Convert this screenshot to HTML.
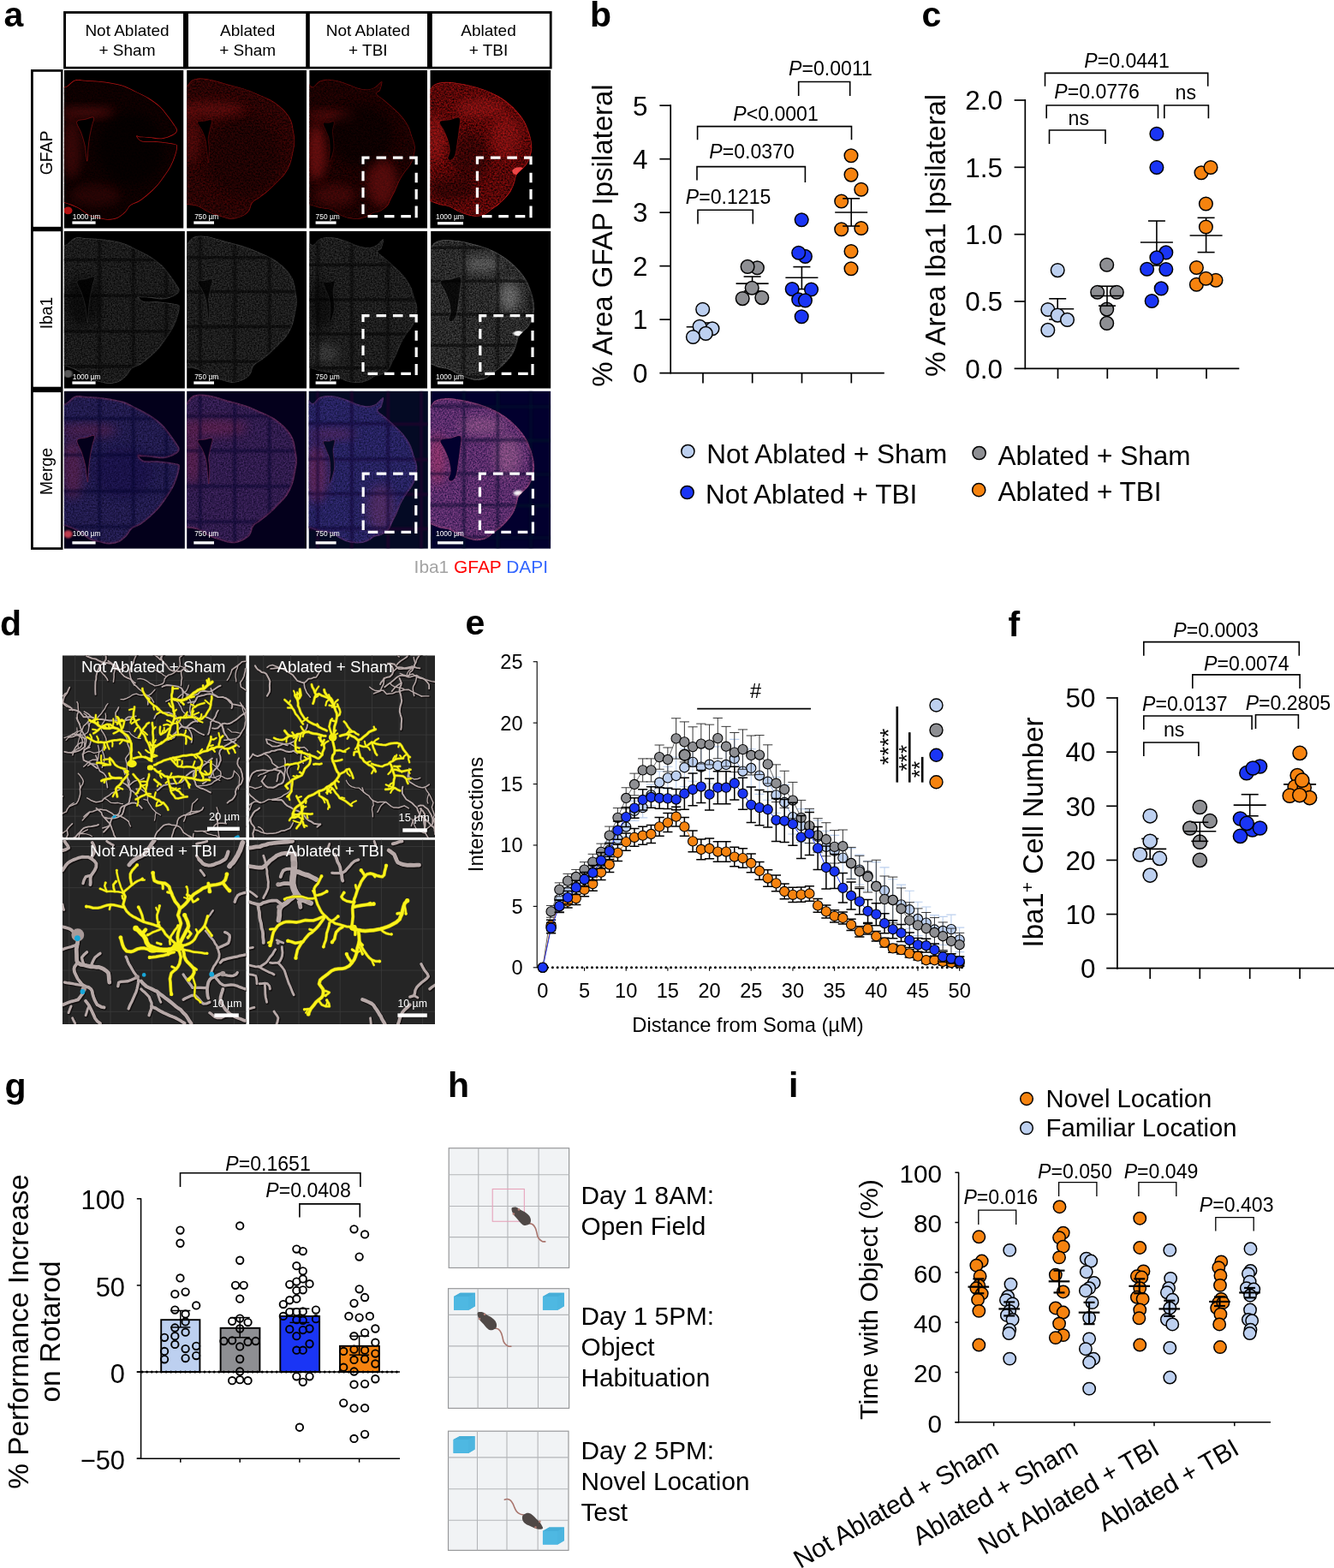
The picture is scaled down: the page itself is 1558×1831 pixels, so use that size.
<!DOCTYPE html>
<html lang="en"><head><meta charset="utf-8"><title>Figure</title>
<style>
html,body{margin:0;padding:0;background:#fff;}
body{width:1558px;height:1831px;overflow:hidden;}
svg{display:block;font-family:"Liberation Sans",sans-serif;}
</style></head><body>
<svg width="1558" height="1831" viewBox="0 0 1558 1831">
<rect width="1558" height="1831" fill="#fff"/>
<text x="689" y="30.5" font-size="41" text-anchor="start" fill="#000" font-weight="bold" >b</text>
<line x1="783.2" y1="122.2" x2="783.2" y2="436.6" stroke="#000" stroke-width="1.7" />
<line x1="770.4" y1="435.6" x2="1032.8" y2="435.6" stroke="#000" stroke-width="1.7" />
<line x1="770.4" y1="373.12" x2="783.2" y2="373.12" stroke="#000" stroke-width="1.7" />
<line x1="770.4" y1="310.64" x2="783.2" y2="310.64" stroke="#000" stroke-width="1.7" />
<line x1="770.4" y1="248.16" x2="783.2" y2="248.16" stroke="#000" stroke-width="1.7" />
<line x1="770.4" y1="185.68" x2="783.2" y2="185.68" stroke="#000" stroke-width="1.7" />
<line x1="770.4" y1="123.2" x2="783.2" y2="123.2" stroke="#000" stroke-width="1.7" />
<text x="756.5" y="446.9" font-size="31.4" text-anchor="end" fill="#000" >0</text>
<text x="756.5" y="384.42" font-size="31.4" text-anchor="end" fill="#000" >1</text>
<text x="756.5" y="321.94" font-size="31.4" text-anchor="end" fill="#000" >2</text>
<text x="756.5" y="259.46" font-size="31.4" text-anchor="end" fill="#000" >3</text>
<text x="756.5" y="196.98" font-size="31.4" text-anchor="end" fill="#000" >4</text>
<text x="756.5" y="134.5" font-size="31.4" text-anchor="end" fill="#000" >5</text>
<line x1="821" y1="435.6" x2="821" y2="447.4" stroke="#000" stroke-width="1.7" />
<line x1="878.7" y1="435.6" x2="878.7" y2="447.4" stroke="#000" stroke-width="1.7" />
<line x1="936.5" y1="435.6" x2="936.5" y2="447.4" stroke="#000" stroke-width="1.7" />
<line x1="994.3" y1="435.6" x2="994.3" y2="447.4" stroke="#000" stroke-width="1.7" />
<text x="714.5" y="275" font-size="33" text-anchor="middle" fill="#000" transform="rotate(-90 714.5 275)" >% Area GFAP Ipsilateral</text>
<path d="M815 261.4V245.2H879.3V261.4" stroke="#000" stroke-width="1.6" fill="none" />
<text y="237.5" font-size="23.1" x="850.6" text-anchor="middle"><tspan font-style="italic">P</tspan>=0.1215</text>
<path d="M814 210.5V194.6H940.4V213" stroke="#000" stroke-width="1.6" fill="none" />
<text y="185.4" font-size="23.1" x="878" text-anchor="middle"><tspan font-style="italic">P</tspan>=0.0370</text>
<path d="M814.6 163.3V147.6H994.5V163.3" stroke="#000" stroke-width="1.6" fill="none" />
<text y="140.7" font-size="23.1" x="906" text-anchor="middle"><tspan font-style="italic">P</tspan>&lt;0.0001</text>
<path d="M932.7 112V95.5H992.7V112" stroke="#000" stroke-width="1.6" fill="none" />
<text y="88" font-size="23.1" x="970" text-anchor="middle"><tspan font-style="italic">P</tspan>=0.0011</text>
<line x1="801.7" y1="381.7" x2="839.7" y2="381.7" stroke="#000" stroke-width="1.6" />
<line x1="820.7" y1="377" x2="820.7" y2="386.5" stroke="#000" stroke-width="1.6" />
<line x1="810.7" y1="377" x2="830.7" y2="377" stroke="#000" stroke-width="1.6" />
<line x1="810.7" y1="386.5" x2="830.7" y2="386.5" stroke="#000" stroke-width="1.6" />
<circle cx="820.7" cy="361.2" r="7.8" fill="#bdd0f0" stroke="#000" stroke-width="1.5" />
<circle cx="832" cy="383.8" r="7.8" fill="#bdd0f0" stroke="#000" stroke-width="1.5" />
<circle cx="817.1" cy="381.2" r="7.8" fill="#bdd0f0" stroke="#000" stroke-width="1.5" />
<circle cx="824.3" cy="389.4" r="7.8" fill="#bdd0f0" stroke="#000" stroke-width="1.5" />
<circle cx="809.4" cy="393.5" r="7.8" fill="#bdd0f0" stroke="#000" stroke-width="1.5" />
<line x1="859.6" y1="331.1" x2="897.6" y2="331.1" stroke="#000" stroke-width="1.6" />
<line x1="878.6" y1="323" x2="878.6" y2="340" stroke="#000" stroke-width="1.6" />
<line x1="868.6" y1="323" x2="888.6" y2="323" stroke="#000" stroke-width="1.6" />
<line x1="868.6" y1="340" x2="888.6" y2="340" stroke="#000" stroke-width="1.6" />
<circle cx="884.4" cy="312.7" r="7.8" fill="#8e8f93" stroke="#000" stroke-width="1.5" />
<circle cx="873.1" cy="311.4" r="7.8" fill="#8e8f93" stroke="#000" stroke-width="1.5" />
<circle cx="878.2" cy="336.3" r="7.8" fill="#8e8f93" stroke="#000" stroke-width="1.5" />
<circle cx="867.2" cy="348.6" r="7.8" fill="#8e8f93" stroke="#000" stroke-width="1.5" />
<circle cx="889.8" cy="347.6" r="7.8" fill="#8e8f93" stroke="#000" stroke-width="1.5" />
<line x1="917.4" y1="324.2" x2="955.4" y2="324.2" stroke="#000" stroke-width="1.6" />
<line x1="936.4" y1="311.6" x2="936.4" y2="337.6" stroke="#000" stroke-width="1.6" />
<line x1="926.4" y1="311.6" x2="946.4" y2="311.6" stroke="#000" stroke-width="1.6" />
<line x1="926.4" y1="337.6" x2="946.4" y2="337.6" stroke="#000" stroke-width="1.6" />
<circle cx="936.2" cy="256.7" r="7.8" fill="#1a35f5" stroke="#000" stroke-width="1.5" />
<circle cx="940.4" cy="299.4" r="7.8" fill="#1a35f5" stroke="#000" stroke-width="1.5" />
<circle cx="932.7" cy="295.3" r="7.8" fill="#1a35f5" stroke="#000" stroke-width="1.5" />
<circle cx="925.2" cy="337.6" r="7.8" fill="#1a35f5" stroke="#000" stroke-width="1.5" />
<circle cx="947.5" cy="338" r="7.8" fill="#1a35f5" stroke="#000" stroke-width="1.5" />
<circle cx="932.7" cy="349.9" r="7.8" fill="#1a35f5" stroke="#000" stroke-width="1.5" />
<circle cx="940.4" cy="350.9" r="7.8" fill="#1a35f5" stroke="#000" stroke-width="1.5" />
<circle cx="936.2" cy="369.7" r="7.8" fill="#1a35f5" stroke="#000" stroke-width="1.5" />
<circle cx="994" cy="181.8" r="7.8" fill="#f6830f" stroke="#000" stroke-width="1.5" />
<circle cx="994" cy="204.1" r="7.8" fill="#f6830f" stroke="#000" stroke-width="1.5" />
<circle cx="1005.8" cy="221.3" r="7.8" fill="#f6830f" stroke="#000" stroke-width="1.5" />
<circle cx="982.7" cy="235" r="7.8" fill="#f6830f" stroke="#000" stroke-width="1.5" />
<circle cx="982.7" cy="267.8" r="7.8" fill="#f6830f" stroke="#000" stroke-width="1.5" />
<circle cx="1005.8" cy="266.5" r="7.8" fill="#f6830f" stroke="#000" stroke-width="1.5" />
<circle cx="994" cy="293.5" r="7.8" fill="#f6830f" stroke="#000" stroke-width="1.5" />
<circle cx="994" cy="313.7" r="7.8" fill="#f6830f" stroke="#000" stroke-width="1.5" />
<line x1="975.2" y1="248" x2="1013.2" y2="248" stroke="#000" stroke-width="1.6" />
<line x1="994.2" y1="231.8" x2="994.2" y2="264" stroke="#000" stroke-width="1.6" />
<line x1="984.2" y1="231.8" x2="1004.2" y2="231.8" stroke="#000" stroke-width="1.6" />
<line x1="984.2" y1="264" x2="1004.2" y2="264" stroke="#000" stroke-width="1.6" />
<circle cx="803.4" cy="527" r="7.6" fill="#bdd0f0" stroke="#000" stroke-width="1.5" />
<text x="825.2" y="540.5" font-size="31.5" text-anchor="start" fill="#000" >Not Ablated + Sham</text>
<circle cx="802.6" cy="575" r="7.6" fill="#1a35f5" stroke="#000" stroke-width="1.5" />
<text x="824" y="587.8" font-size="31.5" text-anchor="start" fill="#000" >Not Ablated + TBI</text>
<circle cx="1143.6" cy="529" r="7.6" fill="#8e8f93" stroke="#000" stroke-width="1.5" />
<text x="1165.4" y="542.6" font-size="31.5" text-anchor="start" fill="#000" >Ablated + Sham</text>
<circle cx="1143.2" cy="572.2" r="7.6" fill="#f6830f" stroke="#000" stroke-width="1.5" />
<text x="1165.4" y="585.3" font-size="31.5" text-anchor="start" fill="#000" >Ablated + TBI</text>
<text x="1076.5" y="30.5" font-size="41" text-anchor="start" fill="#000" font-weight="bold" >c</text>
<line x1="1197.3" y1="116" x2="1197.3" y2="431.3" stroke="#000" stroke-width="1.7" />
<line x1="1184.6" y1="430.3" x2="1447.3" y2="430.3" stroke="#000" stroke-width="1.7" />
<line x1="1184.6" y1="351.98" x2="1197.3" y2="351.98" stroke="#000" stroke-width="1.7" />
<line x1="1184.6" y1="273.65" x2="1197.3" y2="273.65" stroke="#000" stroke-width="1.7" />
<line x1="1184.6" y1="195.32" x2="1197.3" y2="195.32" stroke="#000" stroke-width="1.7" />
<line x1="1184.6" y1="117" x2="1197.3" y2="117" stroke="#000" stroke-width="1.7" />
<text x="1171" y="441.6" font-size="31.4" text-anchor="end" fill="#000" >0.0</text>
<text x="1171" y="363.28" font-size="31.4" text-anchor="end" fill="#000" >0.5</text>
<text x="1171" y="284.95" font-size="31.4" text-anchor="end" fill="#000" >1.0</text>
<text x="1171" y="206.62" font-size="31.4" text-anchor="end" fill="#000" >1.5</text>
<text x="1171" y="128.3" font-size="31.4" text-anchor="end" fill="#000" >2.0</text>
<line x1="1235.5" y1="430.3" x2="1235.5" y2="442.2" stroke="#000" stroke-width="1.7" />
<line x1="1293.3" y1="430.3" x2="1293.3" y2="442.2" stroke="#000" stroke-width="1.7" />
<line x1="1351.2" y1="430.3" x2="1351.2" y2="442.2" stroke="#000" stroke-width="1.7" />
<line x1="1409" y1="430.3" x2="1409" y2="442.2" stroke="#000" stroke-width="1.7" />
<text x="1104" y="275" font-size="33" text-anchor="middle" fill="#000" transform="rotate(-90 1104 275)" >% Area Iba1 Ipsilateral</text>
<path d="M1220.5 100.7V85.4H1410.7V100.7" stroke="#000" stroke-width="1.6" fill="none" />
<text y="79" font-size="23.1" x="1316" text-anchor="middle"><tspan font-style="italic">P</tspan>=0.0441</text>
<path d="M1222.2 138.3V123H1352.5V138.3" stroke="#000" stroke-width="1.6" fill="none" />
<text y="114.7" font-size="23.1" x="1281" text-anchor="middle"><tspan font-style="italic">P</tspan>=0.0776</text>
<path d="M1359.8 138.3V123H1411.4V138.3" stroke="#000" stroke-width="1.6" fill="none" />
<text x="1384.8" y="116.4" font-size="23.1" text-anchor="middle" fill="#000" >ns</text>
<path d="M1225.5 168V152H1291V168" stroke="#000" stroke-width="1.6" fill="none" />
<text x="1259.8" y="145.6" font-size="23.1" text-anchor="middle" fill="#000" >ns</text>
<line x1="1216.2" y1="360.8" x2="1254.2" y2="360.8" stroke="#000" stroke-width="1.6" />
<line x1="1235.2" y1="348.8" x2="1235.2" y2="373" stroke="#000" stroke-width="1.6" />
<line x1="1225.2" y1="348.8" x2="1245.2" y2="348.8" stroke="#000" stroke-width="1.6" />
<line x1="1225.2" y1="373" x2="1245.2" y2="373" stroke="#000" stroke-width="1.6" />
<circle cx="1235.2" cy="315.6" r="7.8" fill="#bdd0f0" stroke="#000" stroke-width="1.5" />
<circle cx="1223.8" cy="361.5" r="7.8" fill="#bdd0f0" stroke="#000" stroke-width="1.5" />
<circle cx="1235.2" cy="368.1" r="7.8" fill="#bdd0f0" stroke="#000" stroke-width="1.5" />
<circle cx="1246.5" cy="373.4" r="7.8" fill="#bdd0f0" stroke="#000" stroke-width="1.5" />
<circle cx="1223.8" cy="385.4" r="7.8" fill="#bdd0f0" stroke="#000" stroke-width="1.5" />
<circle cx="1292.7" cy="309.3" r="7.8" fill="#8e8f93" stroke="#000" stroke-width="1.5" />
<circle cx="1281.7" cy="341.2" r="7.8" fill="#8e8f93" stroke="#000" stroke-width="1.5" />
<circle cx="1304.3" cy="341.2" r="7.8" fill="#8e8f93" stroke="#000" stroke-width="1.5" />
<circle cx="1292.7" cy="361.1" r="7.8" fill="#8e8f93" stroke="#000" stroke-width="1.5" />
<circle cx="1292.7" cy="377.4" r="7.8" fill="#8e8f93" stroke="#000" stroke-width="1.5" />
<line x1="1274" y1="345.5" x2="1312" y2="345.5" stroke="#000" stroke-width="1.6" />
<line x1="1293" y1="334.2" x2="1293" y2="357.1" stroke="#000" stroke-width="1.6" />
<line x1="1283" y1="334.2" x2="1303" y2="334.2" stroke="#000" stroke-width="1.6" />
<line x1="1283" y1="357.1" x2="1303" y2="357.1" stroke="#000" stroke-width="1.6" />
<line x1="1331.9" y1="283" x2="1369.9" y2="283" stroke="#000" stroke-width="1.6" />
<line x1="1350.9" y1="258" x2="1350.9" y2="310" stroke="#000" stroke-width="1.6" />
<line x1="1340.9" y1="258" x2="1360.9" y2="258" stroke="#000" stroke-width="1.6" />
<line x1="1340.9" y1="310" x2="1360.9" y2="310" stroke="#000" stroke-width="1.6" />
<circle cx="1350.9" cy="156.3" r="7.8" fill="#1a35f5" stroke="#000" stroke-width="1.5" />
<circle cx="1350.9" cy="195.5" r="7.8" fill="#1a35f5" stroke="#000" stroke-width="1.5" />
<circle cx="1361.8" cy="294.9" r="7.8" fill="#1a35f5" stroke="#000" stroke-width="1.5" />
<circle cx="1350.9" cy="300.9" r="7.8" fill="#1a35f5" stroke="#000" stroke-width="1.5" />
<circle cx="1339.6" cy="314.2" r="7.8" fill="#1a35f5" stroke="#000" stroke-width="1.5" />
<circle cx="1361.8" cy="314.5" r="7.8" fill="#1a35f5" stroke="#000" stroke-width="1.5" />
<circle cx="1356.2" cy="336.9" r="7.8" fill="#1a35f5" stroke="#000" stroke-width="1.5" />
<circle cx="1345.2" cy="351.5" r="7.8" fill="#1a35f5" stroke="#000" stroke-width="1.5" />
<line x1="1389.6" y1="275" x2="1427.6" y2="275" stroke="#000" stroke-width="1.6" />
<line x1="1408.6" y1="254.3" x2="1408.6" y2="294.6" stroke="#000" stroke-width="1.6" />
<line x1="1398.6" y1="254.3" x2="1418.6" y2="254.3" stroke="#000" stroke-width="1.6" />
<line x1="1398.6" y1="294.6" x2="1418.6" y2="294.6" stroke="#000" stroke-width="1.6" />
<circle cx="1403" cy="201.8" r="7.8" fill="#f6830f" stroke="#000" stroke-width="1.5" />
<circle cx="1414" cy="195.5" r="7.8" fill="#f6830f" stroke="#000" stroke-width="1.5" />
<circle cx="1408.4" cy="238" r="7.8" fill="#f6830f" stroke="#000" stroke-width="1.5" />
<circle cx="1408.4" cy="265" r="7.8" fill="#f6830f" stroke="#000" stroke-width="1.5" />
<circle cx="1397.4" cy="312.5" r="7.8" fill="#f6830f" stroke="#000" stroke-width="1.5" />
<circle cx="1397.4" cy="332.2" r="7.8" fill="#f6830f" stroke="#000" stroke-width="1.5" />
<circle cx="1420" cy="327.2" r="7.8" fill="#f6830f" stroke="#000" stroke-width="1.5" />
<circle cx="1408.4" cy="325.2" r="7.8" fill="#f6830f" stroke="#000" stroke-width="1.5" />
<text x="1177.5" y="742.5" font-size="41" text-anchor="start" fill="#000" font-weight="bold" >f</text>
<line x1="1304.9" y1="814" x2="1304.9" y2="1131.7" stroke="#000" stroke-width="1.7" />
<line x1="1292.2" y1="1130.7" x2="1558" y2="1130.7" stroke="#000" stroke-width="1.7" />
<line x1="1292.2" y1="1067.56" x2="1304.9" y2="1067.56" stroke="#000" stroke-width="1.7" />
<line x1="1292.2" y1="1004.42" x2="1304.9" y2="1004.42" stroke="#000" stroke-width="1.7" />
<line x1="1292.2" y1="941.28" x2="1304.9" y2="941.28" stroke="#000" stroke-width="1.7" />
<line x1="1292.2" y1="878.14" x2="1304.9" y2="878.14" stroke="#000" stroke-width="1.7" />
<line x1="1292.2" y1="815" x2="1304.9" y2="815" stroke="#000" stroke-width="1.7" />
<text x="1279.5" y="1142" font-size="31.4" text-anchor="end" fill="#000" >0</text>
<text x="1279.5" y="1078.86" font-size="31.4" text-anchor="end" fill="#000" >10</text>
<text x="1279.5" y="1015.72" font-size="31.4" text-anchor="end" fill="#000" >20</text>
<text x="1279.5" y="952.58" font-size="31.4" text-anchor="end" fill="#000" >30</text>
<text x="1279.5" y="889.44" font-size="31.4" text-anchor="end" fill="#000" >40</text>
<text x="1279.5" y="826.3" font-size="31.4" text-anchor="end" fill="#000" >50</text>
<line x1="1343.2" y1="1130.7" x2="1343.2" y2="1143" stroke="#000" stroke-width="1.7" />
<line x1="1401.3" y1="1130.7" x2="1401.3" y2="1143" stroke="#000" stroke-width="1.7" />
<line x1="1459.7" y1="1130.7" x2="1459.7" y2="1143" stroke="#000" stroke-width="1.7" />
<line x1="1518.1" y1="1130.7" x2="1518.1" y2="1143" stroke="#000" stroke-width="1.7" />
<text x="1218" y="972" font-size="33" text-anchor="middle" transform="rotate(-90 1218 972)">Iba1<tspan font-size="21" dy="-11">+</tspan><tspan dy="11"> Cell Number</tspan></text>
<path d="M1335.8 765.8V749.6H1517.3V765.8" stroke="#000" stroke-width="1.6" fill="none" />
<text y="744.2" font-size="23.1" x="1420" text-anchor="middle"><tspan font-style="italic">P</tspan>=0.0003</text>
<path d="M1392.8 804.1V787.9H1518.1V804.1" stroke="#000" stroke-width="1.6" fill="none" />
<text y="783.2" font-size="23.1" x="1455.8" text-anchor="middle"><tspan font-style="italic">P</tspan>=0.0074</text>
<path d="M1335.8 852V836H1462.1V852" stroke="#000" stroke-width="1.6" fill="none" />
<text y="830.4" font-size="23.1" x="1383.8" text-anchor="middle"><tspan font-style="italic">P</tspan>=0.0137</text>
<path d="M1466.5 851V834.8H1516.4V851" stroke="#000" stroke-width="1.6" fill="none" />
<text y="828.9" font-size="23.1" x="1504.4" text-anchor="middle"><tspan font-style="italic">P</tspan>=0.2805</text>
<path d="M1335.8 882.9V867H1399.9V882.9" stroke="#000" stroke-width="1.6" fill="none" />
<text x="1371.2" y="859.9" font-size="23.1" text-anchor="middle" fill="#000" >ns</text>
<line x1="1324.2" y1="991.4" x2="1362.2" y2="991.4" stroke="#000" stroke-width="1.6" />
<line x1="1343.2" y1="979.4" x2="1343.2" y2="1003.2" stroke="#000" stroke-width="1.6" />
<line x1="1333.2" y1="979.4" x2="1353.2" y2="979.4" stroke="#000" stroke-width="1.6" />
<line x1="1333.2" y1="1003.2" x2="1353.2" y2="1003.2" stroke="#000" stroke-width="1.6" />
<circle cx="1343.2" cy="952.8" r="8.1" fill="#bdd0f0" stroke="#000" stroke-width="1.5" />
<circle cx="1343.2" cy="982.3" r="8.1" fill="#bdd0f0" stroke="#000" stroke-width="1.5" />
<circle cx="1331.4" cy="997.9" r="8.1" fill="#bdd0f0" stroke="#000" stroke-width="1.5" />
<circle cx="1354.4" cy="1002.4" r="8.1" fill="#bdd0f0" stroke="#000" stroke-width="1.5" />
<circle cx="1343.2" cy="1022.1" r="8.1" fill="#bdd0f0" stroke="#000" stroke-width="1.5" />
<circle cx="1401.3" cy="942.5" r="8.1" fill="#8e8f93" stroke="#000" stroke-width="1.5" />
<circle cx="1413.1" cy="958.7" r="8.1" fill="#8e8f93" stroke="#000" stroke-width="1.5" />
<circle cx="1389.8" cy="967" r="8.1" fill="#8e8f93" stroke="#000" stroke-width="1.5" />
<circle cx="1401.3" cy="983.2" r="8.1" fill="#8e8f93" stroke="#000" stroke-width="1.5" />
<circle cx="1401.3" cy="1004.4" r="8.1" fill="#8e8f93" stroke="#000" stroke-width="1.5" />
<line x1="1382.3" y1="970.8" x2="1420.3" y2="970.8" stroke="#000" stroke-width="1.6" />
<line x1="1401.3" y1="960.2" x2="1401.3" y2="982.3" stroke="#000" stroke-width="1.6" />
<line x1="1391.3" y1="960.2" x2="1411.3" y2="960.2" stroke="#000" stroke-width="1.6" />
<line x1="1391.3" y1="982.3" x2="1411.3" y2="982.3" stroke="#000" stroke-width="1.6" />
<line x1="1440.7" y1="940.1" x2="1478.7" y2="940.1" stroke="#000" stroke-width="1.6" />
<line x1="1459.7" y1="927.7" x2="1459.7" y2="952.8" stroke="#000" stroke-width="1.6" />
<line x1="1449.7" y1="927.7" x2="1469.7" y2="927.7" stroke="#000" stroke-width="1.6" />
<line x1="1449.7" y1="952.8" x2="1469.7" y2="952.8" stroke="#000" stroke-width="1.6" />
<circle cx="1471.5" cy="895" r="8.1" fill="#1a35f5" stroke="#000" stroke-width="1.5" />
<circle cx="1455.9" cy="902.7" r="8.1" fill="#1a35f5" stroke="#000" stroke-width="1.5" />
<circle cx="1463.3" cy="897" r="8.1" fill="#1a35f5" stroke="#000" stroke-width="1.5" />
<circle cx="1448.5" cy="956" r="8.1" fill="#1a35f5" stroke="#000" stroke-width="1.5" />
<circle cx="1462.7" cy="969" r="8.1" fill="#1a35f5" stroke="#000" stroke-width="1.5" />
<circle cx="1471.5" cy="967" r="8.1" fill="#1a35f5" stroke="#000" stroke-width="1.5" />
<circle cx="1456.2" cy="961.4" r="8.1" fill="#1a35f5" stroke="#000" stroke-width="1.5" />
<circle cx="1448.5" cy="976.4" r="8.1" fill="#1a35f5" stroke="#000" stroke-width="1.5" />
<line x1="1499.1" y1="915.9" x2="1537.1" y2="915.9" stroke="#000" stroke-width="1.6" />
<line x1="1518.1" y1="911" x2="1518.1" y2="921" stroke="#000" stroke-width="1.6" />
<line x1="1508.1" y1="911" x2="1528.1" y2="911" stroke="#000" stroke-width="1.6" />
<line x1="1508.1" y1="921" x2="1528.1" y2="921" stroke="#000" stroke-width="1.6" />
<circle cx="1518.1" cy="879.4" r="8.1" fill="#f6830f" stroke="#000" stroke-width="1.5" />
<circle cx="1515.2" cy="905.6" r="8.1" fill="#f6830f" stroke="#000" stroke-width="1.5" />
<circle cx="1512.2" cy="918.9" r="8.1" fill="#f6830f" stroke="#000" stroke-width="1.5" />
<circle cx="1523.2" cy="919.8" r="8.1" fill="#f6830f" stroke="#000" stroke-width="1.5" />
<circle cx="1520.8" cy="911.2" r="8.1" fill="#f6830f" stroke="#000" stroke-width="1.5" />
<circle cx="1506.3" cy="929.2" r="8.1" fill="#f6830f" stroke="#000" stroke-width="1.5" />
<circle cx="1529.6" cy="931.6" r="8.1" fill="#f6830f" stroke="#000" stroke-width="1.5" />
<circle cx="1517.8" cy="928.6" r="8.1" fill="#f6830f" stroke="#000" stroke-width="1.5" />
<text x="543.5" y="741.2" font-size="41" text-anchor="start" fill="#000" font-weight="bold" >e</text>
<line x1="627.2" y1="772.2" x2="627.2" y2="1130.3" stroke="#000" stroke-width="1.1" />
<line x1="622.7" y1="1129.8" x2="627.2" y2="1129.8" stroke="#000" stroke-width="1.1" />
<text x="610.6" y="1138.2" font-size="23.6" text-anchor="end" fill="#000" >0</text>
<line x1="622.7" y1="1058.38" x2="627.2" y2="1058.38" stroke="#000" stroke-width="1.1" />
<text x="610.6" y="1066.78" font-size="23.6" text-anchor="end" fill="#000" >5</text>
<line x1="622.7" y1="986.96" x2="627.2" y2="986.96" stroke="#000" stroke-width="1.1" />
<text x="610.6" y="995.36" font-size="23.6" text-anchor="end" fill="#000" >10</text>
<line x1="622.7" y1="915.54" x2="627.2" y2="915.54" stroke="#000" stroke-width="1.1" />
<text x="610.6" y="923.94" font-size="23.6" text-anchor="end" fill="#000" >15</text>
<line x1="622.7" y1="844.12" x2="627.2" y2="844.12" stroke="#000" stroke-width="1.1" />
<text x="610.6" y="852.52" font-size="23.6" text-anchor="end" fill="#000" >20</text>
<line x1="622.7" y1="772.7" x2="627.2" y2="772.7" stroke="#000" stroke-width="1.1" />
<text x="610.6" y="781.1" font-size="23.6" text-anchor="end" fill="#000" >25</text>
<line x1="633.85" y1="1129.8" x2="1124.15" y2="1129.8" stroke="#000" stroke-width="3" stroke-dasharray="0.01 5.75" stroke-linecap="round"/>
<line x1="633.85" y1="1129.8" x2="633.85" y2="1133.8" stroke="#000" stroke-width="1.1" />
<text x="633.85" y="1164.8" font-size="23.6" text-anchor="middle" fill="#000" >0</text>
<line x1="682.53" y1="1129.8" x2="682.53" y2="1133.8" stroke="#000" stroke-width="1.1" />
<text x="682.53" y="1164.8" font-size="23.6" text-anchor="middle" fill="#000" >5</text>
<line x1="731.21" y1="1129.8" x2="731.21" y2="1133.8" stroke="#000" stroke-width="1.1" />
<text x="731.21" y="1164.8" font-size="23.6" text-anchor="middle" fill="#000" >10</text>
<line x1="779.89" y1="1129.8" x2="779.89" y2="1133.8" stroke="#000" stroke-width="1.1" />
<text x="779.89" y="1164.8" font-size="23.6" text-anchor="middle" fill="#000" >15</text>
<line x1="828.57" y1="1129.8" x2="828.57" y2="1133.8" stroke="#000" stroke-width="1.1" />
<text x="828.57" y="1164.8" font-size="23.6" text-anchor="middle" fill="#000" >20</text>
<line x1="877.25" y1="1129.8" x2="877.25" y2="1133.8" stroke="#000" stroke-width="1.1" />
<text x="877.25" y="1164.8" font-size="23.6" text-anchor="middle" fill="#000" >25</text>
<line x1="925.93" y1="1129.8" x2="925.93" y2="1133.8" stroke="#000" stroke-width="1.1" />
<text x="925.93" y="1164.8" font-size="23.6" text-anchor="middle" fill="#000" >30</text>
<line x1="974.61" y1="1129.8" x2="974.61" y2="1133.8" stroke="#000" stroke-width="1.1" />
<text x="974.61" y="1164.8" font-size="23.6" text-anchor="middle" fill="#000" >35</text>
<line x1="1023.29" y1="1129.8" x2="1023.29" y2="1133.8" stroke="#000" stroke-width="1.1" />
<text x="1023.29" y="1164.8" font-size="23.6" text-anchor="middle" fill="#000" >40</text>
<line x1="1071.97" y1="1129.8" x2="1071.97" y2="1133.8" stroke="#000" stroke-width="1.1" />
<text x="1071.97" y="1164.8" font-size="23.6" text-anchor="middle" fill="#000" >45</text>
<line x1="1120.65" y1="1129.8" x2="1120.65" y2="1133.8" stroke="#000" stroke-width="1.1" />
<text x="1120.65" y="1164.8" font-size="23.6" text-anchor="middle" fill="#000" >50</text>
<text x="873.5" y="1205.3" font-size="23.7" text-anchor="middle" fill="#000" >Distance from Soma (µM)</text>
<text x="564" y="951" font-size="23.7" text-anchor="middle" fill="#000" transform="rotate(-90 564 951)" >Intersections</text>
<text x="882.6" y="815" font-size="23.5" text-anchor="middle" fill="#000" >#</text>
<line x1="814.2" y1="827.6" x2="947" y2="827.6" stroke="#000" stroke-width="1.7" />
<path d="M633.85 1129.8 L643.59 1082.66 L653.32 1049.81 L663.06 1041.24 L672.79 1035.53 L682.53 1026.96 L692.27 1018.38 L702 1006.96 L711.74 992.67 L721.47 979.82 L731.21 965.53 L740.95 946.96 L750.68 943.11 L760.42 928.4 L770.15 913.68 L779.89 908.4 L789.63 905.83 L799.36 896.26 L809.1 889.83 L818.83 895.54 L828.57 892.69 L838.31 894.11 L848.04 892.97 L857.78 885.97 L867.51 900.54 L877.25 896.97 L886.99 905.54 L896.72 912.68 L906.46 928.4 L916.19 936.97 L925.93 954.11 L935.67 964.11 L945.4 965.53 L955.14 976.96 L964.87 988.82 L974.61 993.67 L984.35 1001.67 L994.08 1008.39 L1003.82 1015.53 L1013.55 1022.67 L1023.29 1034.67 L1033.03 1039.81 L1042.76 1051.24 L1052.5 1056.38 L1062.23 1062.24 L1071.97 1072.95 L1081.71 1077.66 L1091.44 1085.52 L1101.18 1086.95 L1110.91 1085.09 L1120.65 1097.38" stroke="#7f9fd8" stroke-width="1" fill="none" />
<path d="M643.59 1076.49V1088.83M637.99 1076.49h11.2M637.99 1088.83h11.2M653.32 1042.32V1057.29M647.72 1042.32h11.2M647.72 1057.29h11.2M663.06 1033.41V1049.07M657.46 1033.41h11.2M657.46 1049.07h11.2M672.79 1027.47V1043.58M667.19 1027.47h11.2M667.19 1043.58h11.2M682.53 1018.56V1035.35M676.93 1018.56h11.2M676.93 1035.35h11.2M692.27 1009.64V1027.13M686.67 1009.64h11.2M686.67 1027.13h11.2M702 997.76V1016.16M696.4 997.76h11.2M696.4 1016.16h11.2M711.74 982.9V1002.44M706.14 982.9h11.2M706.14 1002.44h11.2M721.47 969.53V990.1M715.87 969.53h11.2M715.87 990.1h11.2M731.21 954.68V976.39M725.61 954.68h11.2M725.61 976.39h11.2M740.95 935.37V958.56M735.35 935.37h11.2M735.35 958.56h11.2M750.68 931.36V954.86M745.08 931.36h11.2M745.08 954.86h11.2M760.42 916.05V940.74M754.82 916.05h11.2M754.82 940.74h11.2M770.15 900.75V926.61M764.55 900.75h11.2M764.55 926.61h11.2M779.89 895.26V921.54M774.29 895.26h11.2M774.29 921.54h11.2M789.63 884.01V927.64M784.03 884.01h11.2M784.03 927.64h11.2M799.36 874.06V918.45M793.76 874.06h11.2M793.76 918.45h11.2M809.1 867.37V912.28M803.5 867.37h11.2M803.5 912.28h11.2M818.83 873.32V917.77M813.23 873.32h11.2M813.23 917.77h11.2M828.57 870.35V915.03M822.97 870.35h11.2M822.97 915.03h11.2M838.31 871.83V916.4M832.71 871.83h11.2M832.71 916.4h11.2M848.04 870.64V915.3M842.44 870.64h11.2M842.44 915.3h11.2M857.78 863.36V908.58M852.18 863.36h11.2M852.18 908.58h11.2M867.51 878.52V922.57M861.91 878.52h11.2M861.91 922.57h11.2M877.25 874.8V919.14M871.65 874.8h11.2M871.65 919.14h11.2M886.99 883.72V927.37M881.39 883.72h11.2M881.39 927.37h11.2M896.72 891.14V934.22M891.12 891.14h11.2M891.12 934.22h11.2M906.46 907.48V949.31M900.86 907.48h11.2M900.86 949.31h11.2M916.19 916.4V957.53M910.59 916.4h11.2M910.59 957.53h11.2M925.93 934.22V973.99M920.33 934.22h11.2M920.33 973.99h11.2M935.67 944.62V983.59M930.07 944.62h11.2M930.07 983.59h11.2M945.4 946.11V984.96M939.8 946.11h11.2M939.8 984.96h11.2M955.14 957.99V995.93M949.54 957.99h11.2M949.54 995.93h11.2M964.87 970.32V1007.31M959.27 970.32h11.2M959.27 1007.31h11.2M974.61 975.37V1011.97M969.01 975.37h11.2M969.01 1011.97h11.2M984.35 983.69V1019.65M978.75 983.69h11.2M978.75 1019.65h11.2M994.08 990.67V1026.1M988.48 990.67h11.2M988.48 1026.1h11.2M1003.82 998.1V1032.95M998.22 998.1h11.2M998.22 1032.95h11.2M1013.55 1005.53V1039.81M1007.95 1005.53h11.2M1007.95 1039.81h11.2M1023.29 1006.6V1062.74M1017.69 1006.6h11.2M1017.69 1062.74h11.2M1033.03 1012.87V1066.75M1027.43 1012.87h11.2M1027.43 1066.75h11.2M1042.76 1026.81V1075.66M1037.16 1026.81h11.2M1037.16 1075.66h11.2M1052.5 1033.09V1079.67M1046.9 1033.09h11.2M1046.9 1079.67h11.2M1062.23 1040.23V1084.24M1056.63 1040.23h11.2M1056.63 1084.24h11.2M1071.97 1053.3V1092.6M1066.37 1053.3h11.2M1066.37 1092.6h11.2M1081.71 1059.05V1096.28M1076.11 1059.05h11.2M1076.11 1096.28h11.2M1091.44 1068.64V1102.4M1085.84 1068.64h11.2M1085.84 1102.4h11.2M1101.18 1070.38V1103.52M1095.58 1070.38h11.2M1095.58 1103.52h11.2M1110.91 1068.11V1102.07M1105.31 1068.11h11.2M1105.31 1102.07h11.2M1120.65 1083.1V1111.65M1115.05 1083.1h11.2M1115.05 1111.65h11.2" stroke="#bcd0ee" stroke-width="1.1" fill="none" />
<circle cx="633.85" cy="1129.8" r="5.6" fill="#bdd0f0" stroke="#000" stroke-width="1.1" />
<circle cx="643.59" cy="1082.66" r="5.6" fill="#bdd0f0" stroke="#000" stroke-width="1.1" />
<circle cx="653.32" cy="1049.81" r="5.6" fill="#bdd0f0" stroke="#000" stroke-width="1.1" />
<circle cx="663.06" cy="1041.24" r="5.6" fill="#bdd0f0" stroke="#000" stroke-width="1.1" />
<circle cx="672.79" cy="1035.53" r="5.6" fill="#bdd0f0" stroke="#000" stroke-width="1.1" />
<circle cx="682.53" cy="1026.96" r="5.6" fill="#bdd0f0" stroke="#000" stroke-width="1.1" />
<circle cx="692.27" cy="1018.38" r="5.6" fill="#bdd0f0" stroke="#000" stroke-width="1.1" />
<circle cx="702" cy="1006.96" r="5.6" fill="#bdd0f0" stroke="#000" stroke-width="1.1" />
<circle cx="711.74" cy="992.67" r="5.6" fill="#bdd0f0" stroke="#000" stroke-width="1.1" />
<circle cx="721.47" cy="979.82" r="5.6" fill="#bdd0f0" stroke="#000" stroke-width="1.1" />
<circle cx="731.21" cy="965.53" r="5.6" fill="#bdd0f0" stroke="#000" stroke-width="1.1" />
<circle cx="740.95" cy="946.96" r="5.6" fill="#bdd0f0" stroke="#000" stroke-width="1.1" />
<circle cx="750.68" cy="943.11" r="5.6" fill="#bdd0f0" stroke="#000" stroke-width="1.1" />
<circle cx="760.42" cy="928.4" r="5.6" fill="#bdd0f0" stroke="#000" stroke-width="1.1" />
<circle cx="770.15" cy="913.68" r="5.6" fill="#bdd0f0" stroke="#000" stroke-width="1.1" />
<circle cx="779.89" cy="908.4" r="5.6" fill="#bdd0f0" stroke="#000" stroke-width="1.1" />
<circle cx="789.63" cy="905.83" r="5.6" fill="#bdd0f0" stroke="#000" stroke-width="1.1" />
<circle cx="799.36" cy="896.26" r="5.6" fill="#bdd0f0" stroke="#000" stroke-width="1.1" />
<circle cx="809.1" cy="889.83" r="5.6" fill="#bdd0f0" stroke="#000" stroke-width="1.1" />
<circle cx="818.83" cy="895.54" r="5.6" fill="#bdd0f0" stroke="#000" stroke-width="1.1" />
<circle cx="828.57" cy="892.69" r="5.6" fill="#bdd0f0" stroke="#000" stroke-width="1.1" />
<circle cx="838.31" cy="894.11" r="5.6" fill="#bdd0f0" stroke="#000" stroke-width="1.1" />
<circle cx="848.04" cy="892.97" r="5.6" fill="#bdd0f0" stroke="#000" stroke-width="1.1" />
<circle cx="857.78" cy="885.97" r="5.6" fill="#bdd0f0" stroke="#000" stroke-width="1.1" />
<circle cx="867.51" cy="900.54" r="5.6" fill="#bdd0f0" stroke="#000" stroke-width="1.1" />
<circle cx="877.25" cy="896.97" r="5.6" fill="#bdd0f0" stroke="#000" stroke-width="1.1" />
<circle cx="886.99" cy="905.54" r="5.6" fill="#bdd0f0" stroke="#000" stroke-width="1.1" />
<circle cx="896.72" cy="912.68" r="5.6" fill="#bdd0f0" stroke="#000" stroke-width="1.1" />
<circle cx="906.46" cy="928.4" r="5.6" fill="#bdd0f0" stroke="#000" stroke-width="1.1" />
<circle cx="916.19" cy="936.97" r="5.6" fill="#bdd0f0" stroke="#000" stroke-width="1.1" />
<circle cx="925.93" cy="954.11" r="5.6" fill="#bdd0f0" stroke="#000" stroke-width="1.1" />
<circle cx="935.67" cy="964.11" r="5.6" fill="#bdd0f0" stroke="#000" stroke-width="1.1" />
<circle cx="945.4" cy="965.53" r="5.6" fill="#bdd0f0" stroke="#000" stroke-width="1.1" />
<circle cx="955.14" cy="976.96" r="5.6" fill="#bdd0f0" stroke="#000" stroke-width="1.1" />
<circle cx="964.87" cy="988.82" r="5.6" fill="#bdd0f0" stroke="#000" stroke-width="1.1" />
<circle cx="974.61" cy="993.67" r="5.6" fill="#bdd0f0" stroke="#000" stroke-width="1.1" />
<circle cx="984.35" cy="1001.67" r="5.6" fill="#bdd0f0" stroke="#000" stroke-width="1.1" />
<circle cx="994.08" cy="1008.39" r="5.6" fill="#bdd0f0" stroke="#000" stroke-width="1.1" />
<circle cx="1003.82" cy="1015.53" r="5.6" fill="#bdd0f0" stroke="#000" stroke-width="1.1" />
<circle cx="1013.55" cy="1022.67" r="5.6" fill="#bdd0f0" stroke="#000" stroke-width="1.1" />
<circle cx="1023.29" cy="1034.67" r="5.6" fill="#bdd0f0" stroke="#000" stroke-width="1.1" />
<circle cx="1033.03" cy="1039.81" r="5.6" fill="#bdd0f0" stroke="#000" stroke-width="1.1" />
<circle cx="1042.76" cy="1051.24" r="5.6" fill="#bdd0f0" stroke="#000" stroke-width="1.1" />
<circle cx="1052.5" cy="1056.38" r="5.6" fill="#bdd0f0" stroke="#000" stroke-width="1.1" />
<circle cx="1062.23" cy="1062.24" r="5.6" fill="#bdd0f0" stroke="#000" stroke-width="1.1" />
<circle cx="1071.97" cy="1072.95" r="5.6" fill="#bdd0f0" stroke="#000" stroke-width="1.1" />
<circle cx="1081.71" cy="1077.66" r="5.6" fill="#bdd0f0" stroke="#000" stroke-width="1.1" />
<circle cx="1091.44" cy="1085.52" r="5.6" fill="#bdd0f0" stroke="#000" stroke-width="1.1" />
<circle cx="1101.18" cy="1086.95" r="5.6" fill="#bdd0f0" stroke="#000" stroke-width="1.1" />
<circle cx="1110.91" cy="1085.09" r="5.6" fill="#bdd0f0" stroke="#000" stroke-width="1.1" />
<circle cx="1120.65" cy="1097.38" r="5.6" fill="#bdd0f0" stroke="#000" stroke-width="1.1" />
<path d="M633.85 1129.8 L643.59 1064.38 L653.32 1038.81 L663.06 1028.67 L672.79 1023.96 L682.53 1015.53 L692.27 1006.53 L702 994.82 L711.74 975.53 L721.47 954.82 L731.21 931.97 L740.95 915.97 L750.68 899.4 L760.42 899.4 L770.15 884.12 L779.89 886.97 L789.63 862.4 L799.36 866.4 L809.1 872.12 L818.83 868.55 L828.57 869.55 L838.31 862.12 L848.04 871.69 L857.78 878.54 L867.51 875.12 L877.25 881.97 L886.99 881.54 L896.72 892.4 L906.46 914.68 L916.19 921.82 L925.93 934.54 L935.67 954.82 L945.4 964.39 L955.14 975.39 L964.87 980.25 L974.61 988.82 L984.35 988.25 L994.08 1007.96 L1003.82 1017.53 L1013.55 1023.96 L1023.29 1035.1 L1033.03 1050.1 L1042.76 1050.95 L1052.5 1061.24 L1062.23 1074.66 L1071.97 1080.38 L1081.71 1084.09 L1091.44 1088.95 L1101.18 1093.23 L1110.91 1098.95 L1120.65 1103.23" stroke="#666" stroke-width="1" fill="none" />
<path d="M643.59 1057.48V1071.28M637.99 1057.48h11.2M637.99 1071.28h11.2M653.32 1030.89V1046.74M647.72 1030.89h11.2M647.72 1046.74h11.2M663.06 1020.34V1037M657.46 1020.34h11.2M657.46 1037h11.2M672.79 1015.44V1032.47M667.19 1015.44h11.2M667.19 1032.47h11.2M682.53 1006.67V1024.38M676.93 1006.67h11.2M676.93 1024.38h11.2M692.27 997.31V1015.75M686.67 997.31h11.2M686.67 1015.75h11.2M702 985.13V1004.5M696.4 985.13h11.2M696.4 1004.5h11.2M711.74 965.08V985.99M706.14 965.08h11.2M706.14 985.99h11.2M721.47 943.54V966.11M715.87 943.54h11.2M715.87 966.11h11.2M731.21 919.77V944.17M725.61 919.77h11.2M725.61 944.17h11.2M740.95 903.13V928.81M735.35 903.13h11.2M735.35 928.81h11.2M750.68 885.9V912.9M745.08 885.9h11.2M745.08 912.9h11.2M760.42 885.9V912.9M754.82 885.9h11.2M754.82 912.9h11.2M770.15 870V898.23M764.55 870h11.2M764.55 898.23h11.2M779.89 872.97V900.97M774.29 872.97h11.2M774.29 900.97h11.2M789.63 838.76V886.05M784.03 838.76h11.2M784.03 886.05h11.2M799.36 842.9V889.91M793.76 842.9h11.2M793.76 889.91h11.2M809.1 848.81V895.42M803.5 848.81h11.2M803.5 895.42h11.2M818.83 845.12V891.97M813.23 845.12h11.2M813.23 891.97h11.2M828.57 846.15V892.94M822.97 846.15h11.2M822.97 892.94h11.2M838.31 838.46V885.77M832.71 838.46h11.2M832.71 885.77h11.2M848.04 848.37V895.01M842.44 848.37h11.2M842.44 895.01h11.2M857.78 855.47V901.62M852.18 855.47h11.2M852.18 901.62h11.2M867.51 851.92V898.31M861.91 851.92h11.2M861.91 898.31h11.2M877.25 859.01V904.93M871.65 859.01h11.2M871.65 904.93h11.2M886.99 858.57V904.52M881.39 858.57h11.2M881.39 904.52h11.2M896.72 869.81V914.99M891.12 869.81h11.2M891.12 914.99h11.2M906.46 892.87V936.5M900.86 892.87h11.2M900.86 936.5h11.2M916.19 900.26V943.39M910.59 900.26h11.2M910.59 943.39h11.2M925.93 913.42V955.66M920.33 913.42h11.2M920.33 955.66h11.2M935.67 934.41V975.23M930.07 934.41h11.2M930.07 975.23h11.2M945.4 944.32V984.46M939.8 944.32h11.2M939.8 984.46h11.2M955.14 955.7V995.08M949.54 955.7h11.2M949.54 995.08h11.2M964.87 960.73V999.76M959.27 960.73h11.2M959.27 999.76h11.2M974.61 969.6V1008.04M969.01 969.6h11.2M969.01 1008.04h11.2M984.35 969.01V1007.48M978.75 969.01h11.2M978.75 1007.48h11.2M994.08 989.41V1026.51M988.48 989.41h11.2M988.48 1026.51h11.2M1003.82 999.31V1035.74M998.22 999.31h11.2M998.22 1035.74h11.2M1013.55 1005.97V1041.94M1007.95 1005.97h11.2M1007.95 1041.94h11.2M1023.29 1004.28V1065.91M1017.69 1004.28h11.2M1017.69 1065.91h11.2M1033.03 1023.03V1077.16M1027.43 1023.03h11.2M1027.43 1077.16h11.2M1042.76 1024.1V1077.81M1037.16 1024.1h11.2M1037.16 1077.81h11.2M1052.5 1036.95V1085.52M1046.9 1036.95h11.2M1046.9 1085.52h11.2M1062.23 1053.74V1095.59M1056.63 1053.74h11.2M1056.63 1095.59h11.2M1071.97 1060.88V1099.88M1066.37 1060.88h11.2M1066.37 1099.88h11.2M1081.71 1065.52V1102.66M1076.11 1065.52h11.2M1076.11 1102.66h11.2M1091.44 1071.59V1106.3M1085.84 1071.59h11.2M1085.84 1106.3h11.2M1101.18 1076.95V1109.52M1095.58 1076.95h11.2M1095.58 1109.52h11.2M1110.91 1084.09V1113.8M1105.31 1084.09h11.2M1105.31 1113.8h11.2M1120.65 1089.45V1117.02M1115.05 1089.45h11.2M1115.05 1117.02h11.2" stroke="#222" stroke-width="0.9" fill="none" />
<circle cx="633.85" cy="1129.8" r="5.6" fill="#8e8f93" stroke="#000" stroke-width="1.1" />
<circle cx="643.59" cy="1064.38" r="5.6" fill="#8e8f93" stroke="#000" stroke-width="1.1" />
<circle cx="653.32" cy="1038.81" r="5.6" fill="#8e8f93" stroke="#000" stroke-width="1.1" />
<circle cx="663.06" cy="1028.67" r="5.6" fill="#8e8f93" stroke="#000" stroke-width="1.1" />
<circle cx="672.79" cy="1023.96" r="5.6" fill="#8e8f93" stroke="#000" stroke-width="1.1" />
<circle cx="682.53" cy="1015.53" r="5.6" fill="#8e8f93" stroke="#000" stroke-width="1.1" />
<circle cx="692.27" cy="1006.53" r="5.6" fill="#8e8f93" stroke="#000" stroke-width="1.1" />
<circle cx="702" cy="994.82" r="5.6" fill="#8e8f93" stroke="#000" stroke-width="1.1" />
<circle cx="711.74" cy="975.53" r="5.6" fill="#8e8f93" stroke="#000" stroke-width="1.1" />
<circle cx="721.47" cy="954.82" r="5.6" fill="#8e8f93" stroke="#000" stroke-width="1.1" />
<circle cx="731.21" cy="931.97" r="5.6" fill="#8e8f93" stroke="#000" stroke-width="1.1" />
<circle cx="740.95" cy="915.97" r="5.6" fill="#8e8f93" stroke="#000" stroke-width="1.1" />
<circle cx="750.68" cy="899.4" r="5.6" fill="#8e8f93" stroke="#000" stroke-width="1.1" />
<circle cx="760.42" cy="899.4" r="5.6" fill="#8e8f93" stroke="#000" stroke-width="1.1" />
<circle cx="770.15" cy="884.12" r="5.6" fill="#8e8f93" stroke="#000" stroke-width="1.1" />
<circle cx="779.89" cy="886.97" r="5.6" fill="#8e8f93" stroke="#000" stroke-width="1.1" />
<circle cx="789.63" cy="862.4" r="5.6" fill="#8e8f93" stroke="#000" stroke-width="1.1" />
<circle cx="799.36" cy="866.4" r="5.6" fill="#8e8f93" stroke="#000" stroke-width="1.1" />
<circle cx="809.1" cy="872.12" r="5.6" fill="#8e8f93" stroke="#000" stroke-width="1.1" />
<circle cx="818.83" cy="868.55" r="5.6" fill="#8e8f93" stroke="#000" stroke-width="1.1" />
<circle cx="828.57" cy="869.55" r="5.6" fill="#8e8f93" stroke="#000" stroke-width="1.1" />
<circle cx="838.31" cy="862.12" r="5.6" fill="#8e8f93" stroke="#000" stroke-width="1.1" />
<circle cx="848.04" cy="871.69" r="5.6" fill="#8e8f93" stroke="#000" stroke-width="1.1" />
<circle cx="857.78" cy="878.54" r="5.6" fill="#8e8f93" stroke="#000" stroke-width="1.1" />
<circle cx="867.51" cy="875.12" r="5.6" fill="#8e8f93" stroke="#000" stroke-width="1.1" />
<circle cx="877.25" cy="881.97" r="5.6" fill="#8e8f93" stroke="#000" stroke-width="1.1" />
<circle cx="886.99" cy="881.54" r="5.6" fill="#8e8f93" stroke="#000" stroke-width="1.1" />
<circle cx="896.72" cy="892.4" r="5.6" fill="#8e8f93" stroke="#000" stroke-width="1.1" />
<circle cx="906.46" cy="914.68" r="5.6" fill="#8e8f93" stroke="#000" stroke-width="1.1" />
<circle cx="916.19" cy="921.82" r="5.6" fill="#8e8f93" stroke="#000" stroke-width="1.1" />
<circle cx="925.93" cy="934.54" r="5.6" fill="#8e8f93" stroke="#000" stroke-width="1.1" />
<circle cx="935.67" cy="954.82" r="5.6" fill="#8e8f93" stroke="#000" stroke-width="1.1" />
<circle cx="945.4" cy="964.39" r="5.6" fill="#8e8f93" stroke="#000" stroke-width="1.1" />
<circle cx="955.14" cy="975.39" r="5.6" fill="#8e8f93" stroke="#000" stroke-width="1.1" />
<circle cx="964.87" cy="980.25" r="5.6" fill="#8e8f93" stroke="#000" stroke-width="1.1" />
<circle cx="974.61" cy="988.82" r="5.6" fill="#8e8f93" stroke="#000" stroke-width="1.1" />
<circle cx="984.35" cy="988.25" r="5.6" fill="#8e8f93" stroke="#000" stroke-width="1.1" />
<circle cx="994.08" cy="1007.96" r="5.6" fill="#8e8f93" stroke="#000" stroke-width="1.1" />
<circle cx="1003.82" cy="1017.53" r="5.6" fill="#8e8f93" stroke="#000" stroke-width="1.1" />
<circle cx="1013.55" cy="1023.96" r="5.6" fill="#8e8f93" stroke="#000" stroke-width="1.1" />
<circle cx="1023.29" cy="1035.1" r="5.6" fill="#8e8f93" stroke="#000" stroke-width="1.1" />
<circle cx="1033.03" cy="1050.1" r="5.6" fill="#8e8f93" stroke="#000" stroke-width="1.1" />
<circle cx="1042.76" cy="1050.95" r="5.6" fill="#8e8f93" stroke="#000" stroke-width="1.1" />
<circle cx="1052.5" cy="1061.24" r="5.6" fill="#8e8f93" stroke="#000" stroke-width="1.1" />
<circle cx="1062.23" cy="1074.66" r="5.6" fill="#8e8f93" stroke="#000" stroke-width="1.1" />
<circle cx="1071.97" cy="1080.38" r="5.6" fill="#8e8f93" stroke="#000" stroke-width="1.1" />
<circle cx="1081.71" cy="1084.09" r="5.6" fill="#8e8f93" stroke="#000" stroke-width="1.1" />
<circle cx="1091.44" cy="1088.95" r="5.6" fill="#8e8f93" stroke="#000" stroke-width="1.1" />
<circle cx="1101.18" cy="1093.23" r="5.6" fill="#8e8f93" stroke="#000" stroke-width="1.1" />
<circle cx="1110.91" cy="1098.95" r="5.6" fill="#8e8f93" stroke="#000" stroke-width="1.1" />
<circle cx="1120.65" cy="1103.23" r="5.6" fill="#8e8f93" stroke="#000" stroke-width="1.1" />
<circle cx="799.66" cy="881.69" r="6.4" fill="#8e8f93" stroke="#000" stroke-width="1.6" />
<path d="M633.85 1129.8 L643.59 1080.52 L653.32 1058.38 L663.06 1052.67 L672.79 1049.1 L682.53 1038.81 L692.27 1032.1 L702 1018.67 L711.74 1009.53 L721.47 995.82 L731.21 983.1 L740.95 977.82 L750.68 975.68 L760.42 973.96 L770.15 965.39 L779.89 960.53 L789.63 953.68 L799.36 965.39 L809.1 982.39 L818.83 991.96 L828.57 990.96 L838.31 994.53 L848.04 994.53 L857.78 1000.53 L867.51 1002.1 L877.25 1007.96 L886.99 1016.96 L896.72 1025.53 L906.46 1031.38 L916.19 1040.95 L925.93 1044.81 L935.67 1044.67 L945.4 1043.52 L955.14 1057.38 L964.87 1064.38 L974.61 1069.81 L984.35 1071.95 L994.08 1079.81 L1003.82 1087.81 L1013.55 1084.66 L1023.29 1093.23 L1033.03 1100.66 L1042.76 1107.37 L1052.5 1109.09 L1062.23 1113.37 L1071.97 1116.66 L1081.71 1121.23 L1091.44 1121.23 L1101.18 1122.94 L1110.91 1124.09 L1120.65 1124.51" stroke="#f6830f" stroke-width="1" fill="none" />
<path d="M643.59 1074.26V1086.78M637.99 1074.26h11.2M637.99 1086.78h11.2M653.32 1051.24V1065.52M647.72 1051.24h11.2M647.72 1065.52h11.2M663.06 1045.3V1060.04M657.46 1045.3h11.2M657.46 1060.04h11.2M672.79 1041.58V1056.61M667.19 1041.58h11.2M667.19 1056.61h11.2M682.53 1030.89V1046.74M676.93 1030.89h11.2M676.93 1046.74h11.2M692.27 1023.9V1040.29M686.67 1023.9h11.2M686.67 1040.29h11.2M702 1009.94V1027.4M696.4 1009.94h11.2M696.4 1027.4h11.2M711.74 1000.43V1018.62M706.14 1000.43h11.2M706.14 1018.62h11.2M721.47 986.17V1005.46M715.87 986.17h11.2M715.87 1005.46h11.2M731.21 972.95V993.26M725.61 972.95h11.2M725.61 993.26h11.2M740.95 967.45V988.18M735.35 967.45h11.2M735.35 988.18h11.2M750.68 965.23V986.13M745.08 965.23h11.2M745.08 986.13h11.2M760.42 963.44V984.48M754.82 963.44h11.2M754.82 984.48h11.2M770.15 954.53V976.25M764.55 954.53h11.2M764.55 976.25h11.2M779.89 949.48V971.59M774.29 949.48h11.2M774.29 971.59h11.2M789.63 942.35V965.01M784.03 942.35h11.2M784.03 965.01h11.2M799.36 954.53V976.25M793.76 954.53h11.2M793.76 976.25h11.2M809.1 969.97V994.8M803.5 969.97h11.2M803.5 994.8h11.2M818.83 980.12V1003.8M813.23 980.12h11.2M813.23 1003.8h11.2M828.57 979.06V1002.86M822.97 979.06h11.2M822.97 1002.86h11.2M838.31 982.84V1006.22M832.71 982.84h11.2M832.71 1006.22h11.2M848.04 982.84V1006.22M842.44 982.84h11.2M842.44 1006.22h11.2M857.78 989.2V1011.86M852.18 989.2h11.2M852.18 1011.86h11.2M867.51 990.87V1013.33M861.91 990.87h11.2M861.91 1013.33h11.2M877.25 997.08V1018.84M871.65 997.08h11.2M871.65 1018.84h11.2M886.99 1006.61V1027.3M881.39 1006.61h11.2M881.39 1027.3h11.2M896.72 1015.7V1035.35M891.12 1015.7h11.2M891.12 1035.35h11.2M906.46 1021.91V1040.86M900.86 1021.91h11.2M900.86 1040.86h11.2M916.19 1032.05V1049.86M910.59 1032.05h11.2M910.59 1049.86h11.2M925.93 1036.14V1053.48M920.33 1036.14h11.2M920.33 1053.48h11.2M935.67 1035.99V1053.35M930.07 1035.99h11.2M930.07 1053.35h11.2M945.4 1034.78V1052.27M939.8 1034.78h11.2M939.8 1052.27h11.2M955.14 1049.46V1065.3M949.54 1049.46h11.2M949.54 1065.3h11.2M964.87 1056.88V1071.88M959.27 1056.88h11.2M959.27 1071.88h11.2M974.61 1062.64V1076.98M969.01 1062.64h11.2M969.01 1076.98h11.2M984.35 1064.91V1078.99M978.75 1064.91h11.2M978.75 1078.99h11.2M994.08 1073.24V1086.38M988.48 1073.24h11.2M988.48 1086.38h11.2M1003.82 1081.71V1093.9M998.22 1081.71h11.2M998.22 1093.9h11.2M1013.55 1078.38V1090.94M1007.95 1078.38h11.2M1007.95 1090.94h11.2M1023.29 1087.47V1099M1017.69 1087.47h11.2M1017.69 1099h11.2M1033.03 1095.34V1105.98M1027.43 1095.34h11.2M1027.43 1105.98h11.2M1042.76 1102.46V1112.29M1037.16 1102.46h11.2M1037.16 1112.29h11.2M1052.5 1104.27V1113.9M1046.9 1104.27h11.2M1046.9 1113.9h11.2M1062.23 1108.82V1117.93M1056.63 1108.82h11.2M1056.63 1117.93h11.2M1071.97 1112.3V1121.02M1066.37 1112.3h11.2M1066.37 1121.02h11.2M1081.71 1117.14V1125.31M1076.11 1117.14h11.2M1076.11 1125.31h11.2M1091.44 1117.14V1125.31M1085.84 1117.14h11.2M1085.84 1125.31h11.2M1101.18 1118.96V1126.93M1095.58 1118.96h11.2M1095.58 1126.93h11.2M1110.91 1120.17V1128M1105.31 1120.17h11.2M1105.31 1128h11.2M1120.65 1120.63V1128.4M1115.05 1120.63h11.2M1115.05 1128.4h11.2" stroke="#000" stroke-width="1.5" fill="none" />
<circle cx="633.85" cy="1129.8" r="5.6" fill="#f6830f" stroke="#000" stroke-width="1.1" />
<circle cx="643.59" cy="1080.52" r="5.6" fill="#f6830f" stroke="#000" stroke-width="1.1" />
<circle cx="653.32" cy="1058.38" r="5.6" fill="#f6830f" stroke="#000" stroke-width="1.1" />
<circle cx="663.06" cy="1052.67" r="5.6" fill="#f6830f" stroke="#000" stroke-width="1.1" />
<circle cx="672.79" cy="1049.1" r="5.6" fill="#f6830f" stroke="#000" stroke-width="1.1" />
<circle cx="682.53" cy="1038.81" r="5.6" fill="#f6830f" stroke="#000" stroke-width="1.1" />
<circle cx="692.27" cy="1032.1" r="5.6" fill="#f6830f" stroke="#000" stroke-width="1.1" />
<circle cx="702" cy="1018.67" r="5.6" fill="#f6830f" stroke="#000" stroke-width="1.1" />
<circle cx="711.74" cy="1009.53" r="5.6" fill="#f6830f" stroke="#000" stroke-width="1.1" />
<circle cx="721.47" cy="995.82" r="5.6" fill="#f6830f" stroke="#000" stroke-width="1.1" />
<circle cx="731.21" cy="983.1" r="5.6" fill="#f6830f" stroke="#000" stroke-width="1.1" />
<circle cx="740.95" cy="977.82" r="5.6" fill="#f6830f" stroke="#000" stroke-width="1.1" />
<circle cx="750.68" cy="975.68" r="5.6" fill="#f6830f" stroke="#000" stroke-width="1.1" />
<circle cx="760.42" cy="973.96" r="5.6" fill="#f6830f" stroke="#000" stroke-width="1.1" />
<circle cx="770.15" cy="965.39" r="5.6" fill="#f6830f" stroke="#000" stroke-width="1.1" />
<circle cx="779.89" cy="960.53" r="5.6" fill="#f6830f" stroke="#000" stroke-width="1.1" />
<circle cx="789.63" cy="953.68" r="5.6" fill="#f6830f" stroke="#000" stroke-width="1.1" />
<circle cx="799.36" cy="965.39" r="5.6" fill="#f6830f" stroke="#000" stroke-width="1.1" />
<circle cx="809.1" cy="982.39" r="5.6" fill="#f6830f" stroke="#000" stroke-width="1.1" />
<circle cx="818.83" cy="991.96" r="5.6" fill="#f6830f" stroke="#000" stroke-width="1.1" />
<circle cx="828.57" cy="990.96" r="5.6" fill="#f6830f" stroke="#000" stroke-width="1.1" />
<circle cx="838.31" cy="994.53" r="5.6" fill="#f6830f" stroke="#000" stroke-width="1.1" />
<circle cx="848.04" cy="994.53" r="5.6" fill="#f6830f" stroke="#000" stroke-width="1.1" />
<circle cx="857.78" cy="1000.53" r="5.6" fill="#f6830f" stroke="#000" stroke-width="1.1" />
<circle cx="867.51" cy="1002.1" r="5.6" fill="#f6830f" stroke="#000" stroke-width="1.1" />
<circle cx="877.25" cy="1007.96" r="5.6" fill="#f6830f" stroke="#000" stroke-width="1.1" />
<circle cx="886.99" cy="1016.96" r="5.6" fill="#f6830f" stroke="#000" stroke-width="1.1" />
<circle cx="896.72" cy="1025.53" r="5.6" fill="#f6830f" stroke="#000" stroke-width="1.1" />
<circle cx="906.46" cy="1031.38" r="5.6" fill="#f6830f" stroke="#000" stroke-width="1.1" />
<circle cx="916.19" cy="1040.95" r="5.6" fill="#f6830f" stroke="#000" stroke-width="1.1" />
<circle cx="925.93" cy="1044.81" r="5.6" fill="#f6830f" stroke="#000" stroke-width="1.1" />
<circle cx="935.67" cy="1044.67" r="5.6" fill="#f6830f" stroke="#000" stroke-width="1.1" />
<circle cx="945.4" cy="1043.52" r="5.6" fill="#f6830f" stroke="#000" stroke-width="1.1" />
<circle cx="955.14" cy="1057.38" r="5.6" fill="#f6830f" stroke="#000" stroke-width="1.1" />
<circle cx="964.87" cy="1064.38" r="5.6" fill="#f6830f" stroke="#000" stroke-width="1.1" />
<circle cx="974.61" cy="1069.81" r="5.6" fill="#f6830f" stroke="#000" stroke-width="1.1" />
<circle cx="984.35" cy="1071.95" r="5.6" fill="#f6830f" stroke="#000" stroke-width="1.1" />
<circle cx="994.08" cy="1079.81" r="5.6" fill="#f6830f" stroke="#000" stroke-width="1.1" />
<circle cx="1003.82" cy="1087.81" r="5.6" fill="#f6830f" stroke="#000" stroke-width="1.1" />
<circle cx="1013.55" cy="1084.66" r="5.6" fill="#f6830f" stroke="#000" stroke-width="1.1" />
<circle cx="1023.29" cy="1093.23" r="5.6" fill="#f6830f" stroke="#000" stroke-width="1.1" />
<circle cx="1033.03" cy="1100.66" r="5.6" fill="#f6830f" stroke="#000" stroke-width="1.1" />
<circle cx="1042.76" cy="1107.37" r="5.6" fill="#f6830f" stroke="#000" stroke-width="1.1" />
<circle cx="1052.5" cy="1109.09" r="5.6" fill="#f6830f" stroke="#000" stroke-width="1.1" />
<circle cx="1062.23" cy="1113.37" r="5.6" fill="#f6830f" stroke="#000" stroke-width="1.1" />
<circle cx="1071.97" cy="1116.66" r="5.6" fill="#f6830f" stroke="#000" stroke-width="1.1" />
<circle cx="1081.71" cy="1121.23" r="5.6" fill="#f6830f" stroke="#000" stroke-width="1.1" />
<circle cx="1091.44" cy="1121.23" r="5.6" fill="#f6830f" stroke="#000" stroke-width="1.1" />
<circle cx="1101.18" cy="1122.94" r="5.6" fill="#f6830f" stroke="#000" stroke-width="1.1" />
<circle cx="1110.91" cy="1124.09" r="5.6" fill="#f6830f" stroke="#000" stroke-width="1.1" />
<circle cx="1120.65" cy="1124.51" r="5.6" fill="#f6830f" stroke="#000" stroke-width="1.1" />
<path d="M633.85 1129.8 L643.59 1083.66 L653.32 1058.09 L663.06 1048.1 L672.79 1036.38 L682.53 1026.81 L692.27 1019.24 L702 1004.81 L711.74 994.1 L721.47 969.68 L731.21 954.11 L740.95 943.54 L750.68 933.97 L760.42 930.97 L770.15 931.97 L779.89 932.4 L789.63 933.54 L799.36 926.68 L809.1 921.82 L818.83 918.54 L828.57 927.68 L838.31 919.68 L848.04 919.68 L857.78 914.68 L867.51 926.68 L877.25 939.82 L886.99 943.11 L896.72 945.25 L906.46 957.53 L916.19 958.53 L925.93 962.25 L935.67 977.53 L945.4 973.53 L955.14 990.39 L964.87 1012.96 L974.61 1017.53 L984.35 1036.81 L994.08 1045.95 L1003.82 1052.67 L1013.55 1063.95 L1023.29 1067.66 L1033.03 1078.23 L1042.76 1085.23 L1052.5 1089.52 L1062.23 1097.8 L1071.97 1103.37 L1081.71 1104.23 L1091.44 1109.09 L1101.18 1117.23 L1110.91 1119.37 L1120.65 1122.37" stroke="#1a35f5" stroke-width="1" fill="none" />
<path d="M643.59 1077.53V1089.79M637.99 1077.53h11.2M637.99 1089.79h11.2M653.32 1050.94V1065.25M647.72 1050.94h11.2M647.72 1065.25h11.2M663.06 1040.54V1055.65M657.46 1040.54h11.2M657.46 1055.65h11.2M672.79 1028.36V1044.4M667.19 1028.36h11.2M667.19 1044.4h11.2M682.53 1018.41V1035.22M676.93 1018.41h11.2M676.93 1035.22h11.2M692.27 1010.53V1027.95M686.67 1010.53h11.2M686.67 1027.95h11.2M702 995.53V1014.1M696.4 995.53h11.2M696.4 1014.1h11.2M711.74 984.39V1003.82M706.14 984.39h11.2M706.14 1003.82h11.2M721.47 958.99V980.37M715.87 958.99h11.2M715.87 980.37h11.2M731.21 942.79V965.42M725.61 942.79h11.2M725.61 965.42h11.2M740.95 931.8V955.27M735.35 931.8h11.2M735.35 955.27h11.2M750.68 921.85V946.08M745.08 921.85h11.2M745.08 946.08h11.2M760.42 918.73V943.21M754.82 918.73h11.2M754.82 943.21h11.2M770.15 919.77V944.17M764.55 919.77h11.2M764.55 944.17h11.2M779.89 920.21V944.58M774.29 920.21h11.2M774.29 944.58h11.2M789.63 921.4V945.67M784.03 921.4h11.2M784.03 945.67h11.2M799.36 908.18V945.19M793.76 908.18h11.2M793.76 945.19h11.2M809.1 902.98V940.67M803.5 902.98h11.2M803.5 940.67h11.2M818.83 899.47V937.61M813.23 899.47h11.2M813.23 937.61h11.2M828.57 909.25V946.11M822.97 909.25h11.2M822.97 946.11h11.2M838.31 900.69V938.68M832.71 900.69h11.2M832.71 938.68h11.2M848.04 900.69V938.68M842.44 900.69h11.2M842.44 938.68h11.2M857.78 895.34V934.03M852.18 895.34h11.2M852.18 934.03h11.2M867.51 908.18V945.19M861.91 908.18h11.2M861.91 945.19h11.2M877.25 919.11V960.53M871.65 919.11h11.2M871.65 960.53h11.2M886.99 922.4V963.82M881.39 922.4h11.2M881.39 963.82h11.2M896.72 924.54V965.96M891.12 924.54h11.2M891.12 965.96h11.2M906.46 932.54V982.53M900.86 932.54h11.2M900.86 982.53h11.2M916.19 933.54V983.53M910.59 933.54h11.2M910.59 983.53h11.2M925.93 937.25V987.25M920.33 937.25h11.2M920.33 987.25h11.2M935.67 952.54V1002.53M930.07 952.54h11.2M930.07 1002.53h11.2M945.4 948.54V998.53M939.8 948.54h11.2M939.8 998.53h11.2M955.14 965.39V1015.39M949.54 965.39h11.2M949.54 1015.39h11.2M964.87 987.96V1037.95M959.27 987.96h11.2M959.27 1037.95h11.2M974.61 997.52V1037.53M969.01 997.52h11.2M969.01 1037.53h11.2M984.35 1019.51V1054.11M978.75 1019.51h11.2M978.75 1054.11h11.2M994.08 1029.93V1061.98M988.48 1029.93h11.2M988.48 1061.98h11.2M1003.82 1037.58V1067.75M998.22 1037.58h11.2M998.22 1067.75h11.2M1013.55 1050.45V1077.45M1007.95 1050.45h11.2M1007.95 1077.45h11.2M1023.29 1054.68V1080.65M1017.69 1054.68h11.2M1017.69 1080.65h11.2M1033.03 1066.73V1089.74M1027.43 1066.73h11.2M1027.43 1089.74h11.2M1042.76 1074.71V1095.76M1037.16 1074.71h11.2M1037.16 1095.76h11.2M1052.5 1079.59V1099.44M1046.9 1079.59h11.2M1046.9 1099.44h11.2M1062.23 1089.04V1106.57M1056.63 1089.04h11.2M1056.63 1106.57h11.2M1071.97 1095.39V1111.36M1066.37 1095.39h11.2M1066.37 1111.36h11.2M1081.71 1096.37V1112.1M1076.11 1096.37h11.2M1076.11 1112.1h11.2M1091.44 1101.9V1116.27M1085.84 1101.9h11.2M1085.84 1116.27h11.2M1101.18 1111.19V1123.28M1095.58 1111.19h11.2M1095.58 1123.28h11.2M1110.91 1113.63V1125.12M1105.31 1113.63h11.2M1105.31 1125.12h11.2M1120.65 1117.05V1127.7M1115.05 1117.05h11.2M1115.05 1127.7h11.2" stroke="#000" stroke-width="1.5" fill="none" />
<circle cx="633.85" cy="1129.8" r="5.6" fill="#1a35f5" stroke="#000" stroke-width="1.1" />
<circle cx="643.59" cy="1083.66" r="5.6" fill="#1a35f5" stroke="#000" stroke-width="1.1" />
<circle cx="653.32" cy="1058.09" r="5.6" fill="#1a35f5" stroke="#000" stroke-width="1.1" />
<circle cx="663.06" cy="1048.1" r="5.6" fill="#1a35f5" stroke="#000" stroke-width="1.1" />
<circle cx="672.79" cy="1036.38" r="5.6" fill="#1a35f5" stroke="#000" stroke-width="1.1" />
<circle cx="682.53" cy="1026.81" r="5.6" fill="#1a35f5" stroke="#000" stroke-width="1.1" />
<circle cx="692.27" cy="1019.24" r="5.6" fill="#1a35f5" stroke="#000" stroke-width="1.1" />
<circle cx="702" cy="1004.81" r="5.6" fill="#1a35f5" stroke="#000" stroke-width="1.1" />
<circle cx="711.74" cy="994.1" r="5.6" fill="#1a35f5" stroke="#000" stroke-width="1.1" />
<circle cx="721.47" cy="969.68" r="5.6" fill="#1a35f5" stroke="#000" stroke-width="1.1" />
<circle cx="731.21" cy="954.11" r="5.6" fill="#1a35f5" stroke="#000" stroke-width="1.1" />
<circle cx="740.95" cy="943.54" r="5.6" fill="#1a35f5" stroke="#000" stroke-width="1.1" />
<circle cx="750.68" cy="933.97" r="5.6" fill="#1a35f5" stroke="#000" stroke-width="1.1" />
<circle cx="760.42" cy="930.97" r="5.6" fill="#1a35f5" stroke="#000" stroke-width="1.1" />
<circle cx="770.15" cy="931.97" r="5.6" fill="#1a35f5" stroke="#000" stroke-width="1.1" />
<circle cx="779.89" cy="932.4" r="5.6" fill="#1a35f5" stroke="#000" stroke-width="1.1" />
<circle cx="789.63" cy="933.54" r="5.6" fill="#1a35f5" stroke="#000" stroke-width="1.1" />
<circle cx="799.36" cy="926.68" r="5.6" fill="#1a35f5" stroke="#000" stroke-width="1.1" />
<circle cx="809.1" cy="921.82" r="5.6" fill="#1a35f5" stroke="#000" stroke-width="1.1" />
<circle cx="818.83" cy="918.54" r="5.6" fill="#1a35f5" stroke="#000" stroke-width="1.1" />
<circle cx="828.57" cy="927.68" r="5.6" fill="#1a35f5" stroke="#000" stroke-width="1.1" />
<circle cx="838.31" cy="919.68" r="5.6" fill="#1a35f5" stroke="#000" stroke-width="1.1" />
<circle cx="848.04" cy="919.68" r="5.6" fill="#1a35f5" stroke="#000" stroke-width="1.1" />
<circle cx="857.78" cy="914.68" r="5.6" fill="#1a35f5" stroke="#000" stroke-width="1.1" />
<circle cx="867.51" cy="926.68" r="5.6" fill="#1a35f5" stroke="#000" stroke-width="1.1" />
<circle cx="877.25" cy="939.82" r="5.6" fill="#1a35f5" stroke="#000" stroke-width="1.1" />
<circle cx="886.99" cy="943.11" r="5.6" fill="#1a35f5" stroke="#000" stroke-width="1.1" />
<circle cx="896.72" cy="945.25" r="5.6" fill="#1a35f5" stroke="#000" stroke-width="1.1" />
<circle cx="906.46" cy="957.53" r="5.6" fill="#1a35f5" stroke="#000" stroke-width="1.1" />
<circle cx="916.19" cy="958.53" r="5.6" fill="#1a35f5" stroke="#000" stroke-width="1.1" />
<circle cx="925.93" cy="962.25" r="5.6" fill="#1a35f5" stroke="#000" stroke-width="1.1" />
<circle cx="935.67" cy="977.53" r="5.6" fill="#1a35f5" stroke="#000" stroke-width="1.1" />
<circle cx="945.4" cy="973.53" r="5.6" fill="#1a35f5" stroke="#000" stroke-width="1.1" />
<circle cx="955.14" cy="990.39" r="5.6" fill="#1a35f5" stroke="#000" stroke-width="1.1" />
<circle cx="964.87" cy="1012.96" r="5.6" fill="#1a35f5" stroke="#000" stroke-width="1.1" />
<circle cx="974.61" cy="1017.53" r="5.6" fill="#1a35f5" stroke="#000" stroke-width="1.1" />
<circle cx="984.35" cy="1036.81" r="5.6" fill="#1a35f5" stroke="#000" stroke-width="1.1" />
<circle cx="994.08" cy="1045.95" r="5.6" fill="#1a35f5" stroke="#000" stroke-width="1.1" />
<circle cx="1003.82" cy="1052.67" r="5.6" fill="#1a35f5" stroke="#000" stroke-width="1.1" />
<circle cx="1013.55" cy="1063.95" r="5.6" fill="#1a35f5" stroke="#000" stroke-width="1.1" />
<circle cx="1023.29" cy="1067.66" r="5.6" fill="#1a35f5" stroke="#000" stroke-width="1.1" />
<circle cx="1033.03" cy="1078.23" r="5.6" fill="#1a35f5" stroke="#000" stroke-width="1.1" />
<circle cx="1042.76" cy="1085.23" r="5.6" fill="#1a35f5" stroke="#000" stroke-width="1.1" />
<circle cx="1052.5" cy="1089.52" r="5.6" fill="#1a35f5" stroke="#000" stroke-width="1.1" />
<circle cx="1062.23" cy="1097.8" r="5.6" fill="#1a35f5" stroke="#000" stroke-width="1.1" />
<circle cx="1071.97" cy="1103.37" r="5.6" fill="#1a35f5" stroke="#000" stroke-width="1.1" />
<circle cx="1081.71" cy="1104.23" r="5.6" fill="#1a35f5" stroke="#000" stroke-width="1.1" />
<circle cx="1091.44" cy="1109.09" r="5.6" fill="#1a35f5" stroke="#000" stroke-width="1.1" />
<circle cx="1101.18" cy="1117.23" r="5.6" fill="#1a35f5" stroke="#000" stroke-width="1.1" />
<circle cx="1110.91" cy="1119.37" r="5.6" fill="#1a35f5" stroke="#000" stroke-width="1.1" />
<circle cx="1120.65" cy="1122.37" r="5.6" fill="#1a35f5" stroke="#000" stroke-width="1.1" />
<circle cx="1093.5" cy="823.5" r="7.5" fill="#bdd0f0" stroke="#000" stroke-width="1.4" />
<circle cx="1093.5" cy="852.6" r="7.5" fill="#8e8f93" stroke="#000" stroke-width="1.4" />
<circle cx="1093.5" cy="881.8" r="7.5" fill="#1a35f5" stroke="#000" stroke-width="1.4" />
<circle cx="1093.5" cy="913.3" r="7.5" fill="#f6830f" stroke="#000" stroke-width="1.4" />
<line x1="1047.8" y1="825" x2="1047.8" y2="913.6" stroke="#000" stroke-width="2.6" />
<line x1="1062.3" y1="855.2" x2="1062.3" y2="913.6" stroke="#000" stroke-width="2.6" />
<line x1="1077.2" y1="883.9" x2="1077.2" y2="913.6" stroke="#000" stroke-width="2.6" />
<text x="1046.6" y="871.8" font-size="27.4" text-anchor="middle" fill="#000" transform="rotate(-90 1046.6 871.8)" >****</text>
<text x="1068.5" y="885.1" font-size="26.4" text-anchor="middle" fill="#000" transform="rotate(-90 1068.5 885.1)" >***</text>
<text x="1082.6" y="898.6" font-size="25" text-anchor="middle" fill="#000" transform="rotate(-90 1082.6 898.6)" >**</text>
<text x="5.5" y="1281.5" font-size="41" text-anchor="start" fill="#000" font-weight="bold" >g</text>
<rect x="188.2" y="1541.2" width="45.2" height="60.87" fill="#bdd0f0" stroke="#000" stroke-width="1.9" />
<rect x="257.6" y="1550.8" width="45.8" height="51.27" fill="#8e8f93" stroke="#000" stroke-width="1.9" />
<rect x="327.3" y="1537" width="45.8" height="65.07" fill="#1a35f5" stroke="#000" stroke-width="1.9" />
<rect x="397" y="1571.8" width="45.9" height="30.27" fill="#f6830f" stroke="#000" stroke-width="1.9" />
<line x1="164.6" y1="1399.3" x2="164.6" y2="1703.9" stroke="#000" stroke-width="1.5" />
<line x1="159.8" y1="1703.2" x2="467" y2="1703.2" stroke="#000" stroke-width="1.5" />
<line x1="159.8" y1="1399.8" x2="164.6" y2="1399.8" stroke="#000" stroke-width="1.5" />
<text x="146" y="1412.4" font-size="30.8" text-anchor="end" fill="#000" >100</text>
<line x1="159.8" y1="1500.93" x2="164.6" y2="1500.93" stroke="#000" stroke-width="1.5" />
<text x="146" y="1513.53" font-size="30.8" text-anchor="end" fill="#000" >50</text>
<line x1="159.8" y1="1602.07" x2="164.6" y2="1602.07" stroke="#000" stroke-width="1.5" />
<text x="146" y="1614.67" font-size="30.8" text-anchor="end" fill="#000" >0</text>
<line x1="159.8" y1="1703.2" x2="164.6" y2="1703.2" stroke="#000" stroke-width="1.5" />
<text x="146" y="1715.8" font-size="30.8" text-anchor="end" fill="#000" >−50</text>
<line x1="210.8" y1="1703.2" x2="210.8" y2="1707.7" stroke="#000" stroke-width="1.5" />
<line x1="280.2" y1="1703.2" x2="280.2" y2="1707.7" stroke="#000" stroke-width="1.5" />
<line x1="349.9" y1="1703.2" x2="349.9" y2="1707.7" stroke="#000" stroke-width="1.5" />
<line x1="419.6" y1="1703.2" x2="419.6" y2="1707.7" stroke="#000" stroke-width="1.5" />
<line x1="159.8" y1="1602.07" x2="467" y2="1602.07" stroke="#000" stroke-width="1.5" />
<line x1="166" y1="1602.07" x2="467" y2="1602.07" stroke="#000" stroke-width="3" stroke-dasharray="0.01 5.6" stroke-linecap="round"/>
<text x="32.5" y="1555" font-size="33.4" text-anchor="middle" fill="#000" transform="rotate(-90 32.5 1555)" >% Performance Increase</text>
<text x="70" y="1555" font-size="33.4" text-anchor="middle" fill="#000" transform="rotate(-90 70 1555)" >on Rotarod</text>
<path d="M210.5 1385.9V1369.8H420.9V1385.9" stroke="#000" stroke-width="1.6" fill="none" />
<text y="1366.5" font-size="23.1" x="313" text-anchor="middle"><tspan font-style="italic">P</tspan>=0.1651</text>
<path d="M349.9 1421.4V1405.9H420.3V1421.4" stroke="#000" stroke-width="1.6" fill="none" />
<text y="1398.2" font-size="23.1" x="360" text-anchor="middle"><tspan font-style="italic">P</tspan>=0.0408</text>
<line x1="210.8" y1="1530.5" x2="210.8" y2="1549.9" stroke="#000" stroke-width="1.5" />
<line x1="199.3" y1="1530.5" x2="222.3" y2="1530.5" stroke="#000" stroke-width="1.5" />
<line x1="199.3" y1="1549.9" x2="222.3" y2="1549.9" stroke="#000" stroke-width="1.5" />
<line x1="280.2" y1="1538.6" x2="280.2" y2="1561.8" stroke="#000" stroke-width="1.5" />
<line x1="268.7" y1="1538.6" x2="291.7" y2="1538.6" stroke="#000" stroke-width="1.5" />
<line x1="268.7" y1="1561.8" x2="291.7" y2="1561.8" stroke="#000" stroke-width="1.5" />
<line x1="349.9" y1="1528.2" x2="349.9" y2="1544.4" stroke="#000" stroke-width="1.5" />
<line x1="338.4" y1="1528.2" x2="361.4" y2="1528.2" stroke="#000" stroke-width="1.5" />
<line x1="338.4" y1="1544.4" x2="361.4" y2="1544.4" stroke="#000" stroke-width="1.5" />
<line x1="419.6" y1="1560.2" x2="419.6" y2="1582.2" stroke="#000" stroke-width="1.5" />
<line x1="408.1" y1="1560.2" x2="431.1" y2="1560.2" stroke="#000" stroke-width="1.5" />
<line x1="408.1" y1="1582.2" x2="431.1" y2="1582.2" stroke="#000" stroke-width="1.5" />
<g fill="none" stroke="#000" stroke-width="1.9"><circle cx="210.46" cy="1436.58" r="4.2"/><circle cx="210.46" cy="1451.75" r="4.2"/><circle cx="210.46" cy="1492.42" r="4.2"/><circle cx="204.33" cy="1511.14" r="4.2"/><circle cx="216.59" cy="1508.56" r="4.2"/><circle cx="229.18" cy="1524.38" r="4.2"/><circle cx="204.33" cy="1529.54" r="4.2"/><circle cx="216.59" cy="1534.38" r="4.2"/><circle cx="216.59" cy="1543.42" r="4.2"/><circle cx="204.33" cy="1550.52" r="4.2"/><circle cx="216.59" cy="1555.69" r="4.2"/><circle cx="192.06" cy="1561.82" r="4.2"/><circle cx="204.33" cy="1560.21" r="4.2"/><circle cx="204.33" cy="1569.89" r="4.2"/><circle cx="229.18" cy="1571.83" r="4.2"/><circle cx="216.59" cy="1575.05" r="4.2"/><circle cx="192.06" cy="1577.96" r="4.2"/><circle cx="229.18" cy="1583.12" r="4.2"/><circle cx="216.59" cy="1586.03" r="4.2"/><circle cx="192.06" cy="1587.32" r="4.2"/><circle cx="280.18" cy="1431.41" r="4.2"/><circle cx="280.18" cy="1471.76" r="4.2"/><circle cx="275.02" cy="1500.81" r="4.2"/><circle cx="284.7" cy="1500.81" r="4.2"/><circle cx="280.18" cy="1516.63" r="4.2"/><circle cx="280.18" cy="1539.55" r="4.2"/><circle cx="271.14" cy="1542.78" r="4.2"/><circle cx="289.54" cy="1544.07" r="4.2"/><circle cx="280.18" cy="1551.49" r="4.2"/><circle cx="261.46" cy="1566.02" r="4.2"/><circle cx="271.14" cy="1565.37" r="4.2"/><circle cx="289.54" cy="1566.99" r="4.2"/><circle cx="298.58" cy="1566.02" r="4.2"/><circle cx="280.18" cy="1572.47" r="4.2"/><circle cx="280.18" cy="1587" r="4.2"/><circle cx="280.18" cy="1601.52" r="4.2"/><circle cx="271.14" cy="1612.18" r="4.2"/><circle cx="280.18" cy="1611.21" r="4.2"/><circle cx="289.54" cy="1612.18" r="4.2"/><circle cx="346.35" cy="1458.53" r="4.2"/><circle cx="353.78" cy="1461.11" r="4.2"/><circle cx="346.35" cy="1478.22" r="4.2"/><circle cx="353.78" cy="1484.35" r="4.2"/><circle cx="346.35" cy="1496.62" r="4.2"/><circle cx="353.78" cy="1493.39" r="4.2"/><circle cx="338.28" cy="1499.85" r="4.2"/><circle cx="361.52" cy="1499.2" r="4.2"/><circle cx="346.35" cy="1506.95" r="4.2"/><circle cx="353.78" cy="1506.3" r="4.2"/><circle cx="338.28" cy="1518.24" r="4.2"/><circle cx="346.35" cy="1516.63" r="4.2"/><circle cx="330.86" cy="1523.09" r="4.2"/><circle cx="338.28" cy="1532.12" r="4.2"/><circle cx="346.35" cy="1532.12" r="4.2"/><circle cx="353.78" cy="1531.48" r="4.2"/><circle cx="368.95" cy="1529.54" r="4.2"/><circle cx="330.86" cy="1536.97" r="4.2"/><circle cx="346.35" cy="1541.16" r="4.2"/><circle cx="353.78" cy="1541.81" r="4.2"/><circle cx="368.95" cy="1540.19" r="4.2"/><circle cx="338.28" cy="1552.14" r="4.2"/><circle cx="353.78" cy="1553.11" r="4.2"/><circle cx="361.52" cy="1551.49" r="4.2"/><circle cx="346.35" cy="1560.21" r="4.2"/><circle cx="361.52" cy="1569.24" r="4.2"/><circle cx="346.35" cy="1576.67" r="4.2"/><circle cx="353.78" cy="1576.67" r="4.2"/><circle cx="346.35" cy="1607.33" r="4.2"/><circle cx="361.52" cy="1607.33" r="4.2"/><circle cx="353.78" cy="1613.79" r="4.2"/><circle cx="349.9" cy="1666.73" r="4.2"/><circle cx="413.49" cy="1435.29" r="4.2"/><circle cx="426.08" cy="1441.42" r="4.2"/><circle cx="419.63" cy="1467.57" r="4.2"/><circle cx="419.63" cy="1505.33" r="4.2"/><circle cx="426.08" cy="1515.02" r="4.2"/><circle cx="413.49" cy="1521.79" r="4.2"/><circle cx="407.36" cy="1536.97" r="4.2"/><circle cx="419.63" cy="1538.58" r="4.2"/><circle cx="431.89" cy="1536.97" r="4.2"/><circle cx="438.35" cy="1551.49" r="4.2"/><circle cx="426.08" cy="1556.33" r="4.2"/><circle cx="413.49" cy="1560.21" r="4.2"/><circle cx="438.35" cy="1567.63" r="4.2"/><circle cx="401.23" cy="1577.96" r="4.2"/><circle cx="413.49" cy="1575.7" r="4.2"/><circle cx="426.08" cy="1576.67" r="4.2"/><circle cx="438.35" cy="1580.54" r="4.2"/><circle cx="413.49" cy="1587.97" r="4.2"/><circle cx="426.08" cy="1587" r="4.2"/><circle cx="401.23" cy="1596.68" r="4.2"/><circle cx="438.35" cy="1592.49" r="4.2"/><circle cx="413.49" cy="1601.52" r="4.2"/><circle cx="438.35" cy="1610.24" r="4.2"/><circle cx="413.49" cy="1616.69" r="4.2"/><circle cx="426.08" cy="1616.05" r="4.2"/><circle cx="401.23" cy="1638.32" r="4.2"/><circle cx="413.49" cy="1644.45" r="4.2"/><circle cx="426.08" cy="1644.13" r="4.2"/><circle cx="426.08" cy="1674.8" r="4.2"/><circle cx="413.49" cy="1679.96" r="4.2"/></g>
<text x="523" y="1281.3" font-size="41" text-anchor="start" fill="#000" font-weight="bold" >h</text>
<rect x="524.21" y="1340.71" width="140.41" height="139.77" fill="#f1f3f5" stroke="#98999b" stroke-width="1.2" />
<path d="M558.75 1340.71V1480.48M592.96 1340.71V1480.48M629.12 1340.71V1480.48M524.21 1371.7H664.62M524.21 1408.5H664.62M524.21 1444.65H664.62" stroke="#b4b6b9" stroke-width="1.1" fill="none" />
<rect x="575.21" y="1388.48" width="37.12" height="37.77" fill="none" stroke="#e6a3bb" stroke-width="1.1" />
<path d="M618.46 1428.78C619.05 1428.94 620.87 1428.89 621.99 1429.74C623.11 1430.6 624.4 1432.36 625.2 1433.92C626 1435.47 626.32 1437.34 626.8 1439.05C627.28 1440.76 627.5 1442.79 628.09 1444.18C628.68 1445.58 629.42 1446.48 630.33 1447.39C631.24 1448.3 632.47 1449.23 633.54 1449.64C634.61 1450.05 636.22 1449.8 636.75 1449.83" fill="none" stroke="#a9756d" stroke-width="1.6" stroke-linecap="round"/>
<path d="M597.6 1410.68C597.92 1409.74 599.1 1409.74 600.17 1409.65C601.24 1409.57 602.63 1409.6 604.02 1410.17C605.41 1410.73 606.8 1412.04 608.51 1413.06C610.22 1414.07 612.68 1415.14 614.29 1416.26C615.89 1417.39 617.2 1418.46 618.14 1419.79C619.08 1421.13 619.78 1422.84 619.94 1424.29C620.1 1425.73 619.83 1427.41 619.1 1428.46C618.37 1429.51 616.8 1430.2 615.57 1430.58C614.34 1430.95 612.95 1431.11 611.72 1430.71C610.49 1430.3 609.37 1429.26 608.19 1428.14C607.01 1427.02 605.89 1425.36 604.66 1423.97C603.43 1422.58 601.88 1421.24 600.81 1419.79C599.74 1418.35 598.78 1416.82 598.24 1415.3C597.71 1413.78 597.28 1411.62 597.6 1410.68Z" fill="#4f4846"/>
<circle cx="605.94" cy="1412.41" r="1.3" fill="#b58078"/>
<circle cx="599.85" cy="1417.55" r="1.3" fill="#b58078"/>
<rect x="523.56" y="1504.69" width="141.06" height="139.77" fill="#f1f3f5" stroke="#98999b" stroke-width="1.2" />
<path d="M558.1 1504.69V1644.45M592.64 1504.69V1644.45M628.47 1504.69V1644.45M523.56 1535.35H664.62M523.56 1571.83H664.62M523.56 1608.3H664.62" stroke="#b4b6b9" stroke-width="1.1" fill="none" />
<g transform="translate(530.02 1509.85)"><path d="M0 4.2L7.5 0H25V15.5L17.5 20H0Z" fill="#4ab4de"/><path d="M0 4.2H17.5V20H0Z" fill="#4eb8e2"/><path d="M17.5 4.2L25 0V15.5L17.5 20Z" fill="#4cb5df"/><path d="M0 4.2L7.5 0H25L17.5 4.2Z" fill="#46aed8"/></g>
<g transform="translate(633.96 1509.85)"><path d="M0 4.2L7.5 0H25V15.5L17.5 20H0Z" fill="#4ab4de"/><path d="M0 4.2H17.5V20H0Z" fill="#4eb8e2"/><path d="M17.5 4.2L25 0V15.5L17.5 20Z" fill="#4cb5df"/><path d="M0 4.2L7.5 0H25L17.5 4.2Z" fill="#46aed8"/></g>
<path d="M578.56 1551.18C579.15 1551.34 580.97 1551.29 582.09 1552.14C583.21 1553 584.5 1554.76 585.3 1556.32C586.1 1557.87 586.42 1559.74 586.9 1561.45C587.38 1563.16 587.6 1565.19 588.19 1566.58C588.78 1567.98 589.52 1568.88 590.43 1569.79C591.34 1570.7 592.57 1571.63 593.64 1572.04C594.71 1572.45 596.32 1572.2 596.85 1572.23" fill="none" stroke="#a9756d" stroke-width="1.6" stroke-linecap="round"/>
<path d="M557.7 1533.08C558.02 1532.14 559.2 1532.14 560.27 1532.05C561.34 1531.97 562.73 1532 564.12 1532.57C565.51 1533.13 566.9 1534.44 568.61 1535.46C570.32 1536.47 572.78 1537.54 574.39 1538.66C575.99 1539.79 577.3 1540.86 578.24 1542.19C579.18 1543.53 579.88 1545.24 580.04 1546.69C580.2 1548.13 579.93 1549.81 579.2 1550.86C578.47 1551.91 576.9 1552.6 575.67 1552.98C574.44 1553.35 573.05 1553.51 571.82 1553.11C570.59 1552.7 569.47 1551.66 568.29 1550.54C567.11 1549.42 565.99 1547.76 564.76 1546.37C563.53 1544.98 561.98 1543.64 560.91 1542.19C559.84 1540.75 558.88 1539.22 558.34 1537.7C557.81 1536.18 557.38 1534.02 557.7 1533.08Z" fill="#4f4846"/>
<circle cx="566.04" cy="1534.81" r="1.3" fill="#b58078"/>
<circle cx="559.95" cy="1539.95" r="1.3" fill="#b58078"/>
<rect x="523.52" y="1671.2" width="140.46" height="139.17" fill="#f1f3f5" stroke="#98999b" stroke-width="1.2" />
<path d="M557.46 1671.2V1810.37M591.99 1671.2V1810.37M628.15 1671.2V1810.37M523.52 1701.89H663.98M523.52 1738.71H663.98M523.52 1775.18H663.98" stroke="#b4b6b9" stroke-width="1.1" fill="none" />
<g transform="translate(529.55 1676.91)"><path d="M0 4.2L7.5 0H25V15.5L17.5 20H0Z" fill="#4ab4de"/><path d="M0 4.2H17.5V20H0Z" fill="#4eb8e2"/><path d="M17.5 4.2L25 0V15.5L17.5 20Z" fill="#4cb5df"/><path d="M0 4.2L7.5 0H25L17.5 4.2Z" fill="#46aed8"/></g>
<g transform="translate(633.96 1783.6)"><path d="M0 4.2L7.5 0H25V15.5L17.5 20H0Z" fill="#4ab4de"/><path d="M0 4.2H17.5V20H0Z" fill="#4eb8e2"/><path d="M17.5 4.2L25 0V15.5L17.5 20Z" fill="#4cb5df"/><path d="M0 4.2L7.5 0H25L17.5 4.2Z" fill="#46aed8"/></g>
<path d="M611.08 1768.83C610.44 1768.67 608.51 1768.51 607.23 1767.87C605.94 1767.23 604.45 1766.26 603.38 1764.98C602.31 1763.7 601.56 1761.72 600.81 1760.17C600.06 1758.62 599.63 1757.01 598.88 1755.67C598.13 1754.34 597.39 1753 596.32 1752.14C595.25 1751.29 593.64 1750.7 592.46 1750.54C591.29 1750.38 589.79 1751.07 589.26 1751.18" fill="none" stroke="#a9756d" stroke-width="1.6" stroke-linecap="round"/>
<path d="M633.86 1783.59C634.24 1784.77 634.02 1784.85 633.22 1785.2C632.42 1785.55 630.6 1785.87 629.05 1785.71C627.5 1785.55 625.84 1784.96 623.92 1784.24C621.99 1783.51 619.42 1782.36 617.5 1781.35C615.57 1780.33 613.59 1779.32 612.36 1778.14C611.13 1776.96 610.44 1775.68 610.12 1774.29C609.79 1772.9 609.74 1770.97 610.44 1769.79C611.13 1768.62 613 1767.68 614.29 1767.23C615.57 1766.78 616.85 1766.78 618.14 1767.1C619.42 1767.42 620.6 1768.06 621.99 1769.15C623.38 1770.24 624.99 1772.15 626.48 1773.65C627.98 1775.14 629.75 1776.48 630.98 1778.14C632.21 1779.8 633.49 1782.42 633.86 1783.59Z" fill="#4f4846"/>
<circle cx="630.33" cy="1776.85" r="1.3" fill="#b58078"/>
<circle cx="625.52" cy="1783.59" r="1.3" fill="#b58078"/>
<text x="678.47" y="1405.75" font-size="29.8" text-anchor="start" fill="#000" >Day 1 8AM:</text>
<text x="678.47" y="1441.9" font-size="29.8" text-anchor="start" fill="#000" >Open Field</text>
<text x="678.47" y="1546.81" font-size="29.8" text-anchor="start" fill="#000" >Day 1 5PM:</text>
<text x="678.47" y="1582.96" font-size="29.8" text-anchor="start" fill="#000" >Object</text>
<text x="678.47" y="1618.95" font-size="29.8" text-anchor="start" fill="#000" >Habituation</text>
<text x="678.47" y="1704.01" font-size="29.8" text-anchor="start" fill="#000" >Day 2 5PM:</text>
<text x="678.47" y="1740.32" font-size="29.8" text-anchor="start" fill="#000" >Novel Location</text>
<text x="678.47" y="1775.51" font-size="29.8" text-anchor="start" fill="#000" >Test</text>
<text x="921" y="1281.3" font-size="41" text-anchor="start" fill="#000" font-weight="bold" >i</text>
<circle cx="1199" cy="1283.1" r="7.3" fill="#f6830f" stroke="#000" stroke-width="1.5" />
<text x="1221.5" y="1292.8" font-size="29.3" text-anchor="start" fill="#000" >Novel Location</text>
<circle cx="1199" cy="1317.3" r="7.3" fill="#bdd0f0" stroke="#000" stroke-width="1.5" />
<text x="1221.5" y="1327.4" font-size="29.3" text-anchor="start" fill="#000" >Familiar Location</text>
<line x1="1119.6" y1="1368.7" x2="1119.6" y2="1661.5" stroke="#000" stroke-width="1.5" />
<line x1="1115.4" y1="1660.8" x2="1484" y2="1660.8" stroke="#000" stroke-width="1.5" />
<line x1="1115.4" y1="1660.8" x2="1119.6" y2="1660.8" stroke="#000" stroke-width="1.5" />
<text x="1100" y="1672.7" font-size="29.7" text-anchor="end" fill="#000" >0</text>
<line x1="1115.4" y1="1602.48" x2="1119.6" y2="1602.48" stroke="#000" stroke-width="1.5" />
<text x="1100" y="1614.38" font-size="29.7" text-anchor="end" fill="#000" >20</text>
<line x1="1115.4" y1="1544.16" x2="1119.6" y2="1544.16" stroke="#000" stroke-width="1.5" />
<text x="1100" y="1556.06" font-size="29.7" text-anchor="end" fill="#000" >40</text>
<line x1="1115.4" y1="1485.84" x2="1119.6" y2="1485.84" stroke="#000" stroke-width="1.5" />
<text x="1100" y="1497.74" font-size="29.7" text-anchor="end" fill="#000" >60</text>
<line x1="1115.4" y1="1427.52" x2="1119.6" y2="1427.52" stroke="#000" stroke-width="1.5" />
<text x="1100" y="1439.42" font-size="29.7" text-anchor="end" fill="#000" >80</text>
<line x1="1115.4" y1="1369.2" x2="1119.6" y2="1369.2" stroke="#000" stroke-width="1.5" />
<text x="1100" y="1381.1" font-size="29.7" text-anchor="end" fill="#000" >100</text>
<line x1="1160.6" y1="1660.8" x2="1160.6" y2="1665.3" stroke="#000" stroke-width="1.5" />
<line x1="1254.7" y1="1660.8" x2="1254.7" y2="1665.3" stroke="#000" stroke-width="1.5" />
<line x1="1348" y1="1660.8" x2="1348" y2="1665.3" stroke="#000" stroke-width="1.5" />
<line x1="1441.8" y1="1660.8" x2="1441.8" y2="1665.3" stroke="#000" stroke-width="1.5" />
<text x="1025.3" y="1517.5" font-size="30.4" text-anchor="middle" fill="#000" transform="rotate(-90 1025.3 1517.5)" >Time with Object (%)</text>
<text x="1168.5" y="1697" font-size="30.3" text-anchor="end" fill="#000" transform="rotate(-30 1168.5 1697)" >Not Ablated + Sham</text>
<text x="1261" y="1697" font-size="30.3" text-anchor="end" fill="#000" transform="rotate(-30 1261 1697)" >Ablated + Sham</text>
<text x="1356" y="1697" font-size="30.3" text-anchor="end" fill="#000" transform="rotate(-30 1356 1697)" >Not Ablated + TBI</text>
<text x="1449" y="1697" font-size="30.3" text-anchor="end" fill="#000" transform="rotate(-30 1449 1697)" >Ablated + TBI</text>
<path d="M1142.8 1430V1413.1H1186.7V1430" stroke="#000" stroke-width="1.3" fill="none" />
<text y="1406" font-size="23.1" x="1168.8" text-anchor="middle"><tspan font-style="italic">P</tspan>=0.016</text>
<path d="M1236.6 1397.1V1380.6H1280.9V1397.1" stroke="#000" stroke-width="1.3" fill="none" />
<text y="1376" font-size="23.1" x="1255.4" text-anchor="middle"><tspan font-style="italic">P</tspan>=0.050</text>
<path d="M1329.9 1397.1V1380.6H1373.8V1397.1" stroke="#000" stroke-width="1.3" fill="none" />
<text y="1376" font-size="23.1" x="1356" text-anchor="middle"><tspan font-style="italic">P</tspan>=0.049</text>
<path d="M1419.8 1437.6V1421.6H1464.2V1437.6" stroke="#000" stroke-width="1.3" fill="none" />
<text y="1415.3" font-size="23.1" x="1444.2" text-anchor="middle"><tspan font-style="italic">P</tspan>=0.403</text>
<circle cx="1143.32" cy="1444.27" r="7.2" fill="#f6830f" stroke="#000" stroke-width="1.5" />
<circle cx="1146.7" cy="1472.56" r="7.2" fill="#f6830f" stroke="#000" stroke-width="1.5" />
<circle cx="1140.36" cy="1477.63" r="7.2" fill="#f6830f" stroke="#000" stroke-width="1.5" />
<circle cx="1144.59" cy="1490.3" r="7.2" fill="#f6830f" stroke="#000" stroke-width="1.5" />
<circle cx="1143.32" cy="1501.28" r="7.2" fill="#f6830f" stroke="#000" stroke-width="1.5" />
<circle cx="1140.36" cy="1504.24" r="7.2" fill="#f6830f" stroke="#000" stroke-width="1.5" />
<circle cx="1146.7" cy="1510.57" r="7.2" fill="#f6830f" stroke="#000" stroke-width="1.5" />
<circle cx="1142.05" cy="1517.75" r="7.2" fill="#f6830f" stroke="#000" stroke-width="1.5" />
<circle cx="1143.32" cy="1530.84" r="7.2" fill="#f6830f" stroke="#000" stroke-width="1.5" />
<circle cx="1143.32" cy="1570.54" r="7.2" fill="#f6830f" stroke="#000" stroke-width="1.5" />
<line x1="1130.52" y1="1502.67" x2="1155.12" y2="1502.67" stroke="#000" stroke-width="2.2" />
<line x1="1142.82" y1="1493.38" x2="1142.82" y2="1510.27" stroke="#000" stroke-width="2.2" />
<line x1="1136.32" y1="1493.38" x2="1149.32" y2="1493.38" stroke="#000" stroke-width="2.2" />
<line x1="1136.32" y1="1510.27" x2="1149.32" y2="1510.27" stroke="#000" stroke-width="2.2" />
<circle cx="1179.22" cy="1459.89" r="7.2" fill="#bdd0f0" stroke="#000" stroke-width="1.5" />
<circle cx="1180.48" cy="1499.59" r="7.2" fill="#bdd0f0" stroke="#000" stroke-width="1.5" />
<circle cx="1177.1" cy="1513.95" r="7.2" fill="#bdd0f0" stroke="#000" stroke-width="1.5" />
<circle cx="1174.99" cy="1518.17" r="7.2" fill="#bdd0f0" stroke="#000" stroke-width="1.5" />
<circle cx="1182.59" cy="1522.39" r="7.2" fill="#bdd0f0" stroke="#000" stroke-width="1.5" />
<circle cx="1179.22" cy="1530.84" r="7.2" fill="#bdd0f0" stroke="#000" stroke-width="1.5" />
<circle cx="1175.84" cy="1535.91" r="7.2" fill="#bdd0f0" stroke="#000" stroke-width="1.5" />
<circle cx="1182.59" cy="1540.98" r="7.2" fill="#bdd0f0" stroke="#000" stroke-width="1.5" />
<circle cx="1179.22" cy="1552.8" r="7.2" fill="#bdd0f0" stroke="#000" stroke-width="1.5" />
<circle cx="1178.37" cy="1557.02" r="7.2" fill="#bdd0f0" stroke="#000" stroke-width="1.5" />
<circle cx="1179.22" cy="1586.58" r="7.2" fill="#bdd0f0" stroke="#000" stroke-width="1.5" />
<line x1="1166.42" y1="1528.43" x2="1191.02" y2="1528.43" stroke="#000" stroke-width="2.2" />
<line x1="1178.72" y1="1520.41" x2="1178.72" y2="1536.45" stroke="#000" stroke-width="2.2" />
<line x1="1172.22" y1="1520.41" x2="1185.22" y2="1520.41" stroke="#000" stroke-width="2.2" />
<line x1="1172.22" y1="1536.45" x2="1185.22" y2="1536.45" stroke="#000" stroke-width="2.2" />
<circle cx="1237.49" cy="1409.22" r="7.2" fill="#f6830f" stroke="#000" stroke-width="1.5" />
<circle cx="1241.72" cy="1439.62" r="7.2" fill="#f6830f" stroke="#000" stroke-width="1.5" />
<circle cx="1237.07" cy="1445.11" r="7.2" fill="#f6830f" stroke="#000" stroke-width="1.5" />
<circle cx="1241.72" cy="1455.67" r="7.2" fill="#f6830f" stroke="#000" stroke-width="1.5" />
<circle cx="1237.07" cy="1468.34" r="7.2" fill="#f6830f" stroke="#000" stroke-width="1.5" />
<circle cx="1232.85" cy="1488.61" r="7.2" fill="#f6830f" stroke="#000" stroke-width="1.5" />
<circle cx="1241.72" cy="1508.46" r="7.2" fill="#f6830f" stroke="#000" stroke-width="1.5" />
<circle cx="1232.85" cy="1527.46" r="7.2" fill="#f6830f" stroke="#000" stroke-width="1.5" />
<circle cx="1241.72" cy="1532.53" r="7.2" fill="#f6830f" stroke="#000" stroke-width="1.5" />
<circle cx="1237.07" cy="1545.62" r="7.2" fill="#f6830f" stroke="#000" stroke-width="1.5" />
<circle cx="1241.72" cy="1559.13" r="7.2" fill="#f6830f" stroke="#000" stroke-width="1.5" />
<circle cx="1232.85" cy="1562.09" r="7.2" fill="#f6830f" stroke="#000" stroke-width="1.5" />
<line x1="1224.69" y1="1496.33" x2="1249.29" y2="1496.33" stroke="#000" stroke-width="2.2" />
<line x1="1236.99" y1="1483.67" x2="1236.99" y2="1509.43" stroke="#000" stroke-width="2.2" />
<line x1="1230.49" y1="1483.67" x2="1243.49" y2="1483.67" stroke="#000" stroke-width="2.2" />
<line x1="1230.49" y1="1509.43" x2="1243.49" y2="1509.43" stroke="#000" stroke-width="2.2" />
<circle cx="1268.74" cy="1469.61" r="7.2" fill="#bdd0f0" stroke="#000" stroke-width="1.5" />
<circle cx="1274.23" cy="1472.56" r="7.2" fill="#bdd0f0" stroke="#000" stroke-width="1.5" />
<circle cx="1268.74" cy="1485.23" r="7.2" fill="#bdd0f0" stroke="#000" stroke-width="1.5" />
<circle cx="1277.61" cy="1497.9" r="7.2" fill="#bdd0f0" stroke="#000" stroke-width="1.5" />
<circle cx="1272.12" cy="1504.24" r="7.2" fill="#bdd0f0" stroke="#000" stroke-width="1.5" />
<circle cx="1267.9" cy="1507.19" r="7.2" fill="#bdd0f0" stroke="#000" stroke-width="1.5" />
<circle cx="1275.5" cy="1521.13" r="7.2" fill="#bdd0f0" stroke="#000" stroke-width="1.5" />
<circle cx="1272.12" cy="1538.86" r="7.2" fill="#bdd0f0" stroke="#000" stroke-width="1.5" />
<circle cx="1272.12" cy="1563.36" r="7.2" fill="#bdd0f0" stroke="#000" stroke-width="1.5" />
<circle cx="1267.9" cy="1575.18" r="7.2" fill="#bdd0f0" stroke="#000" stroke-width="1.5" />
<circle cx="1277.19" cy="1586.58" r="7.2" fill="#bdd0f0" stroke="#000" stroke-width="1.5" />
<circle cx="1272.12" cy="1590.81" r="7.2" fill="#bdd0f0" stroke="#000" stroke-width="1.5" />
<circle cx="1272.12" cy="1621.63" r="7.2" fill="#bdd0f0" stroke="#000" stroke-width="1.5" />
<line x1="1259.74" y1="1532.65" x2="1284.34" y2="1532.65" stroke="#000" stroke-width="2.2" />
<line x1="1272.04" y1="1520.83" x2="1272.04" y2="1546.17" stroke="#000" stroke-width="2.2" />
<line x1="1265.54" y1="1520.83" x2="1278.54" y2="1520.83" stroke="#000" stroke-width="2.2" />
<line x1="1265.54" y1="1546.17" x2="1278.54" y2="1546.17" stroke="#000" stroke-width="2.2" />
<circle cx="1331.24" cy="1422.73" r="7.2" fill="#f6830f" stroke="#000" stroke-width="1.5" />
<circle cx="1331.24" cy="1456.94" r="7.2" fill="#f6830f" stroke="#000" stroke-width="1.5" />
<circle cx="1335.47" cy="1484.39" r="7.2" fill="#f6830f" stroke="#000" stroke-width="1.5" />
<circle cx="1327.86" cy="1490.3" r="7.2" fill="#f6830f" stroke="#000" stroke-width="1.5" />
<circle cx="1333.35" cy="1491.57" r="7.2" fill="#f6830f" stroke="#000" stroke-width="1.5" />
<circle cx="1331.24" cy="1504.24" r="7.2" fill="#f6830f" stroke="#000" stroke-width="1.5" />
<circle cx="1327.86" cy="1514.79" r="7.2" fill="#f6830f" stroke="#000" stroke-width="1.5" />
<circle cx="1334.62" cy="1516.9" r="7.2" fill="#f6830f" stroke="#000" stroke-width="1.5" />
<circle cx="1331.24" cy="1529.57" r="7.2" fill="#f6830f" stroke="#000" stroke-width="1.5" />
<circle cx="1330.4" cy="1539.29" r="7.2" fill="#f6830f" stroke="#000" stroke-width="1.5" />
<circle cx="1331.24" cy="1570.54" r="7.2" fill="#f6830f" stroke="#000" stroke-width="1.5" />
<line x1="1318.44" y1="1501.82" x2="1343.04" y2="1501.82" stroke="#000" stroke-width="2.2" />
<line x1="1330.74" y1="1493.38" x2="1330.74" y2="1510.27" stroke="#000" stroke-width="2.2" />
<line x1="1324.24" y1="1493.38" x2="1337.24" y2="1493.38" stroke="#000" stroke-width="2.2" />
<line x1="1324.24" y1="1510.27" x2="1337.24" y2="1510.27" stroke="#000" stroke-width="2.2" />
<circle cx="1366.29" cy="1459.89" r="7.2" fill="#bdd0f0" stroke="#000" stroke-width="1.5" />
<circle cx="1367.14" cy="1492.83" r="7.2" fill="#bdd0f0" stroke="#000" stroke-width="1.5" />
<circle cx="1365.03" cy="1504.24" r="7.2" fill="#bdd0f0" stroke="#000" stroke-width="1.5" />
<circle cx="1362.92" cy="1509.3" r="7.2" fill="#bdd0f0" stroke="#000" stroke-width="1.5" />
<circle cx="1369.25" cy="1517.75" r="7.2" fill="#bdd0f0" stroke="#000" stroke-width="1.5" />
<circle cx="1366.29" cy="1527.46" r="7.2" fill="#bdd0f0" stroke="#000" stroke-width="1.5" />
<circle cx="1362.92" cy="1540.98" r="7.2" fill="#bdd0f0" stroke="#000" stroke-width="1.5" />
<circle cx="1369.25" cy="1546.47" r="7.2" fill="#bdd0f0" stroke="#000" stroke-width="1.5" />
<circle cx="1366.29" cy="1573.91" r="7.2" fill="#bdd0f0" stroke="#000" stroke-width="1.5" />
<circle cx="1366.29" cy="1608.54" r="7.2" fill="#bdd0f0" stroke="#000" stroke-width="1.5" />
<line x1="1353.49" y1="1528.43" x2="1378.09" y2="1528.43" stroke="#000" stroke-width="2.2" />
<line x1="1365.79" y1="1518.72" x2="1365.79" y2="1536.88" stroke="#000" stroke-width="2.2" />
<line x1="1359.29" y1="1518.72" x2="1372.29" y2="1518.72" stroke="#000" stroke-width="2.2" />
<line x1="1359.29" y1="1536.88" x2="1372.29" y2="1536.88" stroke="#000" stroke-width="2.2" />
<circle cx="1426.26" cy="1473.41" r="7.2" fill="#f6830f" stroke="#000" stroke-width="1.5" />
<circle cx="1423.3" cy="1480.16" r="7.2" fill="#f6830f" stroke="#000" stroke-width="1.5" />
<circle cx="1425.42" cy="1489.46" r="7.2" fill="#f6830f" stroke="#000" stroke-width="1.5" />
<circle cx="1424.99" cy="1500.86" r="7.2" fill="#f6830f" stroke="#000" stroke-width="1.5" />
<circle cx="1426.26" cy="1516.9" r="7.2" fill="#f6830f" stroke="#000" stroke-width="1.5" />
<circle cx="1423.3" cy="1521.13" r="7.2" fill="#f6830f" stroke="#000" stroke-width="1.5" />
<circle cx="1421.19" cy="1527.46" r="7.2" fill="#f6830f" stroke="#000" stroke-width="1.5" />
<circle cx="1428.37" cy="1521.13" r="7.2" fill="#f6830f" stroke="#000" stroke-width="1.5" />
<circle cx="1425.42" cy="1534.64" r="7.2" fill="#f6830f" stroke="#000" stroke-width="1.5" />
<circle cx="1424.15" cy="1546.47" r="7.2" fill="#f6830f" stroke="#000" stroke-width="1.5" />
<circle cx="1424.99" cy="1573.07" r="7.2" fill="#f6830f" stroke="#000" stroke-width="1.5" />
<line x1="1412.19" y1="1519.98" x2="1436.79" y2="1519.98" stroke="#000" stroke-width="2.2" />
<line x1="1424.49" y1="1514.49" x2="1424.49" y2="1525.05" stroke="#000" stroke-width="2.2" />
<line x1="1417.99" y1="1514.49" x2="1430.99" y2="1514.49" stroke="#000" stroke-width="2.2" />
<line x1="1417.99" y1="1525.05" x2="1430.99" y2="1525.05" stroke="#000" stroke-width="2.2" />
<circle cx="1460.47" cy="1458.21" r="7.2" fill="#bdd0f0" stroke="#000" stroke-width="1.5" />
<circle cx="1460.47" cy="1483.97" r="7.2" fill="#bdd0f0" stroke="#000" stroke-width="1.5" />
<circle cx="1457.93" cy="1487.34" r="7.2" fill="#bdd0f0" stroke="#000" stroke-width="1.5" />
<circle cx="1459.62" cy="1496.63" r="7.2" fill="#bdd0f0" stroke="#000" stroke-width="1.5" />
<circle cx="1455.82" cy="1504.24" r="7.2" fill="#bdd0f0" stroke="#000" stroke-width="1.5" />
<circle cx="1464.27" cy="1505.5" r="7.2" fill="#bdd0f0" stroke="#000" stroke-width="1.5" />
<circle cx="1460.04" cy="1512.68" r="7.2" fill="#bdd0f0" stroke="#000" stroke-width="1.5" />
<circle cx="1460.04" cy="1529.57" r="7.2" fill="#bdd0f0" stroke="#000" stroke-width="1.5" />
<circle cx="1457.93" cy="1540.98" r="7.2" fill="#bdd0f0" stroke="#000" stroke-width="1.5" />
<circle cx="1462.16" cy="1542.24" r="7.2" fill="#bdd0f0" stroke="#000" stroke-width="1.5" />
<circle cx="1460.47" cy="1552.8" r="7.2" fill="#bdd0f0" stroke="#000" stroke-width="1.5" />
<circle cx="1459.62" cy="1557.02" r="7.2" fill="#bdd0f0" stroke="#000" stroke-width="1.5" />
<line x1="1447.24" y1="1509.43" x2="1471.84" y2="1509.43" stroke="#000" stroke-width="2.2" />
<line x1="1459.54" y1="1503.94" x2="1459.54" y2="1515.34" stroke="#000" stroke-width="2.2" />
<line x1="1453.04" y1="1503.94" x2="1466.04" y2="1503.94" stroke="#000" stroke-width="2.2" />
<line x1="1453.04" y1="1515.34" x2="1466.04" y2="1515.34" stroke="#000" stroke-width="2.2" />
<defs><filter id="nz0" x="-2%" y="-2%" width="104%" height="104%" color-interpolation-filters="sRGB"><feTurbulence type="fractalNoise" baseFrequency="0.5" numOctaves="2" seed="7" result="t"/><feColorMatrix in="t" type="matrix" values="0 0 0 0 0 0 0 0 0 0 0 0 0 0 0 1.7 0 0 0 -0.22" result="a"/><feGaussianBlur in="SourceGraphic" stdDeviation="0.7" result="s"/><feComposite in="s" in2="a" operator="in"/></filter><filter id="nz1" x="-2%" y="-2%" width="104%" height="104%" color-interpolation-filters="sRGB"><feTurbulence type="fractalNoise" baseFrequency="0.6" numOctaves="2" seed="8" result="t"/><feColorMatrix in="t" type="matrix" values="0 0 0 0 0 0 0 0 0 0 0 0 0 0 0 1.6 0 0 0 -0.2" result="a"/><feGaussianBlur in="SourceGraphic" stdDeviation="0.7" result="s"/><feComposite in="s" in2="a" operator="in"/></filter><filter id="nz2" x="-2%" y="-2%" width="104%" height="104%" color-interpolation-filters="sRGB"><feTurbulence type="fractalNoise" baseFrequency="0.55" numOctaves="2" seed="9" result="t"/><feColorMatrix in="t" type="matrix" values="0 0 0 0 0 0 0 0 0 0 0 0 0 0 0 1.1 0 0 0 0.05" result="a"/><feGaussianBlur in="SourceGraphic" stdDeviation="0.7" result="s"/><feComposite in="s" in2="a" operator="in"/></filter><filter id="bl1" x="-20%" y="-20%" width="140%" height="140%"><feGaussianBlur stdDeviation="0.8"/></filter><filter id="bl2" x="-20%" y="-20%" width="140%" height="140%"><feGaussianBlur stdDeviation="2"/></filter><filter id="bl6" x="-50%" y="-50%" width="200%" height="200%"><feGaussianBlur stdDeviation="6"/></filter><clipPath id="ca00"><rect x="74.8" y="81.9" width="139.7" height="184.8"/></clipPath><clipPath id="cb00"><path d="M72.11 473.08C74.22 470.8 75.8 471.68 78.43 469.92C81.07 468.16 84.05 463.68 87.92 462.54C91.78 461.4 95.82 462.72 101.62 463.07C107.42 463.42 115.68 463.68 122.7 464.65C129.73 465.62 137.64 466.93 143.79 468.87C149.93 470.8 154.33 473.61 159.6 476.24C164.87 478.88 170.49 481.51 175.41 484.68C180.33 487.84 185.25 491.53 189.11 495.22C192.98 498.91 195.79 503.12 198.6 506.81C201.41 510.5 204.13 514.37 205.98 517.35C207.82 520.34 209.84 522.54 209.66 524.73C209.49 526.93 208 528.77 204.92 530.53C201.85 532.29 196.14 534.74 191.22 535.27C186.3 535.8 179.8 534.04 175.41 533.69C171.02 533.34 167.15 533.43 164.87 533.16C162.58 532.9 161.18 531.32 161.7 532.11C162.23 532.9 163.99 536.85 168.03 537.91C172.07 538.96 179.45 537.82 185.95 538.43C192.45 539.05 203.08 540.37 207.03 541.6C210.98 542.83 209.66 543.18 209.66 545.81C209.66 548.45 208.35 553.37 207.03 557.41C205.71 561.45 203.87 566.02 201.76 570.06C199.65 574.1 197.02 577.79 194.38 581.65C191.75 585.52 189.11 589.56 185.95 593.25C182.79 596.94 178.92 600.62 175.41 603.79C171.89 606.95 168.38 609.94 164.87 612.22C161.35 614.5 157.14 615.21 154.33 617.49C151.52 619.77 150.64 623.29 148 625.92C145.37 628.56 142.03 631.72 138.51 633.3C135 634.88 130.61 635.41 126.92 635.41C123.23 635.41 120.07 634.18 116.38 633.3C112.69 632.42 109 632.25 104.78 630.14C100.57 628.03 96 623.29 91.08 620.65C86.16 618.02 79.49 615.38 75.27 614.33C71.05 613.27 67.36 636.11 65.78 614.33C64.2 592.54 64.73 507.16 65.78 483.62C66.84 460.08 70 475.37 72.11 473.08Z"/></clipPath><clipPath id="ca01"><rect x="218.1" y="81.9" width="139.9" height="184.8"/></clipPath><clipPath id="cb01"><path d="M214.11 473.08C215.86 470.8 216.57 471.68 218.32 469.92C220.08 468.16 221.84 464.12 224.65 462.54C227.46 460.96 231.15 460.43 235.19 460.43C239.23 460.43 243.62 461.31 248.89 462.54C254.16 463.77 260.66 466.05 266.81 467.81C272.96 469.57 279.99 471.15 285.79 473.08C291.58 475.01 296.33 477.12 301.6 479.41C306.87 481.69 313.02 484.32 317.41 486.78C321.8 489.24 324.79 491.53 327.95 494.16C331.11 496.8 333.92 499.43 336.38 502.6C338.84 505.76 341.21 509.27 342.71 513.14C344.2 517 344.64 521.57 345.34 525.79C346.04 530 347.01 534.04 346.92 538.43C346.83 542.83 345.69 547.57 344.81 552.14C343.93 556.7 343.23 561.45 341.65 565.84C340.07 570.23 337.96 574.62 335.33 578.49C332.69 582.35 329.18 585.52 325.84 589.03C322.5 592.54 318.81 596.41 315.3 599.57C311.79 602.73 307.92 605.54 304.76 608C301.6 610.46 298.43 611.52 296.33 614.33C294.22 617.14 294.22 622.06 292.11 624.87C290 627.68 287.19 629.61 283.68 631.19C280.16 632.77 275.24 634.35 271.03 634.35C266.81 634.35 262.95 632.6 258.38 631.19C253.81 629.79 248.19 628.03 243.62 625.92C239.05 623.81 235.19 620.12 230.97 618.54C226.76 616.96 222.19 616.79 218.32 616.44C214.46 616.08 209.54 638.57 207.78 616.44C206.03 594.3 206.73 507.51 207.78 483.62C208.84 459.73 212.35 475.37 214.11 473.08Z"/></clipPath><clipPath id="ca02"><rect x="361.2" y="81.9" width="137.9" height="184.8"/></clipPath><clipPath id="cb02"><path d="M357.11 464.65C358.69 463.59 358.86 465.7 360.27 466.76C361.68 467.81 363.26 471.5 365.54 470.97C367.82 470.45 370.46 465.09 373.97 463.59C377.49 462.1 381.88 461.66 386.62 462.01C391.37 462.37 397.16 464.03 402.43 465.7C407.7 467.37 413.85 470.62 418.24 472.03C422.64 473.43 425.45 474.14 428.79 474.14C432.12 474.14 435.11 473.7 438.27 472.03C441.43 470.36 446.53 463.59 447.76 464.12C448.99 464.65 446.7 472.64 445.65 475.19C444.6 477.74 440.73 477.47 441.43 479.41C442.14 481.34 446.7 483.97 449.87 486.78C453.03 489.6 456.89 492.93 460.41 496.27C463.92 499.61 467.79 502.95 470.95 506.81C474.11 510.68 477.27 515.24 479.38 519.46C481.49 523.68 482.28 527.89 483.6 532.11C484.91 536.33 486.93 540.54 487.29 544.76C487.64 548.97 486.67 553.54 485.71 557.41C484.74 561.27 483.25 564.79 481.49 567.95C479.73 571.11 477.27 573.22 475.16 576.38C473.06 579.54 470.77 583.06 468.84 586.92C466.91 590.79 465.33 595.71 463.57 599.57C461.81 603.44 459.88 606.95 458.3 610.11C456.72 613.27 456.19 616.08 454.08 618.54C451.97 621 448.46 623.46 445.65 624.87C442.84 626.27 439.68 625.92 437.22 626.98C434.76 628.03 433.7 629.96 430.89 631.19C428.08 632.42 424.22 634 420.35 634.35C416.49 634.71 411.57 634.18 407.7 633.3C403.84 632.42 400.68 630.84 397.16 629.08C393.65 627.33 390.49 624.17 386.62 622.76C382.76 621.35 378.37 621.71 373.97 620.65C369.58 619.6 364.14 617.14 360.27 616.44C356.41 615.73 352.36 640.33 350.78 616.44C349.2 592.54 349.73 498.38 350.78 473.08C351.84 447.78 355.53 465.7 357.11 464.65Z"/></clipPath><clipPath id="ca03"><rect x="502.3" y="81.9" width="141.1" height="184.8"/></clipPath><clipPath id="cb03"><path d="M499.05 479.41C500.55 476.95 501.16 476.07 502.74 474.14C504.32 472.2 505.82 469.3 508.54 467.81C511.26 466.32 514.69 465.44 519.08 465.18C523.47 464.91 529.62 465.53 534.89 466.23C540.16 466.93 545.43 468.07 550.7 469.39C555.97 470.71 561.24 472.12 566.51 474.14C571.79 476.16 577.41 478.7 582.33 481.51C587.24 484.32 591.99 487.66 596.03 491C600.07 494.34 603.41 497.85 606.57 501.54C609.73 505.23 612.72 509.1 615 513.14C617.29 517.18 618.87 521.57 620.27 525.79C621.68 530 622.82 534.57 623.43 538.43C624.05 542.3 624.31 545.46 623.96 548.97C623.61 552.49 622.47 556.35 621.33 559.52C620.18 562.68 619.04 565.31 617.11 567.95C615.18 570.58 611.66 573.22 609.73 575.33C607.8 577.43 606.57 578.31 605.52 580.6C604.46 582.88 604.46 585.87 603.41 589.03C602.35 592.19 600.95 596.41 599.19 599.57C597.43 602.73 595.33 605.19 592.87 608C590.41 610.81 587.24 613.98 584.43 616.44C581.62 618.9 578.81 620.65 576 622.76C573.19 624.87 570.73 627.68 567.57 629.08C564.41 630.49 560.54 631.19 557.03 631.19C553.51 631.19 550 630.14 546.49 629.08C542.97 628.03 539.64 626.62 535.95 624.87C532.26 623.11 528.04 619.95 524.35 618.54C520.66 617.14 517.41 617.49 513.81 616.44C510.21 615.38 506.08 613.27 502.74 612.22C499.41 611.17 495.28 630.67 493.78 610.11C492.29 589.56 492.91 510.68 493.78 488.89C494.66 467.11 497.56 481.87 499.05 479.41Z"/></clipPath><clipPath id="ca10"><rect x="74.8" y="269.8" width="141.1" height="183.9"/></clipPath><clipPath id="cb10"><path d="M72.11 473.08C74.22 470.8 75.8 471.68 78.43 469.92C81.07 468.16 84.05 463.68 87.92 462.54C91.78 461.4 95.82 462.72 101.62 463.07C107.42 463.42 115.68 463.68 122.7 464.65C129.73 465.62 137.64 466.93 143.79 468.87C149.93 470.8 154.33 473.61 159.6 476.24C164.87 478.88 170.49 481.51 175.41 484.68C180.33 487.84 185.25 491.53 189.11 495.22C192.98 498.91 195.79 503.12 198.6 506.81C201.41 510.5 204.13 514.37 205.98 517.35C207.82 520.34 209.84 522.54 209.66 524.73C209.49 526.93 208 528.77 204.92 530.53C201.85 532.29 196.14 534.74 191.22 535.27C186.3 535.8 179.8 534.04 175.41 533.69C171.02 533.34 167.15 533.43 164.87 533.16C162.58 532.9 161.18 531.32 161.7 532.11C162.23 532.9 163.99 536.85 168.03 537.91C172.07 538.96 179.45 537.82 185.95 538.43C192.45 539.05 203.08 540.37 207.03 541.6C210.98 542.83 209.66 543.18 209.66 545.81C209.66 548.45 208.35 553.37 207.03 557.41C205.71 561.45 203.87 566.02 201.76 570.06C199.65 574.1 197.02 577.79 194.38 581.65C191.75 585.52 189.11 589.56 185.95 593.25C182.79 596.94 178.92 600.62 175.41 603.79C171.89 606.95 168.38 609.94 164.87 612.22C161.35 614.5 157.14 615.21 154.33 617.49C151.52 619.77 150.64 623.29 148 625.92C145.37 628.56 142.03 631.72 138.51 633.3C135 634.88 130.61 635.41 126.92 635.41C123.23 635.41 120.07 634.18 116.38 633.3C112.69 632.42 109 632.25 104.78 630.14C100.57 628.03 96 623.29 91.08 620.65C86.16 618.02 79.49 615.38 75.27 614.33C71.05 613.27 67.36 636.11 65.78 614.33C64.2 592.54 64.73 507.16 65.78 483.62C66.84 460.08 70 475.37 72.11 473.08Z"/></clipPath><clipPath id="ca11"><rect x="218.1" y="269.8" width="139.9" height="183.9"/></clipPath><clipPath id="cb11"><path d="M214.11 473.08C215.86 470.8 216.57 471.68 218.32 469.92C220.08 468.16 221.84 464.12 224.65 462.54C227.46 460.96 231.15 460.43 235.19 460.43C239.23 460.43 243.62 461.31 248.89 462.54C254.16 463.77 260.66 466.05 266.81 467.81C272.96 469.57 279.99 471.15 285.79 473.08C291.58 475.01 296.33 477.12 301.6 479.41C306.87 481.69 313.02 484.32 317.41 486.78C321.8 489.24 324.79 491.53 327.95 494.16C331.11 496.8 333.92 499.43 336.38 502.6C338.84 505.76 341.21 509.27 342.71 513.14C344.2 517 344.64 521.57 345.34 525.79C346.04 530 347.01 534.04 346.92 538.43C346.83 542.83 345.69 547.57 344.81 552.14C343.93 556.7 343.23 561.45 341.65 565.84C340.07 570.23 337.96 574.62 335.33 578.49C332.69 582.35 329.18 585.52 325.84 589.03C322.5 592.54 318.81 596.41 315.3 599.57C311.79 602.73 307.92 605.54 304.76 608C301.6 610.46 298.43 611.52 296.33 614.33C294.22 617.14 294.22 622.06 292.11 624.87C290 627.68 287.19 629.61 283.68 631.19C280.16 632.77 275.24 634.35 271.03 634.35C266.81 634.35 262.95 632.6 258.38 631.19C253.81 629.79 248.19 628.03 243.62 625.92C239.05 623.81 235.19 620.12 230.97 618.54C226.76 616.96 222.19 616.79 218.32 616.44C214.46 616.08 209.54 638.57 207.78 616.44C206.03 594.3 206.73 507.51 207.78 483.62C208.84 459.73 212.35 475.37 214.11 473.08Z"/></clipPath><clipPath id="ca12"><rect x="361.2" y="269.8" width="137.9" height="183.9"/></clipPath><clipPath id="cb12"><path d="M357.11 464.65C358.69 463.59 358.86 465.7 360.27 466.76C361.68 467.81 363.26 471.5 365.54 470.97C367.82 470.45 370.46 465.09 373.97 463.59C377.49 462.1 381.88 461.66 386.62 462.01C391.37 462.37 397.16 464.03 402.43 465.7C407.7 467.37 413.85 470.62 418.24 472.03C422.64 473.43 425.45 474.14 428.79 474.14C432.12 474.14 435.11 473.7 438.27 472.03C441.43 470.36 446.53 463.59 447.76 464.12C448.99 464.65 446.7 472.64 445.65 475.19C444.6 477.74 440.73 477.47 441.43 479.41C442.14 481.34 446.7 483.97 449.87 486.78C453.03 489.6 456.89 492.93 460.41 496.27C463.92 499.61 467.79 502.95 470.95 506.81C474.11 510.68 477.27 515.24 479.38 519.46C481.49 523.68 482.28 527.89 483.6 532.11C484.91 536.33 486.93 540.54 487.29 544.76C487.64 548.97 486.67 553.54 485.71 557.41C484.74 561.27 483.25 564.79 481.49 567.95C479.73 571.11 477.27 573.22 475.16 576.38C473.06 579.54 470.77 583.06 468.84 586.92C466.91 590.79 465.33 595.71 463.57 599.57C461.81 603.44 459.88 606.95 458.3 610.11C456.72 613.27 456.19 616.08 454.08 618.54C451.97 621 448.46 623.46 445.65 624.87C442.84 626.27 439.68 625.92 437.22 626.98C434.76 628.03 433.7 629.96 430.89 631.19C428.08 632.42 424.22 634 420.35 634.35C416.49 634.71 411.57 634.18 407.7 633.3C403.84 632.42 400.68 630.84 397.16 629.08C393.65 627.33 390.49 624.17 386.62 622.76C382.76 621.35 378.37 621.71 373.97 620.65C369.58 619.6 364.14 617.14 360.27 616.44C356.41 615.73 352.36 640.33 350.78 616.44C349.2 592.54 349.73 498.38 350.78 473.08C351.84 447.78 355.53 465.7 357.11 464.65Z"/></clipPath><clipPath id="ca13"><rect x="503.1" y="269.8" width="140.3" height="183.9"/></clipPath><clipPath id="cb13"><path d="M499.05 479.41C500.55 476.95 501.16 476.07 502.74 474.14C504.32 472.2 505.82 469.3 508.54 467.81C511.26 466.32 514.69 465.44 519.08 465.18C523.47 464.91 529.62 465.53 534.89 466.23C540.16 466.93 545.43 468.07 550.7 469.39C555.97 470.71 561.24 472.12 566.51 474.14C571.79 476.16 577.41 478.7 582.33 481.51C587.24 484.32 591.99 487.66 596.03 491C600.07 494.34 603.41 497.85 606.57 501.54C609.73 505.23 612.72 509.1 615 513.14C617.29 517.18 618.87 521.57 620.27 525.79C621.68 530 622.82 534.57 623.43 538.43C624.05 542.3 624.31 545.46 623.96 548.97C623.61 552.49 622.47 556.35 621.33 559.52C620.18 562.68 619.04 565.31 617.11 567.95C615.18 570.58 611.66 573.22 609.73 575.33C607.8 577.43 606.57 578.31 605.52 580.6C604.46 582.88 604.46 585.87 603.41 589.03C602.35 592.19 600.95 596.41 599.19 599.57C597.43 602.73 595.33 605.19 592.87 608C590.41 610.81 587.24 613.98 584.43 616.44C581.62 618.9 578.81 620.65 576 622.76C573.19 624.87 570.73 627.68 567.57 629.08C564.41 630.49 560.54 631.19 557.03 631.19C553.51 631.19 550 630.14 546.49 629.08C542.97 628.03 539.64 626.62 535.95 624.87C532.26 623.11 528.04 619.95 524.35 618.54C520.66 617.14 517.41 617.49 513.81 616.44C510.21 615.38 506.08 613.27 502.74 612.22C499.41 611.17 495.28 630.67 493.78 610.11C492.29 589.56 492.91 510.68 493.78 488.89C494.66 467.11 497.56 481.87 499.05 479.41Z"/></clipPath><clipPath id="ca20"><rect x="74.8" y="456.6" width="141.1" height="184.2"/></clipPath><clipPath id="cb20"><path d="M72.11 473.08C74.22 470.8 75.8 471.68 78.43 469.92C81.07 468.16 84.05 463.68 87.92 462.54C91.78 461.4 95.82 462.72 101.62 463.07C107.42 463.42 115.68 463.68 122.7 464.65C129.73 465.62 137.64 466.93 143.79 468.87C149.93 470.8 154.33 473.61 159.6 476.24C164.87 478.88 170.49 481.51 175.41 484.68C180.33 487.84 185.25 491.53 189.11 495.22C192.98 498.91 195.79 503.12 198.6 506.81C201.41 510.5 204.13 514.37 205.98 517.35C207.82 520.34 209.84 522.54 209.66 524.73C209.49 526.93 208 528.77 204.92 530.53C201.85 532.29 196.14 534.74 191.22 535.27C186.3 535.8 179.8 534.04 175.41 533.69C171.02 533.34 167.15 533.43 164.87 533.16C162.58 532.9 161.18 531.32 161.7 532.11C162.23 532.9 163.99 536.85 168.03 537.91C172.07 538.96 179.45 537.82 185.95 538.43C192.45 539.05 203.08 540.37 207.03 541.6C210.98 542.83 209.66 543.18 209.66 545.81C209.66 548.45 208.35 553.37 207.03 557.41C205.71 561.45 203.87 566.02 201.76 570.06C199.65 574.1 197.02 577.79 194.38 581.65C191.75 585.52 189.11 589.56 185.95 593.25C182.79 596.94 178.92 600.62 175.41 603.79C171.89 606.95 168.38 609.94 164.87 612.22C161.35 614.5 157.14 615.21 154.33 617.49C151.52 619.77 150.64 623.29 148 625.92C145.37 628.56 142.03 631.72 138.51 633.3C135 634.88 130.61 635.41 126.92 635.41C123.23 635.41 120.07 634.18 116.38 633.3C112.69 632.42 109 632.25 104.78 630.14C100.57 628.03 96 623.29 91.08 620.65C86.16 618.02 79.49 615.38 75.27 614.33C71.05 613.27 67.36 636.11 65.78 614.33C64.2 592.54 64.73 507.16 65.78 483.62C66.84 460.08 70 475.37 72.11 473.08Z"/></clipPath><clipPath id="ca21"><rect x="218.1" y="456.6" width="139.9" height="184.2"/></clipPath><clipPath id="cb21"><path d="M214.11 473.08C215.86 470.8 216.57 471.68 218.32 469.92C220.08 468.16 221.84 464.12 224.65 462.54C227.46 460.96 231.15 460.43 235.19 460.43C239.23 460.43 243.62 461.31 248.89 462.54C254.16 463.77 260.66 466.05 266.81 467.81C272.96 469.57 279.99 471.15 285.79 473.08C291.58 475.01 296.33 477.12 301.6 479.41C306.87 481.69 313.02 484.32 317.41 486.78C321.8 489.24 324.79 491.53 327.95 494.16C331.11 496.8 333.92 499.43 336.38 502.6C338.84 505.76 341.21 509.27 342.71 513.14C344.2 517 344.64 521.57 345.34 525.79C346.04 530 347.01 534.04 346.92 538.43C346.83 542.83 345.69 547.57 344.81 552.14C343.93 556.7 343.23 561.45 341.65 565.84C340.07 570.23 337.96 574.62 335.33 578.49C332.69 582.35 329.18 585.52 325.84 589.03C322.5 592.54 318.81 596.41 315.3 599.57C311.79 602.73 307.92 605.54 304.76 608C301.6 610.46 298.43 611.52 296.33 614.33C294.22 617.14 294.22 622.06 292.11 624.87C290 627.68 287.19 629.61 283.68 631.19C280.16 632.77 275.24 634.35 271.03 634.35C266.81 634.35 262.95 632.6 258.38 631.19C253.81 629.79 248.19 628.03 243.62 625.92C239.05 623.81 235.19 620.12 230.97 618.54C226.76 616.96 222.19 616.79 218.32 616.44C214.46 616.08 209.54 638.57 207.78 616.44C206.03 594.3 206.73 507.51 207.78 483.62C208.84 459.73 212.35 475.37 214.11 473.08Z"/></clipPath><clipPath id="ca22"><rect x="360.5" y="456.6" width="139.4" height="184.2"/></clipPath><clipPath id="cb22"><path d="M357.11 464.65C358.69 463.59 358.86 465.7 360.27 466.76C361.68 467.81 363.26 471.5 365.54 470.97C367.82 470.45 370.46 465.09 373.97 463.59C377.49 462.1 381.88 461.66 386.62 462.01C391.37 462.37 397.16 464.03 402.43 465.7C407.7 467.37 413.85 470.62 418.24 472.03C422.64 473.43 425.45 474.14 428.79 474.14C432.12 474.14 435.11 473.7 438.27 472.03C441.43 470.36 446.53 463.59 447.76 464.12C448.99 464.65 446.7 472.64 445.65 475.19C444.6 477.74 440.73 477.47 441.43 479.41C442.14 481.34 446.7 483.97 449.87 486.78C453.03 489.6 456.89 492.93 460.41 496.27C463.92 499.61 467.79 502.95 470.95 506.81C474.11 510.68 477.27 515.24 479.38 519.46C481.49 523.68 482.28 527.89 483.6 532.11C484.91 536.33 486.93 540.54 487.29 544.76C487.64 548.97 486.67 553.54 485.71 557.41C484.74 561.27 483.25 564.79 481.49 567.95C479.73 571.11 477.27 573.22 475.16 576.38C473.06 579.54 470.77 583.06 468.84 586.92C466.91 590.79 465.33 595.71 463.57 599.57C461.81 603.44 459.88 606.95 458.3 610.11C456.72 613.27 456.19 616.08 454.08 618.54C451.97 621 448.46 623.46 445.65 624.87C442.84 626.27 439.68 625.92 437.22 626.98C434.76 628.03 433.7 629.96 430.89 631.19C428.08 632.42 424.22 634 420.35 634.35C416.49 634.71 411.57 634.18 407.7 633.3C403.84 632.42 400.68 630.84 397.16 629.08C393.65 627.33 390.49 624.17 386.62 622.76C382.76 621.35 378.37 621.71 373.97 620.65C369.58 619.6 364.14 617.14 360.27 616.44C356.41 615.73 352.36 640.33 350.78 616.44C349.2 592.54 349.73 498.38 350.78 473.08C351.84 447.78 355.53 465.7 357.11 464.65Z"/></clipPath><clipPath id="ca23"><rect x="502.7" y="456.6" width="140.6" height="184.2"/></clipPath><clipPath id="cb23"><path d="M499.05 479.41C500.55 476.95 501.16 476.07 502.74 474.14C504.32 472.2 505.82 469.3 508.54 467.81C511.26 466.32 514.69 465.44 519.08 465.18C523.47 464.91 529.62 465.53 534.89 466.23C540.16 466.93 545.43 468.07 550.7 469.39C555.97 470.71 561.24 472.12 566.51 474.14C571.79 476.16 577.41 478.7 582.33 481.51C587.24 484.32 591.99 487.66 596.03 491C600.07 494.34 603.41 497.85 606.57 501.54C609.73 505.23 612.72 509.1 615 513.14C617.29 517.18 618.87 521.57 620.27 525.79C621.68 530 622.82 534.57 623.43 538.43C624.05 542.3 624.31 545.46 623.96 548.97C623.61 552.49 622.47 556.35 621.33 559.52C620.18 562.68 619.04 565.31 617.11 567.95C615.18 570.58 611.66 573.22 609.73 575.33C607.8 577.43 606.57 578.31 605.52 580.6C604.46 582.88 604.46 585.87 603.41 589.03C602.35 592.19 600.95 596.41 599.19 599.57C597.43 602.73 595.33 605.19 592.87 608C590.41 610.81 587.24 613.98 584.43 616.44C581.62 618.9 578.81 620.65 576 622.76C573.19 624.87 570.73 627.68 567.57 629.08C564.41 630.49 560.54 631.19 557.03 631.19C553.51 631.19 550 630.14 546.49 629.08C542.97 628.03 539.64 626.62 535.95 624.87C532.26 623.11 528.04 619.95 524.35 618.54C520.66 617.14 517.41 617.49 513.81 616.44C510.21 615.38 506.08 613.27 502.74 612.22C499.41 611.17 495.28 630.67 493.78 610.11C492.29 589.56 492.91 510.68 493.78 488.89C494.66 467.11 497.56 481.87 499.05 479.41Z"/></clipPath></defs>
<text x="4.5" y="30.8" font-size="41" text-anchor="start" fill="#000" font-weight="bold" >a</text>
<rect x="74.1" y="13.1" width="570.5" height="67.4" fill="#000" stroke="none" stroke-width="0" />
<rect x="77" y="15.9" width="137" height="61.9" fill="#fff" stroke="none" stroke-width="0" />
<text x="148.5" y="42" font-size="19" text-anchor="middle" fill="#000" >Not Ablated</text>
<text x="148.5" y="64.6" font-size="19" text-anchor="middle" fill="#000" >+ Sham</text>
<rect x="220" y="15.9" width="137.2" height="61.9" fill="#fff" stroke="none" stroke-width="0" />
<text x="289.2" y="42" font-size="19" text-anchor="middle" fill="#000" >Ablated</text>
<text x="289.2" y="64.6" font-size="19" text-anchor="middle" fill="#000" >+ Sham</text>
<rect x="361.8" y="15.9" width="137.2" height="61.9" fill="#fff" stroke="none" stroke-width="0" />
<text x="429.8" y="42" font-size="19" text-anchor="middle" fill="#000" >Not Ablated</text>
<text x="429.8" y="64.6" font-size="19" text-anchor="middle" fill="#000" >+ TBI</text>
<rect x="504.8" y="15.9" width="137" height="61.9" fill="#fff" stroke="none" stroke-width="0" />
<text x="570.5" y="42" font-size="19" text-anchor="middle" fill="#000" >Ablated</text>
<text x="570.5" y="64.6" font-size="19" text-anchor="middle" fill="#000" >+ TBI</text>
<rect x="36" y="81.1" width="37.5" height="560.8" fill="#000" stroke="none" stroke-width="0" />
<rect x="38.8" y="83.8" width="32.2" height="181" fill="#fff" stroke="none" stroke-width="0" />
<text x="61.2" y="178.5" font-size="19.4" text-anchor="middle" fill="#000" transform="rotate(-90 61.2 178.5)" >GFAP</text>
<rect x="38.8" y="270.2" width="32.2" height="181.5" fill="#fff" stroke="none" stroke-width="0" />
<text x="61.2" y="365.45" font-size="19.4" text-anchor="middle" fill="#000" transform="rotate(-90 61.2 365.45)" >Iba1</text>
<rect x="38.8" y="458.1" width="32.2" height="181.1" fill="#fff" stroke="none" stroke-width="0" />
<text x="61.2" y="550.55" font-size="19.4" text-anchor="middle" fill="#000" transform="rotate(-90 61.2 550.55)" >Merge</text>
<g clip-path="url(#ca00)">
<rect x="74.8" y="81.9" width="139.7" height="184.8" fill="#000" stroke="none" stroke-width="0" />
<g transform="matrix(0.98 0 0 0.945 1.5 -343.66)">
<path d="M72.11 473.08C74.22 470.8 75.8 471.68 78.43 469.92C81.07 468.16 84.05 463.68 87.92 462.54C91.78 461.4 95.82 462.72 101.62 463.07C107.42 463.42 115.68 463.68 122.7 464.65C129.73 465.62 137.64 466.93 143.79 468.87C149.93 470.8 154.33 473.61 159.6 476.24C164.87 478.88 170.49 481.51 175.41 484.68C180.33 487.84 185.25 491.53 189.11 495.22C192.98 498.91 195.79 503.12 198.6 506.81C201.41 510.5 204.13 514.37 205.98 517.35C207.82 520.34 209.84 522.54 209.66 524.73C209.49 526.93 208 528.77 204.92 530.53C201.85 532.29 196.14 534.74 191.22 535.27C186.3 535.8 179.8 534.04 175.41 533.69C171.02 533.34 167.15 533.43 164.87 533.16C162.58 532.9 161.18 531.32 161.7 532.11C162.23 532.9 163.99 536.85 168.03 537.91C172.07 538.96 179.45 537.82 185.95 538.43C192.45 539.05 203.08 540.37 207.03 541.6C210.98 542.83 209.66 543.18 209.66 545.81C209.66 548.45 208.35 553.37 207.03 557.41C205.71 561.45 203.87 566.02 201.76 570.06C199.65 574.1 197.02 577.79 194.38 581.65C191.75 585.52 189.11 589.56 185.95 593.25C182.79 596.94 178.92 600.62 175.41 603.79C171.89 606.95 168.38 609.94 164.87 612.22C161.35 614.5 157.14 615.21 154.33 617.49C151.52 619.77 150.64 623.29 148 625.92C145.37 628.56 142.03 631.72 138.51 633.3C135 634.88 130.61 635.41 126.92 635.41C123.23 635.41 120.07 634.18 116.38 633.3C112.69 632.42 109 632.25 104.78 630.14C100.57 628.03 96 623.29 91.08 620.65C86.16 618.02 79.49 615.38 75.27 614.33C71.05 613.27 67.36 636.11 65.78 614.33C64.2 592.54 64.73 507.16 65.78 483.62C66.84 460.08 70 475.37 72.11 473.08Z" fill="#150000" opacity="1" filter="url(#nz0)"/>
<g clip-path="url(#cb20)">
<ellipse cx="83.7" cy="546.87" rx="12" ry="38" fill="#ff2a2a" opacity="0.16" filter="url(#bl6)"/>
<ellipse cx="101.62" cy="502.6" rx="35" ry="6" fill="#ff2a2a" opacity="0.25" filter="url(#bl6)"/>
<ellipse cx="112.16" cy="604.84" rx="30" ry="14" fill="#ff2a2a" opacity="0.1" filter="url(#bl6)"/>
<ellipse cx="154.33" cy="546.87" rx="40" ry="45" fill="#000" opacity="0.6" filter="url(#bl6)"/>
<path d="M72.11 473.08C74.22 470.8 75.8 471.68 78.43 469.92C81.07 468.16 84.05 463.68 87.92 462.54C91.78 461.4 95.82 462.72 101.62 463.07C107.42 463.42 115.68 463.68 122.7 464.65C129.73 465.62 137.64 466.93 143.79 468.87C149.93 470.8 154.33 473.61 159.6 476.24C164.87 478.88 170.49 481.51 175.41 484.68C180.33 487.84 185.25 491.53 189.11 495.22C192.98 498.91 195.79 503.12 198.6 506.81C201.41 510.5 204.13 514.37 205.98 517.35C207.82 520.34 209.84 522.54 209.66 524.73C209.49 526.93 208 528.77 204.92 530.53C201.85 532.29 196.14 534.74 191.22 535.27C186.3 535.8 179.8 534.04 175.41 533.69C171.02 533.34 167.15 533.43 164.87 533.16C162.58 532.9 161.18 531.32 161.7 532.11C162.23 532.9 163.99 536.85 168.03 537.91C172.07 538.96 179.45 537.82 185.95 538.43C192.45 539.05 203.08 540.37 207.03 541.6C210.98 542.83 209.66 543.18 209.66 545.81C209.66 548.45 208.35 553.37 207.03 557.41C205.71 561.45 203.87 566.02 201.76 570.06C199.65 574.1 197.02 577.79 194.38 581.65C191.75 585.52 189.11 589.56 185.95 593.25C182.79 596.94 178.92 600.62 175.41 603.79C171.89 606.95 168.38 609.94 164.87 612.22C161.35 614.5 157.14 615.21 154.33 617.49C151.52 619.77 150.64 623.29 148 625.92C145.37 628.56 142.03 631.72 138.51 633.3C135 634.88 130.61 635.41 126.92 635.41C123.23 635.41 120.07 634.18 116.38 633.3C112.69 632.42 109 632.25 104.78 630.14C100.57 628.03 96 623.29 91.08 620.65C86.16 618.02 79.49 615.38 75.27 614.33C71.05 613.27 67.36 636.11 65.78 614.33C64.2 592.54 64.73 507.16 65.78 483.62C66.84 460.08 70 475.37 72.11 473.08Z" fill="none" stroke="#e01818" stroke-width="1.6" opacity="0.75" filter="url(#bl1)"/>
</g>
<ellipse cx="79.5" cy="623.8" rx="5.2" ry="4.6" fill="#d01818" opacity="0.85" filter="url(#bl1)"/>
<path d="M90.03 514.19C90.91 511.38 97.23 511.91 100.57 511.03C103.91 510.15 108.83 507.51 110.05 508.92C111.28 510.33 108.74 515.6 107.95 519.46C107.16 523.33 106.05 527.54 105.31 532.11C104.57 536.68 103.99 541.77 103.52 546.87C103.05 551.96 102.87 561.27 102.47 562.68C102.06 564.08 101.59 558.64 101.1 555.3C100.6 551.96 100.48 547.22 99.51 542.65C98.55 538.08 96.88 532.64 95.3 527.89C93.72 523.15 89.15 517 90.03 514.19Z" fill="#000" fill-opacity="1" stroke="#e01818" stroke-width="0.8" stroke-opacity="0.52"/>
</g>
<rect x="84.4" y="258.4" width="27.2" height="3.3" fill="#fff" stroke="none" stroke-width="0" />
<text x="84.8" y="255.8" font-size="8.4" text-anchor="start" fill="#fff" >1000 µm</text>
</g>
<g clip-path="url(#ca01)">
<rect x="218.1" y="81.9" width="139.9" height="184.8" fill="#000" stroke="none" stroke-width="0" />
<g transform="matrix(0.98 0 0 0.945 4.36 -343.66)">
<path d="M214.11 473.08C215.86 470.8 216.57 471.68 218.32 469.92C220.08 468.16 221.84 464.12 224.65 462.54C227.46 460.96 231.15 460.43 235.19 460.43C239.23 460.43 243.62 461.31 248.89 462.54C254.16 463.77 260.66 466.05 266.81 467.81C272.96 469.57 279.99 471.15 285.79 473.08C291.58 475.01 296.33 477.12 301.6 479.41C306.87 481.69 313.02 484.32 317.41 486.78C321.8 489.24 324.79 491.53 327.95 494.16C331.11 496.8 333.92 499.43 336.38 502.6C338.84 505.76 341.21 509.27 342.71 513.14C344.2 517 344.64 521.57 345.34 525.79C346.04 530 347.01 534.04 346.92 538.43C346.83 542.83 345.69 547.57 344.81 552.14C343.93 556.7 343.23 561.45 341.65 565.84C340.07 570.23 337.96 574.62 335.33 578.49C332.69 582.35 329.18 585.52 325.84 589.03C322.5 592.54 318.81 596.41 315.3 599.57C311.79 602.73 307.92 605.54 304.76 608C301.6 610.46 298.43 611.52 296.33 614.33C294.22 617.14 294.22 622.06 292.11 624.87C290 627.68 287.19 629.61 283.68 631.19C280.16 632.77 275.24 634.35 271.03 634.35C266.81 634.35 262.95 632.6 258.38 631.19C253.81 629.79 248.19 628.03 243.62 625.92C239.05 623.81 235.19 620.12 230.97 618.54C226.76 616.96 222.19 616.79 218.32 616.44C214.46 616.08 209.54 638.57 207.78 616.44C206.03 594.3 206.73 507.51 207.78 483.62C208.84 459.73 212.35 475.37 214.11 473.08Z" fill="#410505" opacity="1" filter="url(#nz0)"/>
<g clip-path="url(#cb21)">
<ellipse cx="243.62" cy="499.43" rx="45" ry="10" fill="#ff2a2a" opacity="0.2" filter="url(#bl6)"/>
<ellipse cx="224.65" cy="536.33" rx="10" ry="30" fill="#ff2a2a" opacity="0.15" filter="url(#bl6)"/>
<ellipse cx="285.79" cy="557.41" rx="45" ry="50" fill="#000" opacity="0.25" filter="url(#bl6)"/>
<path d="M214.11 473.08C215.86 470.8 216.57 471.68 218.32 469.92C220.08 468.16 221.84 464.12 224.65 462.54C227.46 460.96 231.15 460.43 235.19 460.43C239.23 460.43 243.62 461.31 248.89 462.54C254.16 463.77 260.66 466.05 266.81 467.81C272.96 469.57 279.99 471.15 285.79 473.08C291.58 475.01 296.33 477.12 301.6 479.41C306.87 481.69 313.02 484.32 317.41 486.78C321.8 489.24 324.79 491.53 327.95 494.16C331.11 496.8 333.92 499.43 336.38 502.6C338.84 505.76 341.21 509.27 342.71 513.14C344.2 517 344.64 521.57 345.34 525.79C346.04 530 347.01 534.04 346.92 538.43C346.83 542.83 345.69 547.57 344.81 552.14C343.93 556.7 343.23 561.45 341.65 565.84C340.07 570.23 337.96 574.62 335.33 578.49C332.69 582.35 329.18 585.52 325.84 589.03C322.5 592.54 318.81 596.41 315.3 599.57C311.79 602.73 307.92 605.54 304.76 608C301.6 610.46 298.43 611.52 296.33 614.33C294.22 617.14 294.22 622.06 292.11 624.87C290 627.68 287.19 629.61 283.68 631.19C280.16 632.77 275.24 634.35 271.03 634.35C266.81 634.35 262.95 632.6 258.38 631.19C253.81 629.79 248.19 628.03 243.62 625.92C239.05 623.81 235.19 620.12 230.97 618.54C226.76 616.96 222.19 616.79 218.32 616.44C214.46 616.08 209.54 638.57 207.78 616.44C206.03 594.3 206.73 507.51 207.78 483.62C208.84 459.73 212.35 475.37 214.11 473.08Z" fill="none" stroke="#c81414" stroke-width="1.6" opacity="0.5" filter="url(#bl1)"/>
</g>
<path d="M230.97 514.72C231.5 512.78 236.6 513.58 239.41 513.14C242.22 512.7 246.78 510.33 247.84 512.08C248.89 513.84 246.43 519.81 245.73 523.68C245.03 527.54 243.8 531.41 243.62 535.27C243.45 539.14 244.64 541.95 244.68 546.87C244.71 551.79 244.18 563.73 243.83 564.79C243.48 565.84 243.13 557.93 242.57 553.19C242.01 548.45 241.51 541.07 240.46 536.33C239.41 531.58 237.82 528.33 236.24 524.73C234.66 521.13 230.45 516.65 230.97 514.72Z" fill="#000" fill-opacity="1" stroke="#c81414" stroke-width="0.8" stroke-opacity="0.35"/>
</g>
<rect x="226.3" y="258.4" width="23.7" height="3.3" fill="#fff" stroke="none" stroke-width="0" />
<text x="227.2" y="255.8" font-size="8.4" text-anchor="start" fill="#fff" >750 µm</text>
</g>
<g clip-path="url(#ca02)">
<rect x="361.2" y="81.9" width="137.9" height="184.8" fill="#000" stroke="none" stroke-width="0" />
<g transform="matrix(0.98 0 0 0.945 7.22 -343.66)">
<path d="M357.11 464.65C358.69 463.59 358.86 465.7 360.27 466.76C361.68 467.81 363.26 471.5 365.54 470.97C367.82 470.45 370.46 465.09 373.97 463.59C377.49 462.1 381.88 461.66 386.62 462.01C391.37 462.37 397.16 464.03 402.43 465.7C407.7 467.37 413.85 470.62 418.24 472.03C422.64 473.43 425.45 474.14 428.79 474.14C432.12 474.14 435.11 473.7 438.27 472.03C441.43 470.36 446.53 463.59 447.76 464.12C448.99 464.65 446.7 472.64 445.65 475.19C444.6 477.74 440.73 477.47 441.43 479.41C442.14 481.34 446.7 483.97 449.87 486.78C453.03 489.6 456.89 492.93 460.41 496.27C463.92 499.61 467.79 502.95 470.95 506.81C474.11 510.68 477.27 515.24 479.38 519.46C481.49 523.68 482.28 527.89 483.6 532.11C484.91 536.33 486.93 540.54 487.29 544.76C487.64 548.97 486.67 553.54 485.71 557.41C484.74 561.27 483.25 564.79 481.49 567.95C479.73 571.11 477.27 573.22 475.16 576.38C473.06 579.54 470.77 583.06 468.84 586.92C466.91 590.79 465.33 595.71 463.57 599.57C461.81 603.44 459.88 606.95 458.3 610.11C456.72 613.27 456.19 616.08 454.08 618.54C451.97 621 448.46 623.46 445.65 624.87C442.84 626.27 439.68 625.92 437.22 626.98C434.76 628.03 433.7 629.96 430.89 631.19C428.08 632.42 424.22 634 420.35 634.35C416.49 634.71 411.57 634.18 407.7 633.3C403.84 632.42 400.68 630.84 397.16 629.08C393.65 627.33 390.49 624.17 386.62 622.76C382.76 621.35 378.37 621.71 373.97 620.65C369.58 619.6 364.14 617.14 360.27 616.44C356.41 615.73 352.36 640.33 350.78 616.44C349.2 592.54 349.73 498.38 350.78 473.08C351.84 447.78 355.53 465.7 357.11 464.65Z" fill="#2a0202" opacity="1" filter="url(#nz0)"/>
<g clip-path="url(#cb22)">
<ellipse cx="369.76" cy="552.14" rx="12" ry="35" fill="#ff2a2a" opacity="0.3" filter="url(#bl6)"/>
<ellipse cx="386.62" cy="506.81" rx="30" ry="6" fill="#ff2a2a" opacity="0.25" filter="url(#bl6)"/>
<ellipse cx="447.76" cy="589.03" rx="18" ry="30" fill="#ff2a2a" opacity="0.24" filter="url(#bl6)"/>
<ellipse cx="391.89" cy="604.84" rx="25" ry="14" fill="#ff2a2a" opacity="0.15" filter="url(#bl6)"/>
<ellipse cx="423.51" cy="531.06" rx="38" ry="38" fill="#000" opacity="0.5" filter="url(#bl6)"/>
<path d="M357.11 464.65C358.69 463.59 358.86 465.7 360.27 466.76C361.68 467.81 363.26 471.5 365.54 470.97C367.82 470.45 370.46 465.09 373.97 463.59C377.49 462.1 381.88 461.66 386.62 462.01C391.37 462.37 397.16 464.03 402.43 465.7C407.7 467.37 413.85 470.62 418.24 472.03C422.64 473.43 425.45 474.14 428.79 474.14C432.12 474.14 435.11 473.7 438.27 472.03C441.43 470.36 446.53 463.59 447.76 464.12C448.99 464.65 446.7 472.64 445.65 475.19C444.6 477.74 440.73 477.47 441.43 479.41C442.14 481.34 446.7 483.97 449.87 486.78C453.03 489.6 456.89 492.93 460.41 496.27C463.92 499.61 467.79 502.95 470.95 506.81C474.11 510.68 477.27 515.24 479.38 519.46C481.49 523.68 482.28 527.89 483.6 532.11C484.91 536.33 486.93 540.54 487.29 544.76C487.64 548.97 486.67 553.54 485.71 557.41C484.74 561.27 483.25 564.79 481.49 567.95C479.73 571.11 477.27 573.22 475.16 576.38C473.06 579.54 470.77 583.06 468.84 586.92C466.91 590.79 465.33 595.71 463.57 599.57C461.81 603.44 459.88 606.95 458.3 610.11C456.72 613.27 456.19 616.08 454.08 618.54C451.97 621 448.46 623.46 445.65 624.87C442.84 626.27 439.68 625.92 437.22 626.98C434.76 628.03 433.7 629.96 430.89 631.19C428.08 632.42 424.22 634 420.35 634.35C416.49 634.71 411.57 634.18 407.7 633.3C403.84 632.42 400.68 630.84 397.16 629.08C393.65 627.33 390.49 624.17 386.62 622.76C382.76 621.35 378.37 621.71 373.97 620.65C369.58 619.6 364.14 617.14 360.27 616.44C356.41 615.73 352.36 640.33 350.78 616.44C349.2 592.54 349.73 498.38 350.78 473.08C351.84 447.78 355.53 465.7 357.11 464.65Z" fill="none" stroke="#c01414" stroke-width="1.6" opacity="0.45" filter="url(#bl1)"/>
</g>
<path d="M377.66 515.77C378.28 514.19 382.32 515.51 384.51 515.24C386.71 514.98 390.1 512.43 390.84 514.19C391.58 515.95 389.08 522.1 388.94 525.79C388.8 529.47 389.75 532.81 390 536.33C390.24 539.84 390.77 543.35 390.42 546.87C390.07 550.38 388.87 554.6 387.89 557.41C386.9 560.22 384.87 564.96 384.51 563.73C384.16 562.5 385.74 554.77 385.78 550.03C385.81 545.29 385.55 539.49 384.72 535.27C383.9 531.06 382 527.98 380.82 524.73C379.65 521.48 377.05 517.35 377.66 515.77Z" fill="#000" fill-opacity="1" stroke="#c01414" stroke-width="0.8" stroke-opacity="0.32"/>
</g>
<rect x="368.6" y="258.4" width="24" height="3.3" fill="#fff" stroke="none" stroke-width="0" />
<text x="368.6" y="255.8" font-size="8.4" text-anchor="start" fill="#fff" >750 µm</text>
<path d="M424 191.7V184.2H431.5M439.5 184.2h11.6M458.9 184.2h11.6M478.2 184.2H486.2V192.2M424 199.7v11.6M424 219.1v11.6M424 238.5V250.1M486.2 201.7v11.6M486.2 221.1v11.6M486.2 240.5V254.2M429.5 252.6h11.6M448.9 252.6h11.6M468.3 252.6h11.6" fill="none" stroke="#fff" stroke-width="3.2"/>
</g>
<g clip-path="url(#ca03)">
<rect x="502.3" y="81.9" width="141.1" height="184.8" fill="#000" stroke="none" stroke-width="0" />
<g transform="matrix(0.98 0 0 0.945 9.56 -343.66)">
<path d="M499.05 479.41C500.55 476.95 501.16 476.07 502.74 474.14C504.32 472.2 505.82 469.3 508.54 467.81C511.26 466.32 514.69 465.44 519.08 465.18C523.47 464.91 529.62 465.53 534.89 466.23C540.16 466.93 545.43 468.07 550.7 469.39C555.97 470.71 561.24 472.12 566.51 474.14C571.79 476.16 577.41 478.7 582.33 481.51C587.24 484.32 591.99 487.66 596.03 491C600.07 494.34 603.41 497.85 606.57 501.54C609.73 505.23 612.72 509.1 615 513.14C617.29 517.18 618.87 521.57 620.27 525.79C621.68 530 622.82 534.57 623.43 538.43C624.05 542.3 624.31 545.46 623.96 548.97C623.61 552.49 622.47 556.35 621.33 559.52C620.18 562.68 619.04 565.31 617.11 567.95C615.18 570.58 611.66 573.22 609.73 575.33C607.8 577.43 606.57 578.31 605.52 580.6C604.46 582.88 604.46 585.87 603.41 589.03C602.35 592.19 600.95 596.41 599.19 599.57C597.43 602.73 595.33 605.19 592.87 608C590.41 610.81 587.24 613.98 584.43 616.44C581.62 618.9 578.81 620.65 576 622.76C573.19 624.87 570.73 627.68 567.57 629.08C564.41 630.49 560.54 631.19 557.03 631.19C553.51 631.19 550 630.14 546.49 629.08C542.97 628.03 539.64 626.62 535.95 624.87C532.26 623.11 528.04 619.95 524.35 618.54C520.66 617.14 517.41 617.49 513.81 616.44C510.21 615.38 506.08 613.27 502.74 612.22C499.41 611.17 495.28 630.67 493.78 610.11C492.29 589.56 492.91 510.68 493.78 488.89C494.66 467.11 497.56 481.87 499.05 479.41Z" fill="#870b0b" opacity="1" filter="url(#nz0)"/>
<g clip-path="url(#cb23)">
<ellipse cx="563.35" cy="497.33" rx="30" ry="12" fill="#ff3030" opacity="0.22" filter="url(#bl6)"/>
<ellipse cx="592.87" cy="532.11" rx="18" ry="28" fill="#ff3030" opacity="0.2" filter="url(#bl6)"/>
<ellipse cx="510.65" cy="536.33" rx="10" ry="30" fill="#ff3030" opacity="0.25" filter="url(#bl6)"/>
<ellipse cx="608.68" cy="575.33" rx="8" ry="5" fill="#ff5050" opacity="0.9" filter="url(#bl1)"/>
<ellipse cx="550.7" cy="557.41" rx="22" ry="30" fill="#000" opacity="0.35" filter="url(#bl6)"/>
<ellipse cx="529.62" cy="597.46" rx="30" ry="14" fill="#000" opacity="0.4" filter="url(#bl6)"/>
<path d="M499.05 479.41C500.55 476.95 501.16 476.07 502.74 474.14C504.32 472.2 505.82 469.3 508.54 467.81C511.26 466.32 514.69 465.44 519.08 465.18C523.47 464.91 529.62 465.53 534.89 466.23C540.16 466.93 545.43 468.07 550.7 469.39C555.97 470.71 561.24 472.12 566.51 474.14C571.79 476.16 577.41 478.7 582.33 481.51C587.24 484.32 591.99 487.66 596.03 491C600.07 494.34 603.41 497.85 606.57 501.54C609.73 505.23 612.72 509.1 615 513.14C617.29 517.18 618.87 521.57 620.27 525.79C621.68 530 622.82 534.57 623.43 538.43C624.05 542.3 624.31 545.46 623.96 548.97C623.61 552.49 622.47 556.35 621.33 559.52C620.18 562.68 619.04 565.31 617.11 567.95C615.18 570.58 611.66 573.22 609.73 575.33C607.8 577.43 606.57 578.31 605.52 580.6C604.46 582.88 604.46 585.87 603.41 589.03C602.35 592.19 600.95 596.41 599.19 599.57C597.43 602.73 595.33 605.19 592.87 608C590.41 610.81 587.24 613.98 584.43 616.44C581.62 618.9 578.81 620.65 576 622.76C573.19 624.87 570.73 627.68 567.57 629.08C564.41 630.49 560.54 631.19 557.03 631.19C553.51 631.19 550 630.14 546.49 629.08C542.97 628.03 539.64 626.62 535.95 624.87C532.26 623.11 528.04 619.95 524.35 618.54C520.66 617.14 517.41 617.49 513.81 616.44C510.21 615.38 506.08 613.27 502.74 612.22C499.41 611.17 495.28 630.67 493.78 610.11C492.29 589.56 492.91 510.68 493.78 488.89C494.66 467.11 497.56 481.87 499.05 479.41Z" fill="none" stroke="#f02020" stroke-width="1.6" opacity="0.6" filter="url(#bl1)"/>
</g>
<path d="M514.34 514.19C515.57 511.99 522.51 512.35 526.46 511.56C530.41 510.76 536.26 507.08 538.05 509.45C539.85 511.82 537.7 520.43 537.21 525.79C536.72 531.14 535.84 536.68 535.1 541.6C534.37 546.52 533.96 551.96 532.78 555.3C531.61 558.64 529.53 560.92 528.04 561.62C526.55 562.33 524.12 561.45 523.82 559.52C523.53 557.58 526.25 553.89 526.25 550.03C526.25 546.16 525.02 540.54 523.82 536.33C522.63 532.11 520.66 528.42 519.08 524.73C517.5 521.04 513.11 516.39 514.34 514.19Z" fill="#000" fill-opacity="1" stroke="#f02020" stroke-width="0.8" stroke-opacity="0.42"/>
</g>
<rect x="511" y="259.1" width="30" height="3.3" fill="#fff" stroke="none" stroke-width="0" />
<text x="509" y="255.8" font-size="8.4" text-anchor="start" fill="#fff" >1000 µm</text>
<path d="M557.4 191.7V184.2H564.9M572.9 184.2h11.6M592.3 184.2h11.6M612 184.2H620V192.2M557.4 199.7v11.6M557.4 219.1v11.6M557.4 238.5V250.1M620 201.7v11.6M620 221.1v11.6M620 240.5V254.2M562.9 252.6h11.6M582.3 252.6h11.6M601.7 252.6h11.6" fill="none" stroke="#fff" stroke-width="3.2"/>
</g>
<g clip-path="url(#ca10)">
<rect x="74.8" y="269.8" width="141.1" height="183.9" fill="#000" stroke="none" stroke-width="0" />
<g transform="matrix(1.0 0 0 0.9855 0 -178.19)">
<path d="M72.11 473.08C74.22 470.8 75.8 471.68 78.43 469.92C81.07 468.16 84.05 463.68 87.92 462.54C91.78 461.4 95.82 462.72 101.62 463.07C107.42 463.42 115.68 463.68 122.7 464.65C129.73 465.62 137.64 466.93 143.79 468.87C149.93 470.8 154.33 473.61 159.6 476.24C164.87 478.88 170.49 481.51 175.41 484.68C180.33 487.84 185.25 491.53 189.11 495.22C192.98 498.91 195.79 503.12 198.6 506.81C201.41 510.5 204.13 514.37 205.98 517.35C207.82 520.34 209.84 522.54 209.66 524.73C209.49 526.93 208 528.77 204.92 530.53C201.85 532.29 196.14 534.74 191.22 535.27C186.3 535.8 179.8 534.04 175.41 533.69C171.02 533.34 167.15 533.43 164.87 533.16C162.58 532.9 161.18 531.32 161.7 532.11C162.23 532.9 163.99 536.85 168.03 537.91C172.07 538.96 179.45 537.82 185.95 538.43C192.45 539.05 203.08 540.37 207.03 541.6C210.98 542.83 209.66 543.18 209.66 545.81C209.66 548.45 208.35 553.37 207.03 557.41C205.71 561.45 203.87 566.02 201.76 570.06C199.65 574.1 197.02 577.79 194.38 581.65C191.75 585.52 189.11 589.56 185.95 593.25C182.79 596.94 178.92 600.62 175.41 603.79C171.89 606.95 168.38 609.94 164.87 612.22C161.35 614.5 157.14 615.21 154.33 617.49C151.52 619.77 150.64 623.29 148 625.92C145.37 628.56 142.03 631.72 138.51 633.3C135 634.88 130.61 635.41 126.92 635.41C123.23 635.41 120.07 634.18 116.38 633.3C112.69 632.42 109 632.25 104.78 630.14C100.57 628.03 96 623.29 91.08 620.65C86.16 618.02 79.49 615.38 75.27 614.33C71.05 613.27 67.36 636.11 65.78 614.33C64.2 592.54 64.73 507.16 65.78 483.62C66.84 460.08 70 475.37 72.11 473.08Z" fill="#2c2c2c" opacity="1" filter="url(#nz1)"/>
<g clip-path="url(#cb20)">
<ellipse cx="96.35" cy="538.43" rx="20" ry="30" fill="#000" opacity="0.55" filter="url(#bl6)"/>
<path d="M116.2 451.6V645.8M155.7 451.6V645.8M194.2 451.6V645.8M69.8 488.8H220.9M69.8 531.2H220.9M69.8 573.6H220.9M69.8 615H220.9" stroke="#000" stroke-width="3.6" fill="none" opacity="0.5" filter="url(#bl1)"/>
<path d="M72.11 473.08C74.22 470.8 75.8 471.68 78.43 469.92C81.07 468.16 84.05 463.68 87.92 462.54C91.78 461.4 95.82 462.72 101.62 463.07C107.42 463.42 115.68 463.68 122.7 464.65C129.73 465.62 137.64 466.93 143.79 468.87C149.93 470.8 154.33 473.61 159.6 476.24C164.87 478.88 170.49 481.51 175.41 484.68C180.33 487.84 185.25 491.53 189.11 495.22C192.98 498.91 195.79 503.12 198.6 506.81C201.41 510.5 204.13 514.37 205.98 517.35C207.82 520.34 209.84 522.54 209.66 524.73C209.49 526.93 208 528.77 204.92 530.53C201.85 532.29 196.14 534.74 191.22 535.27C186.3 535.8 179.8 534.04 175.41 533.69C171.02 533.34 167.15 533.43 164.87 533.16C162.58 532.9 161.18 531.32 161.7 532.11C162.23 532.9 163.99 536.85 168.03 537.91C172.07 538.96 179.45 537.82 185.95 538.43C192.45 539.05 203.08 540.37 207.03 541.6C210.98 542.83 209.66 543.18 209.66 545.81C209.66 548.45 208.35 553.37 207.03 557.41C205.71 561.45 203.87 566.02 201.76 570.06C199.65 574.1 197.02 577.79 194.38 581.65C191.75 585.52 189.11 589.56 185.95 593.25C182.79 596.94 178.92 600.62 175.41 603.79C171.89 606.95 168.38 609.94 164.87 612.22C161.35 614.5 157.14 615.21 154.33 617.49C151.52 619.77 150.64 623.29 148 625.92C145.37 628.56 142.03 631.72 138.51 633.3C135 634.88 130.61 635.41 126.92 635.41C123.23 635.41 120.07 634.18 116.38 633.3C112.69 632.42 109 632.25 104.78 630.14C100.57 628.03 96 623.29 91.08 620.65C86.16 618.02 79.49 615.38 75.27 614.33C71.05 613.27 67.36 636.11 65.78 614.33C64.2 592.54 64.73 507.16 65.78 483.62C66.84 460.08 70 475.37 72.11 473.08Z" fill="none" stroke="#8a8a8a" stroke-width="1.6" opacity="0.3" filter="url(#bl1)"/>
</g>
<ellipse cx="79.5" cy="623.8" rx="5.2" ry="4.6" fill="#6a6a6a" opacity="0.85" filter="url(#bl1)"/>
<path d="M90.03 514.19C90.91 511.38 97.23 511.91 100.57 511.03C103.91 510.15 108.83 507.51 110.05 508.92C111.28 510.33 108.74 515.6 107.95 519.46C107.16 523.33 106.05 527.54 105.31 532.11C104.57 536.68 103.99 541.77 103.52 546.87C103.05 551.96 102.87 561.27 102.47 562.68C102.06 564.08 101.59 558.64 101.1 555.3C100.6 551.96 100.48 547.22 99.51 542.65C98.55 538.08 96.88 532.64 95.3 527.89C93.72 523.15 89.15 517 90.03 514.19Z" fill="#000" fill-opacity="0.75" stroke="#8a8a8a" stroke-width="0.8" stroke-opacity="0.21"/>
</g>
<rect x="84.4" y="445.4" width="27.2" height="3.3" fill="#fff" stroke="none" stroke-width="0" />
<text x="84.8" y="443.4" font-size="8.4" text-anchor="start" fill="#fff" >1000 µm</text>
</g>
<g clip-path="url(#ca11)">
<rect x="218.1" y="269.8" width="139.9" height="183.9" fill="#000" stroke="none" stroke-width="0" />
<g transform="matrix(1.0 0 0 0.9855 0 -178.19)">
<path d="M214.11 473.08C215.86 470.8 216.57 471.68 218.32 469.92C220.08 468.16 221.84 464.12 224.65 462.54C227.46 460.96 231.15 460.43 235.19 460.43C239.23 460.43 243.62 461.31 248.89 462.54C254.16 463.77 260.66 466.05 266.81 467.81C272.96 469.57 279.99 471.15 285.79 473.08C291.58 475.01 296.33 477.12 301.6 479.41C306.87 481.69 313.02 484.32 317.41 486.78C321.8 489.24 324.79 491.53 327.95 494.16C331.11 496.8 333.92 499.43 336.38 502.6C338.84 505.76 341.21 509.27 342.71 513.14C344.2 517 344.64 521.57 345.34 525.79C346.04 530 347.01 534.04 346.92 538.43C346.83 542.83 345.69 547.57 344.81 552.14C343.93 556.7 343.23 561.45 341.65 565.84C340.07 570.23 337.96 574.62 335.33 578.49C332.69 582.35 329.18 585.52 325.84 589.03C322.5 592.54 318.81 596.41 315.3 599.57C311.79 602.73 307.92 605.54 304.76 608C301.6 610.46 298.43 611.52 296.33 614.33C294.22 617.14 294.22 622.06 292.11 624.87C290 627.68 287.19 629.61 283.68 631.19C280.16 632.77 275.24 634.35 271.03 634.35C266.81 634.35 262.95 632.6 258.38 631.19C253.81 629.79 248.19 628.03 243.62 625.92C239.05 623.81 235.19 620.12 230.97 618.54C226.76 616.96 222.19 616.79 218.32 616.44C214.46 616.08 209.54 638.57 207.78 616.44C206.03 594.3 206.73 507.51 207.78 483.62C208.84 459.73 212.35 475.37 214.11 473.08Z" fill="#2f2f2f" opacity="1" filter="url(#nz1)"/>
<g clip-path="url(#cb21)">
<path d="M233.7 451.6V645.8M274.1 451.6V645.8M314.6 451.6V645.8M213.1 486H363M213.1 526.4H363M213.1 567.8H363M213.1 609.2H363" stroke="#000" stroke-width="3.6" fill="none" opacity="0.5" filter="url(#bl1)"/>
<path d="M214.11 473.08C215.86 470.8 216.57 471.68 218.32 469.92C220.08 468.16 221.84 464.12 224.65 462.54C227.46 460.96 231.15 460.43 235.19 460.43C239.23 460.43 243.62 461.31 248.89 462.54C254.16 463.77 260.66 466.05 266.81 467.81C272.96 469.57 279.99 471.15 285.79 473.08C291.58 475.01 296.33 477.12 301.6 479.41C306.87 481.69 313.02 484.32 317.41 486.78C321.8 489.24 324.79 491.53 327.95 494.16C331.11 496.8 333.92 499.43 336.38 502.6C338.84 505.76 341.21 509.27 342.71 513.14C344.2 517 344.64 521.57 345.34 525.79C346.04 530 347.01 534.04 346.92 538.43C346.83 542.83 345.69 547.57 344.81 552.14C343.93 556.7 343.23 561.45 341.65 565.84C340.07 570.23 337.96 574.62 335.33 578.49C332.69 582.35 329.18 585.52 325.84 589.03C322.5 592.54 318.81 596.41 315.3 599.57C311.79 602.73 307.92 605.54 304.76 608C301.6 610.46 298.43 611.52 296.33 614.33C294.22 617.14 294.22 622.06 292.11 624.87C290 627.68 287.19 629.61 283.68 631.19C280.16 632.77 275.24 634.35 271.03 634.35C266.81 634.35 262.95 632.6 258.38 631.19C253.81 629.79 248.19 628.03 243.62 625.92C239.05 623.81 235.19 620.12 230.97 618.54C226.76 616.96 222.19 616.79 218.32 616.44C214.46 616.08 209.54 638.57 207.78 616.44C206.03 594.3 206.73 507.51 207.78 483.62C208.84 459.73 212.35 475.37 214.11 473.08Z" fill="none" stroke="#8a8a8a" stroke-width="1.6" opacity="0.3" filter="url(#bl1)"/>
</g>
<path d="M230.97 514.72C231.5 512.78 236.6 513.58 239.41 513.14C242.22 512.7 246.78 510.33 247.84 512.08C248.89 513.84 246.43 519.81 245.73 523.68C245.03 527.54 243.8 531.41 243.62 535.27C243.45 539.14 244.64 541.95 244.68 546.87C244.71 551.79 244.18 563.73 243.83 564.79C243.48 565.84 243.13 557.93 242.57 553.19C242.01 548.45 241.51 541.07 240.46 536.33C239.41 531.58 237.82 528.33 236.24 524.73C234.66 521.13 230.45 516.65 230.97 514.72Z" fill="#000" fill-opacity="0.75" stroke="#8a8a8a" stroke-width="0.8" stroke-opacity="0.21"/>
</g>
<rect x="226.3" y="445.4" width="23.7" height="3.3" fill="#fff" stroke="none" stroke-width="0" />
<text x="227.2" y="443.4" font-size="8.4" text-anchor="start" fill="#fff" >750 µm</text>
</g>
<g clip-path="url(#ca12)">
<rect x="361.2" y="269.8" width="137.9" height="183.9" fill="#000" stroke="none" stroke-width="0" />
<g transform="matrix(1.0 0 0 0.9855 0 -178.19)">
<path d="M357.11 464.65C358.69 463.59 358.86 465.7 360.27 466.76C361.68 467.81 363.26 471.5 365.54 470.97C367.82 470.45 370.46 465.09 373.97 463.59C377.49 462.1 381.88 461.66 386.62 462.01C391.37 462.37 397.16 464.03 402.43 465.7C407.7 467.37 413.85 470.62 418.24 472.03C422.64 473.43 425.45 474.14 428.79 474.14C432.12 474.14 435.11 473.7 438.27 472.03C441.43 470.36 446.53 463.59 447.76 464.12C448.99 464.65 446.7 472.64 445.65 475.19C444.6 477.74 440.73 477.47 441.43 479.41C442.14 481.34 446.7 483.97 449.87 486.78C453.03 489.6 456.89 492.93 460.41 496.27C463.92 499.61 467.79 502.95 470.95 506.81C474.11 510.68 477.27 515.24 479.38 519.46C481.49 523.68 482.28 527.89 483.6 532.11C484.91 536.33 486.93 540.54 487.29 544.76C487.64 548.97 486.67 553.54 485.71 557.41C484.74 561.27 483.25 564.79 481.49 567.95C479.73 571.11 477.27 573.22 475.16 576.38C473.06 579.54 470.77 583.06 468.84 586.92C466.91 590.79 465.33 595.71 463.57 599.57C461.81 603.44 459.88 606.95 458.3 610.11C456.72 613.27 456.19 616.08 454.08 618.54C451.97 621 448.46 623.46 445.65 624.87C442.84 626.27 439.68 625.92 437.22 626.98C434.76 628.03 433.7 629.96 430.89 631.19C428.08 632.42 424.22 634 420.35 634.35C416.49 634.71 411.57 634.18 407.7 633.3C403.84 632.42 400.68 630.84 397.16 629.08C393.65 627.33 390.49 624.17 386.62 622.76C382.76 621.35 378.37 621.71 373.97 620.65C369.58 619.6 364.14 617.14 360.27 616.44C356.41 615.73 352.36 640.33 350.78 616.44C349.2 592.54 349.73 498.38 350.78 473.08C351.84 447.78 355.53 465.7 357.11 464.65Z" fill="#303030" opacity="1" filter="url(#nz1)"/>
<g clip-path="url(#cb22)">
<ellipse cx="376.08" cy="541.6" rx="14" ry="30" fill="#000" opacity="0.5" filter="url(#bl6)"/>
<ellipse cx="381.35" cy="599.57" rx="14" ry="10" fill="#fff" opacity="0.12" filter="url(#bl6)"/>
<path d="M371 451.6V645.8M410.8 451.6V645.8M453.2 451.6V645.8M492 451.6V645.8M356.2 494.6H504.1M356.2 536H504.1M356.2 576.5H504.1M356.2 616.9H504.1" stroke="#000" stroke-width="3.6" fill="none" opacity="0.5" filter="url(#bl1)"/>
<path d="M357.11 464.65C358.69 463.59 358.86 465.7 360.27 466.76C361.68 467.81 363.26 471.5 365.54 470.97C367.82 470.45 370.46 465.09 373.97 463.59C377.49 462.1 381.88 461.66 386.62 462.01C391.37 462.37 397.16 464.03 402.43 465.7C407.7 467.37 413.85 470.62 418.24 472.03C422.64 473.43 425.45 474.14 428.79 474.14C432.12 474.14 435.11 473.7 438.27 472.03C441.43 470.36 446.53 463.59 447.76 464.12C448.99 464.65 446.7 472.64 445.65 475.19C444.6 477.74 440.73 477.47 441.43 479.41C442.14 481.34 446.7 483.97 449.87 486.78C453.03 489.6 456.89 492.93 460.41 496.27C463.92 499.61 467.79 502.95 470.95 506.81C474.11 510.68 477.27 515.24 479.38 519.46C481.49 523.68 482.28 527.89 483.6 532.11C484.91 536.33 486.93 540.54 487.29 544.76C487.64 548.97 486.67 553.54 485.71 557.41C484.74 561.27 483.25 564.79 481.49 567.95C479.73 571.11 477.27 573.22 475.16 576.38C473.06 579.54 470.77 583.06 468.84 586.92C466.91 590.79 465.33 595.71 463.57 599.57C461.81 603.44 459.88 606.95 458.3 610.11C456.72 613.27 456.19 616.08 454.08 618.54C451.97 621 448.46 623.46 445.65 624.87C442.84 626.27 439.68 625.92 437.22 626.98C434.76 628.03 433.7 629.96 430.89 631.19C428.08 632.42 424.22 634 420.35 634.35C416.49 634.71 411.57 634.18 407.7 633.3C403.84 632.42 400.68 630.84 397.16 629.08C393.65 627.33 390.49 624.17 386.62 622.76C382.76 621.35 378.37 621.71 373.97 620.65C369.58 619.6 364.14 617.14 360.27 616.44C356.41 615.73 352.36 640.33 350.78 616.44C349.2 592.54 349.73 498.38 350.78 473.08C351.84 447.78 355.53 465.7 357.11 464.65Z" fill="none" stroke="#7a7a7a" stroke-width="1.6" opacity="0.25" filter="url(#bl1)"/>
</g>
<path d="M377.66 515.77C378.28 514.19 382.32 515.51 384.51 515.24C386.71 514.98 390.1 512.43 390.84 514.19C391.58 515.95 389.08 522.1 388.94 525.79C388.8 529.47 389.75 532.81 390 536.33C390.24 539.84 390.77 543.35 390.42 546.87C390.07 550.38 388.87 554.6 387.89 557.41C386.9 560.22 384.87 564.96 384.51 563.73C384.16 562.5 385.74 554.77 385.78 550.03C385.81 545.29 385.55 539.49 384.72 535.27C383.9 531.06 382 527.98 380.82 524.73C379.65 521.48 377.05 517.35 377.66 515.77Z" fill="#000" fill-opacity="0.75" stroke="#7a7a7a" stroke-width="0.8" stroke-opacity="0.17"/>
</g>
<rect x="368.6" y="445.4" width="24" height="3.3" fill="#fff" stroke="none" stroke-width="0" />
<text x="368.6" y="443.4" font-size="8.4" text-anchor="start" fill="#fff" >750 µm</text>
<path d="M424 376.1V368.6H431.5M439.5 368.6h11.6M458.9 368.6h11.6M478.2 368.6H486.2V376.6M424 384.1v11.6M424 403.5v11.6M424 422.9V433.9M486.2 386.1v11.6M486.2 405.5v11.6M486.2 424.9V438M429.5 436.4h11.6M448.9 436.4h11.6M468.3 436.4h11.6" fill="none" stroke="#fff" stroke-width="3.2"/>
</g>
<g clip-path="url(#ca13)">
<rect x="503.1" y="269.8" width="140.3" height="183.9" fill="#000" stroke="none" stroke-width="0" />
<g transform="matrix(1.0 0 0 0.9855 0 -178.19)">
<path d="M499.05 479.41C500.55 476.95 501.16 476.07 502.74 474.14C504.32 472.2 505.82 469.3 508.54 467.81C511.26 466.32 514.69 465.44 519.08 465.18C523.47 464.91 529.62 465.53 534.89 466.23C540.16 466.93 545.43 468.07 550.7 469.39C555.97 470.71 561.24 472.12 566.51 474.14C571.79 476.16 577.41 478.7 582.33 481.51C587.24 484.32 591.99 487.66 596.03 491C600.07 494.34 603.41 497.85 606.57 501.54C609.73 505.23 612.72 509.1 615 513.14C617.29 517.18 618.87 521.57 620.27 525.79C621.68 530 622.82 534.57 623.43 538.43C624.05 542.3 624.31 545.46 623.96 548.97C623.61 552.49 622.47 556.35 621.33 559.52C620.18 562.68 619.04 565.31 617.11 567.95C615.18 570.58 611.66 573.22 609.73 575.33C607.8 577.43 606.57 578.31 605.52 580.6C604.46 582.88 604.46 585.87 603.41 589.03C602.35 592.19 600.95 596.41 599.19 599.57C597.43 602.73 595.33 605.19 592.87 608C590.41 610.81 587.24 613.98 584.43 616.44C581.62 618.9 578.81 620.65 576 622.76C573.19 624.87 570.73 627.68 567.57 629.08C564.41 630.49 560.54 631.19 557.03 631.19C553.51 631.19 550 630.14 546.49 629.08C542.97 628.03 539.64 626.62 535.95 624.87C532.26 623.11 528.04 619.95 524.35 618.54C520.66 617.14 517.41 617.49 513.81 616.44C510.21 615.38 506.08 613.27 502.74 612.22C499.41 611.17 495.28 630.67 493.78 610.11C492.29 589.56 492.91 510.68 493.78 488.89C494.66 467.11 497.56 481.87 499.05 479.41Z" fill="#454545" opacity="1" filter="url(#nz1)"/>
<g clip-path="url(#cb23)">
<ellipse cx="563.35" cy="494.16" rx="22" ry="9" fill="#fff" opacity="0.22" filter="url(#bl6)"/>
<ellipse cx="594.97" cy="532.11" rx="12" ry="18" fill="#fff" opacity="0.28" filter="url(#bl6)"/>
<ellipse cx="605.52" cy="575.85" rx="6" ry="3" fill="#fff" opacity="0.95" filter="url(#bl1)"/>
<path d="M541.8 451.6V645.8M581.3 451.6V645.8M620 451.6V645.8M498.1 474.4H648.4M498.1 513.9H648.4M498.1 553.3H648.4M498.1 589.9H648.4M498.1 627.3H648.4" stroke="#000" stroke-width="3.6" fill="none" opacity="0.5" filter="url(#bl1)"/>
<path d="M499.05 479.41C500.55 476.95 501.16 476.07 502.74 474.14C504.32 472.2 505.82 469.3 508.54 467.81C511.26 466.32 514.69 465.44 519.08 465.18C523.47 464.91 529.62 465.53 534.89 466.23C540.16 466.93 545.43 468.07 550.7 469.39C555.97 470.71 561.24 472.12 566.51 474.14C571.79 476.16 577.41 478.7 582.33 481.51C587.24 484.32 591.99 487.66 596.03 491C600.07 494.34 603.41 497.85 606.57 501.54C609.73 505.23 612.72 509.1 615 513.14C617.29 517.18 618.87 521.57 620.27 525.79C621.68 530 622.82 534.57 623.43 538.43C624.05 542.3 624.31 545.46 623.96 548.97C623.61 552.49 622.47 556.35 621.33 559.52C620.18 562.68 619.04 565.31 617.11 567.95C615.18 570.58 611.66 573.22 609.73 575.33C607.8 577.43 606.57 578.31 605.52 580.6C604.46 582.88 604.46 585.87 603.41 589.03C602.35 592.19 600.95 596.41 599.19 599.57C597.43 602.73 595.33 605.19 592.87 608C590.41 610.81 587.24 613.98 584.43 616.44C581.62 618.9 578.81 620.65 576 622.76C573.19 624.87 570.73 627.68 567.57 629.08C564.41 630.49 560.54 631.19 557.03 631.19C553.51 631.19 550 630.14 546.49 629.08C542.97 628.03 539.64 626.62 535.95 624.87C532.26 623.11 528.04 619.95 524.35 618.54C520.66 617.14 517.41 617.49 513.81 616.44C510.21 615.38 506.08 613.27 502.74 612.22C499.41 611.17 495.28 630.67 493.78 610.11C492.29 589.56 492.91 510.68 493.78 488.89C494.66 467.11 497.56 481.87 499.05 479.41Z" fill="none" stroke="#b0b0b0" stroke-width="1.6" opacity="0.35" filter="url(#bl1)"/>
</g>
<path d="M514.34 514.19C515.57 511.99 522.51 512.35 526.46 511.56C530.41 510.76 536.26 507.08 538.05 509.45C539.85 511.82 537.7 520.43 537.21 525.79C536.72 531.14 535.84 536.68 535.1 541.6C534.37 546.52 533.96 551.96 532.78 555.3C531.61 558.64 529.53 560.92 528.04 561.62C526.55 562.33 524.12 561.45 523.82 559.52C523.53 557.58 526.25 553.89 526.25 550.03C526.25 546.16 525.02 540.54 523.82 536.33C522.63 532.11 520.66 528.42 519.08 524.73C517.5 521.04 513.11 516.39 514.34 514.19Z" fill="#000" fill-opacity="0.75" stroke="#b0b0b0" stroke-width="0.8" stroke-opacity="0.24"/>
</g>
<rect x="511" y="445.4" width="30" height="3.3" fill="#fff" stroke="none" stroke-width="0" />
<text x="509" y="443.4" font-size="8.4" text-anchor="start" fill="#fff" >1000 µm</text>
<path d="M560.8 376.1V368.6H568.3M576.3 368.6h11.6M595.7 368.6h11.6M614 368.6H622V376.6M560.8 384.1v11.6M560.8 403.5v11.6M560.8 422.9V433.9M622 386.1v11.6M622 405.5v11.6M622 424.9V438M566.3 436.4h11.6M585.7 436.4h11.6M605.1 436.4h11.6" fill="none" stroke="#fff" stroke-width="3.2"/>
</g>
<g clip-path="url(#ca20)">
<rect x="74.8" y="456.6" width="141.1" height="184.2" fill="#03001b" stroke="none" stroke-width="0" />
<g transform="">
<path d="M72.11 473.08C74.22 470.8 75.8 471.68 78.43 469.92C81.07 468.16 84.05 463.68 87.92 462.54C91.78 461.4 95.82 462.72 101.62 463.07C107.42 463.42 115.68 463.68 122.7 464.65C129.73 465.62 137.64 466.93 143.79 468.87C149.93 470.8 154.33 473.61 159.6 476.24C164.87 478.88 170.49 481.51 175.41 484.68C180.33 487.84 185.25 491.53 189.11 495.22C192.98 498.91 195.79 503.12 198.6 506.81C201.41 510.5 204.13 514.37 205.98 517.35C207.82 520.34 209.84 522.54 209.66 524.73C209.49 526.93 208 528.77 204.92 530.53C201.85 532.29 196.14 534.74 191.22 535.27C186.3 535.8 179.8 534.04 175.41 533.69C171.02 533.34 167.15 533.43 164.87 533.16C162.58 532.9 161.18 531.32 161.7 532.11C162.23 532.9 163.99 536.85 168.03 537.91C172.07 538.96 179.45 537.82 185.95 538.43C192.45 539.05 203.08 540.37 207.03 541.6C210.98 542.83 209.66 543.18 209.66 545.81C209.66 548.45 208.35 553.37 207.03 557.41C205.71 561.45 203.87 566.02 201.76 570.06C199.65 574.1 197.02 577.79 194.38 581.65C191.75 585.52 189.11 589.56 185.95 593.25C182.79 596.94 178.92 600.62 175.41 603.79C171.89 606.95 168.38 609.94 164.87 612.22C161.35 614.5 157.14 615.21 154.33 617.49C151.52 619.77 150.64 623.29 148 625.92C145.37 628.56 142.03 631.72 138.51 633.3C135 634.88 130.61 635.41 126.92 635.41C123.23 635.41 120.07 634.18 116.38 633.3C112.69 632.42 109 632.25 104.78 630.14C100.57 628.03 96 623.29 91.08 620.65C86.16 618.02 79.49 615.38 75.27 614.33C71.05 613.27 67.36 636.11 65.78 614.33C64.2 592.54 64.73 507.16 65.78 483.62C66.84 460.08 70 475.37 72.11 473.08Z" fill="#352c6e" opacity="1" filter="url(#nz2)"/>
<g clip-path="url(#cb20)">
<ellipse cx="84.76" cy="546.87" rx="13" ry="35" fill="#e0304a" opacity="0.22" filter="url(#bl6)"/>
<ellipse cx="101.62" cy="502.6" rx="35" ry="7" fill="#e0304a" opacity="0.22" filter="url(#bl6)"/>
<ellipse cx="143.79" cy="552.14" rx="35" ry="30" fill="#0a0040" opacity="0.3" filter="url(#bl6)"/>
<path d="M116.2 451.6V645.8M155.7 451.6V645.8M194.2 451.6V645.8M69.8 488.8H220.9M69.8 531.2H220.9M69.8 573.6H220.9M69.8 615H220.9" stroke="#06002a" stroke-width="3.6" fill="none" opacity="0.5" filter="url(#bl1)"/>
<path d="M72.11 473.08C74.22 470.8 75.8 471.68 78.43 469.92C81.07 468.16 84.05 463.68 87.92 462.54C91.78 461.4 95.82 462.72 101.62 463.07C107.42 463.42 115.68 463.68 122.7 464.65C129.73 465.62 137.64 466.93 143.79 468.87C149.93 470.8 154.33 473.61 159.6 476.24C164.87 478.88 170.49 481.51 175.41 484.68C180.33 487.84 185.25 491.53 189.11 495.22C192.98 498.91 195.79 503.12 198.6 506.81C201.41 510.5 204.13 514.37 205.98 517.35C207.82 520.34 209.84 522.54 209.66 524.73C209.49 526.93 208 528.77 204.92 530.53C201.85 532.29 196.14 534.74 191.22 535.27C186.3 535.8 179.8 534.04 175.41 533.69C171.02 533.34 167.15 533.43 164.87 533.16C162.58 532.9 161.18 531.32 161.7 532.11C162.23 532.9 163.99 536.85 168.03 537.91C172.07 538.96 179.45 537.82 185.95 538.43C192.45 539.05 203.08 540.37 207.03 541.6C210.98 542.83 209.66 543.18 209.66 545.81C209.66 548.45 208.35 553.37 207.03 557.41C205.71 561.45 203.87 566.02 201.76 570.06C199.65 574.1 197.02 577.79 194.38 581.65C191.75 585.52 189.11 589.56 185.95 593.25C182.79 596.94 178.92 600.62 175.41 603.79C171.89 606.95 168.38 609.94 164.87 612.22C161.35 614.5 157.14 615.21 154.33 617.49C151.52 619.77 150.64 623.29 148 625.92C145.37 628.56 142.03 631.72 138.51 633.3C135 634.88 130.61 635.41 126.92 635.41C123.23 635.41 120.07 634.18 116.38 633.3C112.69 632.42 109 632.25 104.78 630.14C100.57 628.03 96 623.29 91.08 620.65C86.16 618.02 79.49 615.38 75.27 614.33C71.05 613.27 67.36 636.11 65.78 614.33C64.2 592.54 64.73 507.16 65.78 483.62C66.84 460.08 70 475.37 72.11 473.08Z" fill="none" stroke="#e04868" stroke-width="1.6" opacity="0.55" filter="url(#bl1)"/>
</g>
<ellipse cx="79.5" cy="623.8" rx="5.2" ry="4.6" fill="#e04858" opacity="0.85" filter="url(#bl1)"/>
<path d="M90.03 514.19C90.91 511.38 97.23 511.91 100.57 511.03C103.91 510.15 108.83 507.51 110.05 508.92C111.28 510.33 108.74 515.6 107.95 519.46C107.16 523.33 106.05 527.54 105.31 532.11C104.57 536.68 103.99 541.77 103.52 546.87C103.05 551.96 102.87 561.27 102.47 562.68C102.06 564.08 101.59 558.64 101.1 555.3C100.6 551.96 100.48 547.22 99.51 542.65C98.55 538.08 96.88 532.64 95.3 527.89C93.72 523.15 89.15 517 90.03 514.19Z" fill="#03001b" fill-opacity="1" stroke="#e04868" stroke-width="0.8" stroke-opacity="0.39"/>
</g>
<rect x="84.4" y="632.2" width="27.2" height="3.3" fill="#fff" stroke="none" stroke-width="0" />
<text x="84.8" y="625.6" font-size="8.4" text-anchor="start" fill="#fff" >1000 µm</text>
</g>
<g clip-path="url(#ca21)">
<rect x="218.1" y="456.6" width="139.9" height="184.2" fill="#04001c" stroke="none" stroke-width="0" />
<g transform="">
<path d="M214.11 473.08C215.86 470.8 216.57 471.68 218.32 469.92C220.08 468.16 221.84 464.12 224.65 462.54C227.46 460.96 231.15 460.43 235.19 460.43C239.23 460.43 243.62 461.31 248.89 462.54C254.16 463.77 260.66 466.05 266.81 467.81C272.96 469.57 279.99 471.15 285.79 473.08C291.58 475.01 296.33 477.12 301.6 479.41C306.87 481.69 313.02 484.32 317.41 486.78C321.8 489.24 324.79 491.53 327.95 494.16C331.11 496.8 333.92 499.43 336.38 502.6C338.84 505.76 341.21 509.27 342.71 513.14C344.2 517 344.64 521.57 345.34 525.79C346.04 530 347.01 534.04 346.92 538.43C346.83 542.83 345.69 547.57 344.81 552.14C343.93 556.7 343.23 561.45 341.65 565.84C340.07 570.23 337.96 574.62 335.33 578.49C332.69 582.35 329.18 585.52 325.84 589.03C322.5 592.54 318.81 596.41 315.3 599.57C311.79 602.73 307.92 605.54 304.76 608C301.6 610.46 298.43 611.52 296.33 614.33C294.22 617.14 294.22 622.06 292.11 624.87C290 627.68 287.19 629.61 283.68 631.19C280.16 632.77 275.24 634.35 271.03 634.35C266.81 634.35 262.95 632.6 258.38 631.19C253.81 629.79 248.19 628.03 243.62 625.92C239.05 623.81 235.19 620.12 230.97 618.54C226.76 616.96 222.19 616.79 218.32 616.44C214.46 616.08 209.54 638.57 207.78 616.44C206.03 594.3 206.73 507.51 207.78 483.62C208.84 459.73 212.35 475.37 214.11 473.08Z" fill="#4d2d6e" opacity="1" filter="url(#nz2)"/>
<g clip-path="url(#cb21)">
<ellipse cx="243.62" cy="499.43" rx="45" ry="10" fill="#e0304a" opacity="0.2" filter="url(#bl6)"/>
<ellipse cx="224.65" cy="536.33" rx="10" ry="30" fill="#e0304a" opacity="0.2" filter="url(#bl6)"/>
<path d="M233.7 451.6V645.8M274.1 451.6V645.8M314.6 451.6V645.8M213.1 486H363M213.1 526.4H363M213.1 567.8H363M213.1 609.2H363" stroke="#06002a" stroke-width="3.6" fill="none" opacity="0.5" filter="url(#bl1)"/>
<path d="M214.11 473.08C215.86 470.8 216.57 471.68 218.32 469.92C220.08 468.16 221.84 464.12 224.65 462.54C227.46 460.96 231.15 460.43 235.19 460.43C239.23 460.43 243.62 461.31 248.89 462.54C254.16 463.77 260.66 466.05 266.81 467.81C272.96 469.57 279.99 471.15 285.79 473.08C291.58 475.01 296.33 477.12 301.6 479.41C306.87 481.69 313.02 484.32 317.41 486.78C321.8 489.24 324.79 491.53 327.95 494.16C331.11 496.8 333.92 499.43 336.38 502.6C338.84 505.76 341.21 509.27 342.71 513.14C344.2 517 344.64 521.57 345.34 525.79C346.04 530 347.01 534.04 346.92 538.43C346.83 542.83 345.69 547.57 344.81 552.14C343.93 556.7 343.23 561.45 341.65 565.84C340.07 570.23 337.96 574.62 335.33 578.49C332.69 582.35 329.18 585.52 325.84 589.03C322.5 592.54 318.81 596.41 315.3 599.57C311.79 602.73 307.92 605.54 304.76 608C301.6 610.46 298.43 611.52 296.33 614.33C294.22 617.14 294.22 622.06 292.11 624.87C290 627.68 287.19 629.61 283.68 631.19C280.16 632.77 275.24 634.35 271.03 634.35C266.81 634.35 262.95 632.6 258.38 631.19C253.81 629.79 248.19 628.03 243.62 625.92C239.05 623.81 235.19 620.12 230.97 618.54C226.76 616.96 222.19 616.79 218.32 616.44C214.46 616.08 209.54 638.57 207.78 616.44C206.03 594.3 206.73 507.51 207.78 483.62C208.84 459.73 212.35 475.37 214.11 473.08Z" fill="none" stroke="#e04868" stroke-width="1.6" opacity="0.5" filter="url(#bl1)"/>
</g>
<path d="M230.97 514.72C231.5 512.78 236.6 513.58 239.41 513.14C242.22 512.7 246.78 510.33 247.84 512.08C248.89 513.84 246.43 519.81 245.73 523.68C245.03 527.54 243.8 531.41 243.62 535.27C243.45 539.14 244.64 541.95 244.68 546.87C244.71 551.79 244.18 563.73 243.83 564.79C243.48 565.84 243.13 557.93 242.57 553.19C242.01 548.45 241.51 541.07 240.46 536.33C239.41 531.58 237.82 528.33 236.24 524.73C234.66 521.13 230.45 516.65 230.97 514.72Z" fill="#04001c" fill-opacity="1" stroke="#e04868" stroke-width="0.8" stroke-opacity="0.35"/>
</g>
<rect x="226.3" y="632.2" width="23.7" height="3.3" fill="#fff" stroke="none" stroke-width="0" />
<text x="227.2" y="625.6" font-size="8.4" text-anchor="start" fill="#fff" >750 µm</text>
</g>
<g clip-path="url(#ca22)">
<rect x="360.5" y="456.6" width="139.4" height="184.2" fill="#040a24" stroke="none" stroke-width="0" />
<path d="M371 456.6V640.8M410.8 456.6V640.8M453.2 456.6V640.8M492 456.6V640.8M360.5 495.3H499.9M360.5 536.7H499.9M360.5 577.2H499.9M360.5 617.6H499.9" stroke="#2a0030" stroke-width="3.5" fill="none" opacity="0.6" filter="url(#bl1)"/>
<g transform="">
<path d="M357.11 464.65C358.69 463.59 358.86 465.7 360.27 466.76C361.68 467.81 363.26 471.5 365.54 470.97C367.82 470.45 370.46 465.09 373.97 463.59C377.49 462.1 381.88 461.66 386.62 462.01C391.37 462.37 397.16 464.03 402.43 465.7C407.7 467.37 413.85 470.62 418.24 472.03C422.64 473.43 425.45 474.14 428.79 474.14C432.12 474.14 435.11 473.7 438.27 472.03C441.43 470.36 446.53 463.59 447.76 464.12C448.99 464.65 446.7 472.64 445.65 475.19C444.6 477.74 440.73 477.47 441.43 479.41C442.14 481.34 446.7 483.97 449.87 486.78C453.03 489.6 456.89 492.93 460.41 496.27C463.92 499.61 467.79 502.95 470.95 506.81C474.11 510.68 477.27 515.24 479.38 519.46C481.49 523.68 482.28 527.89 483.6 532.11C484.91 536.33 486.93 540.54 487.29 544.76C487.64 548.97 486.67 553.54 485.71 557.41C484.74 561.27 483.25 564.79 481.49 567.95C479.73 571.11 477.27 573.22 475.16 576.38C473.06 579.54 470.77 583.06 468.84 586.92C466.91 590.79 465.33 595.71 463.57 599.57C461.81 603.44 459.88 606.95 458.3 610.11C456.72 613.27 456.19 616.08 454.08 618.54C451.97 621 448.46 623.46 445.65 624.87C442.84 626.27 439.68 625.92 437.22 626.98C434.76 628.03 433.7 629.96 430.89 631.19C428.08 632.42 424.22 634 420.35 634.35C416.49 634.71 411.57 634.18 407.7 633.3C403.84 632.42 400.68 630.84 397.16 629.08C393.65 627.33 390.49 624.17 386.62 622.76C382.76 621.35 378.37 621.71 373.97 620.65C369.58 619.6 364.14 617.14 360.27 616.44C356.41 615.73 352.36 640.33 350.78 616.44C349.2 592.54 349.73 498.38 350.78 473.08C351.84 447.78 355.53 465.7 357.11 464.65Z" fill="#3d3287" opacity="1" filter="url(#nz2)"/>
<g clip-path="url(#cb22)">
<ellipse cx="369.76" cy="552.14" rx="12" ry="35" fill="#e0304a" opacity="0.28" filter="url(#bl6)"/>
<ellipse cx="386.62" cy="506.81" rx="30" ry="6" fill="#e0304a" opacity="0.2" filter="url(#bl6)"/>
<ellipse cx="444.6" cy="594.3" rx="16" ry="28" fill="#e0506a" opacity="0.2" filter="url(#bl6)"/>
<path d="M371 451.6V645.8M410.8 451.6V645.8M453.2 451.6V645.8M492 451.6V645.8M355.5 494.6H504.9M355.5 536H504.9M355.5 576.5H504.9M355.5 616.9H504.9" stroke="#06002a" stroke-width="3.6" fill="none" opacity="0.5" filter="url(#bl1)"/>
<path d="M357.11 464.65C358.69 463.59 358.86 465.7 360.27 466.76C361.68 467.81 363.26 471.5 365.54 470.97C367.82 470.45 370.46 465.09 373.97 463.59C377.49 462.1 381.88 461.66 386.62 462.01C391.37 462.37 397.16 464.03 402.43 465.7C407.7 467.37 413.85 470.62 418.24 472.03C422.64 473.43 425.45 474.14 428.79 474.14C432.12 474.14 435.11 473.7 438.27 472.03C441.43 470.36 446.53 463.59 447.76 464.12C448.99 464.65 446.7 472.64 445.65 475.19C444.6 477.74 440.73 477.47 441.43 479.41C442.14 481.34 446.7 483.97 449.87 486.78C453.03 489.6 456.89 492.93 460.41 496.27C463.92 499.61 467.79 502.95 470.95 506.81C474.11 510.68 477.27 515.24 479.38 519.46C481.49 523.68 482.28 527.89 483.6 532.11C484.91 536.33 486.93 540.54 487.29 544.76C487.64 548.97 486.67 553.54 485.71 557.41C484.74 561.27 483.25 564.79 481.49 567.95C479.73 571.11 477.27 573.22 475.16 576.38C473.06 579.54 470.77 583.06 468.84 586.92C466.91 590.79 465.33 595.71 463.57 599.57C461.81 603.44 459.88 606.95 458.3 610.11C456.72 613.27 456.19 616.08 454.08 618.54C451.97 621 448.46 623.46 445.65 624.87C442.84 626.27 439.68 625.92 437.22 626.98C434.76 628.03 433.7 629.96 430.89 631.19C428.08 632.42 424.22 634 420.35 634.35C416.49 634.71 411.57 634.18 407.7 633.3C403.84 632.42 400.68 630.84 397.16 629.08C393.65 627.33 390.49 624.17 386.62 622.76C382.76 621.35 378.37 621.71 373.97 620.65C369.58 619.6 364.14 617.14 360.27 616.44C356.41 615.73 352.36 640.33 350.78 616.44C349.2 592.54 349.73 498.38 350.78 473.08C351.84 447.78 355.53 465.7 357.11 464.65Z" fill="none" stroke="#d04870" stroke-width="1.6" opacity="0.4" filter="url(#bl1)"/>
</g>
<path d="M377.66 515.77C378.28 514.19 382.32 515.51 384.51 515.24C386.71 514.98 390.1 512.43 390.84 514.19C391.58 515.95 389.08 522.1 388.94 525.79C388.8 529.47 389.75 532.81 390 536.33C390.24 539.84 390.77 543.35 390.42 546.87C390.07 550.38 388.87 554.6 387.89 557.41C386.9 560.22 384.87 564.96 384.51 563.73C384.16 562.5 385.74 554.77 385.78 550.03C385.81 545.29 385.55 539.49 384.72 535.27C383.9 531.06 382 527.98 380.82 524.73C379.65 521.48 377.05 517.35 377.66 515.77Z" fill="#040a24" fill-opacity="1" stroke="#d04870" stroke-width="0.8" stroke-opacity="0.28"/>
</g>
<rect x="368.6" y="632.2" width="24" height="3.3" fill="#fff" stroke="none" stroke-width="0" />
<text x="368.6" y="625.6" font-size="8.4" text-anchor="start" fill="#fff" >750 µm</text>
<path d="M424.2 560.7V553.2H431.7M439.7 553.2h11.6M459.1 553.2h11.6M477.8 553.2H485.8V561.2M424.2 568.7v11.6M424.2 588.1v11.6M424.2 607.5V618.9M485.8 570.7v11.6M485.8 590.1v11.6M485.8 609.5V623M429.7 621.4h11.6M449.1 621.4h11.6M468.5 621.4h11.6" fill="none" stroke="#fff" stroke-width="3.2"/>
</g>
<g clip-path="url(#ca23)">
<rect x="502.7" y="456.6" width="140.6" height="184.2" fill="#02002e" stroke="none" stroke-width="0" />
<path d="M541.8 456.6V640.8M581.3 456.6V640.8M620 456.6V640.8M502.7 475.1H643.3M502.7 514.6H643.3M502.7 554H643.3M502.7 590.6H643.3M502.7 628H643.3" stroke="#04162a" stroke-width="3.5" fill="none" opacity="0.6" filter="url(#bl1)"/>
<g transform="">
<path d="M499.05 479.41C500.55 476.95 501.16 476.07 502.74 474.14C504.32 472.2 505.82 469.3 508.54 467.81C511.26 466.32 514.69 465.44 519.08 465.18C523.47 464.91 529.62 465.53 534.89 466.23C540.16 466.93 545.43 468.07 550.7 469.39C555.97 470.71 561.24 472.12 566.51 474.14C571.79 476.16 577.41 478.7 582.33 481.51C587.24 484.32 591.99 487.66 596.03 491C600.07 494.34 603.41 497.85 606.57 501.54C609.73 505.23 612.72 509.1 615 513.14C617.29 517.18 618.87 521.57 620.27 525.79C621.68 530 622.82 534.57 623.43 538.43C624.05 542.3 624.31 545.46 623.96 548.97C623.61 552.49 622.47 556.35 621.33 559.52C620.18 562.68 619.04 565.31 617.11 567.95C615.18 570.58 611.66 573.22 609.73 575.33C607.8 577.43 606.57 578.31 605.52 580.6C604.46 582.88 604.46 585.87 603.41 589.03C602.35 592.19 600.95 596.41 599.19 599.57C597.43 602.73 595.33 605.19 592.87 608C590.41 610.81 587.24 613.98 584.43 616.44C581.62 618.9 578.81 620.65 576 622.76C573.19 624.87 570.73 627.68 567.57 629.08C564.41 630.49 560.54 631.19 557.03 631.19C553.51 631.19 550 630.14 546.49 629.08C542.97 628.03 539.64 626.62 535.95 624.87C532.26 623.11 528.04 619.95 524.35 618.54C520.66 617.14 517.41 617.49 513.81 616.44C510.21 615.38 506.08 613.27 502.74 612.22C499.41 611.17 495.28 630.67 493.78 610.11C492.29 589.56 492.91 510.68 493.78 488.89C494.66 467.11 497.56 481.87 499.05 479.41Z" fill="#944a94" opacity="1" filter="url(#nz2)"/>
<g clip-path="url(#cb23)">
<ellipse cx="563.35" cy="497.33" rx="28" ry="11" fill="#ffb0c0" opacity="0.2" filter="url(#bl6)"/>
<ellipse cx="592.87" cy="532.11" rx="16" ry="24" fill="#ffb0c0" opacity="0.22" filter="url(#bl6)"/>
<ellipse cx="510.65" cy="536.33" rx="10" ry="30" fill="#f04060" opacity="0.3" filter="url(#bl6)"/>
<ellipse cx="605.52" cy="575.85" rx="6" ry="3" fill="#fff" opacity="0.95" filter="url(#bl1)"/>
<path d="M541.8 451.6V645.8M581.3 451.6V645.8M620 451.6V645.8M497.7 474.4H648.3M497.7 513.9H648.3M497.7 553.3H648.3M497.7 589.9H648.3M497.7 627.3H648.3" stroke="#06002a" stroke-width="3.6" fill="none" opacity="0.5" filter="url(#bl1)"/>
<path d="M499.05 479.41C500.55 476.95 501.16 476.07 502.74 474.14C504.32 472.2 505.82 469.3 508.54 467.81C511.26 466.32 514.69 465.44 519.08 465.18C523.47 464.91 529.62 465.53 534.89 466.23C540.16 466.93 545.43 468.07 550.7 469.39C555.97 470.71 561.24 472.12 566.51 474.14C571.79 476.16 577.41 478.7 582.33 481.51C587.24 484.32 591.99 487.66 596.03 491C600.07 494.34 603.41 497.85 606.57 501.54C609.73 505.23 612.72 509.1 615 513.14C617.29 517.18 618.87 521.57 620.27 525.79C621.68 530 622.82 534.57 623.43 538.43C624.05 542.3 624.31 545.46 623.96 548.97C623.61 552.49 622.47 556.35 621.33 559.52C620.18 562.68 619.04 565.31 617.11 567.95C615.18 570.58 611.66 573.22 609.73 575.33C607.8 577.43 606.57 578.31 605.52 580.6C604.46 582.88 604.46 585.87 603.41 589.03C602.35 592.19 600.95 596.41 599.19 599.57C597.43 602.73 595.33 605.19 592.87 608C590.41 610.81 587.24 613.98 584.43 616.44C581.62 618.9 578.81 620.65 576 622.76C573.19 624.87 570.73 627.68 567.57 629.08C564.41 630.49 560.54 631.19 557.03 631.19C553.51 631.19 550 630.14 546.49 629.08C542.97 628.03 539.64 626.62 535.95 624.87C532.26 623.11 528.04 619.95 524.35 618.54C520.66 617.14 517.41 617.49 513.81 616.44C510.21 615.38 506.08 613.27 502.74 612.22C499.41 611.17 495.28 630.67 493.78 610.11C492.29 589.56 492.91 510.68 493.78 488.89C494.66 467.11 497.56 481.87 499.05 479.41Z" fill="none" stroke="#f06080" stroke-width="1.6" opacity="0.5" filter="url(#bl1)"/>
</g>
<path d="M514.34 514.19C515.57 511.99 522.51 512.35 526.46 511.56C530.41 510.76 536.26 507.08 538.05 509.45C539.85 511.82 537.7 520.43 537.21 525.79C536.72 531.14 535.84 536.68 535.1 541.6C534.37 546.52 533.96 551.96 532.78 555.3C531.61 558.64 529.53 560.92 528.04 561.62C526.55 562.33 524.12 561.45 523.82 559.52C523.53 557.58 526.25 553.89 526.25 550.03C526.25 546.16 525.02 540.54 523.82 536.33C522.63 532.11 520.66 528.42 519.08 524.73C517.5 521.04 513.11 516.39 514.34 514.19Z" fill="#02002e" fill-opacity="1" stroke="#f06080" stroke-width="0.8" stroke-opacity="0.35"/>
</g>
<rect x="511" y="632.2" width="30" height="3.3" fill="#fff" stroke="none" stroke-width="0" />
<text x="509" y="625.6" font-size="8.4" text-anchor="start" fill="#fff" >1000 µm</text>
<path d="M560.4 560.7V553.2H567.9M575.9 553.2h11.6M595.3 553.2h11.6M614.4 553.2H622.4V561.2M560.4 568.7v11.6M560.4 588.1v11.6M560.4 607.5V618.9M622.4 570.7v11.6M622.4 590.1v11.6M622.4 609.5V623M565.9 621.4h11.6M585.3 621.4h11.6M604.7 621.4h11.6" fill="none" stroke="#fff" stroke-width="3.2"/>
</g>
<text x="640" y="669.4" font-size="20.9" text-anchor="end"><tspan fill="#a3a3a3">Iba1</tspan> <tspan fill="#ff0000">GFAP</tspan> <tspan fill="#3366ff">DAPI</tspan></text>
<text x="0" y="742.3" font-size="41" text-anchor="start" fill="#000" font-weight="bold" >d</text>
<defs><clipPath id="cd0"><rect x="72.9" y="765.3" width="214.7" height="212.6"/></clipPath><clipPath id="cd1"><rect x="290.8" y="765.3" width="217.2" height="212.6"/></clipPath><clipPath id="cd2"><rect x="72.9" y="980.5" width="214.7" height="215.5"/></clipPath><clipPath id="cd3"><rect x="290.8" y="980.5" width="217.2" height="215.5"/></clipPath></defs>
<g clip-path="url(#cd0)">
<rect x="72.9" y="765.3" width="214.7" height="212.6" fill="#252525" stroke="none" stroke-width="0" />
<path d="M87.73 765.3V977.9M119.43 765.3V977.9M151.13 765.3V977.9M182.83 765.3V977.9M214.53 765.3V977.9M246.23 765.3V977.9M277.93 765.3V977.9M72.9 794.68H287.6M72.9 826.38H287.6M72.9 858.08H287.6M72.9 889.78H287.6M72.9 921.48H287.6M72.9 953.18H287.6" stroke="#3b3b3b" stroke-width="0.8" fill="none" />
<g fill="none" stroke="#100c0c" stroke-linecap="round" stroke-linejoin="round" transform="translate(0.8 0.9)" opacity="0.8"><path d="M275.57 863.95L273.57 865.61L270.15 866.76L267.22 868.63L263.24 870.74L259.66 873.56L256.92 876.38L256.14 880.02L257.46 883.81L257.76 888.11L256.48 890.6L255.52 893.45L253.87 895.85L251.08 898.53L248.46 901.24L247.4 904.56L245.82 907.16L243.87 909.57L239.83 913.19L236.85 915.12" stroke-width="2.88"/><path d="M81.28 802.64L80.04 805.17L78.32 809.24L76.57 811.42L74.91 813.75L73.95 817.47L73.4 821.06L75.94 823.33L77.58 824.66" stroke-width="2.76"/><path d="M77.58 824.66L80.51 825.9L83.85 826.64" stroke-width="2.49"/><path d="M78.25 808.91L75.98 810L73.51 812.64L71 813.94" stroke-width="2.49"/><path d="M73.8 820.66L76.04 821.84L79.39 823.96L82.25 825.62L84.89 829.66" stroke-width="2.49"/><path d="M115.02 962.93L113.02 963.9L109.75 964.49L106.5 965.06L103.29 965.33L100.36 966.03L97.67 967.19L95.5 969.13L93.51 971.76L90.48 974.53L88.24 977.32L85.75 978.5L83.27 979.17L81 981.19L79.94 983.68L79.55 986.25L79.82 990.24L80.35 993.71L82.82 996.98L85.26 1000.52L87.96 1003.18L89.53 1004.63" stroke-width="2.81"/><path d="M79.63 983.7L77.44 981.95L74.55 979.06L72.25 977.02" stroke-width="2.54"/><path d="M68.01 952.7L70.64 951.6L73.92 949.42L77.3 947.86L78.82 944.39L81.19 941.58L83.72 940.61L86.06 939.47L89.29 938.34L91.45 934.83L92.55 931.55L93.58 927.79L93.73 924.89L93.41 921.63L94.78 917.96L96.51 915.64L97.37 912.55L96.59 910.17L93.81 905.77L91.41 903.19" stroke-width="2.47"/><path d="M93.41 921.6L93.5 917.79L92.91 914.2" stroke-width="2.25"/><path d="M80.78 941.34L83.27 939.28L86.06 937.46" stroke-width="2.25"/><path d="M119.22 896.19L119.89 893.95L121.52 890.16L122.03 886.03L121.44 881.99L120.14 878.55L119.61 875.71L120.98 871.66L122.46 867.39L124.17 865.4L123.89 862.49L122.5 859.22L120.3 855.46L118.64 853.18" stroke-width="2.47"/><path d="M119.27 875.63L116.94 877.67L112.44 878.95L109.8 879.34L105.68 877.72L103.03 877.4L99.19 879.27L96.16 880.67" stroke-width="2.25"/><path d="M118.64 853.18L118.3 850.16L118.65 846.97L120.99 843.41L123.38 839.62L123.64 835.9L123.09 832.99" stroke-width="2.25"/><path d="M122.12 885.95L126.38 886.07L129.77 886.18" stroke-width="2.25"/><path d="M286.55 780.82L286.51 783.37L285.69 786.04L284.95 789.77L282.86 793.83L280.53 797.18L281.43 802.19L284.48 804.17L287.49 806.17L290.2 807.62L292.42 810.88L295 814.37L296.65 816.58L300.02 816.89L303.19 817.36L306.21 816.73L309.26 816.86L312.69 817.38L315.18 817.29" stroke-width="2.52"/><path d="M84.81 881.86L85.39 879.3L87.02 876.78L89.76 874.77L93.17 873.3L95.36 871L96.39 866.39L96.15 863.54L94.14 860.27L93.66 857.18L95.88 852.48L97.65 847.84L100.62 845.31L103.22 842.31L103.72 840.16L102.25 837.43L100.37 834.71L98.09 833.46" stroke-width="2.48"/><path d="M95.65 852.4L92.97 853.7L89.08 854.81L85.65 856.92L81.59 858.95L78.21 860.49L75.06 861.61" stroke-width="2.26"/><path d="M93.3 857.01L90.61 857.53L87.29 857.22L83.9 858.64L80.87 860.01L79.01 862.15L77.06 864.31" stroke-width="2.26"/><path d="M102.99 842.61L103.12 845.81L103.99 848.24" stroke-width="2.26"/><path d="M237.27 836.55L240.44 837.4L243.79 838.48L246.16 839.91L248.85 841.34L251.64 842.74L255.55 843.89L258.32 846.31L259.86 848.96L260.53 852.14L261.55 855.42L264.5 859.36L266.33 862.75L268.84 864.17L271.57 866.23L274.11 867.64L277.25 870.35L279.36 872.01" stroke-width="2.89"/><path d="M281.37 821.91L282.74 824.31L285.59 827.6L287.37 830.53L286.94 834.49L286.85 837.86L287.11 841.33L286.36 843.98L286.12 846.73L285.09 850.49L283 853.44L281.76 855.9L279.77 859.38L277.38 861.61L274.38 862.66L270.49 863.49L267.85 863.57L264.09 864.18L261.79 864.35" stroke-width="2.5"/><path d="M281.59 856.16L279.01 855.87L275.59 855.12L270.8 854.95L267.96 852.6L265.86 851.1" stroke-width="2.27"/><path d="M286.71 838.15L286.41 836.24L284.94 832.66L283.6 829.13L283.02 824.9L281.58 822.18L280.35 820.18" stroke-width="2.27"/><path d="M112.4 943.69L115.46 946.26L118.45 948.82L119.37 952.04L121.17 954.17L123.27 956.36L125.9 959.32L128.63 962.18L130.2 966.14L130.97 968.49L132.39 972.05L133.18 975.31L135.26 978.54L136.33 981.36L137.66 983.32L138.3 986.47L136.87 989.18L134.3 990.88L130.67 991.91L128.46 994.33L127.21 997.87L126.01 1001.26" stroke-width="2.74"/><path d="M265.48 937.66L267.62 935.66L271.22 933.8L273.65 930.68L275.29 927.46L274.93 924.62L276.06 921.02L278.08 917.91L281.19 915.79L282.53 913.17L283.61 909.73L283.07 906.31L282.84 903.73L282.01 901.4L281.16 898.42L278.36 894.77L277.28 892L277.72 887.59L279.09 885.25" stroke-width="2.8"/><path d="M146.21 778.73L143.89 780.27L140.04 782.19L137.55 782.09L134.61 780.21L131.96 777.17L130.03 774.93L125.94 774.23L121.85 773.73L118.36 772.92L114.69 771.18L111.61 769.45L107.8 768.86L103.99 767.29L101.12 766.05L99.26 763.04L97.99 758.55L96.71 754.66L96.2 751.43" stroke-width="2.92"/><path d="M238.19 858.12L236.03 857.24L232.72 855.72L229.8 853.91L226.52 851.43L223.55 849.92L220.6 850.05L217.9 850.44L214.71 849.56L212.34 847.49L210.07 844.2L208.1 841.62L206.47 838.61L204.98 835.36L201.67 833.92L197.14 832.14L193.91 832.02L190.01 832.21L186.47 832.27L184.24 832.56L181.38 835.97L180.17 838.96" stroke-width="2.68"/><path d="M247.9 885.59L245.72 887.01L242.41 890.06L239.93 891.98L236.73 894.14L234.62 897.22L231.96 899.29L227.88 899.7L224.74 900.64L221.48 902.71L217.93 905.47L216.16 907.99L214.47 911.07L211.85 913.41L208.18 914.44L204.54 914.82L201.11 915.21L198.68 915.17L196.06 915.98L190.9 917.15L188.27 919L185.98 921.1L183.65 922.89" stroke-width="2.98"/><path d="M111.52 810.89L111.32 808.35L111.25 804.15L111.28 800.74L111.46 796.02L112.29 793.12L112.32 789.6L112.99 786.79L113.89 783.46L115.53 780.24L116.39 777.67L118.8 775.6L122.03 772.67L123.78 769.88L123.75 767.25L123.29 763.39L122.4 761.43" stroke-width="2.88"/><path d="M116.55 777.77L117.18 780.33L117.55 783.51L120.29 786.99L122.75 789.42L125.07 792.63L125.81 794.51" stroke-width="2.6"/><path d="M273.46 900.07L273.01 902.84L271.87 906.75L269.28 908.74L265.78 909.5L262.78 908.66L259.99 906.97L256.46 905.71L252.82 907.17L250.08 908.22L246.64 907.58L243.79 907.21" stroke-width="2.37"/><path d="M250.3 907.98L249.33 904.08L248.46 900.05" stroke-width="2.16"/><path d="M273.46 900.07L275.07 901.73L278.05 904.65L279.79 907.79L279.81 909.82L279.38 913.43L279.17 916.53L278.82 919.43L278.29 921.85" stroke-width="2.16"/><path d="M250.3 907.98L253.83 910.08L256.89 911.37" stroke-width="2.16"/><path d="M73.36 929.92L71.5 927.62L68.44 926.35L65.8 925.18L62.46 926.5L60.04 928.28L56.85 930.26L52.7 931.56L48.73 932.68L47.37 935.14L45.32 937.43L43.6 939.96L44.26 943.48L44.72 945.91L46.16 949.32L47.95 952.59L49.6 955.98L51.27 957.94" stroke-width="2.56"/><path d="M257.61 800.65L254.69 801.93L251.26 804.35L248.73 806L245.69 807.37L243.08 807.71L240.14 807.03L236.39 806.77L233.62 807.62L231.19 810.51L228.13 811.67L224 811.75L220.44 811.28L217.35 810.17L214.53 807.56L211.93 803.65L208.59 801.96L204.64 801.18L200.73 800.64L197.71 800.27L194.53 800.01L191.1 801.1L189.42 802" stroke-width="2.82"/><path d="M212.34 803.79L213.28 807.41L213.78 812.12L213 815.13L211.6 818.56L210.78 820.63" stroke-width="2.55"/><path d="M159.07 921.16L161.16 921.13L164.66 921.46L167.71 923.67L170.72 926.37L172.16 929.26L172.55 931.58L172.41 934.99L173.87 937.88L176.06 941.09L177.88 944.27L180.28 946.5L182.03 948.7L185.41 950.52L187.38 951.79" stroke-width="2.35"/><path d="M182.25 948.51L181.35 951.82L181.08 955.57L180.4 958.23" stroke-width="2.15"/><path d="M159.07 921.16L160.67 923.76L161.9 926.77" stroke-width="2.15"/><path d="M172.72 934.66L167.85 933.33" stroke-width="2.15"/><path d="M126 821.67L124.11 823.86L122.71 827.1L120.11 830.69L117.9 833.77L115.06 836.74L113.23 838.98L110.11 840.91L107.42 843.06L104.85 844.52L103.92 848.79L103.18 853.44L102.09 855.48L99.71 857.05L97.6 857.91L94.33 858.17L91.19 858.27L87.74 859.29L83.89 860.57L79.67 860.92" stroke-width="2.34"/><path d="M94.08 858.11L93.1 860.53L91.84 864.57L90.91 868.63L91.34 872.74" stroke-width="2.14"/><path d="M79.67 860.92L83.01 860.73L85.92 860.37L88.36 857.89L90.35 855.67L89.99 852.66L89.91 849.74" stroke-width="2.14"/><path d="M94.08 858.11L96.12 859.35L98.32 861.82L98.81 864.71L98.6 868.2L98.57 871.31" stroke-width="2.14"/><path d="M84.42 961.88L82.48 963.76L80.03 966.24L78.18 969L78.84 972.32L79.28 974.51L77.98 977.36L75.96 980.93L75.13 984.31L75.38 987.63L75.68 991.38L77.53 994.74L78.7 997.59L80.86 999.88L83.03 1001.84L86.76 1003.55L90.46 1002.88L93.63 1000.67L96.59 999L98.93 996.9" stroke-width="2.55"/><path d="M78.43 969.29L75.02 971.44L72.38 973.34" stroke-width="2.32"/><path d="M162.17 933.48L160.86 930.8L159.34 927.83L157.1 925.81L154.68 923.71L152.05 922.29L151.44 919.79L150.1 916.89L149.44 913.33L149.15 909.75L148.56 906.38L147.43 903.07L145.2 900.33L143.95 898.36" stroke-width="2.7"/><path d="M143.95 898.36L144.9 900.99L145.9 904.3" stroke-width="2.44"/><path d="M288.04 964.14L292.15 961.46L295.75 957.49L295.06 954.6L293.52 950.91L292.04 948.54L289.58 945.42L288.38 943.42" stroke-width="2.94"/><path d="M288.38 943.42L288.8 946.39L289.11 949.79L290.7 953.89L291.97 957.08" stroke-width="2.65"/><path d="M97.87 953.87L100.97 950.91L104.53 948.2L108.18 947.75L110.55 946.72L113.82 945.45L117.21 944.97L119.85 945.59L123.94 946.08L127.1 947.76L130.83 949.78L133.36 951.92L137.83 952.22L141.36 953.42L144.74 955.23L148.18 957.54L150.31 959.33" stroke-width="2.6"/><path d="M104.63 948.34L103.61 949.75L101.6 952.26L98.58 955.39L96.2 958" stroke-width="2.36"/><path d="M150.31 959.33L151.14 962.25L152.51 964.98" stroke-width="2.36"/><path d="M216.67 778.49L214.73 780.99L211.67 783.54L208.59 784.13L205.6 783.4L202.12 783.67L198.62 782.18L196.41 779.84L194.43 776.75L191.53 773.86L188.5 770.09L188.59 767.28L188.61 764.09L188.19 761.12L187.1 757.44L185.26 753.31L187.06 750.08L189.27 746.75L189.03 743.44L188.78 739.01L188.75 735.94" stroke-width="2.81"/><path d="M211.61 783.27L211.61 786.96L212.5 791.72L211.77 795.35L211.73 798.5L211.43 800.6" stroke-width="2.54"/><path d="M233.92 842.27L230.39 842.07L225.8 842.88L223.41 844.36L220.33 847.02L217.92 849.23L214.69 848.95L211.72 848.54L208.5 851.45L205.56 855.17L202.45 858.07L199.89 860.58" stroke-width="2.98"/><path d="M233.92 842.27L232.47 840.46L230.61 838.23L226.74 835.76L222.6 835.16" stroke-width="2.68"/><path d="M218.06 848.88L219.87 850.72L221.79 853.13L223.17 856.01L224.21 859.48L224.31 863.74L223.59 866.99" stroke-width="2.68"/><path d="M205.97 854.78L205.25 857.28L203.44 861.25L199.72 862.83L195.88 864.52" stroke-width="2.68"/><path d="M229.89 917.93L232.95 917.78L237.03 917.37L241.11 916.95L245.55 915.8L247.88 914.53L250.35 912.26L254.01 910.47L257.32 907.78L258.05 903.86L257.5 900.75L255.13 898.99L253.33 896.66L252.93 893.4L253.36 889.17L253.15 886.07" stroke-width="2.47"/><path d="M253.47 896.56L251.36 894.46L248.16 892.15L245.11 890.66L240.95 889.79L238.7 888.68" stroke-width="2.25"/><path d="M81.2 828.96L84.34 828.57L87.83 829.21L91.29 830.37L93.58 831.9L96.15 835.26L97.55 837.17L102.3 837.3L105.51 837.26L109.35 838.24L112.31 839.97L115.31 840.04L118.77 840L122.83 840.64L127.88 841.58L131.05 841.34L135.6 841.69L139.24 842.2L142.84 841.74L145.64 841.16L149.84 840.6L153.3 840.33L156.19 839.5" stroke-width="2.96"/><path d="M111.87 840.31L109.59 838.69L106.05 836.67L103.81 834.27L100.86 832.37L98.37 830.84" stroke-width="2.66"/><path d="M135.57 841.85L135.67 839.54L135.05 835.72L135.01 832.19L137.43 828.46L138.58 825.94" stroke-width="2.66"/><path d="M145.94 841.59L146.73 839.48L149.51 837.31L152.23 837.05L156.51 836.73L158.86 836.27" stroke-width="2.66"/><path d="M264.3 961.8L260.32 961.27L255.87 961.27L252.47 962.26L250.43 964.08L248.82 966.91L246.72 968.86L242.94 970.2L238.25 970.56L234.65 970.6L230.09 970.67L227.49 970.45" stroke-width="2.49"/><path d="M101.75 931.79L103.65 932.96L106.62 934.83L109.16 935.69L112.16 936.81L115.19 936.25L119.24 935.27L121.86 932.04L124.73 930.41L127.74 928.56L130.69 926.04L134.42 924.53L137.55 923.01L140.14 921.77" stroke-width="2.51"/><path d="M122.2 932.32L124.22 933.3L127.03 935.41L129.74 937.48L134.29 937.76L137.97 937.5L140.81 938.36L143.36 938.64" stroke-width="2.29"/><path d="M254.85 829.62L253.17 832.14L251.83 836.32L250.07 839L247.68 841.87L246.03 843.24L246.13 845.44L245.46 848.85L244.68 851.88L244.17 855.23L242.98 857.61" stroke-width="2.82"/><path d="M214.84 763.05L212.76 765.36L209.85 767.81L209.85 770.9L210.33 774.55L210 778.03L208.43 780.47L206.01 783.01L203.23 785.64L200.48 787.24L196.94 788.16L194.03 790.46L192.19 792.73L191.74 795.79L190.31 798.27L187.36 799.37L184.41 800.33L180.84 800.84L178.41 799.39L175.01 797.78L172.74 795.98L170.56 794.66L167.99 793.34L163.75 792.41L160.78 792.85" stroke-width="2.38"/><path d="M193.92 790.08L191.07 788.49L188.47 786.12L185.36 785.08L183.27 783.67L180.33 781.37L178.44 780.26" stroke-width="2.17"/><path d="M209.65 777.59L213.05 778.69L216.24 780.56L218.56 782.29L220.58 783.97" stroke-width="2.17"/><path d="M75.17 980.1L73.05 982.05L70.41 984.49L67.8 986.06L64.07 986.48L61.67 986.15L58.91 987.71L56.21 988.59L52.16 989.39L48.64 989.67" stroke-width="2.94"/><path d="M231.24 896.77L228.4 899.97L225.86 903.27L225.78 906.81L226.41 910L227.98 913.27L228.66 916.22L230.07 918.13L233.34 920.04L237.42 921.26L240.32 922.54L243.72 924.38L245.82 925.45" stroke-width="2.88"/><path d="M226.64 910.22L226.85 906.96L228.13 903.22L228.23 900.55L228.89 897.95" stroke-width="2.6"/><path d="M228.21 979.96L225.19 978.91L221.9 976.74L218.91 975.16L214.39 972.23L212.9 969.6L210.98 966.59L208.48 964.85L204.78 963.74L200.25 963.31L197.28 962.4L194.09 962.8L190.99 963.83L188.16 966.54L185.98 969.08L183.58 971.44L181.81 974.46L180.71 977.87L179 980.36L177.52 983.46L176.75 986.71L176.94 991.34L177.52 994.79" stroke-width="2.68"/><path d="M193.81 819.15L195.95 818.06L198.8 816.66L202.28 817.24L205.79 818.54L207.97 820.03L209.66 823.1L211.42 825.76L212.78 829.58L214.8 832.12L218.4 834.72L221.77 835.95L227.02 834.39" stroke-width="2.43"/><path d="M205.72 818.3L207.5 815.29L210.58 812.29L212.99 810.4L215.54 808.18L217.6 806.88L219.4 803.29L220.37 800.09" stroke-width="2.21"/><path d="M75.33 877.8L78.89 878.53L83.04 878.88L87.18 878.1L91.35 876.88L93.93 875.71L96.62 873.79L99.32 871.9L99.81 869.08L100.5 866.18L100.75 863.01L99.27 859.47L97.46 856.45L95.46 853.12L94.21 850.12L92.88 845.75L90.88 841.62L89.44 838.2" stroke-width="2.78"/><path d="M100.4 863.13L98.29 862.06L94.6 860.65L92.22 859.42L87.9 857.31L85.22 856.92" stroke-width="2.52"/><path d="M83.35 879.06L86.02 876.85L88.13 872.82L91.34 869.08L93.95 867.39L97.17 866.8" stroke-width="2.52"/><path d="M93.25 846.07L92.39 844.1L90.61 841.34L90.14 837.91L90.16 834.81L91.29 831.7L91.44 828.45L91.16 825.69L91.04 821.72L89.99 819.6" stroke-width="2.52"/><path d="M122.36 954.64L125.59 955.5L130.73 955.65L133.95 955.43L137.33 954.34L140.12 952.89L142.37 951.55L143.89 948.18L144.91 944.11L145.81 941.15L148.17 939.56L151.26 938.56L153.66 937.54L157.78 937.64L161.33 939.43L164.27 941.98L165.84 943.9" stroke-width="2.82"/><path d="M270.9 782.24L273.61 779.99L277.89 776.98L280.52 774.76L282.81 772.7L288.19 771.95L290.72 768.13L292.77 765.61" stroke-width="2.62"/><path d="M277.79 777.35L277.18 780.16L275.84 783.36L275.18 786.6L275 790.02L275.67 793.33L275.82 795.85" stroke-width="2.37"/><path d="M287.9 771.51L289.5 769.08L291.48 765.6L292.35 762.99" stroke-width="2.37"/><path d="M270.9 782.24L269.43 786.75L267.14 791.52L265.25 794.49" stroke-width="2.37"/><path d="M120.98 971.65L123 969.61L124.58 967.83L127.5 964.81L128.6 961.61L129.65 958.2L131.16 954.53L133.02 952.99L136.15 952.12L138.62 950.59L140.07 947.47L140.71 943.93L142.76 941.53L146.26 940.38L149.65 938.67L150.94 936.33L151.57 932.54L152.36 929.78L152.64 926.31L152.88 924.08L151.52 920.5L149.74 918.54L147.36 916.06L144.53 914.75L142.46 913.09" stroke-width="2.85"/><path d="M149.8 918.28L151.83 916.29L154.4 913.98L157.51 911.91L160.88 911.09L162.94 911.6L166.07 909.84L168.2 908.76" stroke-width="2.58"/><path d="M127.09 964.57L123.65 965.87L119.86 967.05" stroke-width="2.58"/><path d="M187.17 770.39L184.87 768.2L181.56 765.37L178.92 763.74L177.23 761.65L177.68 758.8L178.38 754.74L177 752.15L176.17 749.25L173.9 747.03L171.09 745.45L167.87 743.99L164.34 744.2L161.31 745.04L157.71 746.63L154.82 747.69" stroke-width="2.74"/><path d="M187.17 770.39L187.53 768.51L189.65 765.46L192.11 763.21L194.19 760.83L196.63 759.35" stroke-width="2.48"/><path d="M177.28 761.21L175.46 757.62L173.34 754.79" stroke-width="2.48"/><path d="M154.82 747.69L153.59 744.3L152.45 740.65L151.86 737.11L151.73 734.43L150.64 731.68L148.44 728.87L145.53 726.77" stroke-width="2.48"/><path d="M125.46 919.71L125.09 916.72L124.24 913.1L124.61 909.46L123.41 905.94L121.11 903.08L116.7 900.56L114.65 896.25L113.16 892.77L113.48 889.77L113.66 886.3L111.79 882.16" stroke-width="2.65"/><path d="M113.04 892.74L107.64 891.81L104.97 892.57L102.6 894.05" stroke-width="2.4"/><path d="M114.05 886.74L111.9 887.19L108.05 887.26L103.53 889.73L100.33 892.97L97.74 895.36" stroke-width="2.4"/><path d="M113.04 892.74L113.35 889.03L114.87 885.04L115.09 881.37L115.8 878.19L115.43 874.08L114.56 870.55" stroke-width="2.4"/><path d="M226.04 973.37L225.69 975.28L225.49 979.36L225.49 981.95L225.15 985.88L224.68 988.44L227.01 991.1L229.91 993.46L230 995.74L230.63 998.75L230.79 1002.19L231.9 1005.47L233.02 1008.25L234.62 1010.06L237.49 1011.87L241.55 1012.86L245.15 1014.12L247.86 1015.61L249.76 1018.38L251.6 1020.41" stroke-width="2.46"/><path d="M225.38 979.21L222.37 978.31L220.06 978.15" stroke-width="2.24"/><path d="M229.71 993.17L227.37 993.65L223.54 993.72L220.42 994.48L216.94 996.32L215.37 997.74" stroke-width="2.24"/><path d="M199.4 981.73L200.31 979.13L200.88 975.95L202.17 972.21L203.17 968.58L205.2 965.59L206.74 962.48L207.36 958.44L209.02 955.24L211.8 953.35L215.32 951.82L218.27 951.6L221.48 951.17L224.37 950.19L227.22 949.3L229.95 948.53L233.23 947.11L235.93 945.49L237.35 942.97" stroke-width="2.63"/><path d="M232.96 947.48L230.04 947.29L227.19 947.69L223.47 947.55L219.93 949.55L217.28 951L216.16 955.42L214.6 959.21" stroke-width="2.38"/><path d="M221.46 951.16L222.45 948.93L223.76 945.56L224.14 942.2L224.76 938.55L227.71 935.89L230.87 932.86" stroke-width="2.38"/><path d="M102.4 968.79L100.04 969.77L96.23 972.09L93.04 973.47L92.18 976.95L91.89 980.51L91.84 982.85L91.03 986.03L89.68 988.48L86.65 991.24L82.44 993.08L79.37 994.11" stroke-width="2.34"/><path d="M86.92 991.14L89.38 994.35L91.03 997.5" stroke-width="2.14"/><path d="M93.13 973.61L96.51 973.44L100.17 973.78L104.74 974.99L107.59 976.75" stroke-width="2.14"/><path d="M86.92 991.14L87.11 993.68L87.11 998.42L85.68 1000.64L84.05 1003.3L81.88 1005.61L79.68 1009.38L77.46 1011.37" stroke-width="2.14"/><path d="M98.61 875.35L97.6 878.72L96.74 882.1L97.71 887.57L100.28 889L102.7 889.89L105.72 891.36L108.21 893.25L111.44 895.84L113.56 897.05" stroke-width="2.98"/><path d="M98.61 875.35L101.96 873.68L104.8 872.61" stroke-width="2.69"/><path d="M98.61 875.35L101.94 873.35L104.88 869.94L105.93 866.26L106.3 863.06" stroke-width="2.69"/><path d="M156.08 773.68L155.05 775.6L153.41 778.8L151.69 782.3L151.3 785.13L152.11 788.98L152.87 792.55L154.2 795.73L155.91 798.28L157.88 800.09L160.29 802.43L162.17 804.41L164.65 806.32L167.11 808.41L169.62 810.42L172.15 813.04L172.5 816.36L172.85 820.47L172.69 822.84" stroke-width="2.63"/><path d="M171.85 813.05L176.24 810.46L178.9 807.64L180.92 805.36" stroke-width="2.39"/><path d="M156.08 773.68L156.64 770.56L158.19 766.92L160.41 763.16L161.51 759.93" stroke-width="2.39"/><path d="M141.05 816.7L144.45 816.75L148.09 815.29L151.08 813.98L154.22 811.74L157.05 810.56L159.44 810.09L162.29 811.42L165.32 811.71L169.25 811.37L172.16 811.84L176.64 814.95L178.21 817.67L179.71 820.2" stroke-width="2.35"/><path d="M254.31 956.13L254.32 958.38L254.21 962.18L254.24 965.04L254.67 968.77L255.29 972.62L255.68 976.28L257.12 979.72L258.93 981.57L261.25 983.29L264.24 983.76L267.41 985.31L270.32 984.77L275.17 984.21L279.32 983.29L282.51 982.5" stroke-width="2.47"/><path d="M254.33 961.94L253.43 957.99L253.27 953.31L254.05 950.09L254.86 947.88L253.06 942.76" stroke-width="2.25"/><path d="M256.86 979.34L254.86 977.42L252.3 975.71L249.29 975.41L245.57 974.26L242.49 973.72L239.74 971.8L237.44 970.87" stroke-width="2.25"/><path d="M261.57 983.3L259.79 986.34L257.25 990.51L254.79 994.14L253.09 997.54" stroke-width="2.25"/><path d="M149.29 917.5L150.75 915.56L151.36 912.41L150.09 910.18L148.76 907.5L149.2 904.67L148.59 901.61L148.32 898.9L148.36 895L148.27 891.95L147.43 888.91L146.59 885.99L147.99 883.59L150.81 880.15L151.78 877.5L151.38 874.1L149.83 870.63L148.87 868.08L148.74 864.84L147.59 861.32L145.48 858.85L143.78 855.23L143.03 853.35" stroke-width="2.48"/><path d="M149.11 907.32L146.29 908.34L143.79 910.6L141.06 911.67" stroke-width="2.25"/><path d="M143.03 853.35L146.55 854.02L151.1 854.73L152.88 857.19L155.36 859.19L157.87 861.09L161.52 862.26L164.28 862.43" stroke-width="2.25"/><path d="M218.31 811.73L219.54 813.72L221.41 816.51L222.8 819.55L222.65 823.03L221.84 827.02L221.8 830.88L222.87 833.55L223.83 837.05L226.1 838.62L229.02 841.72L230.5 842.95" stroke-width="2.57"/><path d="M218.31 811.73L218.08 814.55L218.24 817.7" stroke-width="2.34"/><path d="M248.03 850.36L250.96 850.89L254.34 850.26L256.27 848.26L259.53 845.16L262.3 844.69L265.18 845.34L268.59 844.79L271.19 843.31L274.1 841.52L276.26 840.11L278.8 838.03L280.83 836.14L283.25 834.41L285.96 833.04L287.92 830.47L289.69 828.01L291.06 824.63L295.11 823.09L298.16 821.51" stroke-width="2.88"/><path d="M291.26 824.82L287.38 828.12" stroke-width="2.6"/><path d="M259.7 845.48L259.82 848.31L261.12 851.32L261.88 855.51L262.62 858.11" stroke-width="2.6"/><path d="M126.23 771.7L130.32 774.56L132.09 775.95L135.69 776.98L137.18 779.72L139.99 783.82L142.03 786.6L145.49 790.02L148.74 791.64L153.35 793.47L155.76 796.19L158.06 797.42" stroke-width="2.73"/><path d="M135.38 777.34L134.68 779.61L133.9 783.57L133.05 786.72L133.11 790.48L132.64 794.28L132.44 796.24" stroke-width="2.47"/><path d="M152.9 793.83L155.3 796.99L157.02 800.33" stroke-width="2.47"/><path d="M219.54 820.63L223.54 819.88L227.76 819.17L229.06 816.74L230.53 813.61L235.72 812.18L237.95 811.85L241.64 810.64L245.13 810.18L247.61 810.83L251.17 812.41L254.29 813.92L257.1 814.14L260.16 813.9L263.43 815.34L266.29 816.54L269.38 819.11L270.94 821.59L271.28 825.03L270.54 826.99" stroke-width="2.97"/><path d="M263.67 814.93L266.41 817.66L268.96 820.71L272.07 822.33L275.23 822.88L279.77 823.83L283.73 824.56" stroke-width="2.67"/><path d="M253.96 813.48L251.73 811.99L248.7 810.29L247.35 807.06L246.23 803.87" stroke-width="2.67"/><path d="M227.47 819.09L226.15 821.36L224.68 824.47" stroke-width="2.67"/></g>
<g fill="none" stroke="#b7a9a8" stroke-linecap="round" stroke-linejoin="round"><path d="M275.57 863.95L273.57 865.61L270.15 866.76L267.22 868.63L263.24 870.74L259.66 873.56L256.92 876.38L256.14 880.02L257.46 883.81L257.76 888.11L256.48 890.6L255.52 893.45L253.87 895.85L251.08 898.53L248.46 901.24L247.4 904.56L245.82 907.16L243.87 909.57L239.83 913.19L236.85 915.12" stroke-width="1.88"/><path d="M81.28 802.64L80.04 805.17L78.32 809.24L76.57 811.42L74.91 813.75L73.95 817.47L73.4 821.06L75.94 823.33L77.58 824.66" stroke-width="1.76"/><path d="M77.58 824.66L80.51 825.9L83.85 826.64" stroke-width="1.49"/><path d="M78.25 808.91L75.98 810L73.51 812.64L71 813.94" stroke-width="1.49"/><path d="M73.8 820.66L76.04 821.84L79.39 823.96L82.25 825.62L84.89 829.66" stroke-width="1.49"/><path d="M115.02 962.93L113.02 963.9L109.75 964.49L106.5 965.06L103.29 965.33L100.36 966.03L97.67 967.19L95.5 969.13L93.51 971.76L90.48 974.53L88.24 977.32L85.75 978.5L83.27 979.17L81 981.19L79.94 983.68L79.55 986.25L79.82 990.24L80.35 993.71L82.82 996.98L85.26 1000.52L87.96 1003.18L89.53 1004.63" stroke-width="1.81"/><path d="M79.63 983.7L77.44 981.95L74.55 979.06L72.25 977.02" stroke-width="1.54"/><path d="M68.01 952.7L70.64 951.6L73.92 949.42L77.3 947.86L78.82 944.39L81.19 941.58L83.72 940.61L86.06 939.47L89.29 938.34L91.45 934.83L92.55 931.55L93.58 927.79L93.73 924.89L93.41 921.63L94.78 917.96L96.51 915.64L97.37 912.55L96.59 910.17L93.81 905.77L91.41 903.19" stroke-width="1.47"/><path d="M93.41 921.6L93.5 917.79L92.91 914.2" stroke-width="1.25"/><path d="M80.78 941.34L83.27 939.28L86.06 937.46" stroke-width="1.25"/><path d="M119.22 896.19L119.89 893.95L121.52 890.16L122.03 886.03L121.44 881.99L120.14 878.55L119.61 875.71L120.98 871.66L122.46 867.39L124.17 865.4L123.89 862.49L122.5 859.22L120.3 855.46L118.64 853.18" stroke-width="1.47"/><path d="M119.27 875.63L116.94 877.67L112.44 878.95L109.8 879.34L105.68 877.72L103.03 877.4L99.19 879.27L96.16 880.67" stroke-width="1.25"/><path d="M118.64 853.18L118.3 850.16L118.65 846.97L120.99 843.41L123.38 839.62L123.64 835.9L123.09 832.99" stroke-width="1.25"/><path d="M122.12 885.95L126.38 886.07L129.77 886.18" stroke-width="1.25"/><path d="M286.55 780.82L286.51 783.37L285.69 786.04L284.95 789.77L282.86 793.83L280.53 797.18L281.43 802.19L284.48 804.17L287.49 806.17L290.2 807.62L292.42 810.88L295 814.37L296.65 816.58L300.02 816.89L303.19 817.36L306.21 816.73L309.26 816.86L312.69 817.38L315.18 817.29" stroke-width="1.52"/><path d="M84.81 881.86L85.39 879.3L87.02 876.78L89.76 874.77L93.17 873.3L95.36 871L96.39 866.39L96.15 863.54L94.14 860.27L93.66 857.18L95.88 852.48L97.65 847.84L100.62 845.31L103.22 842.31L103.72 840.16L102.25 837.43L100.37 834.71L98.09 833.46" stroke-width="1.48"/><path d="M95.65 852.4L92.97 853.7L89.08 854.81L85.65 856.92L81.59 858.95L78.21 860.49L75.06 861.61" stroke-width="1.26"/><path d="M93.3 857.01L90.61 857.53L87.29 857.22L83.9 858.64L80.87 860.01L79.01 862.15L77.06 864.31" stroke-width="1.26"/><path d="M102.99 842.61L103.12 845.81L103.99 848.24" stroke-width="1.26"/><path d="M237.27 836.55L240.44 837.4L243.79 838.48L246.16 839.91L248.85 841.34L251.64 842.74L255.55 843.89L258.32 846.31L259.86 848.96L260.53 852.14L261.55 855.42L264.5 859.36L266.33 862.75L268.84 864.17L271.57 866.23L274.11 867.64L277.25 870.35L279.36 872.01" stroke-width="1.89"/><path d="M281.37 821.91L282.74 824.31L285.59 827.6L287.37 830.53L286.94 834.49L286.85 837.86L287.11 841.33L286.36 843.98L286.12 846.73L285.09 850.49L283 853.44L281.76 855.9L279.77 859.38L277.38 861.61L274.38 862.66L270.49 863.49L267.85 863.57L264.09 864.18L261.79 864.35" stroke-width="1.5"/><path d="M281.59 856.16L279.01 855.87L275.59 855.12L270.8 854.95L267.96 852.6L265.86 851.1" stroke-width="1.27"/><path d="M286.71 838.15L286.41 836.24L284.94 832.66L283.6 829.13L283.02 824.9L281.58 822.18L280.35 820.18" stroke-width="1.27"/><path d="M112.4 943.69L115.46 946.26L118.45 948.82L119.37 952.04L121.17 954.17L123.27 956.36L125.9 959.32L128.63 962.18L130.2 966.14L130.97 968.49L132.39 972.05L133.18 975.31L135.26 978.54L136.33 981.36L137.66 983.32L138.3 986.47L136.87 989.18L134.3 990.88L130.67 991.91L128.46 994.33L127.21 997.87L126.01 1001.26" stroke-width="1.74"/><path d="M265.48 937.66L267.62 935.66L271.22 933.8L273.65 930.68L275.29 927.46L274.93 924.62L276.06 921.02L278.08 917.91L281.19 915.79L282.53 913.17L283.61 909.73L283.07 906.31L282.84 903.73L282.01 901.4L281.16 898.42L278.36 894.77L277.28 892L277.72 887.59L279.09 885.25" stroke-width="1.8"/><path d="M146.21 778.73L143.89 780.27L140.04 782.19L137.55 782.09L134.61 780.21L131.96 777.17L130.03 774.93L125.94 774.23L121.85 773.73L118.36 772.92L114.69 771.18L111.61 769.45L107.8 768.86L103.99 767.29L101.12 766.05L99.26 763.04L97.99 758.55L96.71 754.66L96.2 751.43" stroke-width="1.92"/><path d="M238.19 858.12L236.03 857.24L232.72 855.72L229.8 853.91L226.52 851.43L223.55 849.92L220.6 850.05L217.9 850.44L214.71 849.56L212.34 847.49L210.07 844.2L208.1 841.62L206.47 838.61L204.98 835.36L201.67 833.92L197.14 832.14L193.91 832.02L190.01 832.21L186.47 832.27L184.24 832.56L181.38 835.97L180.17 838.96" stroke-width="1.68"/><path d="M247.9 885.59L245.72 887.01L242.41 890.06L239.93 891.98L236.73 894.14L234.62 897.22L231.96 899.29L227.88 899.7L224.74 900.64L221.48 902.71L217.93 905.47L216.16 907.99L214.47 911.07L211.85 913.41L208.18 914.44L204.54 914.82L201.11 915.21L198.68 915.17L196.06 915.98L190.9 917.15L188.27 919L185.98 921.1L183.65 922.89" stroke-width="1.98"/><path d="M111.52 810.89L111.32 808.35L111.25 804.15L111.28 800.74L111.46 796.02L112.29 793.12L112.32 789.6L112.99 786.79L113.89 783.46L115.53 780.24L116.39 777.67L118.8 775.6L122.03 772.67L123.78 769.88L123.75 767.25L123.29 763.39L122.4 761.43" stroke-width="1.88"/><path d="M116.55 777.77L117.18 780.33L117.55 783.51L120.29 786.99L122.75 789.42L125.07 792.63L125.81 794.51" stroke-width="1.6"/><path d="M273.46 900.07L273.01 902.84L271.87 906.75L269.28 908.74L265.78 909.5L262.78 908.66L259.99 906.97L256.46 905.71L252.82 907.17L250.08 908.22L246.64 907.58L243.79 907.21" stroke-width="1.37"/><path d="M250.3 907.98L249.33 904.08L248.46 900.05" stroke-width="1.16"/><path d="M273.46 900.07L275.07 901.73L278.05 904.65L279.79 907.79L279.81 909.82L279.38 913.43L279.17 916.53L278.82 919.43L278.29 921.85" stroke-width="1.16"/><path d="M250.3 907.98L253.83 910.08L256.89 911.37" stroke-width="1.16"/><path d="M73.36 929.92L71.5 927.62L68.44 926.35L65.8 925.18L62.46 926.5L60.04 928.28L56.85 930.26L52.7 931.56L48.73 932.68L47.37 935.14L45.32 937.43L43.6 939.96L44.26 943.48L44.72 945.91L46.16 949.32L47.95 952.59L49.6 955.98L51.27 957.94" stroke-width="1.56"/><path d="M257.61 800.65L254.69 801.93L251.26 804.35L248.73 806L245.69 807.37L243.08 807.71L240.14 807.03L236.39 806.77L233.62 807.62L231.19 810.51L228.13 811.67L224 811.75L220.44 811.28L217.35 810.17L214.53 807.56L211.93 803.65L208.59 801.96L204.64 801.18L200.73 800.64L197.71 800.27L194.53 800.01L191.1 801.1L189.42 802" stroke-width="1.82"/><path d="M212.34 803.79L213.28 807.41L213.78 812.12L213 815.13L211.6 818.56L210.78 820.63" stroke-width="1.55"/><path d="M159.07 921.16L161.16 921.13L164.66 921.46L167.71 923.67L170.72 926.37L172.16 929.26L172.55 931.58L172.41 934.99L173.87 937.88L176.06 941.09L177.88 944.27L180.28 946.5L182.03 948.7L185.41 950.52L187.38 951.79" stroke-width="1.35"/><path d="M182.25 948.51L181.35 951.82L181.08 955.57L180.4 958.23" stroke-width="1.15"/><path d="M159.07 921.16L160.67 923.76L161.9 926.77" stroke-width="1.15"/><path d="M172.72 934.66L167.85 933.33" stroke-width="1.15"/><path d="M126 821.67L124.11 823.86L122.71 827.1L120.11 830.69L117.9 833.77L115.06 836.74L113.23 838.98L110.11 840.91L107.42 843.06L104.85 844.52L103.92 848.79L103.18 853.44L102.09 855.48L99.71 857.05L97.6 857.91L94.33 858.17L91.19 858.27L87.74 859.29L83.89 860.57L79.67 860.92" stroke-width="1.34"/><path d="M94.08 858.11L93.1 860.53L91.84 864.57L90.91 868.63L91.34 872.74" stroke-width="1.14"/><path d="M79.67 860.92L83.01 860.73L85.92 860.37L88.36 857.89L90.35 855.67L89.99 852.66L89.91 849.74" stroke-width="1.14"/><path d="M94.08 858.11L96.12 859.35L98.32 861.82L98.81 864.71L98.6 868.2L98.57 871.31" stroke-width="1.14"/><path d="M84.42 961.88L82.48 963.76L80.03 966.24L78.18 969L78.84 972.32L79.28 974.51L77.98 977.36L75.96 980.93L75.13 984.31L75.38 987.63L75.68 991.38L77.53 994.74L78.7 997.59L80.86 999.88L83.03 1001.84L86.76 1003.55L90.46 1002.88L93.63 1000.67L96.59 999L98.93 996.9" stroke-width="1.55"/><path d="M78.43 969.29L75.02 971.44L72.38 973.34" stroke-width="1.32"/><path d="M162.17 933.48L160.86 930.8L159.34 927.83L157.1 925.81L154.68 923.71L152.05 922.29L151.44 919.79L150.1 916.89L149.44 913.33L149.15 909.75L148.56 906.38L147.43 903.07L145.2 900.33L143.95 898.36" stroke-width="1.7"/><path d="M143.95 898.36L144.9 900.99L145.9 904.3" stroke-width="1.44"/><path d="M288.04 964.14L292.15 961.46L295.75 957.49L295.06 954.6L293.52 950.91L292.04 948.54L289.58 945.42L288.38 943.42" stroke-width="1.94"/><path d="M288.38 943.42L288.8 946.39L289.11 949.79L290.7 953.89L291.97 957.08" stroke-width="1.65"/><path d="M97.87 953.87L100.97 950.91L104.53 948.2L108.18 947.75L110.55 946.72L113.82 945.45L117.21 944.97L119.85 945.59L123.94 946.08L127.1 947.76L130.83 949.78L133.36 951.92L137.83 952.22L141.36 953.42L144.74 955.23L148.18 957.54L150.31 959.33" stroke-width="1.6"/><path d="M104.63 948.34L103.61 949.75L101.6 952.26L98.58 955.39L96.2 958" stroke-width="1.36"/><path d="M150.31 959.33L151.14 962.25L152.51 964.98" stroke-width="1.36"/><path d="M216.67 778.49L214.73 780.99L211.67 783.54L208.59 784.13L205.6 783.4L202.12 783.67L198.62 782.18L196.41 779.84L194.43 776.75L191.53 773.86L188.5 770.09L188.59 767.28L188.61 764.09L188.19 761.12L187.1 757.44L185.26 753.31L187.06 750.08L189.27 746.75L189.03 743.44L188.78 739.01L188.75 735.94" stroke-width="1.81"/><path d="M211.61 783.27L211.61 786.96L212.5 791.72L211.77 795.35L211.73 798.5L211.43 800.6" stroke-width="1.54"/><path d="M233.92 842.27L230.39 842.07L225.8 842.88L223.41 844.36L220.33 847.02L217.92 849.23L214.69 848.95L211.72 848.54L208.5 851.45L205.56 855.17L202.45 858.07L199.89 860.58" stroke-width="1.98"/><path d="M233.92 842.27L232.47 840.46L230.61 838.23L226.74 835.76L222.6 835.16" stroke-width="1.68"/><path d="M218.06 848.88L219.87 850.72L221.79 853.13L223.17 856.01L224.21 859.48L224.31 863.74L223.59 866.99" stroke-width="1.68"/><path d="M205.97 854.78L205.25 857.28L203.44 861.25L199.72 862.83L195.88 864.52" stroke-width="1.68"/><path d="M229.89 917.93L232.95 917.78L237.03 917.37L241.11 916.95L245.55 915.8L247.88 914.53L250.35 912.26L254.01 910.47L257.32 907.78L258.05 903.86L257.5 900.75L255.13 898.99L253.33 896.66L252.93 893.4L253.36 889.17L253.15 886.07" stroke-width="1.47"/><path d="M253.47 896.56L251.36 894.46L248.16 892.15L245.11 890.66L240.95 889.79L238.7 888.68" stroke-width="1.25"/><path d="M81.2 828.96L84.34 828.57L87.83 829.21L91.29 830.37L93.58 831.9L96.15 835.26L97.55 837.17L102.3 837.3L105.51 837.26L109.35 838.24L112.31 839.97L115.31 840.04L118.77 840L122.83 840.64L127.88 841.58L131.05 841.34L135.6 841.69L139.24 842.2L142.84 841.74L145.64 841.16L149.84 840.6L153.3 840.33L156.19 839.5" stroke-width="1.96"/><path d="M111.87 840.31L109.59 838.69L106.05 836.67L103.81 834.27L100.86 832.37L98.37 830.84" stroke-width="1.66"/><path d="M135.57 841.85L135.67 839.54L135.05 835.72L135.01 832.19L137.43 828.46L138.58 825.94" stroke-width="1.66"/><path d="M145.94 841.59L146.73 839.48L149.51 837.31L152.23 837.05L156.51 836.73L158.86 836.27" stroke-width="1.66"/><path d="M264.3 961.8L260.32 961.27L255.87 961.27L252.47 962.26L250.43 964.08L248.82 966.91L246.72 968.86L242.94 970.2L238.25 970.56L234.65 970.6L230.09 970.67L227.49 970.45" stroke-width="1.49"/><path d="M101.75 931.79L103.65 932.96L106.62 934.83L109.16 935.69L112.16 936.81L115.19 936.25L119.24 935.27L121.86 932.04L124.73 930.41L127.74 928.56L130.69 926.04L134.42 924.53L137.55 923.01L140.14 921.77" stroke-width="1.51"/><path d="M122.2 932.32L124.22 933.3L127.03 935.41L129.74 937.48L134.29 937.76L137.97 937.5L140.81 938.36L143.36 938.64" stroke-width="1.29"/><path d="M254.85 829.62L253.17 832.14L251.83 836.32L250.07 839L247.68 841.87L246.03 843.24L246.13 845.44L245.46 848.85L244.68 851.88L244.17 855.23L242.98 857.61" stroke-width="1.82"/><path d="M214.84 763.05L212.76 765.36L209.85 767.81L209.85 770.9L210.33 774.55L210 778.03L208.43 780.47L206.01 783.01L203.23 785.64L200.48 787.24L196.94 788.16L194.03 790.46L192.19 792.73L191.74 795.79L190.31 798.27L187.36 799.37L184.41 800.33L180.84 800.84L178.41 799.39L175.01 797.78L172.74 795.98L170.56 794.66L167.99 793.34L163.75 792.41L160.78 792.85" stroke-width="1.38"/><path d="M193.92 790.08L191.07 788.49L188.47 786.12L185.36 785.08L183.27 783.67L180.33 781.37L178.44 780.26" stroke-width="1.17"/><path d="M209.65 777.59L213.05 778.69L216.24 780.56L218.56 782.29L220.58 783.97" stroke-width="1.17"/><path d="M75.17 980.1L73.05 982.05L70.41 984.49L67.8 986.06L64.07 986.48L61.67 986.15L58.91 987.71L56.21 988.59L52.16 989.39L48.64 989.67" stroke-width="1.94"/><path d="M231.24 896.77L228.4 899.97L225.86 903.27L225.78 906.81L226.41 910L227.98 913.27L228.66 916.22L230.07 918.13L233.34 920.04L237.42 921.26L240.32 922.54L243.72 924.38L245.82 925.45" stroke-width="1.88"/><path d="M226.64 910.22L226.85 906.96L228.13 903.22L228.23 900.55L228.89 897.95" stroke-width="1.6"/><path d="M228.21 979.96L225.19 978.91L221.9 976.74L218.91 975.16L214.39 972.23L212.9 969.6L210.98 966.59L208.48 964.85L204.78 963.74L200.25 963.31L197.28 962.4L194.09 962.8L190.99 963.83L188.16 966.54L185.98 969.08L183.58 971.44L181.81 974.46L180.71 977.87L179 980.36L177.52 983.46L176.75 986.71L176.94 991.34L177.52 994.79" stroke-width="1.68"/><path d="M193.81 819.15L195.95 818.06L198.8 816.66L202.28 817.24L205.79 818.54L207.97 820.03L209.66 823.1L211.42 825.76L212.78 829.58L214.8 832.12L218.4 834.72L221.77 835.95L227.02 834.39" stroke-width="1.43"/><path d="M205.72 818.3L207.5 815.29L210.58 812.29L212.99 810.4L215.54 808.18L217.6 806.88L219.4 803.29L220.37 800.09" stroke-width="1.21"/><path d="M75.33 877.8L78.89 878.53L83.04 878.88L87.18 878.1L91.35 876.88L93.93 875.71L96.62 873.79L99.32 871.9L99.81 869.08L100.5 866.18L100.75 863.01L99.27 859.47L97.46 856.45L95.46 853.12L94.21 850.12L92.88 845.75L90.88 841.62L89.44 838.2" stroke-width="1.78"/><path d="M100.4 863.13L98.29 862.06L94.6 860.65L92.22 859.42L87.9 857.31L85.22 856.92" stroke-width="1.52"/><path d="M83.35 879.06L86.02 876.85L88.13 872.82L91.34 869.08L93.95 867.39L97.17 866.8" stroke-width="1.52"/><path d="M93.25 846.07L92.39 844.1L90.61 841.34L90.14 837.91L90.16 834.81L91.29 831.7L91.44 828.45L91.16 825.69L91.04 821.72L89.99 819.6" stroke-width="1.52"/><path d="M122.36 954.64L125.59 955.5L130.73 955.65L133.95 955.43L137.33 954.34L140.12 952.89L142.37 951.55L143.89 948.18L144.91 944.11L145.81 941.15L148.17 939.56L151.26 938.56L153.66 937.54L157.78 937.64L161.33 939.43L164.27 941.98L165.84 943.9" stroke-width="1.82"/><path d="M270.9 782.24L273.61 779.99L277.89 776.98L280.52 774.76L282.81 772.7L288.19 771.95L290.72 768.13L292.77 765.61" stroke-width="1.62"/><path d="M277.79 777.35L277.18 780.16L275.84 783.36L275.18 786.6L275 790.02L275.67 793.33L275.82 795.85" stroke-width="1.37"/><path d="M287.9 771.51L289.5 769.08L291.48 765.6L292.35 762.99" stroke-width="1.37"/><path d="M270.9 782.24L269.43 786.75L267.14 791.52L265.25 794.49" stroke-width="1.37"/><path d="M120.98 971.65L123 969.61L124.58 967.83L127.5 964.81L128.6 961.61L129.65 958.2L131.16 954.53L133.02 952.99L136.15 952.12L138.62 950.59L140.07 947.47L140.71 943.93L142.76 941.53L146.26 940.38L149.65 938.67L150.94 936.33L151.57 932.54L152.36 929.78L152.64 926.31L152.88 924.08L151.52 920.5L149.74 918.54L147.36 916.06L144.53 914.75L142.46 913.09" stroke-width="1.85"/><path d="M149.8 918.28L151.83 916.29L154.4 913.98L157.51 911.91L160.88 911.09L162.94 911.6L166.07 909.84L168.2 908.76" stroke-width="1.58"/><path d="M127.09 964.57L123.65 965.87L119.86 967.05" stroke-width="1.58"/><path d="M187.17 770.39L184.87 768.2L181.56 765.37L178.92 763.74L177.23 761.65L177.68 758.8L178.38 754.74L177 752.15L176.17 749.25L173.9 747.03L171.09 745.45L167.87 743.99L164.34 744.2L161.31 745.04L157.71 746.63L154.82 747.69" stroke-width="1.74"/><path d="M187.17 770.39L187.53 768.51L189.65 765.46L192.11 763.21L194.19 760.83L196.63 759.35" stroke-width="1.48"/><path d="M177.28 761.21L175.46 757.62L173.34 754.79" stroke-width="1.48"/><path d="M154.82 747.69L153.59 744.3L152.45 740.65L151.86 737.11L151.73 734.43L150.64 731.68L148.44 728.87L145.53 726.77" stroke-width="1.48"/><path d="M125.46 919.71L125.09 916.72L124.24 913.1L124.61 909.46L123.41 905.94L121.11 903.08L116.7 900.56L114.65 896.25L113.16 892.77L113.48 889.77L113.66 886.3L111.79 882.16" stroke-width="1.65"/><path d="M113.04 892.74L107.64 891.81L104.97 892.57L102.6 894.05" stroke-width="1.4"/><path d="M114.05 886.74L111.9 887.19L108.05 887.26L103.53 889.73L100.33 892.97L97.74 895.36" stroke-width="1.4"/><path d="M113.04 892.74L113.35 889.03L114.87 885.04L115.09 881.37L115.8 878.19L115.43 874.08L114.56 870.55" stroke-width="1.4"/><path d="M226.04 973.37L225.69 975.28L225.49 979.36L225.49 981.95L225.15 985.88L224.68 988.44L227.01 991.1L229.91 993.46L230 995.74L230.63 998.75L230.79 1002.19L231.9 1005.47L233.02 1008.25L234.62 1010.06L237.49 1011.87L241.55 1012.86L245.15 1014.12L247.86 1015.61L249.76 1018.38L251.6 1020.41" stroke-width="1.46"/><path d="M225.38 979.21L222.37 978.31L220.06 978.15" stroke-width="1.24"/><path d="M229.71 993.17L227.37 993.65L223.54 993.72L220.42 994.48L216.94 996.32L215.37 997.74" stroke-width="1.24"/><path d="M199.4 981.73L200.31 979.13L200.88 975.95L202.17 972.21L203.17 968.58L205.2 965.59L206.74 962.48L207.36 958.44L209.02 955.24L211.8 953.35L215.32 951.82L218.27 951.6L221.48 951.17L224.37 950.19L227.22 949.3L229.95 948.53L233.23 947.11L235.93 945.49L237.35 942.97" stroke-width="1.63"/><path d="M232.96 947.48L230.04 947.29L227.19 947.69L223.47 947.55L219.93 949.55L217.28 951L216.16 955.42L214.6 959.21" stroke-width="1.38"/><path d="M221.46 951.16L222.45 948.93L223.76 945.56L224.14 942.2L224.76 938.55L227.71 935.89L230.87 932.86" stroke-width="1.38"/><path d="M102.4 968.79L100.04 969.77L96.23 972.09L93.04 973.47L92.18 976.95L91.89 980.51L91.84 982.85L91.03 986.03L89.68 988.48L86.65 991.24L82.44 993.08L79.37 994.11" stroke-width="1.34"/><path d="M86.92 991.14L89.38 994.35L91.03 997.5" stroke-width="1.14"/><path d="M93.13 973.61L96.51 973.44L100.17 973.78L104.74 974.99L107.59 976.75" stroke-width="1.14"/><path d="M86.92 991.14L87.11 993.68L87.11 998.42L85.68 1000.64L84.05 1003.3L81.88 1005.61L79.68 1009.38L77.46 1011.37" stroke-width="1.14"/><path d="M98.61 875.35L97.6 878.72L96.74 882.1L97.71 887.57L100.28 889L102.7 889.89L105.72 891.36L108.21 893.25L111.44 895.84L113.56 897.05" stroke-width="1.98"/><path d="M98.61 875.35L101.96 873.68L104.8 872.61" stroke-width="1.69"/><path d="M98.61 875.35L101.94 873.35L104.88 869.94L105.93 866.26L106.3 863.06" stroke-width="1.69"/><path d="M156.08 773.68L155.05 775.6L153.41 778.8L151.69 782.3L151.3 785.13L152.11 788.98L152.87 792.55L154.2 795.73L155.91 798.28L157.88 800.09L160.29 802.43L162.17 804.41L164.65 806.32L167.11 808.41L169.62 810.42L172.15 813.04L172.5 816.36L172.85 820.47L172.69 822.84" stroke-width="1.63"/><path d="M171.85 813.05L176.24 810.46L178.9 807.64L180.92 805.36" stroke-width="1.39"/><path d="M156.08 773.68L156.64 770.56L158.19 766.92L160.41 763.16L161.51 759.93" stroke-width="1.39"/><path d="M141.05 816.7L144.45 816.75L148.09 815.29L151.08 813.98L154.22 811.74L157.05 810.56L159.44 810.09L162.29 811.42L165.32 811.71L169.25 811.37L172.16 811.84L176.64 814.95L178.21 817.67L179.71 820.2" stroke-width="1.35"/><path d="M254.31 956.13L254.32 958.38L254.21 962.18L254.24 965.04L254.67 968.77L255.29 972.62L255.68 976.28L257.12 979.72L258.93 981.57L261.25 983.29L264.24 983.76L267.41 985.31L270.32 984.77L275.17 984.21L279.32 983.29L282.51 982.5" stroke-width="1.47"/><path d="M254.33 961.94L253.43 957.99L253.27 953.31L254.05 950.09L254.86 947.88L253.06 942.76" stroke-width="1.25"/><path d="M256.86 979.34L254.86 977.42L252.3 975.71L249.29 975.41L245.57 974.26L242.49 973.72L239.74 971.8L237.44 970.87" stroke-width="1.25"/><path d="M261.57 983.3L259.79 986.34L257.25 990.51L254.79 994.14L253.09 997.54" stroke-width="1.25"/><path d="M149.29 917.5L150.75 915.56L151.36 912.41L150.09 910.18L148.76 907.5L149.2 904.67L148.59 901.61L148.32 898.9L148.36 895L148.27 891.95L147.43 888.91L146.59 885.99L147.99 883.59L150.81 880.15L151.78 877.5L151.38 874.1L149.83 870.63L148.87 868.08L148.74 864.84L147.59 861.32L145.48 858.85L143.78 855.23L143.03 853.35" stroke-width="1.48"/><path d="M149.11 907.32L146.29 908.34L143.79 910.6L141.06 911.67" stroke-width="1.25"/><path d="M143.03 853.35L146.55 854.02L151.1 854.73L152.88 857.19L155.36 859.19L157.87 861.09L161.52 862.26L164.28 862.43" stroke-width="1.25"/><path d="M218.31 811.73L219.54 813.72L221.41 816.51L222.8 819.55L222.65 823.03L221.84 827.02L221.8 830.88L222.87 833.55L223.83 837.05L226.1 838.62L229.02 841.72L230.5 842.95" stroke-width="1.57"/><path d="M218.31 811.73L218.08 814.55L218.24 817.7" stroke-width="1.34"/><path d="M248.03 850.36L250.96 850.89L254.34 850.26L256.27 848.26L259.53 845.16L262.3 844.69L265.18 845.34L268.59 844.79L271.19 843.31L274.1 841.52L276.26 840.11L278.8 838.03L280.83 836.14L283.25 834.41L285.96 833.04L287.92 830.47L289.69 828.01L291.06 824.63L295.11 823.09L298.16 821.51" stroke-width="1.88"/><path d="M291.26 824.82L287.38 828.12" stroke-width="1.6"/><path d="M259.7 845.48L259.82 848.31L261.12 851.32L261.88 855.51L262.62 858.11" stroke-width="1.6"/><path d="M126.23 771.7L130.32 774.56L132.09 775.95L135.69 776.98L137.18 779.72L139.99 783.82L142.03 786.6L145.49 790.02L148.74 791.64L153.35 793.47L155.76 796.19L158.06 797.42" stroke-width="1.73"/><path d="M135.38 777.34L134.68 779.61L133.9 783.57L133.05 786.72L133.11 790.48L132.64 794.28L132.44 796.24" stroke-width="1.47"/><path d="M152.9 793.83L155.3 796.99L157.02 800.33" stroke-width="1.47"/><path d="M219.54 820.63L223.54 819.88L227.76 819.17L229.06 816.74L230.53 813.61L235.72 812.18L237.95 811.85L241.64 810.64L245.13 810.18L247.61 810.83L251.17 812.41L254.29 813.92L257.1 814.14L260.16 813.9L263.43 815.34L266.29 816.54L269.38 819.11L270.94 821.59L271.28 825.03L270.54 826.99" stroke-width="1.97"/><path d="M263.67 814.93L266.41 817.66L268.96 820.71L272.07 822.33L275.23 822.88L279.77 823.83L283.73 824.56" stroke-width="1.67"/><path d="M253.96 813.48L251.73 811.99L248.7 810.29L247.35 807.06L246.23 803.87" stroke-width="1.67"/><path d="M227.47 819.09L226.15 821.36L224.68 824.47" stroke-width="1.67"/></g>
<ellipse cx="133.5" cy="953.7" rx="2.47" ry="1.48" fill="#18a6d8" transform="rotate(-25 133.5 953.7)"/>
<ellipse cx="276.49" cy="977.73" rx="3.45" ry="1.97" fill="#18a6d8" transform="rotate(-25 276.49 977.73)"/>
<g fill="none" stroke="#b9b108" stroke-linecap="round" stroke-linejoin="round"><path d="M177.1 888.67L176.96 886.43L177.89 883.55L178.28 879.65L179.16 876.24L179.72 873.22L181.92 871.57L185.89 869.17L188.44 868.05L191.37 865.71L193.71 863.85L195.71 862L196.25 859.16L197.33 856.14L198.25 852.43L198.84 849.74L199.43 847.23L201.67 844.93L202.24 842.69L203.75 839.08L203.33 836.64L203.57 832.83L202.73 830.42L202.28 826.96L202.06 823.97L200.9 820.64L200.53 817.62L200.61 814.56L200.4 811.85L201.24 808.4L201.57 804.4L201.76 802.39" stroke-width="3.15"/><path d="M201.57 804.4L204.72 804.09L207.88 804.1" stroke-width="2.48"/><path d="M179.72 873.22L176.82 870.3L174.92 866.64" stroke-width="2.48"/><path d="M202.28 826.96L199.09 824.71L197.24 821.28" stroke-width="2.48"/><path d="M201.67 844.93L198.56 842.74L195.07 841.2" stroke-width="2.48"/><path d="M176.96 886.43L173.13 885.25L169.46 883.63" stroke-width="2.48"/><path d="M177.89 883.55L179.92 883.74L181.85 883.1" stroke-width="2.48"/><path d="M202.73 830.42L204.54 830.01L205.88 828.72" stroke-width="2.48"/><path d="M199.43 847.23L195.35 845.81L191.14 846.75" stroke-width="2.48"/><path d="M185.89 869.17L187.39 867.94L188.73 866.55" stroke-width="2.48"/><path d="M201.76 816.26L204.09 816.68L207.17 817.36L210.59 818L213.81 817.41L217.19 816.16L221.06 813.97L223.86 811.52L226.05 809.46L229.15 807.56L231.81 805.64L234.54 804.58L238.17 804.19L240.34 802.09L242.82 799.76L245.88 798.04L247.98 796.22" stroke-width="3.75"/><path d="M242.82 799.76L242.35 797.08L241.71 794.44" stroke-width="2.96"/><path d="M238.17 804.19L237.25 802.44L237.14 800.46" stroke-width="2.96"/><path d="M242.82 799.76L244.36 796.43L243.81 792.8" stroke-width="2.96"/><path d="M221.06 813.97L223.86 814.18L226.55 813.43" stroke-width="2.96"/><path d="M210.59 818L212.52 820.32L214.61 822.48" stroke-width="2.96"/><path d="M203.3 839.37L206.43 838.92L210.14 837.87L213.66 837.96L216.63 838.02L220.27 837.47L224.02 837.21L226.86 837.74L229.79 838.72L232.9 839.6L235.85 839.43L237.99 837.43L240.2 835.57L241.31 833.23L243.34 829.9L245.14 827.29L246.18 823.34L246.44 819.53L247.38 815.67L247.21 813.17" stroke-width="2.95"/><path d="M229.79 838.72L232.6 841.93L236.55 843.54" stroke-width="2.32"/><path d="M213.66 837.96L216.52 834.9L218.79 831.39" stroke-width="2.32"/><path d="M246.18 823.34L242.83 820.52L239.51 817.67" stroke-width="2.32"/><path d="M232.9 839.6L234.82 837.05L235.37 833.91" stroke-width="2.32"/><path d="M224.02 837.21L224.65 833.57L226.1 830.17" stroke-width="2.32"/><path d="M216.63 838.02L217.99 835.76L218.17 833.14" stroke-width="2.32"/><path d="M224.87 837.83L224.4 835.26L224.37 830.83L225.45 826.66L227.79 825.58L230.24 823.61L233.77 822.22L236.87 821.44L238.74 820.88" stroke-width="2.75"/><path d="M224.4 835.26L228.31 833.64L232.26 832.11" stroke-width="2.16"/><path d="M227.79 825.58L225.8 823.38L223 822.4" stroke-width="2.16"/><path d="M166.32 803.93L166.56 806.44L167.67 808.67L169.03 811.6L171.44 814.61L173.3 817.02L174.9 819.68L177.26 821.71L179.69 823.87L182.74 825.49L185.36 827.92L187.34 830.13L189.91 832.24L192.47 833.03L195.91 834.91L198.98 835.25L201.76 836.29" stroke-width="2.95"/><path d="M187.34 830.13L185.5 832.51L182.86 833.96" stroke-width="2.32"/><path d="M182.74 825.49L183.27 827.61L184.54 829.38" stroke-width="2.32"/><path d="M179.69 823.87L179.28 826.26L180.02 828.57" stroke-width="2.32"/><path d="M171.44 814.61L173.33 815.15L174.87 816.39" stroke-width="2.32"/><path d="M157.07 825.5L156.76 827.93L156.02 832L155.74 836.39L156.5 839.54L158.56 842.76L159.98 846.11L161.97 848.48L164.28 851.7L165.3 855.17L168.35 857.9L169.75 860.9L170.69 864.06L172.84 867.43L174 869.94L175.38 873.93L176.36 877.39L176.82 881.98L177.1 884.05" stroke-width="2.95"/><path d="M155.74 836.39L153.15 839.69L152.45 843.83" stroke-width="2.32"/><path d="M158.56 842.76L155.82 843.48L153.54 845.17" stroke-width="2.32"/><path d="M174 869.94L177.8 870.11L181.61 870.05" stroke-width="2.32"/><path d="M156.76 827.93L153.77 828.08L150.92 828.98" stroke-width="2.32"/><path d="M161.97 848.48L158.98 850.68L157.24 853.97" stroke-width="2.32"/><path d="M158.56 842.76L160.22 840.84L162.66 840.15" stroke-width="2.32"/><path d="M152.45 888.67L152.96 886.78L153.24 883.71L153.02 879.46L153.59 876.26L153.4 872.3L153.31 868.32L152.23 865.95L150.66 861.94L148.71 858.99L145.8 857.3L142.81 854.79L139.75 852.62L137.15 850.82L133.53 849.85L130.89 849.73L128.06 850.59L124.55 850.5L121.69 850.34L118.1 848.85L114.77 846.95L112.74 844.98L109.95 843.31L106.48 842.48L104.68 840.91" stroke-width="3.35"/><path d="M128.06 850.59L127.29 848.6L126.82 846.53" stroke-width="2.64"/><path d="M114.77 846.95L114.21 845.07L114.33 843.11" stroke-width="2.64"/><path d="M152.23 865.95L150.42 866.38L148.58 866.12" stroke-width="2.64"/><path d="M106.48 842.48L110.17 840.4L114.37 839.85" stroke-width="2.64"/><path d="M139.75 852.62L136.23 854.69L132.54 856.44" stroke-width="2.64"/><path d="M124.55 850.5L122.74 848.58L120.26 847.71" stroke-width="2.64"/><path d="M109.95 843.31L111.61 839.19L111.89 834.76" stroke-width="2.64"/><path d="M133.96 850.15L131.61 848.27L128.56 846L124.89 845.78L122.04 846.99L119.7 848.15L116.8 850.62L114.06 853.1L110.81 855.51L109.31 856.32" stroke-width="2.95"/><path d="M114.06 853.1L111.13 852.17L108.11 851.57" stroke-width="2.32"/><path d="M131.61 848.27L132.58 843.9L132.37 839.43" stroke-width="2.32"/><path d="M152.45 865.56L150.9 865.2L147.48 865.24L143.53 863.96L140.33 863.73L136.56 864.26L133.94 864.37L130.81 864.93L127.35 865.8L124.58 866.66L121.72 867.16L117.71 866.55L114.47 866.93L110.37 865.83L107.39 864.34L103.41 861.74L101.6 860.94" stroke-width="2.95"/><path d="M124.58 866.66L125.69 870.81L127.54 874.69" stroke-width="2.32"/><path d="M130.81 864.93L131.53 868.28L131.22 871.7" stroke-width="2.32"/><path d="M143.53 863.96L141.9 866.36L139.87 868.44" stroke-width="2.32"/><path d="M114.47 866.93L114.75 863.14L113.06 859.75" stroke-width="2.32"/><path d="M107.39 864.34L106.82 860.8L105.16 857.62" stroke-width="2.32"/><path d="M121.63 867.1L121.9 870.07L123.17 873.27" stroke-width="2.95"/><path d="M121.9 870.07L122.22 872.87L121.5 875.6" stroke-width="2.32"/><path d="M143.2 854.78L142.12 852.74L141.5 848.45L140.01 845.15L139.64 842.27L143.98 841.68" stroke-width="2.95"/><path d="M140.01 845.15L138.58 841.19L137.56 837.1" stroke-width="2.32"/><path d="M140.01 845.15L137.36 844.09L134.72 843.01" stroke-width="2.32"/><path d="M161.69 860.94L162.97 859.42L164.54 856.13L165.95 853.11L167.61 850.54L170.14 847.64L171.4 845.4L174.02 843.99" stroke-width="2.95"/><path d="M165.95 853.11L169.15 855.29L171.93 857.99" stroke-width="2.32"/><path d="M177.1 884.05L177.55 882.09L177.22 879.7L177.42 875.79L178.32 872.49L178.93 868.82L178.63 865.22L179.03 862.3L178.81 859.25L178.38 854.98L178.78 851.38L178.46 848.3L177.89 845.91L177.87 843.99" stroke-width="2.95"/><path d="M178.78 851.38L180.46 850.42L181.67 848.92" stroke-width="2.32"/><path d="M177.22 879.7L173.25 878.5L170.11 875.78" stroke-width="2.32"/><path d="M177.55 882.09L180.61 881.5L183.53 882.56" stroke-width="2.32"/><path d="M178.93 868.82L180.59 866.62L181.73 864.11" stroke-width="2.32"/><path d="M180.18 893.3L181.87 892.86L184.56 891.11L188.02 889.84L191.53 887.97L195.59 886.85L198.44 886.08L202.06 884.92L205.17 884.5L208.41 883.92L211.44 883.09L214.61 882.23L217.28 882.37L220.49 881.73L223.89 881.2L226.26 881.66L229.77 880.68L232.85 879.78L235.55 878.32L238.47 877.35L242.03 876.8L244.55 875.46L247.07 873.67L250.84 873.26L253.66 872.07L256.21 872.21L259.51 871.93L262.05 874.11L265.33 874.3L267.34 874.22L271.13 872.57L273.72 871.31L275.72 870.18" stroke-width="3.15"/><path d="M247.07 873.67L249.14 875.55L250.9 877.73" stroke-width="2.48"/><path d="M202.06 884.92L203.64 886.46L204.57 888.46" stroke-width="2.48"/><path d="M205.17 884.5L207.2 888.23L207.33 892.48" stroke-width="2.48"/><path d="M244.55 875.46L247.39 874.83L250.23 874.16" stroke-width="2.48"/><path d="M265.33 874.3L266.22 877.22L267.63 879.92" stroke-width="2.48"/><path d="M202.06 884.92L205.79 887.25L210.19 887.35" stroke-width="2.48"/><path d="M271.13 872.57L273.42 875.5L274.78 878.97" stroke-width="2.48"/><path d="M232.85 879.78L234.19 877.12L236.16 874.9" stroke-width="2.48"/><path d="M226.26 881.66L227.64 883.57L229.42 885.11" stroke-width="2.48"/><path d="M255.69 871.73L255.64 869.21L256.63 865.98L257.26 862.19L260.31 859.4" stroke-width="2.95"/><path d="M257.26 862.19L256.1 859.13L255.46 855.91" stroke-width="2.32"/><path d="M241.82 876.35L242.25 873.63L243.52 870.83L244.95 867.32L246.29 863.45L246.44 860.17" stroke-width="2.95"/><path d="M243.52 870.83L246.25 870.91L248.86 870.14" stroke-width="2.32"/><path d="M246.29 863.45L249.76 863.51L252.69 861.65" stroke-width="2.32"/><path d="M194.05 864.02L196.29 862.76L198.39 861.28L201.66 860.1L204.61 858.11L207.67 858L211.29 857.71L214.55 858.44L217.39 859.67L219.94 860.58L223.33 863.25" stroke-width="2.95"/><path d="M201.66 860.1L200.01 859L198.32 857.95" stroke-width="2.32"/><path d="M214.55 858.44L216.5 855.82L217.05 852.59" stroke-width="2.32"/><path d="M196.29 862.76L198.15 862.86L200.01 862.91" stroke-width="2.32"/><path d="M217.16 860.94L217.54 865.03L217.16 868.64" stroke-width="2.75"/><path d="M198.67 850.15L196.01 851.56L192.99 854.89L189.75 856.5L187.7 857.8L186.75 855.95L186.75 851.7L187.12 848.61" stroke-width="2.75"/><path d="M192.99 854.89L191.74 852.37L191.73 849.56" stroke-width="2.16"/><path d="M187.7 857.8L189.45 855.73L190.38 853.19" stroke-width="2.16"/><path d="M229.49 880.97L231.06 883.3L233.44 885.04L235.99 888.85L235.94 892.12L234.24 895.39L233.56 898.65L233.62 901.3L235.84 903.02L239.27 904.45L242.46 904.31L244.68 903.81L246.37 901.44L246.55 898.11L246.19 894.85L246.45 890.55L246.44 888.67" stroke-width="2.95"/><path d="M234.24 895.39L231.12 895.81L228.74 897.89" stroke-width="2.32"/><path d="M235.84 903.02L235.8 905.16L236.66 907.13" stroke-width="2.32"/><path d="M233.62 901.3L235.14 903.57L236.48 905.96" stroke-width="2.32"/><path d="M242.46 904.31L240.88 902.25L239.07 900.39" stroke-width="2.32"/><path d="M198.67 885.59L200.49 887.18L202.93 889.95L205.22 892.53L208.01 895.13L211.1 895.18L214.74 895.76L218.06 895.1L221.83 895.37L225.02 895.85L228.3 896.86L231.44 897.11L234.11 897.92" stroke-width="2.95"/><path d="M211.1 895.18L212.78 891.97L212.62 888.34" stroke-width="2.32"/><path d="M225.02 895.85L226.3 892.41L227.51 888.95" stroke-width="2.32"/><path d="M228.3 896.86L228.96 900.67L228.68 904.51" stroke-width="2.32"/><path d="M180.18 897.92L181.55 899.43L183.56 901.13L186.89 903L189.23 904.01L192.5 906.53L196.14 907.02L198.23 908.03L202.18 907.39L204.49 907.29L207.96 906.75L210.66 906.97L213.58 907.37L217.43 907.92L220.99 908.57L223.67 908.67L226.04 909.23L229.88 910.53L233.05 911.06L236.87 911.2L239.97 910.39L243.1 910.66L244.9 911.02" stroke-width="3.15"/><path d="M226.04 909.23L227.79 907.28L229.07 904.98" stroke-width="2.48"/><path d="M202.18 907.39L203.93 911.33L206.02 915.11" stroke-width="2.48"/><path d="M213.58 907.37L211.95 910.6L209.62 913.37" stroke-width="2.48"/><path d="M236.87 911.2L237.45 908.68L237.28 906.11" stroke-width="2.48"/><path d="M183.56 901.13L185.71 901.26L187.61 900.24" stroke-width="2.48"/><path d="M186.89 903L187.14 905.78L188.61 908.16" stroke-width="2.48"/><path d="M214.08 907.16L216.18 909.05L218.07 911.86L219.86 914.76L221.79 916.41" stroke-width="2.95"/><path d="M219.86 914.76L220.94 916.66L221 918.84" stroke-width="2.32"/><path d="M219.86 914.76L220.07 917.45L221.24 919.89" stroke-width="2.32"/><path d="M195.59 907.16L196.18 908.84L196.88 912.33L197.52 915.74L199.04 919.17L199.31 923.24L200.58 926.3L203.23 929.34L204.88 932.05L208.15 932.4L212.45 931.32L215.83 930.52L218.71 930.28" stroke-width="2.95"/><path d="M199.31 923.24L202.96 922.66L205.72 920.2" stroke-width="2.32"/><path d="M196.18 908.84L198.97 906.3L200.43 902.82" stroke-width="2.32"/><path d="M196.88 912.33L194.98 913.06L193.48 914.44" stroke-width="2.32"/><path d="M197.52 915.74L197.87 918.47L199.51 920.69" stroke-width="2.32"/><path d="M198.67 919.49L200.88 920.44L203.37 921.03L206.83 922.87L209.36 924.2L211.96 927.5L214.08 928.74" stroke-width="2.95"/><path d="M206.83 922.87L208.24 921.42L210.18 920.85" stroke-width="2.32"/><path d="M180.18 910.25L182.25 912.19L185.88 914.97L187.89 916.41" stroke-width="2.95"/><path d="M185.88 914.97L184.63 916.44L183.84 918.19" stroke-width="2.32"/><path d="M174.02 904.08L174.05 905.95L173.11 908.97L171.82 913L171.56 916.97L170.89 919.09L169.99 923.6L171.33 927.12L173.24 929.15L176.8 930.28L180.08 931.92L182.39 933.46L185.58 934.49L188.14 936.81L190.9 937.47L193.91 941.05L195.51 943.22L196.36 945.69" stroke-width="2.95"/><path d="M180.08 931.92L180.91 928.5L181.85 925.1" stroke-width="2.32"/><path d="M190.9 937.47L187.54 939.88L183.56 941.01" stroke-width="2.32"/><path d="M171.82 913L167.57 912.33L163.31 912.87" stroke-width="2.32"/><path d="M171.33 927.12L173.72 926.71L176.12 927.06" stroke-width="2.32"/><path d="M185.58 934.49L183.18 937.59L182.49 941.45" stroke-width="2.32"/><path d="M170.94 927.2L168.34 928.72L164.46 930.14L160.94 932.42L158.61 933.36" stroke-width="2.95"/><path d="M160.94 932.42L161.44 936.74L160.2 940.9" stroke-width="2.32"/><path d="M149.37 904.08L147.92 906.13L146.6 908.05L143.61 911.11L141.49 914.51L139.89 916.45L136.73 918.93L135.28 921.28L135.47 923.68L136.39 927.43L137.04 930.28" stroke-width="3.15"/><path d="M135.47 923.68L133.41 926.81L131.74 930.17" stroke-width="2.48"/><path d="M136.73 918.93L140.07 920.1L143.3 921.54" stroke-width="2.48"/><path d="M146.29 897.92L144.24 897.54L140.61 896.51L137.58 895.26L134.42 893.08L132.18 889.43L129.34 886.34L128.15 885.16L128.04 889.45L129.03 892.97L125.91 893.01L122.19 891.94L118.72 891.2L115.77 890.66L113.16 890.99" stroke-width="2.95"/><path d="M132.18 889.43L131.11 887.83L129.6 886.63" stroke-width="2.32"/><path d="M125.91 893.01L123.02 893.52L120.1 893.85" stroke-width="2.32"/><path d="M129.34 886.34L125.13 886.64L120.98 887.38" stroke-width="2.32"/><path d="M118.72 891.2L117.94 886.77L118.17 882.28" stroke-width="2.32"/><path d="M141.66 908.71L139.25 908.42L134.58 908.59L131.34 908.18L128.07 909.2L123.96 909.8L120.25 910.96L118.55 911.79" stroke-width="3.35"/><path d="M131.34 908.18L128.67 906.16L127.46 903.06" stroke-width="2.64"/><path d="M123.96 909.8L122.49 911.54L121.7 913.68" stroke-width="2.64"/><path d="M155.53 904.08L156.78 905.5L158.93 908.21L161.67 910.88L163.57 914.03L164.48 916.9L164.02 919.95L162.14 922.33L160.56 925.59L158.61 927.2" stroke-width="2.95"/><path d="M164.48 916.9L167.15 918.93L169.3 921.51" stroke-width="2.32"/><path d="M164.48 916.9L167.55 917.18L170.46 916.15" stroke-width="2.32"/><path d="M155.53 885.59L158.11 885.04L161.03 884.21L165.24 883.7L167.33 883.88L171.23 885.07L174.34 887.62L177.1 888.67" stroke-width="2.95"/><path d="M174.34 887.62L176.14 885.58L177.71 883.36" stroke-width="2.32"/><path d="M165.24 883.7L164.07 880.65L161.81 878.28" stroke-width="2.32"/><path d="M137.04 845.53L138.53 843.28L140.21 841.29L142.26 840.4L145.22 842.24L144.38 846.39L143.2 850.15" stroke-width="2.75"/><path d="M140.21 841.29L138.54 838.26L135.65 836.34" stroke-width="2.16"/><path d="M138.53 843.28L138.29 840.57L137.07 838.14" stroke-width="2.16"/><path d="M207.92 857.86L207.85 855.58L207.37 852.33L207.51 847.84L207.1 844.57L206.38 842.45" stroke-width="2.75"/><path d="M207.1 844.57L210.2 841.56L211.23 837.37" stroke-width="2.16"/><path d="M207.1 844.57L203.41 844.6L200.27 846.55" stroke-width="2.16"/></g>
<g fill="none" stroke="#fbf41c" stroke-linecap="round" stroke-linejoin="round"><path d="M177.1 888.67L176.96 886.43L177.89 883.55L178.28 879.65L179.16 876.24L179.72 873.22L181.92 871.57L185.89 869.17L188.44 868.05L191.37 865.71L193.71 863.85L195.71 862L196.25 859.16L197.33 856.14L198.25 852.43L198.84 849.74L199.43 847.23L201.67 844.93L202.24 842.69L203.75 839.08L203.33 836.64L203.57 832.83L202.73 830.42L202.28 826.96L202.06 823.97L200.9 820.64L200.53 817.62L200.61 814.56L200.4 811.85L201.24 808.4L201.57 804.4L201.76 802.39" stroke-width="1.95"/><path d="M201.57 804.4L204.72 804.09L207.88 804.1" stroke-width="1.48"/><path d="M179.72 873.22L176.82 870.3L174.92 866.64" stroke-width="1.48"/><path d="M202.28 826.96L199.09 824.71L197.24 821.28" stroke-width="1.48"/><path d="M201.67 844.93L198.56 842.74L195.07 841.2" stroke-width="1.48"/><path d="M176.96 886.43L173.13 885.25L169.46 883.63" stroke-width="1.48"/><path d="M177.89 883.55L179.92 883.74L181.85 883.1" stroke-width="1.48"/><path d="M202.73 830.42L204.54 830.01L205.88 828.72" stroke-width="1.48"/><path d="M199.43 847.23L195.35 845.81L191.14 846.75" stroke-width="1.48"/><path d="M185.89 869.17L187.39 867.94L188.73 866.55" stroke-width="1.48"/><path d="M201.76 816.26L204.09 816.68L207.17 817.36L210.59 818L213.81 817.41L217.19 816.16L221.06 813.97L223.86 811.52L226.05 809.46L229.15 807.56L231.81 805.64L234.54 804.58L238.17 804.19L240.34 802.09L242.82 799.76L245.88 798.04L247.98 796.22" stroke-width="2.55"/><path d="M242.82 799.76L242.35 797.08L241.71 794.44" stroke-width="1.96"/><path d="M238.17 804.19L237.25 802.44L237.14 800.46" stroke-width="1.96"/><path d="M242.82 799.76L244.36 796.43L243.81 792.8" stroke-width="1.96"/><path d="M221.06 813.97L223.86 814.18L226.55 813.43" stroke-width="1.96"/><path d="M210.59 818L212.52 820.32L214.61 822.48" stroke-width="1.96"/><path d="M203.3 839.37L206.43 838.92L210.14 837.87L213.66 837.96L216.63 838.02L220.27 837.47L224.02 837.21L226.86 837.74L229.79 838.72L232.9 839.6L235.85 839.43L237.99 837.43L240.2 835.57L241.31 833.23L243.34 829.9L245.14 827.29L246.18 823.34L246.44 819.53L247.38 815.67L247.21 813.17" stroke-width="1.75"/><path d="M229.79 838.72L232.6 841.93L236.55 843.54" stroke-width="1.32"/><path d="M213.66 837.96L216.52 834.9L218.79 831.39" stroke-width="1.32"/><path d="M246.18 823.34L242.83 820.52L239.51 817.67" stroke-width="1.32"/><path d="M232.9 839.6L234.82 837.05L235.37 833.91" stroke-width="1.32"/><path d="M224.02 837.21L224.65 833.57L226.1 830.17" stroke-width="1.32"/><path d="M216.63 838.02L217.99 835.76L218.17 833.14" stroke-width="1.32"/><path d="M224.87 837.83L224.4 835.26L224.37 830.83L225.45 826.66L227.79 825.58L230.24 823.61L233.77 822.22L236.87 821.44L238.74 820.88" stroke-width="1.55"/><path d="M224.4 835.26L228.31 833.64L232.26 832.11" stroke-width="1.16"/><path d="M227.79 825.58L225.8 823.38L223 822.4" stroke-width="1.16"/><path d="M166.32 803.93L166.56 806.44L167.67 808.67L169.03 811.6L171.44 814.61L173.3 817.02L174.9 819.68L177.26 821.71L179.69 823.87L182.74 825.49L185.36 827.92L187.34 830.13L189.91 832.24L192.47 833.03L195.91 834.91L198.98 835.25L201.76 836.29" stroke-width="1.75"/><path d="M187.34 830.13L185.5 832.51L182.86 833.96" stroke-width="1.32"/><path d="M182.74 825.49L183.27 827.61L184.54 829.38" stroke-width="1.32"/><path d="M179.69 823.87L179.28 826.26L180.02 828.57" stroke-width="1.32"/><path d="M171.44 814.61L173.33 815.15L174.87 816.39" stroke-width="1.32"/><path d="M157.07 825.5L156.76 827.93L156.02 832L155.74 836.39L156.5 839.54L158.56 842.76L159.98 846.11L161.97 848.48L164.28 851.7L165.3 855.17L168.35 857.9L169.75 860.9L170.69 864.06L172.84 867.43L174 869.94L175.38 873.93L176.36 877.39L176.82 881.98L177.1 884.05" stroke-width="1.75"/><path d="M155.74 836.39L153.15 839.69L152.45 843.83" stroke-width="1.32"/><path d="M158.56 842.76L155.82 843.48L153.54 845.17" stroke-width="1.32"/><path d="M174 869.94L177.8 870.11L181.61 870.05" stroke-width="1.32"/><path d="M156.76 827.93L153.77 828.08L150.92 828.98" stroke-width="1.32"/><path d="M161.97 848.48L158.98 850.68L157.24 853.97" stroke-width="1.32"/><path d="M158.56 842.76L160.22 840.84L162.66 840.15" stroke-width="1.32"/><path d="M152.45 888.67L152.96 886.78L153.24 883.71L153.02 879.46L153.59 876.26L153.4 872.3L153.31 868.32L152.23 865.95L150.66 861.94L148.71 858.99L145.8 857.3L142.81 854.79L139.75 852.62L137.15 850.82L133.53 849.85L130.89 849.73L128.06 850.59L124.55 850.5L121.69 850.34L118.1 848.85L114.77 846.95L112.74 844.98L109.95 843.31L106.48 842.48L104.68 840.91" stroke-width="2.15"/><path d="M128.06 850.59L127.29 848.6L126.82 846.53" stroke-width="1.64"/><path d="M114.77 846.95L114.21 845.07L114.33 843.11" stroke-width="1.64"/><path d="M152.23 865.95L150.42 866.38L148.58 866.12" stroke-width="1.64"/><path d="M106.48 842.48L110.17 840.4L114.37 839.85" stroke-width="1.64"/><path d="M139.75 852.62L136.23 854.69L132.54 856.44" stroke-width="1.64"/><path d="M124.55 850.5L122.74 848.58L120.26 847.71" stroke-width="1.64"/><path d="M109.95 843.31L111.61 839.19L111.89 834.76" stroke-width="1.64"/><path d="M133.96 850.15L131.61 848.27L128.56 846L124.89 845.78L122.04 846.99L119.7 848.15L116.8 850.62L114.06 853.1L110.81 855.51L109.31 856.32" stroke-width="1.75"/><path d="M114.06 853.1L111.13 852.17L108.11 851.57" stroke-width="1.32"/><path d="M131.61 848.27L132.58 843.9L132.37 839.43" stroke-width="1.32"/><path d="M152.45 865.56L150.9 865.2L147.48 865.24L143.53 863.96L140.33 863.73L136.56 864.26L133.94 864.37L130.81 864.93L127.35 865.8L124.58 866.66L121.72 867.16L117.71 866.55L114.47 866.93L110.37 865.83L107.39 864.34L103.41 861.74L101.6 860.94" stroke-width="1.75"/><path d="M124.58 866.66L125.69 870.81L127.54 874.69" stroke-width="1.32"/><path d="M130.81 864.93L131.53 868.28L131.22 871.7" stroke-width="1.32"/><path d="M143.53 863.96L141.9 866.36L139.87 868.44" stroke-width="1.32"/><path d="M114.47 866.93L114.75 863.14L113.06 859.75" stroke-width="1.32"/><path d="M107.39 864.34L106.82 860.8L105.16 857.62" stroke-width="1.32"/><path d="M121.63 867.1L121.9 870.07L123.17 873.27" stroke-width="1.75"/><path d="M121.9 870.07L122.22 872.87L121.5 875.6" stroke-width="1.32"/><path d="M143.2 854.78L142.12 852.74L141.5 848.45L140.01 845.15L139.64 842.27L143.98 841.68" stroke-width="1.75"/><path d="M140.01 845.15L138.58 841.19L137.56 837.1" stroke-width="1.32"/><path d="M140.01 845.15L137.36 844.09L134.72 843.01" stroke-width="1.32"/><path d="M161.69 860.94L162.97 859.42L164.54 856.13L165.95 853.11L167.61 850.54L170.14 847.64L171.4 845.4L174.02 843.99" stroke-width="1.75"/><path d="M165.95 853.11L169.15 855.29L171.93 857.99" stroke-width="1.32"/><path d="M177.1 884.05L177.55 882.09L177.22 879.7L177.42 875.79L178.32 872.49L178.93 868.82L178.63 865.22L179.03 862.3L178.81 859.25L178.38 854.98L178.78 851.38L178.46 848.3L177.89 845.91L177.87 843.99" stroke-width="1.75"/><path d="M178.78 851.38L180.46 850.42L181.67 848.92" stroke-width="1.32"/><path d="M177.22 879.7L173.25 878.5L170.11 875.78" stroke-width="1.32"/><path d="M177.55 882.09L180.61 881.5L183.53 882.56" stroke-width="1.32"/><path d="M178.93 868.82L180.59 866.62L181.73 864.11" stroke-width="1.32"/><path d="M180.18 893.3L181.87 892.86L184.56 891.11L188.02 889.84L191.53 887.97L195.59 886.85L198.44 886.08L202.06 884.92L205.17 884.5L208.41 883.92L211.44 883.09L214.61 882.23L217.28 882.37L220.49 881.73L223.89 881.2L226.26 881.66L229.77 880.68L232.85 879.78L235.55 878.32L238.47 877.35L242.03 876.8L244.55 875.46L247.07 873.67L250.84 873.26L253.66 872.07L256.21 872.21L259.51 871.93L262.05 874.11L265.33 874.3L267.34 874.22L271.13 872.57L273.72 871.31L275.72 870.18" stroke-width="1.95"/><path d="M247.07 873.67L249.14 875.55L250.9 877.73" stroke-width="1.48"/><path d="M202.06 884.92L203.64 886.46L204.57 888.46" stroke-width="1.48"/><path d="M205.17 884.5L207.2 888.23L207.33 892.48" stroke-width="1.48"/><path d="M244.55 875.46L247.39 874.83L250.23 874.16" stroke-width="1.48"/><path d="M265.33 874.3L266.22 877.22L267.63 879.92" stroke-width="1.48"/><path d="M202.06 884.92L205.79 887.25L210.19 887.35" stroke-width="1.48"/><path d="M271.13 872.57L273.42 875.5L274.78 878.97" stroke-width="1.48"/><path d="M232.85 879.78L234.19 877.12L236.16 874.9" stroke-width="1.48"/><path d="M226.26 881.66L227.64 883.57L229.42 885.11" stroke-width="1.48"/><path d="M255.69 871.73L255.64 869.21L256.63 865.98L257.26 862.19L260.31 859.4" stroke-width="1.75"/><path d="M257.26 862.19L256.1 859.13L255.46 855.91" stroke-width="1.32"/><path d="M241.82 876.35L242.25 873.63L243.52 870.83L244.95 867.32L246.29 863.45L246.44 860.17" stroke-width="1.75"/><path d="M243.52 870.83L246.25 870.91L248.86 870.14" stroke-width="1.32"/><path d="M246.29 863.45L249.76 863.51L252.69 861.65" stroke-width="1.32"/><path d="M194.05 864.02L196.29 862.76L198.39 861.28L201.66 860.1L204.61 858.11L207.67 858L211.29 857.71L214.55 858.44L217.39 859.67L219.94 860.58L223.33 863.25" stroke-width="1.75"/><path d="M201.66 860.1L200.01 859L198.32 857.95" stroke-width="1.32"/><path d="M214.55 858.44L216.5 855.82L217.05 852.59" stroke-width="1.32"/><path d="M196.29 862.76L198.15 862.86L200.01 862.91" stroke-width="1.32"/><path d="M217.16 860.94L217.54 865.03L217.16 868.64" stroke-width="1.55"/><path d="M198.67 850.15L196.01 851.56L192.99 854.89L189.75 856.5L187.7 857.8L186.75 855.95L186.75 851.7L187.12 848.61" stroke-width="1.55"/><path d="M192.99 854.89L191.74 852.37L191.73 849.56" stroke-width="1.16"/><path d="M187.7 857.8L189.45 855.73L190.38 853.19" stroke-width="1.16"/><path d="M229.49 880.97L231.06 883.3L233.44 885.04L235.99 888.85L235.94 892.12L234.24 895.39L233.56 898.65L233.62 901.3L235.84 903.02L239.27 904.45L242.46 904.31L244.68 903.81L246.37 901.44L246.55 898.11L246.19 894.85L246.45 890.55L246.44 888.67" stroke-width="1.75"/><path d="M234.24 895.39L231.12 895.81L228.74 897.89" stroke-width="1.32"/><path d="M235.84 903.02L235.8 905.16L236.66 907.13" stroke-width="1.32"/><path d="M233.62 901.3L235.14 903.57L236.48 905.96" stroke-width="1.32"/><path d="M242.46 904.31L240.88 902.25L239.07 900.39" stroke-width="1.32"/><path d="M198.67 885.59L200.49 887.18L202.93 889.95L205.22 892.53L208.01 895.13L211.1 895.18L214.74 895.76L218.06 895.1L221.83 895.37L225.02 895.85L228.3 896.86L231.44 897.11L234.11 897.92" stroke-width="1.75"/><path d="M211.1 895.18L212.78 891.97L212.62 888.34" stroke-width="1.32"/><path d="M225.02 895.85L226.3 892.41L227.51 888.95" stroke-width="1.32"/><path d="M228.3 896.86L228.96 900.67L228.68 904.51" stroke-width="1.32"/><path d="M180.18 897.92L181.55 899.43L183.56 901.13L186.89 903L189.23 904.01L192.5 906.53L196.14 907.02L198.23 908.03L202.18 907.39L204.49 907.29L207.96 906.75L210.66 906.97L213.58 907.37L217.43 907.92L220.99 908.57L223.67 908.67L226.04 909.23L229.88 910.53L233.05 911.06L236.87 911.2L239.97 910.39L243.1 910.66L244.9 911.02" stroke-width="1.95"/><path d="M226.04 909.23L227.79 907.28L229.07 904.98" stroke-width="1.48"/><path d="M202.18 907.39L203.93 911.33L206.02 915.11" stroke-width="1.48"/><path d="M213.58 907.37L211.95 910.6L209.62 913.37" stroke-width="1.48"/><path d="M236.87 911.2L237.45 908.68L237.28 906.11" stroke-width="1.48"/><path d="M183.56 901.13L185.71 901.26L187.61 900.24" stroke-width="1.48"/><path d="M186.89 903L187.14 905.78L188.61 908.16" stroke-width="1.48"/><path d="M214.08 907.16L216.18 909.05L218.07 911.86L219.86 914.76L221.79 916.41" stroke-width="1.75"/><path d="M219.86 914.76L220.94 916.66L221 918.84" stroke-width="1.32"/><path d="M219.86 914.76L220.07 917.45L221.24 919.89" stroke-width="1.32"/><path d="M195.59 907.16L196.18 908.84L196.88 912.33L197.52 915.74L199.04 919.17L199.31 923.24L200.58 926.3L203.23 929.34L204.88 932.05L208.15 932.4L212.45 931.32L215.83 930.52L218.71 930.28" stroke-width="1.75"/><path d="M199.31 923.24L202.96 922.66L205.72 920.2" stroke-width="1.32"/><path d="M196.18 908.84L198.97 906.3L200.43 902.82" stroke-width="1.32"/><path d="M196.88 912.33L194.98 913.06L193.48 914.44" stroke-width="1.32"/><path d="M197.52 915.74L197.87 918.47L199.51 920.69" stroke-width="1.32"/><path d="M198.67 919.49L200.88 920.44L203.37 921.03L206.83 922.87L209.36 924.2L211.96 927.5L214.08 928.74" stroke-width="1.75"/><path d="M206.83 922.87L208.24 921.42L210.18 920.85" stroke-width="1.32"/><path d="M180.18 910.25L182.25 912.19L185.88 914.97L187.89 916.41" stroke-width="1.75"/><path d="M185.88 914.97L184.63 916.44L183.84 918.19" stroke-width="1.32"/><path d="M174.02 904.08L174.05 905.95L173.11 908.97L171.82 913L171.56 916.97L170.89 919.09L169.99 923.6L171.33 927.12L173.24 929.15L176.8 930.28L180.08 931.92L182.39 933.46L185.58 934.49L188.14 936.81L190.9 937.47L193.91 941.05L195.51 943.22L196.36 945.69" stroke-width="1.75"/><path d="M180.08 931.92L180.91 928.5L181.85 925.1" stroke-width="1.32"/><path d="M190.9 937.47L187.54 939.88L183.56 941.01" stroke-width="1.32"/><path d="M171.82 913L167.57 912.33L163.31 912.87" stroke-width="1.32"/><path d="M171.33 927.12L173.72 926.71L176.12 927.06" stroke-width="1.32"/><path d="M185.58 934.49L183.18 937.59L182.49 941.45" stroke-width="1.32"/><path d="M170.94 927.2L168.34 928.72L164.46 930.14L160.94 932.42L158.61 933.36" stroke-width="1.75"/><path d="M160.94 932.42L161.44 936.74L160.2 940.9" stroke-width="1.32"/><path d="M149.37 904.08L147.92 906.13L146.6 908.05L143.61 911.11L141.49 914.51L139.89 916.45L136.73 918.93L135.28 921.28L135.47 923.68L136.39 927.43L137.04 930.28" stroke-width="1.95"/><path d="M135.47 923.68L133.41 926.81L131.74 930.17" stroke-width="1.48"/><path d="M136.73 918.93L140.07 920.1L143.3 921.54" stroke-width="1.48"/><path d="M146.29 897.92L144.24 897.54L140.61 896.51L137.58 895.26L134.42 893.08L132.18 889.43L129.34 886.34L128.15 885.16L128.04 889.45L129.03 892.97L125.91 893.01L122.19 891.94L118.72 891.2L115.77 890.66L113.16 890.99" stroke-width="1.75"/><path d="M132.18 889.43L131.11 887.83L129.6 886.63" stroke-width="1.32"/><path d="M125.91 893.01L123.02 893.52L120.1 893.85" stroke-width="1.32"/><path d="M129.34 886.34L125.13 886.64L120.98 887.38" stroke-width="1.32"/><path d="M118.72 891.2L117.94 886.77L118.17 882.28" stroke-width="1.32"/><path d="M141.66 908.71L139.25 908.42L134.58 908.59L131.34 908.18L128.07 909.2L123.96 909.8L120.25 910.96L118.55 911.79" stroke-width="2.15"/><path d="M131.34 908.18L128.67 906.16L127.46 903.06" stroke-width="1.64"/><path d="M123.96 909.8L122.49 911.54L121.7 913.68" stroke-width="1.64"/><path d="M155.53 904.08L156.78 905.5L158.93 908.21L161.67 910.88L163.57 914.03L164.48 916.9L164.02 919.95L162.14 922.33L160.56 925.59L158.61 927.2" stroke-width="1.75"/><path d="M164.48 916.9L167.15 918.93L169.3 921.51" stroke-width="1.32"/><path d="M164.48 916.9L167.55 917.18L170.46 916.15" stroke-width="1.32"/><path d="M155.53 885.59L158.11 885.04L161.03 884.21L165.24 883.7L167.33 883.88L171.23 885.07L174.34 887.62L177.1 888.67" stroke-width="1.75"/><path d="M174.34 887.62L176.14 885.58L177.71 883.36" stroke-width="1.32"/><path d="M165.24 883.7L164.07 880.65L161.81 878.28" stroke-width="1.32"/><path d="M137.04 845.53L138.53 843.28L140.21 841.29L142.26 840.4L145.22 842.24L144.38 846.39L143.2 850.15" stroke-width="1.55"/><path d="M140.21 841.29L138.54 838.26L135.65 836.34" stroke-width="1.16"/><path d="M138.53 843.28L138.29 840.57L137.07 838.14" stroke-width="1.16"/><path d="M207.92 857.86L207.85 855.58L207.37 852.33L207.51 847.84L207.1 844.57L206.38 842.45" stroke-width="1.55"/><path d="M207.1 844.57L210.2 841.56L211.23 837.37" stroke-width="1.16"/><path d="M207.1 844.57L203.41 844.6L200.27 846.55" stroke-width="1.16"/><ellipse cx="153.99" cy="891.76" rx="5.78" ry="4.39" fill="#f6ef12" stroke="none"/><ellipse cx="175.56" cy="896.38" rx="3.7" ry="3.24" fill="#f6ef12" stroke="none"/><ellipse cx="147.83" cy="901" rx="2.89" ry="2.31" fill="#f6ef12" stroke="none"/></g>
<text x="179.2" y="784.8" font-size="18.9" text-anchor="middle" fill="#fff" >Not Ablated + Sham</text>
<rect x="242" y="965.6" width="37.8" height="4.4" fill="#fff" stroke="none" stroke-width="0" />
<text x="262" y="957.6" font-size="12.9" text-anchor="middle" fill="#fff" >20 µm</text>
</g>
<g clip-path="url(#cd1)">
<rect x="290.8" y="765.3" width="217.2" height="212.6" fill="#252525" stroke="none" stroke-width="0" />
<path d="M307.73 765.3V977.9M339.43 765.3V977.9M371.13 765.3V977.9M402.83 765.3V977.9M434.53 765.3V977.9M466.23 765.3V977.9M497.93 765.3V977.9M290.8 794.68H508M290.8 826.38H508M290.8 858.08H508M290.8 889.78H508M290.8 921.48H508M290.8 953.18H508" stroke="#3b3b3b" stroke-width="0.8" fill="none" />
<g fill="none" stroke="#100c0c" stroke-linecap="round" stroke-linejoin="round" transform="translate(0.8 0.9)" opacity="0.8"><path d="M495.93 971.46L496.23 968.59L495.87 964.9L495.2 960.97L494.94 957.47L496.1 954.33L496.04 950.72L493.8 947.05L490.81 944.26" stroke-width="3.02"/><path d="M305.29 918.35L301.97 919.59L297.94 920.74L294.74 919.38L291.53 918.54L288.35 920.65L285.64 923.12L284.55 926.21L283.32 929.24L281.67 932.63L277.74 935.19L274.21 935.98L271.14 935.93L267.48 936.45L264.25 937.82L260.36 939.68L258.01 942.1L254.18 943.52L251.27 944.54L248.56 945.6" stroke-width="2.44"/><path d="M257.68 941.79L255.03 940.58L252.8 938.49" stroke-width="2.23"/><path d="M277.77 934.91L275.68 933.7L272.96 932.17L267.58 931.83L263.99 933.1L260.75 935.01" stroke-width="2.23"/><path d="M277.77 934.91L279.93 937.08L282.21 939.35L284.48 941.21L287.64 943.71L289.42 945.21" stroke-width="2.23"/><path d="M319.77 898.23L323.12 899.35L328.17 900.61L330.9 903.81L332.05 907.98L331.53 910.66L330.56 913.38L328.55 915.12L325.67 915.97L321.69 918.57L319.01 919.8L315.19 919.5L312.63 919.46L309.98 917.7L307.48 914.72L305.61 912.22" stroke-width="3.06"/><path d="M327.73 900.51L324.58 904.73L324.2 909.07L323.22 912.39" stroke-width="2.75"/><path d="M305.61 912.22L307.95 908.93L310.04 905.83" stroke-width="2.75"/><path d="M332.12 907.86L332.27 905.67L332.5 902L333.3 899.01L332.58 895.25L333.13 892.05L333.05 888.35L332.35 885.45" stroke-width="2.75"/><path d="M488.54 941.44L491.05 940.33L494.33 940.61L496.33 942.52L499.57 944.82L501.62 948.14L503.62 951.54L504.94 955.14L506.5 958.26L508.11 961.35L507.45 965.34L507.53 970.16L508.74 973.31L511.87 975.24L514.48 974.66L517.28 974.78L519.87 977.49L521.27 980.24L523.33 982.73L526.35 984.64L528.02 986.33" stroke-width="2.83"/><path d="M523.58 982.31L520.75 979.74L517.92 976.93" stroke-width="2.55"/><path d="M517.47 975.2L517.73 972.34L517.39 968.14L514.95 966.67L512.46 963.99L509.54 962.08L507.98 958.19L507.15 955.41" stroke-width="2.55"/><path d="M466.1 767.02L464.19 765.16L462.82 762.76L461.02 759.2L459.76 755.85L459.23 751.54L458.96 747.05L459.66 743.82L459.65 739.43L458.9 735.95L458.46 732.75L456.55 729.53L454.07 727.48L450.21 725.48L447.93 723.88L445.72 720.64L444.77 716.68L444.23 713.95L445.17 710.92L445.46 708.19L446.6 703.64L447.54 701.39" stroke-width="2.56"/><path d="M459.66 739.27L461.51 743.78L460.51 748.18L459.81 752.21" stroke-width="2.32"/><path d="M445.58 707.85L446.9 705.43L447.85 702.73L447.92 699.79L448.64 696.99L450.82 692.8L452.51 690.49" stroke-width="2.32"/><path d="M310.88 863.3L312.26 868.02L314.94 869.39L317.85 871.56L321.38 871.67L324.29 871.31L327.73 870.07L330.19 868.95L334.42 868.79L338.06 868.32L340.73 866.99L343.51 865.76L346.24 863.34L348.83 859.25L351.52 857.88L353.96 855.61L356.49 853.91L358.58 849.17L359.07 846.07" stroke-width="2.79"/><path d="M338.26 867.9L340.97 869.77L344.76 872.05L348.23 872.44L352.19 872.93L355.23 872.49L357.86 874.64L359.56 876.73" stroke-width="2.52"/><path d="M310.88 863.3L314.91 864.05L318.91 865.59L322.95 867.02L327.23 867.74L330.9 868.58L333.83 869.95L335.88 870.56" stroke-width="2.52"/><path d="M316.27 780.89L319.63 780.57L323.21 780.14L327.22 780.04L330.38 781.1L333.4 782.57L335.71 784.25L339.25 786.37L342.03 788.33L344.46 791.38L347.04 794.78L351.92 796.63L355.24 797.47" stroke-width="2.89"/><path d="M355.24 797.47L357.51 795.61L360.35 792.63L363.46 792.49L366.17 791.17L369.26 790.92L371.66 787.29L373.02 784.62" stroke-width="2.61"/><path d="M355.24 797.47L355.36 800.27L355.97 803.38L357 805.78L358.2 808.7L360.44 811.47L362.42 814.13" stroke-width="2.61"/><path d="M327.2 780.25L324.42 779.09L321.36 777.79L318.32 776.57L314.25 777.55L312.03 779.42" stroke-width="2.61"/><path d="M289.51 960.32L286.75 958.74L282.21 958.32L278.63 959.25L276.03 960.8L272.5 961.23L269.57 958.82L265.92 957.01L263.44 957.54L260.34 958.27L258.11 959.98L255.78 962.05L253.18 964.76L251.42 966.69L249.25 970.07L247.22 972.08L244.1 973.76L241.2 974.19L238.04 973.24L235.5 971.62L232.51 968.99L230.48 966.45" stroke-width="2.88"/><path d="M282.11 958.41L282.12 956.04L281.24 953.03L282.07 950L283.18 946.29L285.71 943.49L288.96 941.72L291.84 939.38L293.84 938.05" stroke-width="2.59"/><path d="M467.25 786.43L470.99 787.99L474.95 789.27L478.29 788.19L482.14 787.01L484.66 788.99L487.39 790.72L491.35 792.33L494.81 792.55L497.64 793.7L501.52 794.88L503.92 795.62L507.74 796.31L511.63 795.65L514.89 795.64L517.43 792.84L519.15 790.12L520.73 787.75L523.86 784.52L526.31 781.88L528.37 780.11" stroke-width="2.42"/><path d="M475.07 788.87L475.56 786.5L477.36 783.45L479.28 781.82L481.66 780.6" stroke-width="2.21"/><path d="M304.27 937.35L301.88 936.35L298.41 934.09L295.52 931.4L292.73 929.32L289.66 925.37L289.43 922.47L289.18 919.16L289.89 915.24L290.82 912.19L291.91 909.23L292.72 906.7L294.46 903.5L295.95 902.11L299.45 900.25L303.63 899.57L307.12 899.01L311.02 899.71L314.2 899.95L318.09 899.45L321.39 897.71L324.02 896.52" stroke-width="2.78"/><path d="M304.27 937.35L298.86 935.86L296.23 936.56L294.23 938.11L292.68 942.39L291.48 946.09" stroke-width="2.51"/><path d="M314.09 900.13L311.44 901.62L307.12 903.62L303.82 904.48L301.61 906.25" stroke-width="2.51"/><path d="M324.02 896.52L326.31 896.13L330.57 894.62L332.75 894.28" stroke-width="2.51"/><path d="M466.56 792.12L467.6 794.44L468.85 797.68L468.41 799.95L466.74 803.32L466.64 806.9L467.34 809.41L468.28 812.49L468.62 815.24L469.18 818.26L468.59 821.43L467.58 824.53L466.95 828.01L466.78 831.11L467.69 834.56L468.26 836.35L469.11 839.31L468.99 842.18L468.71 845.35L468.72 849.17L468.25 851.88" stroke-width="2.97"/><path d="M468.71 797.36L465.24 799.7L461.78 802.27L459.31 805.27L457.56 807.38" stroke-width="2.67"/><path d="M470.36 918.6L469.72 921.98L470 926.73L471.94 929.81L474.5 933.48L478.64 935.99L481.3 937.78L484.32 940.9L487 943.19L487.99 946.57L489.58 949.4L490.39 952.58L493.89 954.3L497.17 957.11L499.38 959.19L501.53 961.46L503.54 963.89L506.32 965.99L507.85 967.95L508.46 970.86L507.99 974.11" stroke-width="2.89"/><path d="M490.34 952.17L488.49 953.81L485.61 955.32L483.13 957.39L481.48 961.04L480.36 964.4" stroke-width="2.61"/><path d="M497.29 956.84L496.87 960.75L496.8 964.4L496.27 966.76L495.36 969.79L496.6 972.31L498.45 975.74L500.24 978.35" stroke-width="2.61"/><path d="M490.34 952.17L491.2 948.42L492.03 944" stroke-width="2.61"/><path d="M501.26 916.05L497.92 918.43L494.25 919.74L491.62 919.55L488.43 918.69L485.79 917.57L482.01 915.3L478.37 913.01L476.8 909.85L476.31 906.4L477.09 901.29L477.89 897.5" stroke-width="2.62"/><path d="M477.89 897.5L478.25 900.24L478 903.7L477.7 906.43" stroke-width="2.38"/><path d="M476.35 905.96L479.43 907.98L484.03 910.04L488.29 909.46L490.84 908.26" stroke-width="2.38"/><path d="M457.76 777.86L459.04 780.86L459.29 784.18L458.01 787.63L455.25 790.22L452.13 790.79L448.64 792.07L447.34 794.34L444.89 797.14L444.03 799.22" stroke-width="2.85"/><path d="M459.4 784.01L461.87 781.73L465.55 778.96L469.29 779.26L472.61 780.14L475.69 779.5L478.79 778.88L481.42 777.88" stroke-width="2.58"/><path d="M448.8 791.87L448.43 795.22L447.94 798.77L445.81 802.98L444.14 806.96L439.96 808.45L436.47 809.87" stroke-width="2.58"/><path d="M452.91 774.77L456.05 774.8L460.84 775.76L462.53 778.02L465.8 780.99L468.62 781.16L471.23 780.77L474.65 780.93L478.99 780.05L483.06 778.6L486.66 779.91L490.37 780.4" stroke-width="2.89"/><path d="M482.78 778.91L484.09 776.43L485.94 773.31L486.44 770.64L487.8 768.21L489.42 765.72L493.38 762.71L496.73 760.19" stroke-width="2.6"/><path d="M477.35 943.85L475.31 942.62L472.23 940.87L469.03 941.98L465.38 943.22L462.58 942.96L460.01 943.09L456.93 941.67L453.9 939.1L450.51 936.4L447.44 936.51L443.8 936.51L441.11 936.98L437.27 935.56L434.69 934.22L432.73 932.08L431.01 929.48L427.47 927.12L424.61 924.83L423.16 920.03" stroke-width="2.52"/><path d="M424.61 924.83L422.04 922.53L419.43 920.22L414.92 919.85L410.66 918.63L408 916.82L405.51 913.54L404.37 911.22" stroke-width="2.29"/><path d="M434.95 934.09L435.76 936.29L436.34 940.28L435.02 942.18L434.45 945.68L435.22 949.78L435.37 953.82" stroke-width="2.29"/><path d="M450.42 936.8L447.85 938.16L445.54 940.16L443.97 942.41L442.44 945.57L440.85 948.36" stroke-width="2.29"/><path d="M295.33 880.54L297.28 881.91L300.75 883.13L304.72 881.79L308.42 880L311.07 879.04L314.33 878.53L317.38 876.88L320.7 876.73L323.74 875.64L327.57 875.03L331.08 876.04L334.57 877.6L337.55 878.04L340.11 877.81L342.75 876.64L347.27 879.65L348.95 878.87L351.97 878.12L355.08 879.49L359.04 882.24L361.03 884.23" stroke-width="2.98"/><path d="M352.37 878L351.83 880.85L351.44 884.12L351.23 887.07L354.29 891.28" stroke-width="2.68"/><path d="M308.66 880.31L311.86 881.74L314.49 884.09L316.86 887.34L318.23 891.41L321.81 893.94L324.99 896.08" stroke-width="2.68"/><path d="M295.33 880.54L293.61 883.37L290.3 887.39L287.78 888.99L285.28 890.45L282.17 891.53L278.54 891.67L274.93 890.88" stroke-width="2.68"/><path d="M305.71 937.14L307.91 936.55L310.92 934.8L313.52 933.48L316.71 933.64L320.48 933L323.17 932.43L326.47 931.57L328.91 930.42L331.82 928.19L334.92 926.59L336.79 925.41L338.95 923.24L339.74 920.8L339.55 918.12L339.59 915.53L338.76 912.42L338.13 909.35L336.64 906.17L335.18 902.14L335.56 898.01L337.9 894.45L340.9 892.69L343.24 891.74" stroke-width="2.46"/><path d="M303.04 943.45L300.97 945.39L297.71 947.1L295.56 949.75L294.23 952.52L292.58 955.15L292.46 958.39L293.75 961.9L295.88 964.31L297.36 966.61L296.27 970.55L295.32 973.4L295.84 977.31L297.39 979.97" stroke-width="2.99"/><path d="M292.64 958.63L290.24 955.59L287.49 951.59L284.45 950.36L281.81 950.42" stroke-width="2.69"/><path d="M449.22 802.23L451.78 800.22L455.27 797.61L457.43 796.19L459.62 794.38L461.84 792.3L464.49 790.3L467.09 788.91L469.94 788.96L473.61 789.41L477.06 790.55L479.87 790.28L483.57 789.23L486.79 788.74L489.66 790.59L492.99 791.79L496.22 793.66L499.24 796.89L501.08 799.5L501.11 804.18" stroke-width="2.75"/><path d="M476.99 790.35L478 787.99L478.9 784.93L481.46 783.1L482.83 780.43L484.22 777.04L484.85 773.98L483.51 769.77L483.3 767.45" stroke-width="2.49"/><path d="M455.25 797.45L457.21 799.82L460.53 801.96L463.06 802.59L466.68 803.12L469.28 803.64L471.73 804.63" stroke-width="2.49"/><path d="M486.42 788.93L486.31 792.07L485.44 796.02L484.22 798.6L482.55 801.75L482.29 804.41L482.86 809.17L483.72 812.55" stroke-width="2.49"/><path d="M492.3 812.98L488.99 811.41L484.51 809.22L480.85 807.35L477.04 805.15L472.59 805.59L468.21 806.75L465.63 807.68L462.36 808.04L458.66 809.75L455.02 809.98L451.57 810.45L449.16 807.89L447.69 806.27L444.24 806.32L441.72 806.74L438.66 806.59L436.44 805.62L434 804.24L431.72 802.21" stroke-width="2.54"/><path d="M492.3 812.98L496.27 812.93L500.94 812.9" stroke-width="2.31"/><path d="M374.24 962.52L371.22 962.56L366.9 961.78L364.12 959.8L360.85 958.33L358.48 956.46L356.9 954.62L355.22 952.25L352.6 949.73L349.81 947.85L346.67 946.5L344.16 946.55L341.47 944.08L339.77 942.97L335.3 940.83L332.74 938.45L330.96 936.06L328.6 933.97L324.79 934.2L320.86 933.81L318.06 934.02" stroke-width="3.1"/><path d="M374.24 962.52L370.3 965.78" stroke-width="2.78"/><path d="M311.94 812.66L314.71 808.08L315.07 805.03L314.87 800.33L315.07 797.73L315.33 795.6L314.15 792.76L312.56 789.85L310.9 786.82L308.61 785.47L305.67 785L303.38 783.15L301.15 781.93L299.48 779.89L297.94 777.39" stroke-width="3.06"/><path d="M496.94 920.6L498.14 923.02L501.17 927.13L502.97 930.46L504.61 934.26L506.03 937.29L505.24 940.12L504.35 942.58L505.25 945.69L506.46 948.73L507.34 951.92L505.31 956.29L505.71 961.49L503.23 963.71L500.48 966.23L498.02 967.87L496.74 973.01" stroke-width="2.4"/><path d="M496.74 973.01L494.79 972.65L490.88 970.79L488.06 969.89L486.15 967.65L484.2 964.13L483.32 962.04L481.96 958.62L480.85 956.06" stroke-width="2.19"/><path d="M505.31 956.34L504.92 960.57L504.85 964.01" stroke-width="2.19"/><path d="M500.81 927.39L499.78 929.97L499.13 932.91L499.06 936.06L499.89 938.21" stroke-width="2.19"/><path d="M510.02 939.01L513.54 939.68L517.98 940.68L521.15 942.15L524.7 942.84L527.49 944.53L529.62 946.35L533.39 947.11L537.09 948.25L540.5 948.93L543.53 950.74L546.08 952.87L548.34 954.53L551.77 957.22L553.82 959.92L556.66 964.09" stroke-width="3.1"/><path d="M554.1 959.73L557.24 960.55L560.98 962.16" stroke-width="2.78"/><path d="M524.58 943.13L521.48 943.66L518.51 944.03L514.94 948.18L512.41 952.47" stroke-width="2.78"/><path d="M556.66 964.09L552.32 966.62" stroke-width="2.78"/><path d="M463.48 776.29L465.06 774.35L467.92 771.84L471.86 769.33L474.96 767.26L477.56 763.43L479.24 760.19L480.02 756.58L480.51 753.62" stroke-width="2.66"/><path d="M298.36 969.12L301.31 969.86L304.84 971.7L308.31 972.69L311.68 973.57L315.81 973.19L318.55 973.28L322.09 972.68L325.39 971.68L328.46 970.19L332.09 969.91L335.49 968.55L338.61 967.22L340.69 964.07L342.21 960.75" stroke-width="2.58"/><path d="M308.66 972.93L307.46 970.52L306.37 968.42L303.67 966.24L301.56 965.56" stroke-width="2.34"/></g>
<g fill="none" stroke="#b7a9a8" stroke-linecap="round" stroke-linejoin="round"><path d="M495.93 971.46L496.23 968.59L495.87 964.9L495.2 960.97L494.94 957.47L496.1 954.33L496.04 950.72L493.8 947.05L490.81 944.26" stroke-width="2.02"/><path d="M305.29 918.35L301.97 919.59L297.94 920.74L294.74 919.38L291.53 918.54L288.35 920.65L285.64 923.12L284.55 926.21L283.32 929.24L281.67 932.63L277.74 935.19L274.21 935.98L271.14 935.93L267.48 936.45L264.25 937.82L260.36 939.68L258.01 942.1L254.18 943.52L251.27 944.54L248.56 945.6" stroke-width="1.44"/><path d="M257.68 941.79L255.03 940.58L252.8 938.49" stroke-width="1.23"/><path d="M277.77 934.91L275.68 933.7L272.96 932.17L267.58 931.83L263.99 933.1L260.75 935.01" stroke-width="1.23"/><path d="M277.77 934.91L279.93 937.08L282.21 939.35L284.48 941.21L287.64 943.71L289.42 945.21" stroke-width="1.23"/><path d="M319.77 898.23L323.12 899.35L328.17 900.61L330.9 903.81L332.05 907.98L331.53 910.66L330.56 913.38L328.55 915.12L325.67 915.97L321.69 918.57L319.01 919.8L315.19 919.5L312.63 919.46L309.98 917.7L307.48 914.72L305.61 912.22" stroke-width="2.06"/><path d="M327.73 900.51L324.58 904.73L324.2 909.07L323.22 912.39" stroke-width="1.75"/><path d="M305.61 912.22L307.95 908.93L310.04 905.83" stroke-width="1.75"/><path d="M332.12 907.86L332.27 905.67L332.5 902L333.3 899.01L332.58 895.25L333.13 892.05L333.05 888.35L332.35 885.45" stroke-width="1.75"/><path d="M488.54 941.44L491.05 940.33L494.33 940.61L496.33 942.52L499.57 944.82L501.62 948.14L503.62 951.54L504.94 955.14L506.5 958.26L508.11 961.35L507.45 965.34L507.53 970.16L508.74 973.31L511.87 975.24L514.48 974.66L517.28 974.78L519.87 977.49L521.27 980.24L523.33 982.73L526.35 984.64L528.02 986.33" stroke-width="1.83"/><path d="M523.58 982.31L520.75 979.74L517.92 976.93" stroke-width="1.55"/><path d="M517.47 975.2L517.73 972.34L517.39 968.14L514.95 966.67L512.46 963.99L509.54 962.08L507.98 958.19L507.15 955.41" stroke-width="1.55"/><path d="M466.1 767.02L464.19 765.16L462.82 762.76L461.02 759.2L459.76 755.85L459.23 751.54L458.96 747.05L459.66 743.82L459.65 739.43L458.9 735.95L458.46 732.75L456.55 729.53L454.07 727.48L450.21 725.48L447.93 723.88L445.72 720.64L444.77 716.68L444.23 713.95L445.17 710.92L445.46 708.19L446.6 703.64L447.54 701.39" stroke-width="1.56"/><path d="M459.66 739.27L461.51 743.78L460.51 748.18L459.81 752.21" stroke-width="1.32"/><path d="M445.58 707.85L446.9 705.43L447.85 702.73L447.92 699.79L448.64 696.99L450.82 692.8L452.51 690.49" stroke-width="1.32"/><path d="M310.88 863.3L312.26 868.02L314.94 869.39L317.85 871.56L321.38 871.67L324.29 871.31L327.73 870.07L330.19 868.95L334.42 868.79L338.06 868.32L340.73 866.99L343.51 865.76L346.24 863.34L348.83 859.25L351.52 857.88L353.96 855.61L356.49 853.91L358.58 849.17L359.07 846.07" stroke-width="1.79"/><path d="M338.26 867.9L340.97 869.77L344.76 872.05L348.23 872.44L352.19 872.93L355.23 872.49L357.86 874.64L359.56 876.73" stroke-width="1.52"/><path d="M310.88 863.3L314.91 864.05L318.91 865.59L322.95 867.02L327.23 867.74L330.9 868.58L333.83 869.95L335.88 870.56" stroke-width="1.52"/><path d="M316.27 780.89L319.63 780.57L323.21 780.14L327.22 780.04L330.38 781.1L333.4 782.57L335.71 784.25L339.25 786.37L342.03 788.33L344.46 791.38L347.04 794.78L351.92 796.63L355.24 797.47" stroke-width="1.89"/><path d="M355.24 797.47L357.51 795.61L360.35 792.63L363.46 792.49L366.17 791.17L369.26 790.92L371.66 787.29L373.02 784.62" stroke-width="1.61"/><path d="M355.24 797.47L355.36 800.27L355.97 803.38L357 805.78L358.2 808.7L360.44 811.47L362.42 814.13" stroke-width="1.61"/><path d="M327.2 780.25L324.42 779.09L321.36 777.79L318.32 776.57L314.25 777.55L312.03 779.42" stroke-width="1.61"/><path d="M289.51 960.32L286.75 958.74L282.21 958.32L278.63 959.25L276.03 960.8L272.5 961.23L269.57 958.82L265.92 957.01L263.44 957.54L260.34 958.27L258.11 959.98L255.78 962.05L253.18 964.76L251.42 966.69L249.25 970.07L247.22 972.08L244.1 973.76L241.2 974.19L238.04 973.24L235.5 971.62L232.51 968.99L230.48 966.45" stroke-width="1.88"/><path d="M282.11 958.41L282.12 956.04L281.24 953.03L282.07 950L283.18 946.29L285.71 943.49L288.96 941.72L291.84 939.38L293.84 938.05" stroke-width="1.59"/><path d="M467.25 786.43L470.99 787.99L474.95 789.27L478.29 788.19L482.14 787.01L484.66 788.99L487.39 790.72L491.35 792.33L494.81 792.55L497.64 793.7L501.52 794.88L503.92 795.62L507.74 796.31L511.63 795.65L514.89 795.64L517.43 792.84L519.15 790.12L520.73 787.75L523.86 784.52L526.31 781.88L528.37 780.11" stroke-width="1.42"/><path d="M475.07 788.87L475.56 786.5L477.36 783.45L479.28 781.82L481.66 780.6" stroke-width="1.21"/><path d="M304.27 937.35L301.88 936.35L298.41 934.09L295.52 931.4L292.73 929.32L289.66 925.37L289.43 922.47L289.18 919.16L289.89 915.24L290.82 912.19L291.91 909.23L292.72 906.7L294.46 903.5L295.95 902.11L299.45 900.25L303.63 899.57L307.12 899.01L311.02 899.71L314.2 899.95L318.09 899.45L321.39 897.71L324.02 896.52" stroke-width="1.78"/><path d="M304.27 937.35L298.86 935.86L296.23 936.56L294.23 938.11L292.68 942.39L291.48 946.09" stroke-width="1.51"/><path d="M314.09 900.13L311.44 901.62L307.12 903.62L303.82 904.48L301.61 906.25" stroke-width="1.51"/><path d="M324.02 896.52L326.31 896.13L330.57 894.62L332.75 894.28" stroke-width="1.51"/><path d="M466.56 792.12L467.6 794.44L468.85 797.68L468.41 799.95L466.74 803.32L466.64 806.9L467.34 809.41L468.28 812.49L468.62 815.24L469.18 818.26L468.59 821.43L467.58 824.53L466.95 828.01L466.78 831.11L467.69 834.56L468.26 836.35L469.11 839.31L468.99 842.18L468.71 845.35L468.72 849.17L468.25 851.88" stroke-width="1.97"/><path d="M468.71 797.36L465.24 799.7L461.78 802.27L459.31 805.27L457.56 807.38" stroke-width="1.67"/><path d="M470.36 918.6L469.72 921.98L470 926.73L471.94 929.81L474.5 933.48L478.64 935.99L481.3 937.78L484.32 940.9L487 943.19L487.99 946.57L489.58 949.4L490.39 952.58L493.89 954.3L497.17 957.11L499.38 959.19L501.53 961.46L503.54 963.89L506.32 965.99L507.85 967.95L508.46 970.86L507.99 974.11" stroke-width="1.89"/><path d="M490.34 952.17L488.49 953.81L485.61 955.32L483.13 957.39L481.48 961.04L480.36 964.4" stroke-width="1.61"/><path d="M497.29 956.84L496.87 960.75L496.8 964.4L496.27 966.76L495.36 969.79L496.6 972.31L498.45 975.74L500.24 978.35" stroke-width="1.61"/><path d="M490.34 952.17L491.2 948.42L492.03 944" stroke-width="1.61"/><path d="M501.26 916.05L497.92 918.43L494.25 919.74L491.62 919.55L488.43 918.69L485.79 917.57L482.01 915.3L478.37 913.01L476.8 909.85L476.31 906.4L477.09 901.29L477.89 897.5" stroke-width="1.62"/><path d="M477.89 897.5L478.25 900.24L478 903.7L477.7 906.43" stroke-width="1.38"/><path d="M476.35 905.96L479.43 907.98L484.03 910.04L488.29 909.46L490.84 908.26" stroke-width="1.38"/><path d="M457.76 777.86L459.04 780.86L459.29 784.18L458.01 787.63L455.25 790.22L452.13 790.79L448.64 792.07L447.34 794.34L444.89 797.14L444.03 799.22" stroke-width="1.85"/><path d="M459.4 784.01L461.87 781.73L465.55 778.96L469.29 779.26L472.61 780.14L475.69 779.5L478.79 778.88L481.42 777.88" stroke-width="1.58"/><path d="M448.8 791.87L448.43 795.22L447.94 798.77L445.81 802.98L444.14 806.96L439.96 808.45L436.47 809.87" stroke-width="1.58"/><path d="M452.91 774.77L456.05 774.8L460.84 775.76L462.53 778.02L465.8 780.99L468.62 781.16L471.23 780.77L474.65 780.93L478.99 780.05L483.06 778.6L486.66 779.91L490.37 780.4" stroke-width="1.89"/><path d="M482.78 778.91L484.09 776.43L485.94 773.31L486.44 770.64L487.8 768.21L489.42 765.72L493.38 762.71L496.73 760.19" stroke-width="1.6"/><path d="M477.35 943.85L475.31 942.62L472.23 940.87L469.03 941.98L465.38 943.22L462.58 942.96L460.01 943.09L456.93 941.67L453.9 939.1L450.51 936.4L447.44 936.51L443.8 936.51L441.11 936.98L437.27 935.56L434.69 934.22L432.73 932.08L431.01 929.48L427.47 927.12L424.61 924.83L423.16 920.03" stroke-width="1.52"/><path d="M424.61 924.83L422.04 922.53L419.43 920.22L414.92 919.85L410.66 918.63L408 916.82L405.51 913.54L404.37 911.22" stroke-width="1.29"/><path d="M434.95 934.09L435.76 936.29L436.34 940.28L435.02 942.18L434.45 945.68L435.22 949.78L435.37 953.82" stroke-width="1.29"/><path d="M450.42 936.8L447.85 938.16L445.54 940.16L443.97 942.41L442.44 945.57L440.85 948.36" stroke-width="1.29"/><path d="M295.33 880.54L297.28 881.91L300.75 883.13L304.72 881.79L308.42 880L311.07 879.04L314.33 878.53L317.38 876.88L320.7 876.73L323.74 875.64L327.57 875.03L331.08 876.04L334.57 877.6L337.55 878.04L340.11 877.81L342.75 876.64L347.27 879.65L348.95 878.87L351.97 878.12L355.08 879.49L359.04 882.24L361.03 884.23" stroke-width="1.98"/><path d="M352.37 878L351.83 880.85L351.44 884.12L351.23 887.07L354.29 891.28" stroke-width="1.68"/><path d="M308.66 880.31L311.86 881.74L314.49 884.09L316.86 887.34L318.23 891.41L321.81 893.94L324.99 896.08" stroke-width="1.68"/><path d="M295.33 880.54L293.61 883.37L290.3 887.39L287.78 888.99L285.28 890.45L282.17 891.53L278.54 891.67L274.93 890.88" stroke-width="1.68"/><path d="M305.71 937.14L307.91 936.55L310.92 934.8L313.52 933.48L316.71 933.64L320.48 933L323.17 932.43L326.47 931.57L328.91 930.42L331.82 928.19L334.92 926.59L336.79 925.41L338.95 923.24L339.74 920.8L339.55 918.12L339.59 915.53L338.76 912.42L338.13 909.35L336.64 906.17L335.18 902.14L335.56 898.01L337.9 894.45L340.9 892.69L343.24 891.74" stroke-width="1.46"/><path d="M303.04 943.45L300.97 945.39L297.71 947.1L295.56 949.75L294.23 952.52L292.58 955.15L292.46 958.39L293.75 961.9L295.88 964.31L297.36 966.61L296.27 970.55L295.32 973.4L295.84 977.31L297.39 979.97" stroke-width="1.99"/><path d="M292.64 958.63L290.24 955.59L287.49 951.59L284.45 950.36L281.81 950.42" stroke-width="1.69"/><path d="M449.22 802.23L451.78 800.22L455.27 797.61L457.43 796.19L459.62 794.38L461.84 792.3L464.49 790.3L467.09 788.91L469.94 788.96L473.61 789.41L477.06 790.55L479.87 790.28L483.57 789.23L486.79 788.74L489.66 790.59L492.99 791.79L496.22 793.66L499.24 796.89L501.08 799.5L501.11 804.18" stroke-width="1.75"/><path d="M476.99 790.35L478 787.99L478.9 784.93L481.46 783.1L482.83 780.43L484.22 777.04L484.85 773.98L483.51 769.77L483.3 767.45" stroke-width="1.49"/><path d="M455.25 797.45L457.21 799.82L460.53 801.96L463.06 802.59L466.68 803.12L469.28 803.64L471.73 804.63" stroke-width="1.49"/><path d="M486.42 788.93L486.31 792.07L485.44 796.02L484.22 798.6L482.55 801.75L482.29 804.41L482.86 809.17L483.72 812.55" stroke-width="1.49"/><path d="M492.3 812.98L488.99 811.41L484.51 809.22L480.85 807.35L477.04 805.15L472.59 805.59L468.21 806.75L465.63 807.68L462.36 808.04L458.66 809.75L455.02 809.98L451.57 810.45L449.16 807.89L447.69 806.27L444.24 806.32L441.72 806.74L438.66 806.59L436.44 805.62L434 804.24L431.72 802.21" stroke-width="1.54"/><path d="M492.3 812.98L496.27 812.93L500.94 812.9" stroke-width="1.31"/><path d="M374.24 962.52L371.22 962.56L366.9 961.78L364.12 959.8L360.85 958.33L358.48 956.46L356.9 954.62L355.22 952.25L352.6 949.73L349.81 947.85L346.67 946.5L344.16 946.55L341.47 944.08L339.77 942.97L335.3 940.83L332.74 938.45L330.96 936.06L328.6 933.97L324.79 934.2L320.86 933.81L318.06 934.02" stroke-width="2.1"/><path d="M374.24 962.52L370.3 965.78" stroke-width="1.78"/><path d="M311.94 812.66L314.71 808.08L315.07 805.03L314.87 800.33L315.07 797.73L315.33 795.6L314.15 792.76L312.56 789.85L310.9 786.82L308.61 785.47L305.67 785L303.38 783.15L301.15 781.93L299.48 779.89L297.94 777.39" stroke-width="2.06"/><path d="M496.94 920.6L498.14 923.02L501.17 927.13L502.97 930.46L504.61 934.26L506.03 937.29L505.24 940.12L504.35 942.58L505.25 945.69L506.46 948.73L507.34 951.92L505.31 956.29L505.71 961.49L503.23 963.71L500.48 966.23L498.02 967.87L496.74 973.01" stroke-width="1.4"/><path d="M496.74 973.01L494.79 972.65L490.88 970.79L488.06 969.89L486.15 967.65L484.2 964.13L483.32 962.04L481.96 958.62L480.85 956.06" stroke-width="1.19"/><path d="M505.31 956.34L504.92 960.57L504.85 964.01" stroke-width="1.19"/><path d="M500.81 927.39L499.78 929.97L499.13 932.91L499.06 936.06L499.89 938.21" stroke-width="1.19"/><path d="M510.02 939.01L513.54 939.68L517.98 940.68L521.15 942.15L524.7 942.84L527.49 944.53L529.62 946.35L533.39 947.11L537.09 948.25L540.5 948.93L543.53 950.74L546.08 952.87L548.34 954.53L551.77 957.22L553.82 959.92L556.66 964.09" stroke-width="2.1"/><path d="M554.1 959.73L557.24 960.55L560.98 962.16" stroke-width="1.78"/><path d="M524.58 943.13L521.48 943.66L518.51 944.03L514.94 948.18L512.41 952.47" stroke-width="1.78"/><path d="M556.66 964.09L552.32 966.62" stroke-width="1.78"/><path d="M463.48 776.29L465.06 774.35L467.92 771.84L471.86 769.33L474.96 767.26L477.56 763.43L479.24 760.19L480.02 756.58L480.51 753.62" stroke-width="1.66"/><path d="M298.36 969.12L301.31 969.86L304.84 971.7L308.31 972.69L311.68 973.57L315.81 973.19L318.55 973.28L322.09 972.68L325.39 971.68L328.46 970.19L332.09 969.91L335.49 968.55L338.61 967.22L340.69 964.07L342.21 960.75" stroke-width="1.58"/><path d="M308.66 972.93L307.46 970.52L306.37 968.42L303.67 966.24L301.56 965.56" stroke-width="1.34"/></g>
<g fill="none" stroke="#b9b108" stroke-linecap="round" stroke-linejoin="round"><path d="M388.63 860.94L389.12 858.39L390.1 856.01L390.22 852.16L390.63 848.31L391.57 845.67L392.5 842.78L393.19 838.81L393.57 836.58L393.3 832.95L392 830.16L390.83 826.72L389.95 823.63L388.69 821.01L388.06 817.98L386.34 815.4L383.5 813.49L381.59 811.82L379.23 808.13L378.61 805.47" stroke-width="3.35"/><path d="M389.95 823.63L387.26 824.17L384.57 823.66" stroke-width="2.64"/><path d="M390.1 856.01L390.98 854.29L392.22 852.81" stroke-width="2.64"/><path d="M389.95 823.63L391.58 819.9L394.66 817.23" stroke-width="2.64"/><path d="M392.5 842.78L390.64 842.25L388.81 841.65" stroke-width="2.64"/><path d="M390.94 827.04L390.13 824.9L388.79 822.13L386.8 818.89L384.73 816.41L382.01 814.55L378.17 813.08L375.58 812.16L372.63 810.26L368.98 811.43L367.63 814.12L366.48 819.23L365.52 821.65" stroke-width="3.15"/><path d="M384.73 816.41L384.93 813.76L384.05 811.27" stroke-width="2.48"/><path d="M372.63 810.26L370.99 813L368.16 814.48" stroke-width="2.48"/><path d="M384.73 816.41L381.47 819.41L380.39 823.71" stroke-width="2.48"/><path d="M369.37 811.63L367.86 809.06L366.46 804.97L364.76 802.32L363.98 799.31" stroke-width="3.15"/><path d="M367.86 809.06L369.61 805.11L372.17 801.61" stroke-width="2.48"/><path d="M394.02 836.29L396.62 834.44L397.38 831.36L396.54 828.2L394.89 824.81L394.02 822.42" stroke-width="2.95"/><path d="M394.89 824.81L391.36 825.71L387.72 825.9" stroke-width="2.32"/><path d="M388.63 860.94L387.83 858.24L386.56 855.15L385.54 852.03L384.49 848.54L385.35 844.74L386.3 841.16L387.86 839.37" stroke-width="2.95"/><path d="M386.3 841.16L388.1 841.72L389.99 841.63" stroke-width="2.32"/><path d="M387.83 858.24L391.28 858.33L394.2 856.5" stroke-width="2.32"/><path d="M381.69 853.24L379.88 852.28L376.4 850.94L372.44 848.95L369.59 846.67L366.5 845.74L362.43 843.57L360.26 842.39L357.58 840.04L355.64 839.09L353.53 835.74L352.03 833.59L350.63 830.77L349.59 827.21L348.06 824.3L348.16 820.91L347.46 817.4L349.82 815.01L351.36 811.96L350.89 808.2L350.11 804.7" stroke-width="3.15"/><path d="M349.82 815.01L349.62 810.7L349.81 806.39" stroke-width="2.48"/><path d="M347.46 817.4L347.1 812.94L347.12 808.48" stroke-width="2.48"/><path d="M372.44 848.95L371.69 846.97L370.46 845.24" stroke-width="2.48"/><path d="M349.82 815.01L347.28 814.66L344.92 813.66" stroke-width="2.48"/><path d="M347.8 817.8L345.89 814.88L344.33 812.02L348.57 810.09" stroke-width="2.95"/><path d="M344.33 812.02L344.1 809.21L343.02 806.6" stroke-width="2.32"/><path d="M353.96 845.53L352.26 843.24L350.07 839.7L347.46 836.04L345.17 833.54L343.39 829.39L341.43 826.78L339.51 823.49L336.74 821.23L334.66 819.06L332.39 817.03" stroke-width="2.95"/><path d="M336.74 821.23L338.24 820.06L339.01 818.32" stroke-width="2.32"/><path d="M352.26 843.24L355.99 840.87L359.35 838.01" stroke-width="2.32"/><path d="M341.43 826.78L338.65 826.44L335.86 826.47" stroke-width="2.32"/><path d="M380.15 859.4L377.12 859.07L373.71 858.13L370.02 856.98L366.14 856.67L362.55 855.62L360.34 854.49L356.67 854.96L353.74 855.22L351.29 856.8L347.31 857.43L344.83 859.05L341.39 859.47L338.41 859.17L335.89 857.66L334.17 855.42L332.39 853.24" stroke-width="3.35"/><path d="M356.67 854.96L354.43 857.06L353.54 860" stroke-width="2.64"/><path d="M344.83 859.05L342.73 857.34L341.27 855.08" stroke-width="2.64"/><path d="M351.29 856.8L350.51 860.82L349.68 864.83" stroke-width="2.64"/><path d="M356.67 854.96L353.59 852.02L351.48 848.32" stroke-width="2.64"/><path d="M338.55 859.4L336.25 860.32L332.46 863.06L329.34 864.09L325.65 863.75L322.88 863.09L320.06 861.71" stroke-width="2.95"/><path d="M336.25 860.32L334.64 863.19L334.47 866.47" stroke-width="2.32"/><path d="M347.8 857.86L346.71 860.18L345.85 863.14L344.75 867.06L345.04 869.82L345.22 872.8L345.47 876.02L347.25 877.69L350.2 878.65L354.67 879.25L358.4 880.65L361.38 881.37L364.52 882.61L367.72 883.79L370.68 885.48L372.25 885.67L374.34 883.7L376.47 881.44L376.7 878.35L378.75 873.6L378.18 870.11L377.33 867.29L374.06 863.33L372.45 860.94" stroke-width="3.15"/><path d="M347.25 877.69L350.05 876.94L352.89 877.47" stroke-width="2.48"/><path d="M346.71 860.18L344.71 860.83L342.8 861.71" stroke-width="2.48"/><path d="M378.18 870.11L380.25 867.12L383.46 865.41" stroke-width="2.48"/><path d="M374.06 863.33L374.67 861.19L374.92 858.98" stroke-width="2.48"/><path d="M376.47 881.44L373.63 879.37L370.86 877.21" stroke-width="2.48"/><path d="M345.22 872.8L347.44 872.94L349.52 873.74" stroke-width="2.48"/><path d="M361.66 880.97L362.04 883.65L362.54 887.91L361.58 891.69L360.17 893.59L357.71 895.91L355.83 897.77L354.61 901L353.42 903.55L352.38 905.4L349.94 906.61L347.69 907.61L344.8 908.96L341.4 910.56L338.56 913.18L335.25 915.82L333.41 917.6L336.24 921.03" stroke-width="3.15"/><path d="M347.69 907.61L345.06 907.15L342.57 906.16" stroke-width="2.48"/><path d="M353.42 903.55L351.73 902.87L350.43 901.61" stroke-width="2.48"/><path d="M353.42 903.55L351.76 902.51L349.91 901.88" stroke-width="2.48"/><path d="M349.94 906.61L348.15 906.46L346.45 905.88" stroke-width="2.48"/><path d="M341.63 910.25L341.46 912.69L341.24 916.34L340.56 920.42L340.45 923.98L337.92 927.88L335.47 930.28" stroke-width="2.95"/><path d="M337.92 927.88L337.31 931.08L338.33 934.17" stroke-width="2.32"/><path d="M361.66 885.59L359.36 885.97L356.84 887.38L353.74 888.8L350.91 889.98L347.93 891.3L345.11 891.32L342.06 892.15L338.26 892.86L335.83 892.52L333.16 893.3" stroke-width="2.95"/><path d="M347.93 891.3L348.9 894.91L347.82 898.48" stroke-width="2.32"/><path d="M359.36 885.97L357.33 885.08L355.61 883.68" stroke-width="2.32"/><path d="M375.53 891.76L373.27 892.41L368.7 891.96L366.29 892.53" stroke-width="2.95"/><path d="M388.63 865.56L389.31 868.33L390.35 872.82L391.06 876.68L390.43 879.72L388.53 882.24L387.9 885.55L388.69 888.95L389.98 891.58L391.32 895.04L392.07 897.49L393.85 901.32L395.39 902.74L396.02 905.87L394.88 907.71L392.9 910.69L390.92 912.91L388.34 915.68L385.1 917.6L381.76 919.07L379.09 921.49L376.15 922.81L372.17 923.89L368.98 925.82L366.59 927.48L363.06 928.92L360.5 929.86L356.74 933.2L355.33 935.71L352.55 937.87L350.07 939.74L346.45 942.14L344.23 944.38L343.5 946.45L342.05 949.96L341.77 953.51L341.45 954.55L343.86 954.64L347.91 953.25L350.68 949.92L352.62 947.14L353.65 943.81L353.96 941.06" stroke-width="3.35"/><path d="M392.9 910.69L394.18 912.04L395.7 913.09" stroke-width="2.64"/><path d="M341.77 953.51L339.53 955.53L337.9 958.07" stroke-width="2.64"/><path d="M356.74 933.2L357.51 935.39L357.1 937.67" stroke-width="2.64"/><path d="M342.05 949.96L343.2 951.64L344.3 953.35" stroke-width="2.64"/><path d="M347.91 953.25L350.89 955.15L354.19 956.42" stroke-width="2.64"/><path d="M390.92 912.91L391.44 916.94L393.26 920.56" stroke-width="2.64"/><path d="M342.05 949.96L346.1 951.38L350.26 950.32" stroke-width="2.64"/><path d="M385.1 917.6L384.37 920.75L382.97 923.65" stroke-width="2.64"/><path d="M381.76 919.07L382.17 923.02L382.23 927" stroke-width="2.64"/><path d="M350.88 937.98L351.72 939.76L352.07 943.2L352.66 947.11L352.72 950.62L353.42 954.34L352.12 958.32L351.07 961.23L347.75 965.23L346.26 967.26" stroke-width="2.95"/><path d="M351.07 961.23L346.85 959.77L342.62 958.37" stroke-width="2.32"/><path d="M352.07 943.2L354.76 942.59L357.43 941.88" stroke-width="2.32"/><path d="M352.42 958.01L353.73 959.77L354.51 963.23L355.5 965.72" stroke-width="2.95"/><path d="M354.51 963.23L356.54 963.84L358.48 964.67" stroke-width="2.32"/><path d="M352.42 950.31L354.51 949.92L358.91 950.38L362.71 950.7L364.75 950.31" stroke-width="2.95"/><path d="M358.91 950.38L358.6 952.95L359.47 955.4" stroke-width="2.32"/><path d="M350.88 937.98L349.01 934.99L347.49 932.15L346.26 929.51" stroke-width="2.95"/><path d="M347.49 932.15L349.6 930.83L351.97 930.09" stroke-width="2.32"/><path d="M372.45 924.11L372.96 929.1L375.43 930.64L378.76 932.54L382.21 934.82L383.15 937.73L384.36 940.54L384.78 942.6" stroke-width="2.95"/><path d="M383.15 937.73L383.99 941.32L383.02 944.87" stroke-width="2.32"/><path d="M375.43 930.64L377.89 933.67L379.38 937.27" stroke-width="2.32"/><path d="M390.94 913.33L387.36 915.16L384.53 917.95L388.27 920.76L390.21 922.9L392.13 926.03L394.9 928.98L396.71 931.97L399.81 933.55L403.16 935.19L405.6 936.99L409.19 939.9L410.97 941.06" stroke-width="2.95"/><path d="M388.27 920.76L385.01 923.81L380.91 925.6" stroke-width="2.32"/><path d="M396.71 931.97L399.51 931.26L402.26 932.09" stroke-width="2.32"/><path d="M409.19 939.9L412.19 937L415.97 935.26" stroke-width="2.32"/><path d="M395.56 905.62L398.31 903.14L401.98 901.45L404.73 898.64L407.91 897.92L408.93 900.18L410.57 903.03L411.62 905.97L412.51 908.71" stroke-width="2.95"/><path d="M404.73 898.64L405.66 902.93L408.76 906.05" stroke-width="2.32"/><path d="M390.94 876.35L393.34 876.37L396.93 876.03L400.9 877.56L403.27 877.89" stroke-width="2.95"/><path d="M400.9 877.56L404.27 875.52L407.65 873.49" stroke-width="2.32"/><path d="M390.94 888.67L393.43 888.54L397.28 887.76L399.41 887.13" stroke-width="2.95"/><path d="M397.1 859.4L399.49 858.56L403.39 857.7L407.74 857.45L410.3 859.23L414 860.73L416.55 862.86L418.14 864.5L421.62 863.23L424.31 860.7L426.67 858.87L428.86 857.23L431.13 854.72L434.11 853.36L436.87 852.32L438.71 851.69" stroke-width="3.35"/><path d="M403.39 857.7L406.94 855.16L411.27 854.67" stroke-width="2.64"/><path d="M407.74 857.45L407.18 860.2L405.68 862.59" stroke-width="2.64"/><path d="M436.87 852.32L437.22 850.48L436.65 848.69" stroke-width="2.64"/><path d="M401.73 842.45L403.99 844.84L406.25 848.79L408.35 851.27L410.67 853.76L413.96 854.78L416.28 856.78L418.67 857.86" stroke-width="2.95"/><path d="M408.35 851.27L407.68 853.42L406.2 855.1" stroke-width="2.32"/><path d="M418.67 864.02L418.85 866.6L417.76 870.52L418.52 874.48L419.2 878.04L420.06 880.63L420.95 884.29L423.49 885.94L424.97 888.88L427.98 890.95L431.07 893.42L433.69 894.39L437.24 897.77L438.71 901" stroke-width="3.15"/><path d="M427.98 890.95L430.17 889.83L432.53 889.15" stroke-width="2.48"/><path d="M417.76 870.52L416.39 872.86L414.77 875.03" stroke-width="2.48"/><path d="M437.24 897.77L435.56 900.43L434.07 903.21" stroke-width="2.48"/><path d="M418.67 877.89L416.37 877.58L413.67 878.42L413.28 881.74" stroke-width="2.95"/><path d="M418.67 870.18L420.96 870.85L424.42 871.96L427.58 871.78L431.06 868.93L434.48 866.56L435.13 869.81L436.08 873.18L437.46 876.04L438.4 879.24L440.25 881.74" stroke-width="2.95"/><path d="M427.58 871.78L426.48 868.73L425.79 865.56" stroke-width="2.32"/><path d="M427.58 871.78L430.33 873.15L432 875.73" stroke-width="2.32"/><path d="M434.08 867.1L435.86 867.27L439.41 868.6L442.62 869.29L446.65 869.76L450.32 870.05L453.65 868.89L456.75 868.14L460.58 867.77L463.96 867.62L467.23 868.77L469.05 871.05L471.14 875.21L472.94 877.49L475.27 880.47L477.04 882.98L478.77 884.05" stroke-width="3.15"/><path d="M475.27 880.47L472.49 882.61L470.36 885.41" stroke-width="2.48"/><path d="M467.23 868.77L465.86 870.33L465.25 872.32" stroke-width="2.48"/><path d="M435.86 867.27L438.64 864.42L442.07 862.39" stroke-width="2.48"/><path d="M477.04 882.98L477.11 886.74L478.22 890.33" stroke-width="2.48"/><path d="M434.08 891.76L436.7 892.81L439.99 893.78L443.58 894.62L446.59 895.05L449.61 893.36L453.09 892.46L455.46 890.14L458.42 888.98L461.58 886.72L464.38 885.99L468.78 885.6L471.06 885.59" stroke-width="2.95"/><path d="M468.78 885.6L468.33 883.66L467.07 882.12" stroke-width="2.32"/><path d="M458.42 888.98L459.5 885.64L461.4 882.7" stroke-width="2.32"/><path d="M461.58 886.72L462.44 884.12L463.28 881.5" stroke-width="2.32"/><path d="M455.65 891.76L456.79 893.51L457.94 896.68L459.15 901.18L460.11 903.72L460.99 907.63L460.12 910.33L459.77 913.63L459.57 915.87L458.69 919.45L456.66 920.86L452.92 921.6L450.26 921.8" stroke-width="3.15"/><path d="M459.77 913.63L456.3 915.31L454.03 918.42" stroke-width="2.48"/><path d="M457.94 896.68L456.42 900.79L453.41 903.98" stroke-width="2.48"/><path d="M458.69 919.45L454.73 917.83L450.72 916.31" stroke-width="2.48"/><path d="M458.74 919.49L461.08 920.09L464.95 922.42L467.21 923.34" stroke-width="2.95"/><path d="M461.08 920.09L458 922.42L456.15 925.82" stroke-width="2.32"/><path d="M460.28 894.84L463.48 895.1L467.21 894.84" stroke-width="2.95"/><path d="M463.48 895.1L466.12 898.63L469.26 901.73" stroke-width="2.32"/><path d="M460.28 898.69L463.13 898.84L467.01 900.4L470.62 900.71L474.68 899.75L477.71 899.26L479.54 898.69" stroke-width="2.95"/><path d="M477.71 899.26L477.61 901.3L478.64 903.07" stroke-width="2.32"/><path d="M461.05 905.62L463.48 905.72L466.3 905.9L470.47 906.31L472.69 907.67L474.68 909.84L475.41 912.55L476.46 914.87" stroke-width="2.95"/><path d="M474.68 909.84L477.32 909.48L479.97 909.27" stroke-width="2.32"/><path d="M375.53 870.18L376.78 867.57L378.61 864.02" stroke-width="2.95"/><path d="M376.78 867.57L374.63 865.77L373.46 863.22" stroke-width="2.32"/><path d="M381.69 919.49L383.75 922.44L386.32 925.65" stroke-width="2.95"/></g>
<g fill="none" stroke="#fbf41c" stroke-linecap="round" stroke-linejoin="round"><path d="M388.63 860.94L389.12 858.39L390.1 856.01L390.22 852.16L390.63 848.31L391.57 845.67L392.5 842.78L393.19 838.81L393.57 836.58L393.3 832.95L392 830.16L390.83 826.72L389.95 823.63L388.69 821.01L388.06 817.98L386.34 815.4L383.5 813.49L381.59 811.82L379.23 808.13L378.61 805.47" stroke-width="2.15"/><path d="M389.95 823.63L387.26 824.17L384.57 823.66" stroke-width="1.64"/><path d="M390.1 856.01L390.98 854.29L392.22 852.81" stroke-width="1.64"/><path d="M389.95 823.63L391.58 819.9L394.66 817.23" stroke-width="1.64"/><path d="M392.5 842.78L390.64 842.25L388.81 841.65" stroke-width="1.64"/><path d="M390.94 827.04L390.13 824.9L388.79 822.13L386.8 818.89L384.73 816.41L382.01 814.55L378.17 813.08L375.58 812.16L372.63 810.26L368.98 811.43L367.63 814.12L366.48 819.23L365.52 821.65" stroke-width="1.95"/><path d="M384.73 816.41L384.93 813.76L384.05 811.27" stroke-width="1.48"/><path d="M372.63 810.26L370.99 813L368.16 814.48" stroke-width="1.48"/><path d="M384.73 816.41L381.47 819.41L380.39 823.71" stroke-width="1.48"/><path d="M369.37 811.63L367.86 809.06L366.46 804.97L364.76 802.32L363.98 799.31" stroke-width="1.95"/><path d="M367.86 809.06L369.61 805.11L372.17 801.61" stroke-width="1.48"/><path d="M394.02 836.29L396.62 834.44L397.38 831.36L396.54 828.2L394.89 824.81L394.02 822.42" stroke-width="1.75"/><path d="M394.89 824.81L391.36 825.71L387.72 825.9" stroke-width="1.32"/><path d="M388.63 860.94L387.83 858.24L386.56 855.15L385.54 852.03L384.49 848.54L385.35 844.74L386.3 841.16L387.86 839.37" stroke-width="1.75"/><path d="M386.3 841.16L388.1 841.72L389.99 841.63" stroke-width="1.32"/><path d="M387.83 858.24L391.28 858.33L394.2 856.5" stroke-width="1.32"/><path d="M381.69 853.24L379.88 852.28L376.4 850.94L372.44 848.95L369.59 846.67L366.5 845.74L362.43 843.57L360.26 842.39L357.58 840.04L355.64 839.09L353.53 835.74L352.03 833.59L350.63 830.77L349.59 827.21L348.06 824.3L348.16 820.91L347.46 817.4L349.82 815.01L351.36 811.96L350.89 808.2L350.11 804.7" stroke-width="1.95"/><path d="M349.82 815.01L349.62 810.7L349.81 806.39" stroke-width="1.48"/><path d="M347.46 817.4L347.1 812.94L347.12 808.48" stroke-width="1.48"/><path d="M372.44 848.95L371.69 846.97L370.46 845.24" stroke-width="1.48"/><path d="M349.82 815.01L347.28 814.66L344.92 813.66" stroke-width="1.48"/><path d="M347.8 817.8L345.89 814.88L344.33 812.02L348.57 810.09" stroke-width="1.75"/><path d="M344.33 812.02L344.1 809.21L343.02 806.6" stroke-width="1.32"/><path d="M353.96 845.53L352.26 843.24L350.07 839.7L347.46 836.04L345.17 833.54L343.39 829.39L341.43 826.78L339.51 823.49L336.74 821.23L334.66 819.06L332.39 817.03" stroke-width="1.75"/><path d="M336.74 821.23L338.24 820.06L339.01 818.32" stroke-width="1.32"/><path d="M352.26 843.24L355.99 840.87L359.35 838.01" stroke-width="1.32"/><path d="M341.43 826.78L338.65 826.44L335.86 826.47" stroke-width="1.32"/><path d="M380.15 859.4L377.12 859.07L373.71 858.13L370.02 856.98L366.14 856.67L362.55 855.62L360.34 854.49L356.67 854.96L353.74 855.22L351.29 856.8L347.31 857.43L344.83 859.05L341.39 859.47L338.41 859.17L335.89 857.66L334.17 855.42L332.39 853.24" stroke-width="2.15"/><path d="M356.67 854.96L354.43 857.06L353.54 860" stroke-width="1.64"/><path d="M344.83 859.05L342.73 857.34L341.27 855.08" stroke-width="1.64"/><path d="M351.29 856.8L350.51 860.82L349.68 864.83" stroke-width="1.64"/><path d="M356.67 854.96L353.59 852.02L351.48 848.32" stroke-width="1.64"/><path d="M338.55 859.4L336.25 860.32L332.46 863.06L329.34 864.09L325.65 863.75L322.88 863.09L320.06 861.71" stroke-width="1.75"/><path d="M336.25 860.32L334.64 863.19L334.47 866.47" stroke-width="1.32"/><path d="M347.8 857.86L346.71 860.18L345.85 863.14L344.75 867.06L345.04 869.82L345.22 872.8L345.47 876.02L347.25 877.69L350.2 878.65L354.67 879.25L358.4 880.65L361.38 881.37L364.52 882.61L367.72 883.79L370.68 885.48L372.25 885.67L374.34 883.7L376.47 881.44L376.7 878.35L378.75 873.6L378.18 870.11L377.33 867.29L374.06 863.33L372.45 860.94" stroke-width="1.95"/><path d="M347.25 877.69L350.05 876.94L352.89 877.47" stroke-width="1.48"/><path d="M346.71 860.18L344.71 860.83L342.8 861.71" stroke-width="1.48"/><path d="M378.18 870.11L380.25 867.12L383.46 865.41" stroke-width="1.48"/><path d="M374.06 863.33L374.67 861.19L374.92 858.98" stroke-width="1.48"/><path d="M376.47 881.44L373.63 879.37L370.86 877.21" stroke-width="1.48"/><path d="M345.22 872.8L347.44 872.94L349.52 873.74" stroke-width="1.48"/><path d="M361.66 880.97L362.04 883.65L362.54 887.91L361.58 891.69L360.17 893.59L357.71 895.91L355.83 897.77L354.61 901L353.42 903.55L352.38 905.4L349.94 906.61L347.69 907.61L344.8 908.96L341.4 910.56L338.56 913.18L335.25 915.82L333.41 917.6L336.24 921.03" stroke-width="1.95"/><path d="M347.69 907.61L345.06 907.15L342.57 906.16" stroke-width="1.48"/><path d="M353.42 903.55L351.73 902.87L350.43 901.61" stroke-width="1.48"/><path d="M353.42 903.55L351.76 902.51L349.91 901.88" stroke-width="1.48"/><path d="M349.94 906.61L348.15 906.46L346.45 905.88" stroke-width="1.48"/><path d="M341.63 910.25L341.46 912.69L341.24 916.34L340.56 920.42L340.45 923.98L337.92 927.88L335.47 930.28" stroke-width="1.75"/><path d="M337.92 927.88L337.31 931.08L338.33 934.17" stroke-width="1.32"/><path d="M361.66 885.59L359.36 885.97L356.84 887.38L353.74 888.8L350.91 889.98L347.93 891.3L345.11 891.32L342.06 892.15L338.26 892.86L335.83 892.52L333.16 893.3" stroke-width="1.75"/><path d="M347.93 891.3L348.9 894.91L347.82 898.48" stroke-width="1.32"/><path d="M359.36 885.97L357.33 885.08L355.61 883.68" stroke-width="1.32"/><path d="M375.53 891.76L373.27 892.41L368.7 891.96L366.29 892.53" stroke-width="1.75"/><path d="M388.63 865.56L389.31 868.33L390.35 872.82L391.06 876.68L390.43 879.72L388.53 882.24L387.9 885.55L388.69 888.95L389.98 891.58L391.32 895.04L392.07 897.49L393.85 901.32L395.39 902.74L396.02 905.87L394.88 907.71L392.9 910.69L390.92 912.91L388.34 915.68L385.1 917.6L381.76 919.07L379.09 921.49L376.15 922.81L372.17 923.89L368.98 925.82L366.59 927.48L363.06 928.92L360.5 929.86L356.74 933.2L355.33 935.71L352.55 937.87L350.07 939.74L346.45 942.14L344.23 944.38L343.5 946.45L342.05 949.96L341.77 953.51L341.45 954.55L343.86 954.64L347.91 953.25L350.68 949.92L352.62 947.14L353.65 943.81L353.96 941.06" stroke-width="2.15"/><path d="M392.9 910.69L394.18 912.04L395.7 913.09" stroke-width="1.64"/><path d="M341.77 953.51L339.53 955.53L337.9 958.07" stroke-width="1.64"/><path d="M356.74 933.2L357.51 935.39L357.1 937.67" stroke-width="1.64"/><path d="M342.05 949.96L343.2 951.64L344.3 953.35" stroke-width="1.64"/><path d="M347.91 953.25L350.89 955.15L354.19 956.42" stroke-width="1.64"/><path d="M390.92 912.91L391.44 916.94L393.26 920.56" stroke-width="1.64"/><path d="M342.05 949.96L346.1 951.38L350.26 950.32" stroke-width="1.64"/><path d="M385.1 917.6L384.37 920.75L382.97 923.65" stroke-width="1.64"/><path d="M381.76 919.07L382.17 923.02L382.23 927" stroke-width="1.64"/><path d="M350.88 937.98L351.72 939.76L352.07 943.2L352.66 947.11L352.72 950.62L353.42 954.34L352.12 958.32L351.07 961.23L347.75 965.23L346.26 967.26" stroke-width="1.75"/><path d="M351.07 961.23L346.85 959.77L342.62 958.37" stroke-width="1.32"/><path d="M352.07 943.2L354.76 942.59L357.43 941.88" stroke-width="1.32"/><path d="M352.42 958.01L353.73 959.77L354.51 963.23L355.5 965.72" stroke-width="1.75"/><path d="M354.51 963.23L356.54 963.84L358.48 964.67" stroke-width="1.32"/><path d="M352.42 950.31L354.51 949.92L358.91 950.38L362.71 950.7L364.75 950.31" stroke-width="1.75"/><path d="M358.91 950.38L358.6 952.95L359.47 955.4" stroke-width="1.32"/><path d="M350.88 937.98L349.01 934.99L347.49 932.15L346.26 929.51" stroke-width="1.75"/><path d="M347.49 932.15L349.6 930.83L351.97 930.09" stroke-width="1.32"/><path d="M372.45 924.11L372.96 929.1L375.43 930.64L378.76 932.54L382.21 934.82L383.15 937.73L384.36 940.54L384.78 942.6" stroke-width="1.75"/><path d="M383.15 937.73L383.99 941.32L383.02 944.87" stroke-width="1.32"/><path d="M375.43 930.64L377.89 933.67L379.38 937.27" stroke-width="1.32"/><path d="M390.94 913.33L387.36 915.16L384.53 917.95L388.27 920.76L390.21 922.9L392.13 926.03L394.9 928.98L396.71 931.97L399.81 933.55L403.16 935.19L405.6 936.99L409.19 939.9L410.97 941.06" stroke-width="1.75"/><path d="M388.27 920.76L385.01 923.81L380.91 925.6" stroke-width="1.32"/><path d="M396.71 931.97L399.51 931.26L402.26 932.09" stroke-width="1.32"/><path d="M409.19 939.9L412.19 937L415.97 935.26" stroke-width="1.32"/><path d="M395.56 905.62L398.31 903.14L401.98 901.45L404.73 898.64L407.91 897.92L408.93 900.18L410.57 903.03L411.62 905.97L412.51 908.71" stroke-width="1.75"/><path d="M404.73 898.64L405.66 902.93L408.76 906.05" stroke-width="1.32"/><path d="M390.94 876.35L393.34 876.37L396.93 876.03L400.9 877.56L403.27 877.89" stroke-width="1.75"/><path d="M400.9 877.56L404.27 875.52L407.65 873.49" stroke-width="1.32"/><path d="M390.94 888.67L393.43 888.54L397.28 887.76L399.41 887.13" stroke-width="1.75"/><path d="M397.1 859.4L399.49 858.56L403.39 857.7L407.74 857.45L410.3 859.23L414 860.73L416.55 862.86L418.14 864.5L421.62 863.23L424.31 860.7L426.67 858.87L428.86 857.23L431.13 854.72L434.11 853.36L436.87 852.32L438.71 851.69" stroke-width="2.15"/><path d="M403.39 857.7L406.94 855.16L411.27 854.67" stroke-width="1.64"/><path d="M407.74 857.45L407.18 860.2L405.68 862.59" stroke-width="1.64"/><path d="M436.87 852.32L437.22 850.48L436.65 848.69" stroke-width="1.64"/><path d="M401.73 842.45L403.99 844.84L406.25 848.79L408.35 851.27L410.67 853.76L413.96 854.78L416.28 856.78L418.67 857.86" stroke-width="1.75"/><path d="M408.35 851.27L407.68 853.42L406.2 855.1" stroke-width="1.32"/><path d="M418.67 864.02L418.85 866.6L417.76 870.52L418.52 874.48L419.2 878.04L420.06 880.63L420.95 884.29L423.49 885.94L424.97 888.88L427.98 890.95L431.07 893.42L433.69 894.39L437.24 897.77L438.71 901" stroke-width="1.95"/><path d="M427.98 890.95L430.17 889.83L432.53 889.15" stroke-width="1.48"/><path d="M417.76 870.52L416.39 872.86L414.77 875.03" stroke-width="1.48"/><path d="M437.24 897.77L435.56 900.43L434.07 903.21" stroke-width="1.48"/><path d="M418.67 877.89L416.37 877.58L413.67 878.42L413.28 881.74" stroke-width="1.75"/><path d="M418.67 870.18L420.96 870.85L424.42 871.96L427.58 871.78L431.06 868.93L434.48 866.56L435.13 869.81L436.08 873.18L437.46 876.04L438.4 879.24L440.25 881.74" stroke-width="1.75"/><path d="M427.58 871.78L426.48 868.73L425.79 865.56" stroke-width="1.32"/><path d="M427.58 871.78L430.33 873.15L432 875.73" stroke-width="1.32"/><path d="M434.08 867.1L435.86 867.27L439.41 868.6L442.62 869.29L446.65 869.76L450.32 870.05L453.65 868.89L456.75 868.14L460.58 867.77L463.96 867.62L467.23 868.77L469.05 871.05L471.14 875.21L472.94 877.49L475.27 880.47L477.04 882.98L478.77 884.05" stroke-width="1.95"/><path d="M475.27 880.47L472.49 882.61L470.36 885.41" stroke-width="1.48"/><path d="M467.23 868.77L465.86 870.33L465.25 872.32" stroke-width="1.48"/><path d="M435.86 867.27L438.64 864.42L442.07 862.39" stroke-width="1.48"/><path d="M477.04 882.98L477.11 886.74L478.22 890.33" stroke-width="1.48"/><path d="M434.08 891.76L436.7 892.81L439.99 893.78L443.58 894.62L446.59 895.05L449.61 893.36L453.09 892.46L455.46 890.14L458.42 888.98L461.58 886.72L464.38 885.99L468.78 885.6L471.06 885.59" stroke-width="1.75"/><path d="M468.78 885.6L468.33 883.66L467.07 882.12" stroke-width="1.32"/><path d="M458.42 888.98L459.5 885.64L461.4 882.7" stroke-width="1.32"/><path d="M461.58 886.72L462.44 884.12L463.28 881.5" stroke-width="1.32"/><path d="M455.65 891.76L456.79 893.51L457.94 896.68L459.15 901.18L460.11 903.72L460.99 907.63L460.12 910.33L459.77 913.63L459.57 915.87L458.69 919.45L456.66 920.86L452.92 921.6L450.26 921.8" stroke-width="1.95"/><path d="M459.77 913.63L456.3 915.31L454.03 918.42" stroke-width="1.48"/><path d="M457.94 896.68L456.42 900.79L453.41 903.98" stroke-width="1.48"/><path d="M458.69 919.45L454.73 917.83L450.72 916.31" stroke-width="1.48"/><path d="M458.74 919.49L461.08 920.09L464.95 922.42L467.21 923.34" stroke-width="1.75"/><path d="M461.08 920.09L458 922.42L456.15 925.82" stroke-width="1.32"/><path d="M460.28 894.84L463.48 895.1L467.21 894.84" stroke-width="1.75"/><path d="M463.48 895.1L466.12 898.63L469.26 901.73" stroke-width="1.32"/><path d="M460.28 898.69L463.13 898.84L467.01 900.4L470.62 900.71L474.68 899.75L477.71 899.26L479.54 898.69" stroke-width="1.75"/><path d="M477.71 899.26L477.61 901.3L478.64 903.07" stroke-width="1.32"/><path d="M461.05 905.62L463.48 905.72L466.3 905.9L470.47 906.31L472.69 907.67L474.68 909.84L475.41 912.55L476.46 914.87" stroke-width="1.75"/><path d="M474.68 909.84L477.32 909.48L479.97 909.27" stroke-width="1.32"/><path d="M375.53 870.18L376.78 867.57L378.61 864.02" stroke-width="1.75"/><path d="M376.78 867.57L374.63 865.77L373.46 863.22" stroke-width="1.32"/><path d="M381.69 919.49L383.75 922.44L386.32 925.65" stroke-width="1.75"/><ellipse cx="388.63" cy="860.94" rx="4.85" ry="4.62" fill="#f6ef12" stroke="none"/></g>
<text x="391" y="784.8" font-size="18.9" text-anchor="middle" fill="#fff" >Ablated + Sham</text>
<rect x="470.3" y="967.3" width="28.5" height="4.4" fill="#fff" stroke="none" stroke-width="0" />
<text x="483.6" y="958.8" font-size="12.9" text-anchor="middle" fill="#fff" >15 µm</text>
</g>
<g clip-path="url(#cd2)">
<rect x="72.9" y="980.5" width="214.7" height="215.5" fill="#252525" stroke="none" stroke-width="0" />
<path d="M80.8 980.5V1196M129 980.5V1196M177.2 980.5V1196M225.4 980.5V1196M273.6 980.5V1196M72.9 988.49H287.6M72.9 1036.69H287.6M72.9 1084.89H287.6M72.9 1133.09H287.6M72.9 1181.29H287.6" stroke="#3b3b3b" stroke-width="0.8" fill="none" />
<g fill="none" stroke="#100c0c" stroke-linecap="round" stroke-linejoin="round" transform="translate(0.8 0.9)" opacity="0.8"><path d="M90.82 1091.73L88.79 1090L85.77 1088.15L82.83 1085.5L80.26 1084.24L75.61 1082.86L73.1 1082.48" stroke-width="4.8"/><path d="M90.82 1099.43L90.39 1101.39L89.84 1104.91L89.25 1108.28L89.39 1111.6L89.52 1115.1L89.55 1118.22L89.67 1121.72L90.62 1124.1L94.52 1126.35L98.49 1126.93L101.86 1127.88L106.5 1128.86L108.89 1128.71L112.67 1129.47L115.71 1129.4L118.57 1130.48L121.54 1131.96L124.31 1133.87L126.52 1136.12L127.16 1139.82L127.43 1144.45L127.8 1147.2" stroke-width="5.75"/><path d="M90.82 1102.51L87.31 1104.13L83.03 1105.66L79.57 1106.5L75.63 1107.69L73.1 1108.67" stroke-width="4.32"/><path d="M106.22 1128.71L107.26 1125.39L109.07 1121.3L110.96 1117.95L114.42 1115.21L117.01 1113.3" stroke-width="4.32"/><path d="M98.52 1127.16L97.27 1124.73L96.06 1121L95.5 1118.06L98.54 1114.42L101.6 1111.76" stroke-width="4.32"/><path d="M90.82 1124.08L89.27 1125.97L87.15 1128.79L86.48 1131.5L87.1 1135.4L88.77 1138.8L90.68 1142.82L92.8 1145.59L94.9 1148.29L96.69 1150.24L100.18 1152.05L103.47 1152.87L106.3 1155L107.6 1157.36L108.2 1160.69L109.29 1164.34L110.41 1167.36L111.93 1170.54L113.73 1173.42L118.24 1175.77L121.63 1176.47" stroke-width="4.8"/><path d="M96.98 1150.28L94.94 1150.28L91.41 1149.77L87.67 1149.25L84.86 1148.61L80.82 1148.01L77.76 1147.7L75.41 1147.2" stroke-width="4.32"/><path d="M96.98 1159.52L95.51 1161.52L93.44 1164.51L91 1167.43L87.19 1168.52L83.75 1169.31L80.24 1170.55L76.02 1172.16L73.1 1173.39" stroke-width="4.8"/><path d="M100.06 1168.77L101.66 1170.96L104.02 1174.22L106 1178.1L107.67 1181.51L109.52 1185.6L110.85 1188.82L113.93 1192.81L117.01 1194.96" stroke-width="4.8"/><path d="M83.11 1174.93L81.52 1178.65L80.03 1182.63" stroke-width="3.85"/><path d="M103.14 1176.47L102.04 1179.36L101 1182.99L100.06 1185.72" stroke-width="3.85"/><path d="M73.1 1016.22L74.56 1014L77.13 1010.14L79.78 1007.27L82.5 1005.63L85.51 1004.1L89.18 1002.81L92.36 1001.56L95.73 1000.72L99.29 1000.81L103.29 1000.92L106.14 1002.15L110.02 1005.23L112.43 1008.47L112.28 1012.52L110.59 1016.21L108.58 1019.21L106.22 1022.66L105.56 1025.79L105.74 1030.44L105.45 1033.17" stroke-width="4.8"/><path d="M106.22 1022.39L103.42 1022.94L100.07 1023.91L98.07 1027.83L96.98 1031.63" stroke-width="4.32"/><path d="M106.22 1002.36L107.65 999.91L109.56 996.48L110.59 992.86L110.38 989.68L109.06 986.3L107.77 983.87" stroke-width="4.8"/><path d="M73.1 993.11L76.62 992.1L80.14 990.2L79.31 987.8L76.89 984.53L75.41 982.33" stroke-width="4.8"/><path d="M150.91 1010.06L153.18 1007.14L157.25 1003.68L159.27 1002.44L162.09 1000.95L164.96 999.84L167.85 998L170.28 994.8L172.95 991.41L175.44 988.22L177.13 985.3L180.18 981.56" stroke-width="5.75"/><path d="M234.11 1016.22L236.49 1019.1L238.74 1022.39" stroke-width="3.85"/><path d="M232.57 1003.9L234.64 1005.54L237.12 1008.54L240.09 1009.97L243.12 1010.51L246.54 1010.32L249.79 1009.59L252.68 1008.29L255.86 1007.32L258.67 1005.76L261.5 1004.22L263.52 1002.58L265.51 998.06L266.47 994.65" stroke-width="5.27"/><path d="M229.49 999.28L231.74 1002.26L234.11 1005.44" stroke-width="4.32"/><path d="M268.01 1011.6L269.31 1009.64L272.17 1007.04L274.16 1004.15L275.79 1001.5L277.57 998.77L278.75 995.96L280.26 993.18L281.44 989.66L282.57 986.1L283.42 983.87" stroke-width="6.7"/><path d="M274.18 1053.2L275.34 1049.62L277.56 1045.7L280.41 1043.97L283.78 1042.99L286.5 1042.42" stroke-width="4.32"/><path d="M243.36 1070.15L245.25 1068.29L247.22 1065.2L248.75 1063.22" stroke-width="3.38"/><path d="M240.28 1087.1L242.49 1089.51L245.04 1093.1L247.85 1096.44L249.75 1098.69L251.25 1101.78L253.26 1104.34L254.09 1106.94L255.33 1110.85L256.2 1114.14L255.91 1117.87L254.9 1120.58L253.17 1123.33L251.27 1126.41L249.48 1128.72L247.58 1133.18L246.44 1136.41" stroke-width="3.85"/><path d="M254.14 1107.13L256.76 1105.92L260.04 1104.6L263.99 1102.8L266.64 1101.27L267.82 1097.86L268.34 1094.27L268.06 1091.94L265.15 1089.5L262.62 1088.64" stroke-width="4.32"/><path d="M260.31 1136.41L256.99 1137.44L252.53 1139.59L249.94 1140.91L247.03 1141.99L245.04 1143.83L243.28 1147.21L242.49 1151.18L241.97 1154.71L242.09 1158.75L242.62 1163.19L243.36 1165.69" stroke-width="4.8"/><path d="M260.31 1137.95L262.51 1138.45L265.9 1139.09L269.93 1139.58L272.74 1139.33L275.83 1137.74L277.26 1135.64" stroke-width="4.32"/><path d="M226.41 1153.36L229.68 1153.43L234.19 1153.31L238.96 1153.64L241.82 1153.36" stroke-width="4.32"/><path d="M257.23 1124.08L260.09 1121.17L262.77 1120.35L265.69 1119.38L269.2 1118.55L272.38 1117.95L276.56 1117.23L280.05 1116.05L284.24 1115.43L286.5 1114.84" stroke-width="4.32"/><path d="M252.6 1142.57L254.67 1144.93L257.28 1148.15L260.55 1150.26L262.74 1150.85L265.92 1150.34L269.57 1149.98L272.79 1150.17L276.52 1151.04L280.13 1152.68L283.87 1154.04L286.5 1154.9" stroke-width="4.32"/><path d="M260.31 1154.9L259.61 1157.48L258.7 1160.35L257.7 1163.93L257.43 1167.12L258.13 1170.77L259.95 1173.55L261.88 1176.63L263.5 1179.08L266 1181.39L268.39 1183.8L271.03 1185.42L274.04 1187.2L277.84 1188.66L281.3 1189.99L284.25 1191.3L286.5 1191.88" stroke-width="4.8"/><path d="M214.08 1167.23L216.63 1165.77L220.08 1164.22L223.83 1162.51L228.19 1162.48L230.49 1164.67L232.75 1167.17L235.13 1170.08L237.36 1172.04L241.58 1171.85L244.9 1170.31" stroke-width="4.32"/><path d="M160.15 1141.03L158.95 1138.69L156.42 1135.52L154.27 1131.75L152.65 1128.87L150.64 1125.62L149.11 1122.04L148.2 1119.19L147.06 1117.15" stroke-width="4.32"/><path d="M160.15 1141.03L157.35 1142.52L153.37 1144.21L149.4 1145.72L145.42 1146.03L141.44 1146.29L138.62 1147.38L137.81 1151.82" stroke-width="4.32"/><path d="M161.69 1144.11L161.52 1147.13L160.97 1150.7L159.97 1154.85L158.88 1158.65L157.25 1162.08L155.59 1165.87L154.15 1169.18L152.28 1172.79L151.06 1175.5L150.14 1178.01" stroke-width="4.32"/><path d="M164.78 1145.65L166.84 1148.08L170.96 1151.93L173.41 1153.17L176.97 1154.74L180.21 1156.41L183.55 1157.8L186.43 1160.38L189.39 1162.47L192.73 1165.16L195.68 1167.2L199.23 1170L202.09 1172.41L205.02 1174.98L207.89 1177.14L211.26 1179.32L213.99 1182.64L217.14 1185.63L219.25 1188.98L221.48 1192.62L223.33 1194.96" stroke-width="5.27"/><path d="M164.78 1154.9L166.42 1156.74L168.94 1158.63L171.87 1161.67L174.2 1164.17L175.49 1167.75L177.02 1171.11L177.12 1175.19L176.5 1178.66L174.97 1182.71L174.02 1185.72" stroke-width="4.32"/><path d="M177.1 1174.93L178.73 1176.19L181.94 1177.38L184.8 1179.25L187.95 1181.03L191.24 1182.77L194.63 1184.25L198.32 1185.93L201.66 1187.34L204.68 1188.5L208.17 1190.37L211.37 1192.22L213.59 1193.72L215.62 1194.96" stroke-width="4.8"/><path d="M183.27 1157.98L184.24 1160.5L185.49 1164.4L186.75 1168.02L187.89 1170.31" stroke-width="3.85"/><path d="M244.9 1182.63L247.31 1184.42L250.58 1187.39L254.11 1188.71L258.29 1188.61L261.81 1186.74L264.93 1185.72" stroke-width="4.32"/><path d="M84.65 1188.8L86.09 1192.05L87.73 1194.96" stroke-width="3.85"/><path d="M214.08 1137.95L215.51 1140.13L218.3 1143.98L221 1147.64L223.29 1150.74L224.87 1153.36" stroke-width="4.32"/><path d="M73.1 1056.29L73.7 1059.67L74.64 1062.45" stroke-width="3.85"/><path d="M229.49 985.41L232.02 984.57L235.4 984.1L239.44 983.07L241.82 982.33" stroke-width="3.85"/><path d="M124.71 982.33L126.73 983.79L130.03 985.68L132.42 986.95" stroke-width="3.85"/></g>
<g fill="none" stroke="#b7a9a8" stroke-linecap="round" stroke-linejoin="round"><path d="M90.82 1091.73L88.79 1090L85.77 1088.15L82.83 1085.5L80.26 1084.24L75.61 1082.86L73.1 1082.48" stroke-width="3.8"/><path d="M90.82 1099.43L90.39 1101.39L89.84 1104.91L89.25 1108.28L89.39 1111.6L89.52 1115.1L89.55 1118.22L89.67 1121.72L90.62 1124.1L94.52 1126.35L98.49 1126.93L101.86 1127.88L106.5 1128.86L108.89 1128.71L112.67 1129.47L115.71 1129.4L118.57 1130.48L121.54 1131.96L124.31 1133.87L126.52 1136.12L127.16 1139.82L127.43 1144.45L127.8 1147.2" stroke-width="4.75"/><path d="M90.82 1102.51L87.31 1104.13L83.03 1105.66L79.57 1106.5L75.63 1107.69L73.1 1108.67" stroke-width="3.32"/><path d="M106.22 1128.71L107.26 1125.39L109.07 1121.3L110.96 1117.95L114.42 1115.21L117.01 1113.3" stroke-width="3.32"/><path d="M98.52 1127.16L97.27 1124.73L96.06 1121L95.5 1118.06L98.54 1114.42L101.6 1111.76" stroke-width="3.32"/><path d="M90.82 1124.08L89.27 1125.97L87.15 1128.79L86.48 1131.5L87.1 1135.4L88.77 1138.8L90.68 1142.82L92.8 1145.59L94.9 1148.29L96.69 1150.24L100.18 1152.05L103.47 1152.87L106.3 1155L107.6 1157.36L108.2 1160.69L109.29 1164.34L110.41 1167.36L111.93 1170.54L113.73 1173.42L118.24 1175.77L121.63 1176.47" stroke-width="3.8"/><path d="M96.98 1150.28L94.94 1150.28L91.41 1149.77L87.67 1149.25L84.86 1148.61L80.82 1148.01L77.76 1147.7L75.41 1147.2" stroke-width="3.32"/><path d="M96.98 1159.52L95.51 1161.52L93.44 1164.51L91 1167.43L87.19 1168.52L83.75 1169.31L80.24 1170.55L76.02 1172.16L73.1 1173.39" stroke-width="3.8"/><path d="M100.06 1168.77L101.66 1170.96L104.02 1174.22L106 1178.1L107.67 1181.51L109.52 1185.6L110.85 1188.82L113.93 1192.81L117.01 1194.96" stroke-width="3.8"/><path d="M83.11 1174.93L81.52 1178.65L80.03 1182.63" stroke-width="2.85"/><path d="M103.14 1176.47L102.04 1179.36L101 1182.99L100.06 1185.72" stroke-width="2.85"/><path d="M73.1 1016.22L74.56 1014L77.13 1010.14L79.78 1007.27L82.5 1005.63L85.51 1004.1L89.18 1002.81L92.36 1001.56L95.73 1000.72L99.29 1000.81L103.29 1000.92L106.14 1002.15L110.02 1005.23L112.43 1008.47L112.28 1012.52L110.59 1016.21L108.58 1019.21L106.22 1022.66L105.56 1025.79L105.74 1030.44L105.45 1033.17" stroke-width="3.8"/><path d="M106.22 1022.39L103.42 1022.94L100.07 1023.91L98.07 1027.83L96.98 1031.63" stroke-width="3.32"/><path d="M106.22 1002.36L107.65 999.91L109.56 996.48L110.59 992.86L110.38 989.68L109.06 986.3L107.77 983.87" stroke-width="3.8"/><path d="M73.1 993.11L76.62 992.1L80.14 990.2L79.31 987.8L76.89 984.53L75.41 982.33" stroke-width="3.8"/><path d="M150.91 1010.06L153.18 1007.14L157.25 1003.68L159.27 1002.44L162.09 1000.95L164.96 999.84L167.85 998L170.28 994.8L172.95 991.41L175.44 988.22L177.13 985.3L180.18 981.56" stroke-width="4.75"/><path d="M234.11 1016.22L236.49 1019.1L238.74 1022.39" stroke-width="2.85"/><path d="M232.57 1003.9L234.64 1005.54L237.12 1008.54L240.09 1009.97L243.12 1010.51L246.54 1010.32L249.79 1009.59L252.68 1008.29L255.86 1007.32L258.67 1005.76L261.5 1004.22L263.52 1002.58L265.51 998.06L266.47 994.65" stroke-width="4.27"/><path d="M229.49 999.28L231.74 1002.26L234.11 1005.44" stroke-width="3.32"/><path d="M268.01 1011.6L269.31 1009.64L272.17 1007.04L274.16 1004.15L275.79 1001.5L277.57 998.77L278.75 995.96L280.26 993.18L281.44 989.66L282.57 986.1L283.42 983.87" stroke-width="5.7"/><path d="M274.18 1053.2L275.34 1049.62L277.56 1045.7L280.41 1043.97L283.78 1042.99L286.5 1042.42" stroke-width="3.32"/><path d="M243.36 1070.15L245.25 1068.29L247.22 1065.2L248.75 1063.22" stroke-width="2.38"/><path d="M240.28 1087.1L242.49 1089.51L245.04 1093.1L247.85 1096.44L249.75 1098.69L251.25 1101.78L253.26 1104.34L254.09 1106.94L255.33 1110.85L256.2 1114.14L255.91 1117.87L254.9 1120.58L253.17 1123.33L251.27 1126.41L249.48 1128.72L247.58 1133.18L246.44 1136.41" stroke-width="2.85"/><path d="M254.14 1107.13L256.76 1105.92L260.04 1104.6L263.99 1102.8L266.64 1101.27L267.82 1097.86L268.34 1094.27L268.06 1091.94L265.15 1089.5L262.62 1088.64" stroke-width="3.32"/><path d="M260.31 1136.41L256.99 1137.44L252.53 1139.59L249.94 1140.91L247.03 1141.99L245.04 1143.83L243.28 1147.21L242.49 1151.18L241.97 1154.71L242.09 1158.75L242.62 1163.19L243.36 1165.69" stroke-width="3.8"/><path d="M260.31 1137.95L262.51 1138.45L265.9 1139.09L269.93 1139.58L272.74 1139.33L275.83 1137.74L277.26 1135.64" stroke-width="3.32"/><path d="M226.41 1153.36L229.68 1153.43L234.19 1153.31L238.96 1153.64L241.82 1153.36" stroke-width="3.32"/><path d="M257.23 1124.08L260.09 1121.17L262.77 1120.35L265.69 1119.38L269.2 1118.55L272.38 1117.95L276.56 1117.23L280.05 1116.05L284.24 1115.43L286.5 1114.84" stroke-width="3.32"/><path d="M252.6 1142.57L254.67 1144.93L257.28 1148.15L260.55 1150.26L262.74 1150.85L265.92 1150.34L269.57 1149.98L272.79 1150.17L276.52 1151.04L280.13 1152.68L283.87 1154.04L286.5 1154.9" stroke-width="3.32"/><path d="M260.31 1154.9L259.61 1157.48L258.7 1160.35L257.7 1163.93L257.43 1167.12L258.13 1170.77L259.95 1173.55L261.88 1176.63L263.5 1179.08L266 1181.39L268.39 1183.8L271.03 1185.42L274.04 1187.2L277.84 1188.66L281.3 1189.99L284.25 1191.3L286.5 1191.88" stroke-width="3.8"/><path d="M214.08 1167.23L216.63 1165.77L220.08 1164.22L223.83 1162.51L228.19 1162.48L230.49 1164.67L232.75 1167.17L235.13 1170.08L237.36 1172.04L241.58 1171.85L244.9 1170.31" stroke-width="3.32"/><path d="M160.15 1141.03L158.95 1138.69L156.42 1135.52L154.27 1131.75L152.65 1128.87L150.64 1125.62L149.11 1122.04L148.2 1119.19L147.06 1117.15" stroke-width="3.32"/><path d="M160.15 1141.03L157.35 1142.52L153.37 1144.21L149.4 1145.72L145.42 1146.03L141.44 1146.29L138.62 1147.38L137.81 1151.82" stroke-width="3.32"/><path d="M161.69 1144.11L161.52 1147.13L160.97 1150.7L159.97 1154.85L158.88 1158.65L157.25 1162.08L155.59 1165.87L154.15 1169.18L152.28 1172.79L151.06 1175.5L150.14 1178.01" stroke-width="3.32"/><path d="M164.78 1145.65L166.84 1148.08L170.96 1151.93L173.41 1153.17L176.97 1154.74L180.21 1156.41L183.55 1157.8L186.43 1160.38L189.39 1162.47L192.73 1165.16L195.68 1167.2L199.23 1170L202.09 1172.41L205.02 1174.98L207.89 1177.14L211.26 1179.32L213.99 1182.64L217.14 1185.63L219.25 1188.98L221.48 1192.62L223.33 1194.96" stroke-width="4.27"/><path d="M164.78 1154.9L166.42 1156.74L168.94 1158.63L171.87 1161.67L174.2 1164.17L175.49 1167.75L177.02 1171.11L177.12 1175.19L176.5 1178.66L174.97 1182.71L174.02 1185.72" stroke-width="3.32"/><path d="M177.1 1174.93L178.73 1176.19L181.94 1177.38L184.8 1179.25L187.95 1181.03L191.24 1182.77L194.63 1184.25L198.32 1185.93L201.66 1187.34L204.68 1188.5L208.17 1190.37L211.37 1192.22L213.59 1193.72L215.62 1194.96" stroke-width="3.8"/><path d="M183.27 1157.98L184.24 1160.5L185.49 1164.4L186.75 1168.02L187.89 1170.31" stroke-width="2.85"/><path d="M244.9 1182.63L247.31 1184.42L250.58 1187.39L254.11 1188.71L258.29 1188.61L261.81 1186.74L264.93 1185.72" stroke-width="3.32"/><path d="M84.65 1188.8L86.09 1192.05L87.73 1194.96" stroke-width="2.85"/><path d="M214.08 1137.95L215.51 1140.13L218.3 1143.98L221 1147.64L223.29 1150.74L224.87 1153.36" stroke-width="3.32"/><path d="M73.1 1056.29L73.7 1059.67L74.64 1062.45" stroke-width="2.85"/><path d="M229.49 985.41L232.02 984.57L235.4 984.1L239.44 983.07L241.82 982.33" stroke-width="2.85"/><path d="M124.71 982.33L126.73 983.79L130.03 985.68L132.42 986.95" stroke-width="2.85"/></g>
<circle cx="90.82" cy="1091.73" r="7.4" fill="#a89a99"/>
<circle cx="160.15" cy="1141.03" r="2.77" fill="#a89a99"/>
<circle cx="260.31" cy="1137.18" r="3.08" fill="#a89a99"/>
<circle cx="97.75" cy="1154.9" r="3.08" fill="#a89a99"/>
<circle cx="90.35" cy="1095.58" r="3.39" fill="#18a6d8"/>
<circle cx="96.52" cy="1157.98" r="2.93" fill="#18a6d8"/>
<circle cx="168.17" cy="1138.41" r="2.31" fill="#18a6d8"/>
<circle cx="247.21" cy="1137.64" r="2.93" fill="#18a6d8"/>
<g fill="none" stroke="#b9b108" stroke-linecap="round" stroke-linejoin="round"><path d="M207.92 1104.05L205.39 1102.2L202.1 1099.48L198.82 1096.13L195.68 1093.31L192.96 1090.48L191.44 1087.6L189.5 1085.02L186.26 1082.29L182.88 1081.17L179.45 1079.76L175.21 1078.56L171.12 1077.5L167.61 1076.4L163.21 1074.38L158.89 1071.92L155.41 1070.29L151.16 1067.34L147.78 1063.92L145.56 1060.1L143.77 1056.35L145.13 1051.42L146.33 1047L143.98 1042.42" stroke-width="3.53"/><path d="M182.88 1081.17L184.48 1078.99L185.94 1076.71" stroke-width="2.78"/><path d="M145.13 1051.42L143.2 1048.98L142.68 1045.91" stroke-width="2.78"/><circle cx="143.98" cy="1042.42" r="0.96" stroke-width="2.17"/><path d="M143.98 1042.42L141.44 1041.99L137.94 1041.35L133.89 1041.18L129.5 1040.74L124.42 1041.13L120.55 1039.26L117.01 1037.8" stroke-width="2.75"/><circle cx="117.01" cy="1037.8" r="0.68" stroke-width="1.78"/><path d="M143.98 1042.42L143.06 1040.2L141.22 1036.22L139.95 1032.04L138.52 1028.3L137.48 1023.68L136.46 1019.29L136.27 1016.22" stroke-width="2.75"/><circle cx="136.27" cy="1016.22" r="0.68" stroke-width="1.78"/><path d="M133.96 1040.88L132.73 1037.02L132.36 1033.05L135.5 1029.32" stroke-width="3.14"/><circle cx="135.5" cy="1029.32" r="0.82" stroke-width="1.97"/><path d="M124.71 1040.88L123.45 1037.86L122.19 1034.57L123.17 1030.86" stroke-width="2.75"/><circle cx="123.17" cy="1030.86" r="0.68" stroke-width="1.78"/><path d="M143.98 1042.42L146.28 1039.91L150.32 1036.66L153.96 1033.41L157.3 1030.92L160.5 1028.9L164.25 1027.35L166.32 1026.24" stroke-width="3.14"/><path d="M164.25 1027.35L166.58 1027.87L168.93 1027.49" stroke-width="2.47"/><circle cx="166.32" cy="1026.24" r="0.82" stroke-width="1.97"/><path d="M153.99 1033.17L153.2 1030.23L152.15 1025.06L152.15 1020.58L154.35 1016.5L157.95 1012.57L160.15 1010.06" stroke-width="3.53"/><circle cx="160.15" cy="1010.06" r="0.96" stroke-width="2.17"/><path d="M143.98 1059.37L141.56 1058.79L137.74 1057.88L133.14 1056.79L129.27 1056.46L125.19 1057.07L121.57 1058.09L117.84 1059.52L114.13 1060.29L108.74 1060.3L104.42 1058.95L100.83 1058.6" stroke-width="3.53"/><path d="M129.27 1056.46L128.48 1059.18L127.87 1061.95" stroke-width="2.78"/><circle cx="100.83" cy="1058.6" r="0.96" stroke-width="2.17"/><path d="M167.86 1076.32L166.89 1073.34L165.97 1068.95L164.6 1065.25L163.18 1061.95L161.69 1059.37" stroke-width="3.53"/><circle cx="161.69" cy="1059.37" r="0.96" stroke-width="2.17"/><path d="M186.35 1080.94L184.45 1077.47L183.47 1071.83L183.41 1068.45L184.73 1064.48L185.84 1060.57L186.35 1057.83" stroke-width="3.14"/><path d="M184.73 1064.48L183.15 1062.37L182.27 1059.89" stroke-width="2.47"/><circle cx="186.35" cy="1057.83" r="0.82" stroke-width="1.97"/><path d="M207.92 1104.05L204.78 1106.2L200.18 1108.47L196.11 1109.11L190.76 1109.3L186.24 1108.7L182.05 1107.77L177.81 1106.19L173.82 1104.37L171.29 1100.59L170.23 1096.84L168.02 1092.93L164.96 1090.05L161.27 1086.05L158.61 1084.02" stroke-width="5.87"/><path d="M164.96 1090.05L167.85 1088.22L170.08 1085.62" stroke-width="4.66"/><circle cx="158.61" cy="1084.02" r="1.77" stroke-width="3.33"/><path d="M198.67 1110.22L195.89 1110.11L192.78 1110.5L188.54 1110.23L183.71 1110.21L180.29 1109.95L176.08 1109.7L172.33 1108.24L168.35 1107.22L164.48 1107.29L160.3 1108.26L156.17 1110.46L152.73 1111.41L147.86 1110.73L144.81 1107.07L143.11 1103.21L141.89 1098.45L140.89 1094.81" stroke-width="4.31"/><path d="M195.89 1110.11L196.29 1112.5L196.63 1114.9" stroke-width="3.41"/><circle cx="140.89" cy="1094.81" r="1.23" stroke-width="2.56"/><path d="M203.3 1111.76L200.13 1112.53L195.75 1114.42L190.68 1115.81L186.53 1116.33L182.02 1117.26L178.06 1117.71L174.79 1117.92" stroke-width="3.92"/><circle cx="174.79" cy="1117.92" r="1.09" stroke-width="2.36"/><path d="M187.89 1084.79L185.26 1086.05L181.85 1087.37L178.8 1088.43L174.9 1090.74L172.48 1091.73" stroke-width="3.14"/><circle cx="172.48" cy="1091.73" r="0.82" stroke-width="1.97"/><path d="M207.92 1102.51L208.05 1099.07L207.35 1094.75L207.77 1090.25L209.14 1085.64L210.32 1081.65L211.29 1078.1L209.78 1073.12L207.81 1068.7L209.25 1064.57L210.08 1061.01L208.25 1057.07L204.74 1052.97L203.15 1049.7L201.44 1046.12L200.11 1042.63L198.55 1039.13L197.58 1035.45L195.5 1033.5L192.73 1031.47L189.19 1031.09L184.4 1030.41L180.23 1028.33L179.18 1024.07L178.64 1019.31" stroke-width="4.31"/><path d="M189.19 1031.09L190.19 1034.32L190.22 1037.71" stroke-width="3.41"/><path d="M200.11 1042.63L197.88 1042.37L195.71 1041.84" stroke-width="3.41"/><circle cx="178.64" cy="1019.31" r="1.23" stroke-width="2.56"/><path d="M210.23 1060.91L212.63 1059.05L215.84 1056.22L218.77 1052.97L221.1 1049.89L223.61 1047.34L226.31 1044.26L230.55 1041.7L234.03 1039.51L236.91 1037.28L239.8 1036.35L243.68 1034.44L247.52 1033.72L252.45 1033.05L256.48 1032.12L260.32 1030.64L263.12 1027.49L264.36 1023.49L264.93 1020.85" stroke-width="4.31"/><path d="M223.61 1047.34L221.05 1045.92L218.34 1044.81" stroke-width="3.41"/><circle cx="264.93" cy="1020.85" r="1.23" stroke-width="2.56"/><path d="M260.31 1030.86L262.48 1033.7L265.58 1037.62L268.01 1040.11" stroke-width="4.31"/><circle cx="268.01" cy="1040.11" r="1.23" stroke-width="2.56"/><path d="M243.36 1031.63L244.29 1036.26L244.9 1040.88" stroke-width="4.31"/><circle cx="244.9" cy="1040.88" r="1.23" stroke-width="2.56"/><path d="M218.71 1053.2L219 1050.22L219.03 1046.32L219.14 1042.54L219.09 1038.27L217.94 1035.49" stroke-width="2.75"/><path d="M219 1050.22L217.2 1048.76L215.01 1047.98" stroke-width="2.16"/><circle cx="217.94" cy="1035.49" r="0.68" stroke-width="1.78"/><path d="M223.33 1047.04L224.18 1050.09L225.6 1053.26L228.73 1051.81L231.03 1050.12" stroke-width="3.14"/><circle cx="231.03" cy="1050.12" r="0.82" stroke-width="1.97"/><path d="M210.23 1100.97L211.8 1098.1L213.74 1094.35L215.83 1090.38L217.25 1087.4L219.36 1083.99L220.21 1081.23L219.18 1076.52L217.01 1071.8L215.62 1068.61" stroke-width="4.7"/><circle cx="215.62" cy="1068.61" r="1.36" stroke-width="2.75"/><path d="M220.25 1087.1L223.13 1090.21L221.35 1092.62L219.48 1094.81" stroke-width="3.53"/><circle cx="219.48" cy="1094.81" r="0.96" stroke-width="2.17"/><path d="M214.08 1104.05L217.26 1103.27L221.2 1101.77L224.69 1099.48L227.28 1096.83L229.04 1093.37L230.85 1090L233.47 1087.34L236.39 1084.37L238.87 1081.15L240.26 1077.39L241.52 1073.07L242.59 1070.15" stroke-width="3.53"/><path d="M230.85 1090L230.22 1087.47L228.95 1085.2" stroke-width="2.78"/><circle cx="242.59" cy="1070.15" r="0.96" stroke-width="2.17"/><path d="M238.74 1080.94L240.8 1083.44L242.82 1086.43L245.67 1089.96L247.21 1092.5" stroke-width="3.14"/><circle cx="247.21" cy="1092.5" r="0.82" stroke-width="1.97"/><path d="M214.08 1108.67L217.09 1109.54L221.87 1110.4L226.14 1111.69L230.4 1112L235 1112.54L239.21 1113.39L241.82 1113.3" stroke-width="3.14"/><circle cx="241.82" cy="1113.3" r="0.82" stroke-width="1.97"/><path d="M207.92 1108.67L209.86 1112.31L211.17 1117.65L210.47 1121.27L209.79 1125.08L208.09 1128.47L205.69 1131.64L202.67 1133.94L200.04 1136.5L199.3 1139.49L198.48 1143.04L199 1147.39L199.24 1152.35L199.53 1157.24L200.22 1161.06" stroke-width="3.92"/><path d="M205.69 1131.64L203.3 1129.93L200.62 1128.73" stroke-width="3.1"/><circle cx="200.22" cy="1161.06" r="1.09" stroke-width="2.36"/><path d="M214.08 1110.22L214.79 1113.21L215.24 1116.93L217.22 1121.25L219.09 1123.51L221.94 1126.31L224.71 1129.26L226.54 1131.59L226.65 1135.89L224.84 1139.52L222.26 1142.08L220.25 1144.11" stroke-width="4.31"/><path d="M224.71 1129.26L227.24 1130.48L229.47 1132.19" stroke-width="3.41"/><circle cx="220.25" cy="1144.11" r="1.23" stroke-width="2.56"/><path d="M224.87 1139.49L225.47 1142.15L226.83 1146.2L228.13 1150.61L227.57 1154.3L227.35 1159.07L227.08 1162.65L229.15 1165.9L232.37 1168.16L234.11 1170.31" stroke-width="2.75"/><circle cx="234.11" cy="1170.31" r="0.68" stroke-width="1.78"/><path d="M198.67 1102.51L198.26 1098.94L199.62 1093.07L201.49 1090.4L204.02 1086.38L206.57 1083.52L207.92 1080.94" stroke-width="3.14"/><circle cx="207.92" cy="1080.94" r="0.82" stroke-width="1.97"/><path d="M183.27 1100.97L187.89 1102.51" stroke-width="3.14"/><circle cx="187.89" cy="1102.51" r="0.82" stroke-width="1.97"/></g>
<g fill="none" stroke="#fbf41c" stroke-linecap="round" stroke-linejoin="round"><path d="M207.92 1104.05L205.39 1102.2L202.1 1099.48L198.82 1096.13L195.68 1093.31L192.96 1090.48L191.44 1087.6L189.5 1085.02L186.26 1082.29L182.88 1081.17L179.45 1079.76L175.21 1078.56L171.12 1077.5L167.61 1076.4L163.21 1074.38L158.89 1071.92L155.41 1070.29L151.16 1067.34L147.78 1063.92L145.56 1060.1L143.77 1056.35L145.13 1051.42L146.33 1047L143.98 1042.42" stroke-width="2.33"/><path d="M182.88 1081.17L184.48 1078.99L185.94 1076.71" stroke-width="1.78"/><path d="M145.13 1051.42L143.2 1048.98L142.68 1045.91" stroke-width="1.78"/><circle cx="143.98" cy="1042.42" r="0.96" stroke-width="1.36"/><path d="M143.98 1042.42L141.44 1041.99L137.94 1041.35L133.89 1041.18L129.5 1040.74L124.42 1041.13L120.55 1039.26L117.01 1037.8" stroke-width="1.55"/><circle cx="117.01" cy="1037.8" r="0.68" stroke-width="0.98"/><path d="M143.98 1042.42L143.06 1040.2L141.22 1036.22L139.95 1032.04L138.52 1028.3L137.48 1023.68L136.46 1019.29L136.27 1016.22" stroke-width="1.55"/><circle cx="136.27" cy="1016.22" r="0.68" stroke-width="0.98"/><path d="M133.96 1040.88L132.73 1037.02L132.36 1033.05L135.5 1029.32" stroke-width="1.94"/><circle cx="135.5" cy="1029.32" r="0.82" stroke-width="1.17"/><path d="M124.71 1040.88L123.45 1037.86L122.19 1034.57L123.17 1030.86" stroke-width="1.55"/><circle cx="123.17" cy="1030.86" r="0.68" stroke-width="0.98"/><path d="M143.98 1042.42L146.28 1039.91L150.32 1036.66L153.96 1033.41L157.3 1030.92L160.5 1028.9L164.25 1027.35L166.32 1026.24" stroke-width="1.94"/><path d="M164.25 1027.35L166.58 1027.87L168.93 1027.49" stroke-width="1.47"/><circle cx="166.32" cy="1026.24" r="0.82" stroke-width="1.17"/><path d="M153.99 1033.17L153.2 1030.23L152.15 1025.06L152.15 1020.58L154.35 1016.5L157.95 1012.57L160.15 1010.06" stroke-width="2.33"/><circle cx="160.15" cy="1010.06" r="0.96" stroke-width="1.36"/><path d="M143.98 1059.37L141.56 1058.79L137.74 1057.88L133.14 1056.79L129.27 1056.46L125.19 1057.07L121.57 1058.09L117.84 1059.52L114.13 1060.29L108.74 1060.3L104.42 1058.95L100.83 1058.6" stroke-width="2.33"/><path d="M129.27 1056.46L128.48 1059.18L127.87 1061.95" stroke-width="1.78"/><circle cx="100.83" cy="1058.6" r="0.96" stroke-width="1.36"/><path d="M167.86 1076.32L166.89 1073.34L165.97 1068.95L164.6 1065.25L163.18 1061.95L161.69 1059.37" stroke-width="2.33"/><circle cx="161.69" cy="1059.37" r="0.96" stroke-width="1.36"/><path d="M186.35 1080.94L184.45 1077.47L183.47 1071.83L183.41 1068.45L184.73 1064.48L185.84 1060.57L186.35 1057.83" stroke-width="1.94"/><path d="M184.73 1064.48L183.15 1062.37L182.27 1059.89" stroke-width="1.47"/><circle cx="186.35" cy="1057.83" r="0.82" stroke-width="1.17"/><path d="M207.92 1104.05L204.78 1106.2L200.18 1108.47L196.11 1109.11L190.76 1109.3L186.24 1108.7L182.05 1107.77L177.81 1106.19L173.82 1104.37L171.29 1100.59L170.23 1096.84L168.02 1092.93L164.96 1090.05L161.27 1086.05L158.61 1084.02" stroke-width="4.67"/><path d="M164.96 1090.05L167.85 1088.22L170.08 1085.62" stroke-width="3.66"/><circle cx="158.61" cy="1084.02" r="1.77" stroke-width="2.54"/><path d="M198.67 1110.22L195.89 1110.11L192.78 1110.5L188.54 1110.23L183.71 1110.21L180.29 1109.95L176.08 1109.7L172.33 1108.24L168.35 1107.22L164.48 1107.29L160.3 1108.26L156.17 1110.46L152.73 1111.41L147.86 1110.73L144.81 1107.07L143.11 1103.21L141.89 1098.45L140.89 1094.81" stroke-width="3.11"/><path d="M195.89 1110.11L196.29 1112.5L196.63 1114.9" stroke-width="2.41"/><circle cx="140.89" cy="1094.81" r="1.23" stroke-width="1.76"/><path d="M203.3 1111.76L200.13 1112.53L195.75 1114.42L190.68 1115.81L186.53 1116.33L182.02 1117.26L178.06 1117.71L174.79 1117.92" stroke-width="2.72"/><circle cx="174.79" cy="1117.92" r="1.09" stroke-width="1.56"/><path d="M187.89 1084.79L185.26 1086.05L181.85 1087.37L178.8 1088.43L174.9 1090.74L172.48 1091.73" stroke-width="1.94"/><circle cx="172.48" cy="1091.73" r="0.82" stroke-width="1.17"/><path d="M207.92 1102.51L208.05 1099.07L207.35 1094.75L207.77 1090.25L209.14 1085.64L210.32 1081.65L211.29 1078.1L209.78 1073.12L207.81 1068.7L209.25 1064.57L210.08 1061.01L208.25 1057.07L204.74 1052.97L203.15 1049.7L201.44 1046.12L200.11 1042.63L198.55 1039.13L197.58 1035.45L195.5 1033.5L192.73 1031.47L189.19 1031.09L184.4 1030.41L180.23 1028.33L179.18 1024.07L178.64 1019.31" stroke-width="3.11"/><path d="M189.19 1031.09L190.19 1034.32L190.22 1037.71" stroke-width="2.41"/><path d="M200.11 1042.63L197.88 1042.37L195.71 1041.84" stroke-width="2.41"/><circle cx="178.64" cy="1019.31" r="1.23" stroke-width="1.76"/><path d="M210.23 1060.91L212.63 1059.05L215.84 1056.22L218.77 1052.97L221.1 1049.89L223.61 1047.34L226.31 1044.26L230.55 1041.7L234.03 1039.51L236.91 1037.28L239.8 1036.35L243.68 1034.44L247.52 1033.72L252.45 1033.05L256.48 1032.12L260.32 1030.64L263.12 1027.49L264.36 1023.49L264.93 1020.85" stroke-width="3.11"/><path d="M223.61 1047.34L221.05 1045.92L218.34 1044.81" stroke-width="2.41"/><circle cx="264.93" cy="1020.85" r="1.23" stroke-width="1.76"/><path d="M260.31 1030.86L262.48 1033.7L265.58 1037.62L268.01 1040.11" stroke-width="3.11"/><circle cx="268.01" cy="1040.11" r="1.23" stroke-width="1.76"/><path d="M243.36 1031.63L244.29 1036.26L244.9 1040.88" stroke-width="3.11"/><circle cx="244.9" cy="1040.88" r="1.23" stroke-width="1.76"/><path d="M218.71 1053.2L219 1050.22L219.03 1046.32L219.14 1042.54L219.09 1038.27L217.94 1035.49" stroke-width="1.55"/><path d="M219 1050.22L217.2 1048.76L215.01 1047.98" stroke-width="1.16"/><circle cx="217.94" cy="1035.49" r="0.68" stroke-width="0.98"/><path d="M223.33 1047.04L224.18 1050.09L225.6 1053.26L228.73 1051.81L231.03 1050.12" stroke-width="1.94"/><circle cx="231.03" cy="1050.12" r="0.82" stroke-width="1.17"/><path d="M210.23 1100.97L211.8 1098.1L213.74 1094.35L215.83 1090.38L217.25 1087.4L219.36 1083.99L220.21 1081.23L219.18 1076.52L217.01 1071.8L215.62 1068.61" stroke-width="3.5"/><circle cx="215.62" cy="1068.61" r="1.36" stroke-width="1.95"/><path d="M220.25 1087.1L223.13 1090.21L221.35 1092.62L219.48 1094.81" stroke-width="2.33"/><circle cx="219.48" cy="1094.81" r="0.96" stroke-width="1.36"/><path d="M214.08 1104.05L217.26 1103.27L221.2 1101.77L224.69 1099.48L227.28 1096.83L229.04 1093.37L230.85 1090L233.47 1087.34L236.39 1084.37L238.87 1081.15L240.26 1077.39L241.52 1073.07L242.59 1070.15" stroke-width="2.33"/><path d="M230.85 1090L230.22 1087.47L228.95 1085.2" stroke-width="1.78"/><circle cx="242.59" cy="1070.15" r="0.96" stroke-width="1.36"/><path d="M238.74 1080.94L240.8 1083.44L242.82 1086.43L245.67 1089.96L247.21 1092.5" stroke-width="1.94"/><circle cx="247.21" cy="1092.5" r="0.82" stroke-width="1.17"/><path d="M214.08 1108.67L217.09 1109.54L221.87 1110.4L226.14 1111.69L230.4 1112L235 1112.54L239.21 1113.39L241.82 1113.3" stroke-width="1.94"/><circle cx="241.82" cy="1113.3" r="0.82" stroke-width="1.17"/><path d="M207.92 1108.67L209.86 1112.31L211.17 1117.65L210.47 1121.27L209.79 1125.08L208.09 1128.47L205.69 1131.64L202.67 1133.94L200.04 1136.5L199.3 1139.49L198.48 1143.04L199 1147.39L199.24 1152.35L199.53 1157.24L200.22 1161.06" stroke-width="2.72"/><path d="M205.69 1131.64L203.3 1129.93L200.62 1128.73" stroke-width="2.1"/><circle cx="200.22" cy="1161.06" r="1.09" stroke-width="1.56"/><path d="M214.08 1110.22L214.79 1113.21L215.24 1116.93L217.22 1121.25L219.09 1123.51L221.94 1126.31L224.71 1129.26L226.54 1131.59L226.65 1135.89L224.84 1139.52L222.26 1142.08L220.25 1144.11" stroke-width="3.11"/><path d="M224.71 1129.26L227.24 1130.48L229.47 1132.19" stroke-width="2.41"/><circle cx="220.25" cy="1144.11" r="1.23" stroke-width="1.76"/><path d="M224.87 1139.49L225.47 1142.15L226.83 1146.2L228.13 1150.61L227.57 1154.3L227.35 1159.07L227.08 1162.65L229.15 1165.9L232.37 1168.16L234.11 1170.31" stroke-width="1.55"/><circle cx="234.11" cy="1170.31" r="0.68" stroke-width="0.98"/><path d="M198.67 1102.51L198.26 1098.94L199.62 1093.07L201.49 1090.4L204.02 1086.38L206.57 1083.52L207.92 1080.94" stroke-width="1.94"/><circle cx="207.92" cy="1080.94" r="0.82" stroke-width="1.17"/><path d="M183.27 1100.97L187.89 1102.51" stroke-width="1.94"/><circle cx="187.89" cy="1102.51" r="0.82" stroke-width="1.17"/><ellipse cx="207.92" cy="1105.59" rx="6.93" ry="5.39" fill="#f6ef12" stroke="none"/><ellipse cx="178.64" cy="1109.45" rx="6.16" ry="3.39" fill="#f6ef12" stroke="none"/></g>
<text x="179.2" y="999.8" font-size="18.9" text-anchor="middle" fill="#fff" >Not Ablated + TBI</text>
<rect x="250.3" y="1183.4" width="28.5" height="4.4" fill="#fff" stroke="none" stroke-width="0" />
<text x="265.2" y="1175.7" font-size="12.3" text-anchor="middle" fill="#fff" >10 µm</text>
</g>
<g clip-path="url(#cd3)">
<rect x="290.8" y="980.5" width="217.2" height="215.5" fill="#252525" stroke="none" stroke-width="0" />
<path d="M300.8 980.5V1196M349 980.5V1196M397.2 980.5V1196M445.4 980.5V1196M493.6 980.5V1196M290.8 988.49H508M290.8 1036.69H508M290.8 1084.89H508M290.8 1133.09H508M290.8 1181.29H508" stroke="#3b3b3b" stroke-width="0.8" fill="none" />
<g fill="none" stroke="#100c0c" stroke-linecap="round" stroke-linejoin="round" transform="translate(0.8 0.9)" opacity="0.8"><path d="M343.17 997.73L343 1000.21L343.06 1003.83L343.52 1007.87L343.45 1012.55L342.89 1015.95L342.79 1020.6L342.07 1024.45L341.82 1028.36L341.72 1031.56L342.47 1035.13L343.45 1038.58L344.8 1041.47L346.38 1044.19L349.41 1048.01L352.42 1050.12" stroke-width="8.6"/><path d="M346.26 1017.77L349.1 1018.34L352.44 1019.81L356.61 1021.36L359.86 1022.1L364.1 1024.22L367.13 1025.69L369.37 1027.01" stroke-width="6.7"/><path d="M341.63 1031.63L339.2 1031.82L335.84 1031.51L332.17 1031.54L327.94 1032.55L324.68 1033.17" stroke-width="5.75"/><path d="M346.26 1043.96L344.48 1045.83L341.51 1048.41L338.24 1050.7L335.73 1053.19L332.67 1055.44L329.8 1057.2L327.6 1059.53L326.54 1062.38L326.26 1065.45L326.32 1068.9L325.84 1072.22L325.45 1074.78" stroke-width="6.7"/><path d="M352.42 1050.12L355.49 1051.67L360.14 1053.5L363.2 1054.75" stroke-width="6.7"/><path d="M349.34 1053.2L350.36 1056.14L350.88 1059.37" stroke-width="5.75"/><path d="M291.56 990.03L294.86 989.62L298.93 988.9L303.18 988.71L306.65 987.26L310.35 986.54L313.77 985.26L317.05 984.81L320.73 984.27L324.92 983.88L328.21 983.64L331.63 983.36L335.55 983.05L339.27 982.31L341.63 982.33" stroke-width="5.75"/><path d="M291.56 1011.6L294.19 1012.01L298.24 1012.7L302.32 1013.24L306.4 1013.13L309.52 1011.07L312.73 1008.06L315.21 1005.14L318.1 1003.14L320.38 1001.46L323.16 999.17L326.07 998L329.58 996.74L332.78 996.27L336.38 996.23L338.55 996.19" stroke-width="5.75"/><path d="M307.73 999.28L308.68 1001.94L309.77 1005.81L310.72 1009.98L311.11 1013.22L311.92 1016.71L311.88 1020.58L312.48 1023.67L312.88 1027.13L313.44 1029.9L313.21 1033.41L313.22 1036.49L311.98 1039.91L310.42 1043.42L308.57 1046.39L307.73 1048.58" stroke-width="3.85"/><path d="M291.56 1053.2L294.1 1054.24L298.16 1055.34L301.64 1056.37L304.74 1055.89L307.43 1054.17L310.67 1053.3L313.73 1052.43L316.93 1051.75L320.56 1051.64L323.14 1051.65L326.71 1054.18L329.31 1056.29" stroke-width="4.8"/><path d="M301.57 1056.29L301.56 1058.38L302.1 1061.87L302.91 1065.23L303.03 1068.59L303.3 1071.96L303.94 1074.93L304.93 1078.1L305.22 1080.58L305.61 1083.68L306.71 1087.29L307.09 1090.02L307.16 1094.57L307.74 1098.36L307.73 1100.97" stroke-width="4.8"/><path d="M291.56 1040.88L294.33 1042.64L297.62 1045.2L300.03 1047.04" stroke-width="3.85"/><path d="M327.77 1023.93L328.97 1020.19L330.92 1016.49L334.82 1014.81L338.55 1014.68" stroke-width="4.8"/><path d="M387.86 1019.31L390.44 1019.62L393.54 1019.62L397.23 1019.58L400.2 1019.08L403.31 1017.07L405.55 1014.37L408.07 1011.77L411.22 1007.92L414.16 1005.55L418.67 1003.9" stroke-width="4.32"/><path d="M390.94 997.73L391.94 999.53L393.13 1002.62L394.28 1006.54L396.2 1009.76L397.39 1013.2L397.89 1017.64L399.16 1022.06L399.41 1025.66L400.18 1028.55" stroke-width="4.8"/><path d="M454.11 993.11L456.7 994.82L460.38 997.54L461.57 1000.48L463.2 1004.3L464.72 1007.08L467.78 1008.4L471.47 1009.71L475.83 1010.32L479.12 1010.06L483.32 1010.45L487.03 1010.14L489.55 1010.06" stroke-width="5.75"/><path d="M458.74 985.41L461.8 984.72L466.23 983.01L469.52 982.33" stroke-width="4.8"/><path d="M321.6 1108.67L320.22 1110.78L318.22 1114.45L315.33 1117.75L312.89 1121.61L310.84 1124.12L307.38 1126.45L304.52 1128.29L301.44 1128.89L297.96 1128.71L294.35 1127.81L291.56 1127.16" stroke-width="3.85"/><path d="M301.57 1128.71L303.89 1129.83L307.18 1131.81L310.62 1133.51L314.22 1135.32L317.6 1136.48L320.06 1137.95" stroke-width="3.85"/><path d="M329.31 1105.59L329.5 1108.59L329.94 1112.37L329.47 1116.58L328.31 1119.67L326.78 1122.49L324.86 1124.32L321.64 1124.42L317.96 1124.61L315.44 1124.08" stroke-width="3.85"/><path d="M324.68 1124.08L326.93 1126.38L329.83 1129.72L332.26 1133.2L333.41 1136.77L334.48 1140.35L335.72 1143.83L337.16 1148.09L338.79 1151.5L340.18 1155.01L341.71 1159L343.17 1161.83" stroke-width="3.85"/><path d="M291.56 1137.95L295.13 1138.38L298.78 1139.51L299.44 1142.1L299.97 1145.83L300.03 1148.74" stroke-width="3.85"/><path d="M303.11 1148.74L305.75 1148.6L309.37 1148.16L312.34 1148.67L314.77 1151.53L315.44 1154.9" stroke-width="3.85"/><path d="M309.28 1148.74L309.43 1151.27L309.65 1154.32L309.73 1157.81L309.88 1161.19L310.41 1164.98L311.13 1167.9L311.59 1170.31" stroke-width="3.85"/><path d="M291.56 1178.01L294.04 1177.11L296.95 1176.47" stroke-width="3.85"/><path d="M320.06 1181.09L321.52 1183.29L323.48 1185.84L324.9 1188.69L324.13 1193L323.14 1195.73" stroke-width="3.85"/><path d="M491.86 1125.62L493.62 1129.1L495.84 1133.06L499.02 1136.93L500.42 1140.21L498.53 1142.4L495.83 1144.75L492.48 1147.3L489.28 1150.14L486.58 1153.2L484.99 1156.38L484.43 1159.95L483.65 1162.59L478.77 1164.14" stroke-width="4.32"/><path d="M483.39 1162.6L488.01 1164.92" stroke-width="3.85"/><path d="M508.04 1150.28L504.99 1152.32L501.88 1154.9" stroke-width="4.32"/><path d="M423.3 1167.23L426.21 1168.32L430.44 1170.13L434.21 1172.02L436.45 1174L438.26 1176.99L440.22 1179.53L441.63 1181.82L443.24 1184.72L444.88 1187.08L446.32 1190.48L448.31 1193.68L449.49 1195.73" stroke-width="5.27"/><path d="M478.77 1173.39L475.8 1176.35L472.34 1179.34L470.02 1182.13L468.23 1185.97L466.9 1189.21L465.93 1193.1L464.9 1195.73" stroke-width="4.8"/><path d="M432.54 1188.8L432.96 1192.48L433.31 1195.73" stroke-width="3.85"/><path d="M323.14 1097.89L327.11 1099.57L330.85 1100.97" stroke-width="3.85"/><path d="M291.56 1107.13L295.41 1106.36" stroke-width="3.85"/><path d="M381.69 993.11L383.49 988.98L384.78 985.41" stroke-width="3.85"/><path d="M437.16 982.33L438.71 986.95" stroke-width="3.85"/></g>
<g fill="none" stroke="#b7a9a8" stroke-linecap="round" stroke-linejoin="round"><path d="M343.17 997.73L343 1000.21L343.06 1003.83L343.52 1007.87L343.45 1012.55L342.89 1015.95L342.79 1020.6L342.07 1024.45L341.82 1028.36L341.72 1031.56L342.47 1035.13L343.45 1038.58L344.8 1041.47L346.38 1044.19L349.41 1048.01L352.42 1050.12" stroke-width="7.6"/><path d="M346.26 1017.77L349.1 1018.34L352.44 1019.81L356.61 1021.36L359.86 1022.1L364.1 1024.22L367.13 1025.69L369.37 1027.01" stroke-width="5.7"/><path d="M341.63 1031.63L339.2 1031.82L335.84 1031.51L332.17 1031.54L327.94 1032.55L324.68 1033.17" stroke-width="4.75"/><path d="M346.26 1043.96L344.48 1045.83L341.51 1048.41L338.24 1050.7L335.73 1053.19L332.67 1055.44L329.8 1057.2L327.6 1059.53L326.54 1062.38L326.26 1065.45L326.32 1068.9L325.84 1072.22L325.45 1074.78" stroke-width="5.7"/><path d="M352.42 1050.12L355.49 1051.67L360.14 1053.5L363.2 1054.75" stroke-width="5.7"/><path d="M349.34 1053.2L350.36 1056.14L350.88 1059.37" stroke-width="4.75"/><path d="M291.56 990.03L294.86 989.62L298.93 988.9L303.18 988.71L306.65 987.26L310.35 986.54L313.77 985.26L317.05 984.81L320.73 984.27L324.92 983.88L328.21 983.64L331.63 983.36L335.55 983.05L339.27 982.31L341.63 982.33" stroke-width="4.75"/><path d="M291.56 1011.6L294.19 1012.01L298.24 1012.7L302.32 1013.24L306.4 1013.13L309.52 1011.07L312.73 1008.06L315.21 1005.14L318.1 1003.14L320.38 1001.46L323.16 999.17L326.07 998L329.58 996.74L332.78 996.27L336.38 996.23L338.55 996.19" stroke-width="4.75"/><path d="M307.73 999.28L308.68 1001.94L309.77 1005.81L310.72 1009.98L311.11 1013.22L311.92 1016.71L311.88 1020.58L312.48 1023.67L312.88 1027.13L313.44 1029.9L313.21 1033.41L313.22 1036.49L311.98 1039.91L310.42 1043.42L308.57 1046.39L307.73 1048.58" stroke-width="2.85"/><path d="M291.56 1053.2L294.1 1054.24L298.16 1055.34L301.64 1056.37L304.74 1055.89L307.43 1054.17L310.67 1053.3L313.73 1052.43L316.93 1051.75L320.56 1051.64L323.14 1051.65L326.71 1054.18L329.31 1056.29" stroke-width="3.8"/><path d="M301.57 1056.29L301.56 1058.38L302.1 1061.87L302.91 1065.23L303.03 1068.59L303.3 1071.96L303.94 1074.93L304.93 1078.1L305.22 1080.58L305.61 1083.68L306.71 1087.29L307.09 1090.02L307.16 1094.57L307.74 1098.36L307.73 1100.97" stroke-width="3.8"/><path d="M291.56 1040.88L294.33 1042.64L297.62 1045.2L300.03 1047.04" stroke-width="2.85"/><path d="M327.77 1023.93L328.97 1020.19L330.92 1016.49L334.82 1014.81L338.55 1014.68" stroke-width="3.8"/><path d="M387.86 1019.31L390.44 1019.62L393.54 1019.62L397.23 1019.58L400.2 1019.08L403.31 1017.07L405.55 1014.37L408.07 1011.77L411.22 1007.92L414.16 1005.55L418.67 1003.9" stroke-width="3.32"/><path d="M390.94 997.73L391.94 999.53L393.13 1002.62L394.28 1006.54L396.2 1009.76L397.39 1013.2L397.89 1017.64L399.16 1022.06L399.41 1025.66L400.18 1028.55" stroke-width="3.8"/><path d="M454.11 993.11L456.7 994.82L460.38 997.54L461.57 1000.48L463.2 1004.3L464.72 1007.08L467.78 1008.4L471.47 1009.71L475.83 1010.32L479.12 1010.06L483.32 1010.45L487.03 1010.14L489.55 1010.06" stroke-width="4.75"/><path d="M458.74 985.41L461.8 984.72L466.23 983.01L469.52 982.33" stroke-width="3.8"/><path d="M321.6 1108.67L320.22 1110.78L318.22 1114.45L315.33 1117.75L312.89 1121.61L310.84 1124.12L307.38 1126.45L304.52 1128.29L301.44 1128.89L297.96 1128.71L294.35 1127.81L291.56 1127.16" stroke-width="2.85"/><path d="M301.57 1128.71L303.89 1129.83L307.18 1131.81L310.62 1133.51L314.22 1135.32L317.6 1136.48L320.06 1137.95" stroke-width="2.85"/><path d="M329.31 1105.59L329.5 1108.59L329.94 1112.37L329.47 1116.58L328.31 1119.67L326.78 1122.49L324.86 1124.32L321.64 1124.42L317.96 1124.61L315.44 1124.08" stroke-width="2.85"/><path d="M324.68 1124.08L326.93 1126.38L329.83 1129.72L332.26 1133.2L333.41 1136.77L334.48 1140.35L335.72 1143.83L337.16 1148.09L338.79 1151.5L340.18 1155.01L341.71 1159L343.17 1161.83" stroke-width="2.85"/><path d="M291.56 1137.95L295.13 1138.38L298.78 1139.51L299.44 1142.1L299.97 1145.83L300.03 1148.74" stroke-width="2.85"/><path d="M303.11 1148.74L305.75 1148.6L309.37 1148.16L312.34 1148.67L314.77 1151.53L315.44 1154.9" stroke-width="2.85"/><path d="M309.28 1148.74L309.43 1151.27L309.65 1154.32L309.73 1157.81L309.88 1161.19L310.41 1164.98L311.13 1167.9L311.59 1170.31" stroke-width="2.85"/><path d="M291.56 1178.01L294.04 1177.11L296.95 1176.47" stroke-width="2.85"/><path d="M320.06 1181.09L321.52 1183.29L323.48 1185.84L324.9 1188.69L324.13 1193L323.14 1195.73" stroke-width="2.85"/><path d="M491.86 1125.62L493.62 1129.1L495.84 1133.06L499.02 1136.93L500.42 1140.21L498.53 1142.4L495.83 1144.75L492.48 1147.3L489.28 1150.14L486.58 1153.2L484.99 1156.38L484.43 1159.95L483.65 1162.59L478.77 1164.14" stroke-width="3.32"/><path d="M483.39 1162.6L488.01 1164.92" stroke-width="2.85"/><path d="M508.04 1150.28L504.99 1152.32L501.88 1154.9" stroke-width="3.32"/><path d="M423.3 1167.23L426.21 1168.32L430.44 1170.13L434.21 1172.02L436.45 1174L438.26 1176.99L440.22 1179.53L441.63 1181.82L443.24 1184.72L444.88 1187.08L446.32 1190.48L448.31 1193.68L449.49 1195.73" stroke-width="4.27"/><path d="M478.77 1173.39L475.8 1176.35L472.34 1179.34L470.02 1182.13L468.23 1185.97L466.9 1189.21L465.93 1193.1L464.9 1195.73" stroke-width="3.8"/><path d="M432.54 1188.8L432.96 1192.48L433.31 1195.73" stroke-width="2.85"/><path d="M323.14 1097.89L327.11 1099.57L330.85 1100.97" stroke-width="2.85"/><path d="M291.56 1107.13L295.41 1106.36" stroke-width="2.85"/><path d="M381.69 993.11L383.49 988.98L384.78 985.41" stroke-width="2.85"/><path d="M437.16 982.33L438.71 986.95" stroke-width="2.85"/></g>
<circle cx="343.17" cy="1008.52" r="3.39" fill="#aa9c9b"/>
<circle cx="326.22" cy="1059.37" r="3.08" fill="#aa9c9b"/>
<circle cx="324.68" cy="1032.4" r="2.16" fill="#aa9c9b"/>
<circle cx="360.12" cy="1053.98" r="2.47" fill="#aa9c9b"/>
<circle cx="350.88" cy="1058.6" r="1.85" fill="#aa9c9b"/>
<circle cx="324.68" cy="1100.97" r="2.16" fill="#aa9c9b"/>
<g fill="none" stroke="#b9b108" stroke-linecap="round" stroke-linejoin="round"><path d="M410.97 1082.48L408.57 1082.16L404.45 1081.9L399.99 1080.64L396.15 1079.48L391.71 1078.47L388.12 1076.05L384.14 1073.84L381.58 1071.08L378.42 1068.34L375.98 1065.72L374 1062.56L372.61 1059.52L370.85 1056.09L369.68 1052.46L368.42 1048.49L367.77 1045.13L367.17 1041.03L366.88 1037.64L368.4 1034.91L371.18 1031.91L373.48 1027.16L375.53 1023.16" stroke-width="3.53"/><path d="M367.77 1045.13L366.54 1042.65L365.25 1040.19" stroke-width="2.78"/><circle cx="375.53" cy="1023.16" r="0.96" stroke-width="2.17"/><path d="M368.6 1045.5L371.57 1045.16L375.64 1044.18L378.91 1042.44L381.69 1040.88" stroke-width="3.53"/><circle cx="381.69" cy="1040.88" r="0.96" stroke-width="2.17"/><path d="M368.6 1048.58L365.13 1049.3L359.84 1049.27L356.27 1048.18L352.5 1046.96L348.13 1046.85L343.1 1047.1L338.75 1047.69L334.46 1048.67L332.39 1050.12" stroke-width="3.14"/><circle cx="332.39" cy="1050.12" r="0.82" stroke-width="1.97"/><path d="M378.61 1070.15L375.12 1071.33L370.93 1073.16L366 1074.9L361.24 1074.89L356.75 1074.53L353.29 1075.33L350.13 1076.27L345.97 1077.06L342.07 1076.64L337.7 1076.31L334 1076.46L330.57 1077.46L327.48 1078.96L324.43 1081.04L321.73 1084.74L319.38 1088.56L318.06 1093.3L317.21 1098.08L316.28 1101.62L315.44 1104.05" stroke-width="3.92"/><path d="M317.21 1098.08L315.54 1099.8L313.36 1100.81" stroke-width="3.1"/><path d="M321.73 1084.74L318.54 1084.84L315.35 1085.1" stroke-width="3.1"/><circle cx="315.44" cy="1104.05" r="1.09" stroke-width="2.36"/><path d="M378.61 1071.69L376.95 1074.32L374.71 1077.39L372.19 1080.93L369.1 1084.32L366.87 1086.38L363.76 1089.17L360.8 1090.98L358.71 1093.37L356.05 1096.48L353.99 1099.51L351.62 1102.01L349.52 1105.63L347.48 1108.94L346.7 1112.46L345.77 1116.41L345.49 1118.69" stroke-width="3.92"/><path d="M366.87 1086.38L364.17 1086.05L361.6 1085.19" stroke-width="3.1"/><circle cx="345.49" cy="1118.69" r="1.09" stroke-width="2.36"/><path d="M353.96 1099.43L349.97 1100.35L344.87 1101.31L340.21 1099.64L336.24 1098.66" stroke-width="3.92"/><circle cx="336.24" cy="1098.66" r="1.09" stroke-width="2.36"/><path d="M386.32 1076.32L391.02 1073.37L394.79 1070.15" stroke-width="3.53"/><circle cx="394.79" cy="1070.15" r="0.96" stroke-width="2.17"/><path d="M384.78 1077.86L384.22 1081.2L382.91 1085.65L381.54 1089.85L381.08 1094.34L380.47 1097.96L378.78 1102.12L377.84 1105.59" stroke-width="3.53"/><circle cx="377.84" cy="1105.59" r="0.96" stroke-width="2.17"/><path d="M400.18 1082.48L396.22 1084.81L392.59 1088.51L391.39 1092.79L390.78 1096.31L387.86 1100.2" stroke-width="3.92"/><circle cx="387.86" cy="1100.2" r="1.09" stroke-width="2.36"/><path d="M410.97 1080.94L411.33 1078.2L411.83 1073.96L412.24 1070.27L411.94 1065.86L411.73 1061.02L412.27 1057.65L413.25 1053.87L413.72 1049.87L415.14 1046.41L416.3 1042.91L417.36 1039.51L418.88 1036.17L420.47 1032.89L421.59 1029.82L423.8 1026.52L426.49 1022.84L428.55 1020.92L432.57 1019.98L435.38 1020.62L439.93 1022.35L443.74 1023.35L446.53 1023.72L448.58 1021.84L449.29 1017.62L450.26 1014.17L451.03 1010.83" stroke-width="3.92"/><path d="M435.38 1020.62L436.6 1022.36L437.95 1024.01" stroke-width="3.1"/><path d="M417.36 1039.51L415.86 1036.7L415.23 1033.58" stroke-width="3.1"/><circle cx="451.03" cy="1010.83" r="1.09" stroke-width="2.36"/><path d="M426.38 1023.16L424.14 1019.53L421.76 1016.22" stroke-width="3.92"/><circle cx="421.76" cy="1016.22" r="1.09" stroke-width="2.36"/><path d="M414.05 1053.2L410.15 1053.25L404.96 1052.25L400.69 1049.94L398.71 1047.2L401.73 1042.42" stroke-width="3.53"/><circle cx="401.73" cy="1042.42" r="0.96" stroke-width="2.17"/><path d="M412.51 1059.37L415.77 1058.45L420.01 1057.59L424.71 1056.88L428.93 1056.32L433.31 1056.11L436.39 1055.52" stroke-width="4.31"/><path d="M428.93 1056.32L430.69 1055.13L432.7 1054.46" stroke-width="3.41"/><circle cx="436.39" cy="1055.52" r="1.23" stroke-width="2.56"/><path d="M410.97 1084.02L413.7 1084.93L417.53 1085.8L422.22 1086.67L426.45 1087.19L431.59 1086.62L436.05 1086.35L440.3 1085.53L444.4 1084.72L447.94 1083.8L451.39 1082.58L455.4 1081.03L458.87 1079.13L463.07 1076.82L466.77 1073.37L467.73 1070.59L469.4 1067.19L469.96 1064.01L471.18 1059.15L472.67 1054.94L475.69 1051.66" stroke-width="4.7"/><path d="M413.7 1084.93L415 1088.09L414.85 1091.5" stroke-width="3.72"/><path d="M469.4 1067.19L466.73 1066.37L464 1066.9" stroke-width="3.72"/><circle cx="475.69" cy="1051.66" r="1.36" stroke-width="2.75"/><path d="M472.6 1057.83L473.55 1062.38L474.14 1067.07" stroke-width="3.14"/><circle cx="474.14" cy="1067.07" r="0.82" stroke-width="1.97"/><path d="M444.87 1085.56L447.46 1087.8L451 1089.87L454.35 1090.75L457.2 1090.96" stroke-width="3.14"/><circle cx="457.2" cy="1090.96" r="0.82" stroke-width="1.97"/><path d="M418.67 1088.64L419.32 1092.45L419.58 1098.03L418.69 1102.7L417.27 1107.26L416.83 1111.81L415.28 1116.64L413.79 1120.3L411.03 1124.37L407.88 1127.88L403.15 1130.32L399.46 1131.22L394.91 1131.37L391.17 1131.94L387.29 1133.63L384.83 1135.64L381.96 1138.09L377.59 1141.21L373.9 1144.42L372.74 1148.96L374.75 1151.77L377.32 1155.21L377.62 1158.34L377.14 1162.52L375.26 1165.15L372.38 1167.42L369.2 1170.08L366.33 1173.95L362.87 1178.04L361.33 1181.49L360.12 1184.18" stroke-width="4.31"/><path d="M416.83 1111.81L413.94 1110.5L411.23 1108.86" stroke-width="3.41"/><path d="M419.58 1098.03L421.06 1101.16L423.52 1103.6" stroke-width="3.41"/><circle cx="360.12" cy="1184.18" r="1.23" stroke-width="2.56"/><path d="M410.97 1124.08L409.08 1121.55L406.31 1117.68L404.81 1114.07" stroke-width="3.92"/><circle cx="404.81" cy="1114.07" r="1.09" stroke-width="2.36"/><path d="M420.22 1102.51L421.89 1104.64L424.01 1108.55L426.22 1111.75L428.73 1115.37L431.24 1118.46L434.29 1120.95L438.98 1122.58L443.33 1122.54" stroke-width="3.53"/><path d="M434.29 1120.95L435.33 1124.06L436.73 1127.01" stroke-width="2.78"/><circle cx="443.33" cy="1122.54" r="0.96" stroke-width="2.17"/><path d="M419.45 1105.59L421.59 1109.6L423.3 1114.07" stroke-width="3.14"/><path d="M421.59 1109.6L418.93 1111.61L415.66 1112.26" stroke-width="2.47"/><circle cx="423.3" cy="1114.07" r="0.82" stroke-width="1.97"/><path d="M377.07 1156.44L381.01 1157.38L384.68 1158.84L382.89 1160.52L380.15 1162.6" stroke-width="3.14"/><circle cx="380.15" cy="1162.6" r="0.82" stroke-width="1.97"/><path d="M372.45 1168.77L375.79 1173.29L380.24 1175.13L384.79 1175.2L384.09 1171.56L381.69 1168" stroke-width="3.14"/><path d="M380.24 1175.13L381.69 1172.19L382.22 1168.95" stroke-width="2.47"/><circle cx="381.69" cy="1168" r="0.82" stroke-width="1.97"/><path d="M363.2 1178.01L359.42 1178.26L355.5 1178.78" stroke-width="3.14"/><path d="M359.42 1178.26L358.54 1180.59L357.17 1182.67" stroke-width="2.47"/><circle cx="355.5" cy="1178.78" r="0.82" stroke-width="1.97"/></g>
<g fill="none" stroke="#fbf41c" stroke-linecap="round" stroke-linejoin="round"><path d="M410.97 1082.48L408.57 1082.16L404.45 1081.9L399.99 1080.64L396.15 1079.48L391.71 1078.47L388.12 1076.05L384.14 1073.84L381.58 1071.08L378.42 1068.34L375.98 1065.72L374 1062.56L372.61 1059.52L370.85 1056.09L369.68 1052.46L368.42 1048.49L367.77 1045.13L367.17 1041.03L366.88 1037.64L368.4 1034.91L371.18 1031.91L373.48 1027.16L375.53 1023.16" stroke-width="2.33"/><path d="M367.77 1045.13L366.54 1042.65L365.25 1040.19" stroke-width="1.78"/><circle cx="375.53" cy="1023.16" r="0.96" stroke-width="1.36"/><path d="M368.6 1045.5L371.57 1045.16L375.64 1044.18L378.91 1042.44L381.69 1040.88" stroke-width="2.33"/><circle cx="381.69" cy="1040.88" r="0.96" stroke-width="1.36"/><path d="M368.6 1048.58L365.13 1049.3L359.84 1049.27L356.27 1048.18L352.5 1046.96L348.13 1046.85L343.1 1047.1L338.75 1047.69L334.46 1048.67L332.39 1050.12" stroke-width="1.94"/><circle cx="332.39" cy="1050.12" r="0.82" stroke-width="1.17"/><path d="M378.61 1070.15L375.12 1071.33L370.93 1073.16L366 1074.9L361.24 1074.89L356.75 1074.53L353.29 1075.33L350.13 1076.27L345.97 1077.06L342.07 1076.64L337.7 1076.31L334 1076.46L330.57 1077.46L327.48 1078.96L324.43 1081.04L321.73 1084.74L319.38 1088.56L318.06 1093.3L317.21 1098.08L316.28 1101.62L315.44 1104.05" stroke-width="2.72"/><path d="M317.21 1098.08L315.54 1099.8L313.36 1100.81" stroke-width="2.1"/><path d="M321.73 1084.74L318.54 1084.84L315.35 1085.1" stroke-width="2.1"/><circle cx="315.44" cy="1104.05" r="1.09" stroke-width="1.56"/><path d="M378.61 1071.69L376.95 1074.32L374.71 1077.39L372.19 1080.93L369.1 1084.32L366.87 1086.38L363.76 1089.17L360.8 1090.98L358.71 1093.37L356.05 1096.48L353.99 1099.51L351.62 1102.01L349.52 1105.63L347.48 1108.94L346.7 1112.46L345.77 1116.41L345.49 1118.69" stroke-width="2.72"/><path d="M366.87 1086.38L364.17 1086.05L361.6 1085.19" stroke-width="2.1"/><circle cx="345.49" cy="1118.69" r="1.09" stroke-width="1.56"/><path d="M353.96 1099.43L349.97 1100.35L344.87 1101.31L340.21 1099.64L336.24 1098.66" stroke-width="2.72"/><circle cx="336.24" cy="1098.66" r="1.09" stroke-width="1.56"/><path d="M386.32 1076.32L391.02 1073.37L394.79 1070.15" stroke-width="2.33"/><circle cx="394.79" cy="1070.15" r="0.96" stroke-width="1.36"/><path d="M384.78 1077.86L384.22 1081.2L382.91 1085.65L381.54 1089.85L381.08 1094.34L380.47 1097.96L378.78 1102.12L377.84 1105.59" stroke-width="2.33"/><circle cx="377.84" cy="1105.59" r="0.96" stroke-width="1.36"/><path d="M400.18 1082.48L396.22 1084.81L392.59 1088.51L391.39 1092.79L390.78 1096.31L387.86 1100.2" stroke-width="2.72"/><circle cx="387.86" cy="1100.2" r="1.09" stroke-width="1.56"/><path d="M410.97 1080.94L411.33 1078.2L411.83 1073.96L412.24 1070.27L411.94 1065.86L411.73 1061.02L412.27 1057.65L413.25 1053.87L413.72 1049.87L415.14 1046.41L416.3 1042.91L417.36 1039.51L418.88 1036.17L420.47 1032.89L421.59 1029.82L423.8 1026.52L426.49 1022.84L428.55 1020.92L432.57 1019.98L435.38 1020.62L439.93 1022.35L443.74 1023.35L446.53 1023.72L448.58 1021.84L449.29 1017.62L450.26 1014.17L451.03 1010.83" stroke-width="2.72"/><path d="M435.38 1020.62L436.6 1022.36L437.95 1024.01" stroke-width="2.1"/><path d="M417.36 1039.51L415.86 1036.7L415.23 1033.58" stroke-width="2.1"/><circle cx="451.03" cy="1010.83" r="1.09" stroke-width="1.56"/><path d="M426.38 1023.16L424.14 1019.53L421.76 1016.22" stroke-width="2.72"/><circle cx="421.76" cy="1016.22" r="1.09" stroke-width="1.56"/><path d="M414.05 1053.2L410.15 1053.25L404.96 1052.25L400.69 1049.94L398.71 1047.2L401.73 1042.42" stroke-width="2.33"/><circle cx="401.73" cy="1042.42" r="0.96" stroke-width="1.36"/><path d="M412.51 1059.37L415.77 1058.45L420.01 1057.59L424.71 1056.88L428.93 1056.32L433.31 1056.11L436.39 1055.52" stroke-width="3.11"/><path d="M428.93 1056.32L430.69 1055.13L432.7 1054.46" stroke-width="2.41"/><circle cx="436.39" cy="1055.52" r="1.23" stroke-width="1.76"/><path d="M410.97 1084.02L413.7 1084.93L417.53 1085.8L422.22 1086.67L426.45 1087.19L431.59 1086.62L436.05 1086.35L440.3 1085.53L444.4 1084.72L447.94 1083.8L451.39 1082.58L455.4 1081.03L458.87 1079.13L463.07 1076.82L466.77 1073.37L467.73 1070.59L469.4 1067.19L469.96 1064.01L471.18 1059.15L472.67 1054.94L475.69 1051.66" stroke-width="3.5"/><path d="M413.7 1084.93L415 1088.09L414.85 1091.5" stroke-width="2.72"/><path d="M469.4 1067.19L466.73 1066.37L464 1066.9" stroke-width="2.72"/><circle cx="475.69" cy="1051.66" r="1.36" stroke-width="1.95"/><path d="M472.6 1057.83L473.55 1062.38L474.14 1067.07" stroke-width="1.94"/><circle cx="474.14" cy="1067.07" r="0.82" stroke-width="1.17"/><path d="M444.87 1085.56L447.46 1087.8L451 1089.87L454.35 1090.75L457.2 1090.96" stroke-width="1.94"/><circle cx="457.2" cy="1090.96" r="0.82" stroke-width="1.17"/><path d="M418.67 1088.64L419.32 1092.45L419.58 1098.03L418.69 1102.7L417.27 1107.26L416.83 1111.81L415.28 1116.64L413.79 1120.3L411.03 1124.37L407.88 1127.88L403.15 1130.32L399.46 1131.22L394.91 1131.37L391.17 1131.94L387.29 1133.63L384.83 1135.64L381.96 1138.09L377.59 1141.21L373.9 1144.42L372.74 1148.96L374.75 1151.77L377.32 1155.21L377.62 1158.34L377.14 1162.52L375.26 1165.15L372.38 1167.42L369.2 1170.08L366.33 1173.95L362.87 1178.04L361.33 1181.49L360.12 1184.18" stroke-width="3.11"/><path d="M416.83 1111.81L413.94 1110.5L411.23 1108.86" stroke-width="2.41"/><path d="M419.58 1098.03L421.06 1101.16L423.52 1103.6" stroke-width="2.41"/><circle cx="360.12" cy="1184.18" r="1.23" stroke-width="1.76"/><path d="M410.97 1124.08L409.08 1121.55L406.31 1117.68L404.81 1114.07" stroke-width="2.72"/><circle cx="404.81" cy="1114.07" r="1.09" stroke-width="1.56"/><path d="M420.22 1102.51L421.89 1104.64L424.01 1108.55L426.22 1111.75L428.73 1115.37L431.24 1118.46L434.29 1120.95L438.98 1122.58L443.33 1122.54" stroke-width="2.33"/><path d="M434.29 1120.95L435.33 1124.06L436.73 1127.01" stroke-width="1.78"/><circle cx="443.33" cy="1122.54" r="0.96" stroke-width="1.36"/><path d="M419.45 1105.59L421.59 1109.6L423.3 1114.07" stroke-width="1.94"/><path d="M421.59 1109.6L418.93 1111.61L415.66 1112.26" stroke-width="1.47"/><circle cx="423.3" cy="1114.07" r="0.82" stroke-width="1.17"/><path d="M377.07 1156.44L381.01 1157.38L384.68 1158.84L382.89 1160.52L380.15 1162.6" stroke-width="1.94"/><circle cx="380.15" cy="1162.6" r="0.82" stroke-width="1.17"/><path d="M372.45 1168.77L375.79 1173.29L380.24 1175.13L384.79 1175.2L384.09 1171.56L381.69 1168" stroke-width="1.94"/><path d="M380.24 1175.13L381.69 1172.19L382.22 1168.95" stroke-width="1.47"/><circle cx="381.69" cy="1168" r="0.82" stroke-width="1.17"/><path d="M363.2 1178.01L359.42 1178.26L355.5 1178.78" stroke-width="1.94"/><path d="M359.42 1178.26L358.54 1180.59L357.17 1182.67" stroke-width="1.47"/><circle cx="355.5" cy="1178.78" r="0.82" stroke-width="1.17"/><ellipse cx="412.51" cy="1083.25" rx="4.31" ry="3.39" fill="#f6ef12" stroke="none"/></g>
<text x="391" y="999.8" font-size="18.9" text-anchor="middle" fill="#fff" >Ablated + TBI</text>
<rect x="464.4" y="1183.4" width="34.4" height="4.4" fill="#fff" stroke="none" stroke-width="0" />
<text x="481.7" y="1175.7" font-size="12.3" text-anchor="middle" fill="#fff" >10 µm</text>
</g>
</svg>
</body></html>
